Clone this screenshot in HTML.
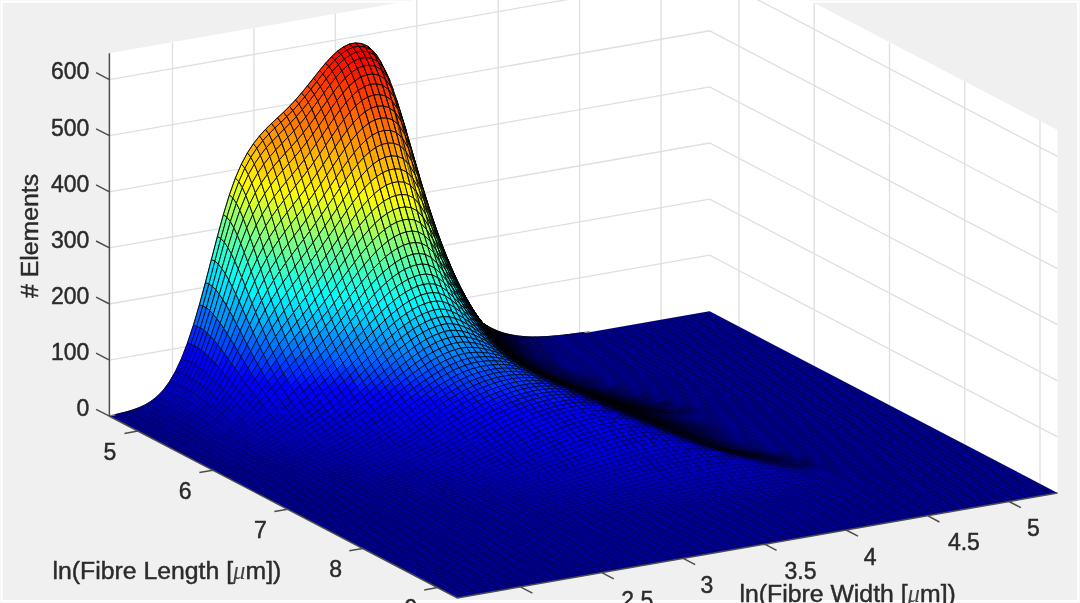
<!DOCTYPE html>
<html><head><meta charset="utf-8"><title>Fibre distribution</title>
<style>html,body{margin:0;padding:0;background:#f0f0f0}svg{display:block}</style></head>
<body>
<svg width="1080" height="603" viewBox="0 0 1080 603">
<rect width="1080" height="603" fill="#f6f6f6"/>
<rect x="0.8" y="0.8" width="1078.4" height="601.4" fill="#fff"/>
<rect x="2.7" y="2.7" width="1074.2" height="597.4" fill="#f0f0f0"/>
<polygon points="109.4,416.2 709.6,311.3 1057.5,493.0 1057.5,130.0 709.6,-51.7 109.4,53.2" fill="#fff"/>
<polygon points="109.4,416.2 709.6,311.3 1057.5,493.0 457.3,597.9" fill="#fff"/>
<path d="M109.4 360.1 L709.6 255.2 L1057.5 436.9 M109.4 304.0 L709.6 199.1 L1057.5 380.8 M109.4 247.9 L709.6 143.0 L1057.5 324.7 M109.4 191.8 L709.6 86.9 L1057.5 268.6 M109.4 135.7 L709.6 30.8 L1057.5 212.5 M109.4 79.6 L709.6 -25.3 L1057.5 156.4 M172.5 405.2 L172.5 42.2 M253.9 390.9 L253.9 28.0 M335.3 376.7 L335.3 13.7 M416.8 362.5 L416.8 -0.5 M498.2 348.3 L498.2 -14.7 M579.6 334.0 L579.6 -28.9 M661.0 319.8 L661.0 -43.2 M739.0 326.7 L739.0 -36.3 M814.2 366.0 L814.2 3.0 M889.5 405.3 L889.5 42.3 M964.8 444.6 L964.8 81.6 M1040.0 483.9 L1040.0 120.9" fill="none" stroke="#dfdfdf" stroke-width="1.3"/>
<defs><pattern id="fl" patternUnits="userSpaceOnUse" width="1" height="1" patternTransform="matrix(6.0020 -1.0490 3.4790 1.8170 109.40 416.20)"><rect width="1" height="1" fill="#000099"/><g fill="#000" fill-opacity="0.31"><rect x="0" y="0" width="1" height="0.1884"/><rect x="0" y="0.8116" width="1" height="0.1884"/><rect x="0" y="0" width="0.1213" height="1"/><rect x="0.8787" y="0" width="0.1213" height="1"/></g></pattern></defs>
<polygon points="109.4,416.2 709.6,311.3 1057.5,493.0 457.3,597.9" fill="url(#fl)" stroke="#000" stroke-opacity="0.17" stroke-width="0.5"/>
<g transform="scale(0.1)" stroke="#000" stroke-width="9" stroke-linejoin="round">
<path fill="#009" stroke="#00006b" d="M1154 4145l60-14 35 18-60 13zm60-14l60-15 35 17-60 16zm60-15l60-19 35 17-60 19zm60-19l60-22 35 16-60 23zm4262-742l60-7 34 19-60 7zm60-7l60-7 34 19-60 7zm60-7l60-8 34 19-60 8zm60-8l60-8 34 18-60 9z"/>
<path fill="#00009e" stroke="#00006e" d="M1394 4075l60-28 35 15-60 29zm4141-715l61-5 34 19-60 5z"/>
<path fill="#0000a3" stroke="#000072" d="M1454 4047l60-37 35 15-60 37z"/>
<path fill="#0000a8" stroke="#000076" d="M1514 4010l60-48 35 14-60 49z"/>
<path fill="#0000ae" stroke="#000079" d="M1574 3962l60-62 35 13-60 63z"/>
<path fill="#0000b8" stroke="#000081" d="M1634 3900l60-82 35 13-60 82z"/>
<path fill="#0000c8" stroke="#000071" d="M1694 3818l60-103 35 12-60 104z"/>
<path fill="#00d" stroke="#000062" d="M1754 3715l60-128 35 11-60 129z"/>
<path fill="#0000f7" stroke="#00006d" d="M1814 3587l60-155 35 11-60 155z"/>
<path fill="#0028ff" stroke="#00093b" d="M1874 3432l60-181 35 11-60 181z"/>
<path fill="#0068ff" stroke="#000f25" d="M1934 3251l60-204 35 12-60 203z"/>
<path fill="#00a7ff" stroke="#000406" d="M1994 3047l60-222 35 15-60 219z"/>
<path fill="#00e7ff" stroke="#000606" d="M2054 2825l60-231 35 18-60 228z"/>
<path fill="#28ffd7" stroke="#010605" d="M2114 2594l60-230 35 21-60 227z"/>
<path fill="#68ff97" stroke="#030604" d="M2174 2364l60-219 35 26-60 214z"/>
<path fill="#a7ff58" stroke="#040602" d="M2234 2145l60-197 35 32-60 191z"/>
<path fill="#e7ff18" stroke="#060601" d="M2294 1948l60-168 35 36-60 164z"/>
<path fill="#fff700" stroke="#060600" d="M2354 1780l60-139 35 41-60 134z"/>
<path fill="#ffd700" stroke="#060500" d="M2414 1641l60-112 35 44-60 109z"/>
<path fill="#ffb700" stroke="#060500" d="M2474 1529l60-92 35 45-60 91z"/>
<path fill="#ffa700" stroke="#060400" d="M2534 1437l61-78 34 47-60 76z"/>
<path fill="#ff9700" stroke="#060400" d="M2595 1359l60-66 34 47-60 66z"/>
<path fill="#ff8700" stroke="#060300" d="M2655 1293l60-59 34 46-60 60z"/>
<path fill="#ff7800" stroke="#060300" d="M2715 1234l60-56 34 45-60 57zm60-56l60-56 34 44-60 57z"/>
<path fill="#ff6800" stroke="#060300" d="M2835 1122l60-59 34 42-60 61zm60-59l60-64 34 40-60 66z"/>
<path fill="#ff5800" stroke="#060200" d="M2955 999l60-69 34 38-60 71z"/>
<path fill="#ff4800" stroke="#060200" d="M3015 930l60-73 34 36-60 75z"/>
<path fill="#ff3800" stroke="#060100" d="M3075 857l60-76 34 35-60 77z"/>
<path fill="#ff2800" stroke="#060100" d="M3135 781l60-76 34 34-60 77zm60-76l60-73 35 33-61 74z"/>
<path fill="#ff1800" stroke="#060100" d="M3255 632l60-65 35 32-60 66z"/>
<path fill="#ff0800" stroke="#060000" d="M3315 567l60-56 35 32-60 56z"/>
<path fill="#f70000" stroke="#060000" d="M3375 511l60-43 35 33-60 42zm60-43l60-28 35 33-60 28zm60-28l60-11 35 34-60 10zm60-11l60 6 35 35-60-7z"/>
<path fill="#e90000" stroke="#060000" d="M3615 435l60 25 35 36-60-26z"/>
<path fill="#5a0000" stroke="#000" d="M3675 460l60 53 35 40-60-57z"/>
<path fill="#00002f" stroke="#000" d="M4815 3222l60 39 35 23-60-38z"/>
<path fill="#00003f" stroke="#000005" d="M4875 3261l60 31 35 23-60-31z"/>
<path fill="#000051" stroke="#00000c" d="M4935 3292l60 25 35 21-60-23z"/>
<path fill="#00005f" stroke="#000016" d="M4995 3317l60 19 35 21-60-19z"/>
<path fill="#00006c" stroke="#000019" d="M5055 3336l60 13 35 21-60-13z"/>
<path fill="#007" stroke="#000027" d="M5115 3349l60 10 35 20-60-9z"/>
<path fill="#00007f" stroke="#000038" d="M5175 3359l60 6 35 20-60-6z"/>
<path fill="#000085" stroke="#00003b" d="M5235 3365l60 4 35 19-60-3z"/>
<path fill="#00008e" stroke="#000050" d="M5295 3369l60 0 35 20-60-1z"/>
<path fill="#000090" stroke="#000065" d="M5355 3369l60-1 35 19-60 2z"/>
<path fill="#000096" stroke="#000069" d="M5415 3368l60-3 35 19-60 3z"/>
<path fill="#00009b" stroke="#00006c" d="M5475 3365l60-5 35 19-60 5z"/>
<path fill="#009" stroke="#00006b" d="M1189 4162l60-13 35 17-60 14zm60-13l60-16 35 17-60 16zm60-16l60-19 35 17-60 19zm60-19l60-23 35 16-60 24zm4081-727l60-3 35 19-60 3zm180-13l60-7 35 19-60 6zm60-7l60-7 35 18-60 8zm60-7l60-8 35 18-60 8zm60-8l60-9 35 19-60 8z"/>
<path fill="#00009e" stroke="#00006e" d="M1429 4091l60-29 35 16-60 29zm4081-707l60-5 35 19-60 5zm60-5l60-5 35 18-60 6z"/>
<path fill="#0000a3" stroke="#000072" d="M1489 4062l60-37 35 15-60 38z"/>
<path fill="#0000a8" stroke="#000076" d="M1549 4025l60-49 35 14-60 50z"/>
<path fill="#0000ae" stroke="#000079" d="M1609 3976l60-63 35 13-60 64z"/>
<path fill="#0000bd" stroke="#000085" d="M1669 3913l60-82 35 12-60 83z"/>
<path fill="#0000c8" stroke="#000071" d="M1729 3831l60-104 35 12-60 104z"/>
<path fill="#00d" stroke="#000062" d="M1789 3727l60-129 35 12-60 129z"/>
<path fill="#0000f7" stroke="#00006d" d="M1849 3598l60-155 35 13-60 154z"/>
<path fill="#0028ff" stroke="#00093b" d="M1909 3443l60-181 35 16-60 178z"/>
<path fill="#0068ff" stroke="#000f25" d="M1969 3262l60-203 35 19-60 200z"/>
<path fill="#00a7ff" stroke="#000406" d="M2029 3059l60-219 35 23-60 215z"/>
<path fill="#00e7ff" stroke="#000606" d="M2089 2840l60-228 35 29-60 222z"/>
<path fill="#28ffd7" stroke="#010605" d="M2149 2612l60-227 35 37-60 219z"/>
<path fill="#68ff97" stroke="#030604" d="M2209 2385l60-214 35 45-60 206z"/>
<path fill="#a7ff58" stroke="#040602" d="M2269 2171l60-191 35 52-60 184z"/>
<path fill="#d7ff28" stroke="#050601" d="M2329 1980l60-164 35 60-60 156z"/>
<path fill="#fff700" stroke="#060600" d="M2389 1816l60-134 35 65-60 129z"/>
<path fill="#ffd700" stroke="#060500" d="M2449 1682l60-109 35 68-60 106z"/>
<path fill="#ffc700" stroke="#060500" d="M2509 1573l60-91 35 71-60 88z"/>
<path fill="#ffa700" stroke="#060400" d="M2569 1482l60-76 35 71-60 76z"/>
<path fill="#ff9700" stroke="#060400" d="M2629 1406l60-66 35 71-60 66zm60-66l60-60 35 70-60 61z"/>
<path fill="#ff8700" stroke="#060300" d="M2749 1280l60-57 35 67-60 60z"/>
<path fill="#ff7800" stroke="#060300" d="M2809 1223l60-57 35 64-60 60zm60-57l60-61 35 61-60 64z"/>
<path fill="#ff6800" stroke="#060300" d="M2929 1105l60-66 35 58-60 69z"/>
<path fill="#ff5800" stroke="#060200" d="M2989 1039l60-71 35 55-60 74z"/>
<path fill="#ff4800" stroke="#060200" d="M3049 968l60-75 35 53-60 77zm60-75l60-77 35 50-60 80z"/>
<path fill="#ff3800" stroke="#060100" d="M3169 816l60-77 35 49-60 78z"/>
<path fill="#ff2800" stroke="#060100" d="M3229 739l61-74 34 48-60 75z"/>
<path fill="#ff1800" stroke="#060100" d="M3290 665l60-66 34 48-60 66z"/>
<path fill="#ff0800" stroke="#060000" d="M3350 599l60-56 34 48-60 56zm60-56l60-42 34 48-60 42z"/>
<path fill="#f70000" stroke="#060000" d="M3470 501l60-28 34 49-60 27zm60-28l60-10 34 49-60 10zm60-10l60 7 34 50-60-8zm60 7l60 26 34 53-60-29z"/>
<path fill="#f80800" stroke="#060000" d="M3710 496l60 57 34 58-60-62z"/>
<path fill="#00002e" stroke="#000" d="M4790 3200l60 46 35 27-60-45z"/>
<path fill="#00003e" stroke="#000002" d="M4850 3246l60 38 35 25-60-36z"/>
<path fill="#00004f" stroke="#000006" d="M4910 3284l60 31 35 24-60-30z"/>
<path fill="#00005d" stroke="#00000e" d="M4970 3315l60 23 35 24-60-23z"/>
<path fill="#00006b" stroke="#000019" d="M5030 3338l60 19 35 22-60-17z"/>
<path fill="#007" stroke="#000027" d="M5090 3357l60 13 35 22-60-13z"/>
<path fill="#000080" stroke="#000038" d="M5150 3370l60 9 35 21-60-8z"/>
<path fill="#000087" stroke="#00003b" d="M5210 3379l60 6 35 21-60-6z"/>
<path fill="#00008b" stroke="#00004f" d="M5270 3385l60 3 35 20-60-2z"/>
<path fill="#000093" stroke="#000053" d="M5330 3388l60 1 35 19-60 0z"/>
<path fill="#000094" stroke="#000068" d="M5390 3389l60-2 35 19-60 2z"/>
<path fill="#009" stroke="#00006b" d="M1224 4180l60-14 34 17-60 14zm60-14l60-16 34 17-60 16zm60-16l60-19 34 16-60 20zm4261-752l60-6 35 19-60 6zm60-6l60-6 35 18-60 7zm60-6l60-8 35 19-60 7zm60-8l60-8 35 19-60 8zm60-8l60-8 35 18-60 9z"/>
<path fill="#00009e" stroke="#00006e" d="M1404 4131l60-24 34 16-60 24zm60-24l60-29 34 16-60 29zm4081-704l60-5 35 19-60 5z"/>
<path fill="#0000a3" stroke="#000072" d="M1524 4078l60-38 35 15-61 39z"/>
<path fill="#0000a8" stroke="#000076" d="M1584 4040l60-50 35 15-60 50z"/>
<path fill="#0000b3" stroke="#00007d" d="M1644 3990l60-64 35 15-60 64z"/>
<path fill="#0000bd" stroke="#000085" d="M1704 3926l60-83 35 15-60 83z"/>
<path fill="#0000cd" stroke="#000074" d="M1764 3843l60-104 35 15-60 104z"/>
<path fill="#00d" stroke="#000062" d="M1824 3739l60-129 35 17-60 127z"/>
<path fill="#0000f7" stroke="#00006d" d="M1884 3610l60-154 35 19-60 152z"/>
<path fill="#0028ff" stroke="#00093b" d="M1944 3456l60-178 35 23-60 174z"/>
<path fill="#0068ff" stroke="#000f25" d="M2004 3278l60-200 35 28-60 195z"/>
<path fill="#00a7ff" stroke="#000406" d="M2064 3078l60-215 35 35-60 208z"/>
<path fill="#00e7ff" stroke="#000606" d="M2124 2863l60-222 35 44-60 213z"/>
<path fill="#28ffd7" stroke="#010605" d="M2184 2641l60-219 35 53-60 210z"/>
<path fill="#68ff97" stroke="#030604" d="M2244 2422l60-206 35 62-60 197z"/>
<path fill="#97ff68" stroke="#040603" d="M2304 2216l60-184 35 71-60 175z"/>
<path fill="#d7ff28" stroke="#050601" d="M2364 2032l60-156 35 79-60 148z"/>
<path fill="#fff700" stroke="#060600" d="M2424 1876l60-129 35 84-60 124z"/>
<path fill="#ffe700" stroke="#060600" d="M2484 1747l60-106 35 88-60 102z"/>
<path fill="#ffc700" stroke="#060500" d="M2544 1641l60-88 35 89-60 87z"/>
<path fill="#ffb700" stroke="#060500" d="M2604 1553l60-76 35 89-60 76z"/>
<path fill="#ffa700" stroke="#060400" d="M2664 1477l60-66 35 87-60 68z"/>
<path fill="#ff9700" stroke="#060400" d="M2724 1411l60-61 35 85-60 63zm60-61l60-60 35 83-60 62z"/>
<path fill="#ff8700" stroke="#060300" d="M2844 1290l60-60 35 79-60 64z"/>
<path fill="#ff7800" stroke="#060300" d="M2904 1230l60-64 35 75-60 68zm60-64l60-69 35 72-60 72z"/>
<path fill="#ff6800" stroke="#060300" d="M3024 1097l60-74 35 69-60 77z"/>
<path fill="#ff5800" stroke="#060200" d="M3084 1023l60-77 35 66-60 80z"/>
<path fill="#ff4800" stroke="#060200" d="M3144 946l60-80 35 64-60 82z"/>
<path fill="#ff3800" stroke="#060100" d="M3204 866l60-78 35 62-60 80z"/>
<path fill="#ff2800" stroke="#060100" d="M3264 788l60-75 35 62-60 75z"/>
<path fill="#ff1800" stroke="#060100" d="M3324 713l60-66 35 61-60 67zm60-66l60-56 35 61-60 56z"/>
<path fill="#ff0800" stroke="#060000" d="M3444 591l60-42 35 62-60 41zm60-42l60-27 35 63-60 26zm180-29l60 29 35 68-60-31zm60 29l60 62 35 73-60-67z"/>
<path fill="#f70000" stroke="#060000" d="M3564 522l60-10 35 64-60 9zm60-10l60 8 35 66-60-10z"/>
<path fill="#680a00" stroke="#000" d="M3804 611l60 115 35 81-60-123z"/>
<path fill="#000038" stroke="#000001" d="M4825 3228l60 45 35 27-60-43z"/>
<path fill="#000049" stroke="#000006" d="M4885 3273l60 36 35 26-60-35z"/>
<path fill="#000058" stroke="#00000d" d="M4945 3309l60 30 35 24-60-28z"/>
<path fill="#000065" stroke="#000017" d="M5005 3339l60 23 35 23-60-22z"/>
<path fill="#000072" stroke="#000026" d="M5065 3362l60 17 35 23-60-17z"/>
<path fill="#00007d" stroke="#000029" d="M5125 3379l60 13 35 21-60-11z"/>
<path fill="#000085" stroke="#00003b" d="M5185 3392l60 8 35 22-60-9z"/>
<path fill="#00008b" stroke="#00004e" d="M5245 3400l60 6 35 20-60-4z"/>
<path fill="#00008f" stroke="#000051" d="M5305 3406l60 2 35 20-60-2z"/>
<path fill="#000096" stroke="#000069" d="M5365 3408l60 0 35 20-60 0z"/>
<path fill="#000097" stroke="#000069" d="M5425 3408l60-2 35 20-60 2z"/>
<path fill="#00009b" stroke="#00006d" d="M5485 3406l60-3 35 19-60 4z"/>
<path fill="#009" stroke="#00006b" d="M1198 4210l60-13 35 18-60 12zm60-13l60-14 35 17-60 15zm60-14l60-16 35 17-60 16zm60-16l60-20 35 17-60 20zm4262-750l60-6 35 19-60 6zm60-6l60-7 35 19-60 7zm60-7l60-7 35 18-60 8zm60-7l60-8 35 18-60 8zm60-8l60-9 35 18-60 9z"/>
<path fill="#00009e" stroke="#00006e" d="M1438 4147l60-24 35 17-60 24zm60-24l60-29 35 16-60 30zm4082-701l60-5 35 19-60 6z"/>
<path fill="#0000a3" stroke="#000072" d="M1558 4094l61-39 34 16-60 39z"/>
<path fill="#0000a8" stroke="#000076" d="M1619 4055l60-50 34 16-60 50z"/>
<path fill="#0000b3" stroke="#00007d" d="M1679 4005l60-64 34 16-60 64z"/>
<path fill="#0000bd" stroke="#000085" d="M1739 3941l60-83 34 17-60 82z"/>
<path fill="#0000cd" stroke="#000074" d="M1799 3858l60-104 34 18-60 103z"/>
<path fill="#0000e2" stroke="#000064" d="M1859 3754l60-127 34 21-60 124z"/>
<path fill="#0000f7" stroke="#00006d" d="M1919 3627l60-152 34 25-60 148z"/>
<path fill="#0028ff" stroke="#00093b" d="M1979 3475l60-174 34 29-60 170z"/>
<path fill="#0068ff" stroke="#000f25" d="M2039 3301l60-195 34 37-60 187z"/>
<path fill="#00a7ff" stroke="#000406" d="M2099 3106l60-208 34 45-60 200z"/>
<path fill="#00e7ff" stroke="#000606" d="M2159 2898l60-213 35 53-61 205z"/>
<path fill="#28ffd7" stroke="#010605" d="M2219 2685l60-210 35 64-60 199z"/>
<path fill="#58ffa7" stroke="#020604" d="M2279 2475l60-197 35 74-60 187z"/>
<path fill="#87ff78" stroke="#030603" d="M2339 2278l60-175 35 84-60 165z"/>
<path fill="#c7ff38" stroke="#050601" d="M2399 2103l60-148 35 91-60 141z"/>
<path fill="#e7ff18" stroke="#060601" d="M2459 1955l60-124 35 97-60 118z"/>
<path fill="#fff700" stroke="#060600" d="M2519 1831l60-102 35 100-60 99z"/>
<path fill="#ffd700" stroke="#060500" d="M2579 1729l60-87 35 101-60 86z"/>
<path fill="#ffc700" stroke="#060500" d="M2639 1642l60-76 35 101-60 76z"/>
<path fill="#ffb700" stroke="#060500" d="M2699 1566l60-68 35 100-60 69z"/>
<path fill="#ffa700" stroke="#060400" d="M2759 1498l60-63 35 97-60 66zm60-63l60-62 35 93-60 66z"/>
<path fill="#ff9700" stroke="#060400" d="M2879 1373l60-64 35 90-60 67z"/>
<path fill="#ff8700" stroke="#060300" d="M2939 1309l60-68 35 86-60 72z"/>
<path fill="#ff7800" stroke="#060300" d="M2999 1241l60-72 35 82-60 76z"/>
<path fill="#ff6800" stroke="#060300" d="M3059 1169l60-77 35 79-60 80zm60-77l60-80 35 76-60 83z"/>
<path fill="#ff5800" stroke="#060200" d="M3179 1012l60-82 35 75-60 83z"/>
<path fill="#ff4800" stroke="#060200" d="M3239 930l60-80 35 73-60 82z"/>
<path fill="#ff3800" stroke="#060100" d="M3299 850l60-75 35 73-60 75z"/>
<path fill="#ff2800" stroke="#060100" d="M3359 775l60-67 35 73-60 67z"/>
<path fill="#ff1800" stroke="#060100" d="M3419 708l60-56 35 74-60 55zm60-56l60-41 35 74-60 41zm300-35l60 67 35 86-60-73z"/>
<path fill="#ff0800" stroke="#060000" d="M3539 611l60-26 35 75-60 25zm60-26l60-9 35 77-60 7zm60-9l60 10 35 78-60-11zm60 10l60 31 35 80-60-33z"/>
<path fill="#be1e00" stroke="#050100" d="M3839 684l60 123 35 94-60-131z"/>
<path fill="#000032" stroke="#000" d="M4800 3204l60 53 34 30-60-51z"/>
<path fill="#000040" stroke="#000002" d="M4860 3257l60 43 34 28-60-41z"/>
<path fill="#000050" stroke="#000006" d="M4920 3300l60 35 34 27-60-34z"/>
<path fill="#00005e" stroke="#00000e" d="M4980 3335l60 28 34 25-60-26z"/>
<path fill="#00006c" stroke="#000019" d="M5040 3363l60 22 34 24-60-21z"/>
<path fill="#000078" stroke="#000028" d="M5100 3385l60 17 34 22-60-15z"/>
<path fill="#00007e" stroke="#000038" d="M5160 3402l60 11 34 23-60-12z"/>
<path fill="#000089" stroke="#00003c" d="M5220 3413l60 9 35 21-61-7z"/>
<path fill="#00008e" stroke="#000050" d="M5280 3422l60 4 35 21-60-4z"/>
<path fill="#000091" stroke="#000052" d="M5340 3426l60 2 35 21-60-2z"/>
<path fill="#000098" stroke="#00006a" d="M5400 3428l60 0 35 20-60 1z"/>
<path fill="#000098" stroke="#00006b" d="M5460 3428l60-2 35 20-60 2z"/>
<path fill="#00009d" stroke="#00006e" d="M5520 3426l60-4 35 20-60 4z"/>
<path fill="#009" stroke="#00006b" d="M1233 4227l60-12 35 17-60 13zm60-12l60-15 35 17-60 15zm60-15l60-16 35 17-60 16zm60-16l60-20 35 17-60 20zm4262-748l60-6 34 19-60 7zm60-6l60-7 34 19-60 7zm60-7l60-8 34 19-60 8zm60-8l60-8 35 19-61 8zm60-8l60-9 35 19-60 9z"/>
<path fill="#00009e" stroke="#00006e" d="M1473 4164l60-24 35 16-60 25zm60-24l60-30 35 16-60 30zm4022-694l60-4 34 19-60 4zm60-4l60-6 34 20-60 5z"/>
<path fill="#0000a3" stroke="#000072" d="M1593 4110l60-39 35 16-60 39z"/>
<path fill="#0000a8" stroke="#000076" d="M1653 4071l60-50 35 17-60 49z"/>
<path fill="#0000b3" stroke="#00007d" d="M1713 4021l60-64 35 17-60 64z"/>
<path fill="#0000bd" stroke="#000085" d="M1773 3957l60-82 35 18-60 81z"/>
<path fill="#0000cd" stroke="#000074" d="M1833 3875l60-103 35 21-60 100z"/>
<path fill="#0000e2" stroke="#000064" d="M1893 3772l60-124 35 24-60 121z"/>
<path fill="#0000f7" stroke="#00006d" d="M1953 3648l60-148 35 28-60 144z"/>
<path fill="#0028ff" stroke="#00093b" d="M2013 3500l60-170 35 35-60 163z"/>
<path fill="#0068ff" stroke="#000f25" d="M2073 3330l60-187 35 42-60 180z"/>
<path fill="#00a7ff" stroke="#000406" d="M2133 3143l60-200 35 51-60 191z"/>
<path fill="#00e7ff" stroke="#000606" d="M2193 2943l61-205 34 62-60 194z"/>
<path fill="#18ffe7" stroke="#010606" d="M2254 2738l60-199 34 72-60 189z"/>
<path fill="#48ffb7" stroke="#020605" d="M2314 2539l60-187 34 83-60 176z"/>
<path fill="#78ff87" stroke="#030603" d="M2374 2352l60-165 34 92-60 156z"/>
<path fill="#a7ff58" stroke="#040602" d="M2434 2187l60-141 34 100-60 133z"/>
<path fill="#d7ff28" stroke="#050601" d="M2494 2046l60-118 34 105-60 113z"/>
<path fill="#f7ff08" stroke="#060600" d="M2554 1928l60-99 34 108-60 96z"/>
<path fill="#fff700" stroke="#060600" d="M2614 1829l60-86 34 109-60 85z"/>
<path fill="#ffd700" stroke="#060500" d="M2674 1743l60-76 34 108-60 77z"/>
<path fill="#ffc700" stroke="#060500" d="M2734 1667l60-69 34 106-60 71zm60-69l60-66 34 104-60 68z"/>
<path fill="#ffb700" stroke="#060500" d="M2854 1532l60-66 35 101-61 69z"/>
<path fill="#ffa700" stroke="#060400" d="M2914 1466l60-67 35 97-60 71z"/>
<path fill="#ff9700" stroke="#060400" d="M2974 1399l60-72 35 93-60 76z"/>
<path fill="#ff8700" stroke="#060300" d="M3034 1327l60-76 35 90-60 79z"/>
<path fill="#ff7800" stroke="#060300" d="M3094 1251l60-80 35 87-60 83z"/>
<path fill="#ff6800" stroke="#060300" d="M3154 1171l60-83 35 85-60 85z"/>
<path fill="#ff5800" stroke="#060200" d="M3214 1088l60-83 35 83-60 85z"/>
<path fill="#ff4800" stroke="#060200" d="M3274 1005l60-82 35 83-60 82zm60-82l60-75 35 83-60 75z"/>
<path fill="#ff3800" stroke="#060100" d="M3394 848l60-67 35 83-60 67zm480-78l60 131 35 105-60-138z"/>
<path fill="#ff2800" stroke="#060100" d="M3454 781l60-55 35 84-60 54zm360-84l60 73 35 98-60-78z"/>
<path fill="#ff1800" stroke="#060100" d="M3514 726l60-41 35 86-60 39zm60-41l60-25 35 87-60 24zm60-25l60-7 35 88-60 6zm60-7l60 11 35 89-60-12zm60 11l60 33 35 93-60-37z"/>
<path fill="#00003a" stroke="#000001" d="M4834 3236l60 51 35 30-60-48z"/>
<path fill="#00004a" stroke="#000006" d="M4894 3287l60 41 35 28-60-39z"/>
<path fill="#000059" stroke="#00000d" d="M4954 3328l60 34 35 26-60-32z"/>
<path fill="#006" stroke="#000017" d="M5014 3362l60 26 35 25-60-25z"/>
<path fill="#000073" stroke="#00001b" d="M5074 3388l60 21 35 24-60-20z"/>
<path fill="#00007a" stroke="#000028" d="M5134 3409l60 15 35 23-60-14z"/>
<path fill="#000082" stroke="#00003a" d="M5194 3424l60 12 35 22-60-11z"/>
<path fill="#000089" stroke="#00003c" d="M5254 3436l61 7 34 21-60-6z"/>
<path fill="#000091" stroke="#000052" d="M5315 3443l60 4 34 21-60-4z"/>
<path fill="#000094" stroke="#000054" d="M5375 3447l60 2 34 20-60-1z"/>
<path fill="#00009a" stroke="#00006c" d="M5435 3449l60-1 34 20-60 1zm60-1l60-2 34 19-60 3z"/>
<path fill="#009" stroke="#00006b" d="M1268 4245l60-13 35 17-60 13zm60-13l60-15 35 18-60 14zm60-15l60-16 35 17-60 17zm60-16l60-20 35 17-60 20zm4261-745l60-7 35 19-60 7zm60-7l60-7 35 19-60 7zm60-7l60-8 35 19-60 8zm60-8l61-8 34 18-60 9z"/>
<path fill="#00009e" stroke="#00006e" d="M1508 4181l60-25 35 17-60 25zm60-25l60-30 35 17-60 30zm4021-691l60-4 35 19-60 5zm60-4l60-5 35 19-60 5z"/>
<path fill="#0000a3" stroke="#000072" d="M1628 4126l60-39 35 17-60 39z"/>
<path fill="#0000a8" stroke="#000076" d="M1688 4087l60-49 35 17-60 49z"/>
<path fill="#0000b3" stroke="#00007d" d="M1748 4038l60-64 35 18-60 63z"/>
<path fill="#0000bd" stroke="#000085" d="M1808 3974l60-81 35 20-60 79z"/>
<path fill="#0000cd" stroke="#000074" d="M1868 3893l60-100 35 23-60 97z"/>
<path fill="#00d" stroke="#000062" d="M1928 3793l60-121 35 26-60 118z"/>
<path fill="#0000f7" stroke="#00006d" d="M1988 3672l60-144 35 32-60 138z"/>
<path fill="#0028ff" stroke="#00093b" d="M2048 3528l60-163 35 39-60 156z"/>
<path fill="#0058ff" stroke="#000d25" d="M2108 3365l60-180 35 47-60 172z"/>
<path fill="#0097ff" stroke="#000c13" d="M2168 3185l60-191 35 57-60 181z"/>
<path fill="#00d7ff" stroke="#000506" d="M2228 2994l60-194 35 68-60 183z"/>
<path fill="#08fff7" stroke="#000606" d="M2288 2800l60-189 35 79-60 178z"/>
<path fill="#38ffc7" stroke="#010605" d="M2348 2611l60-176 35 90-60 165z"/>
<path fill="#68ff97" stroke="#030604" d="M2408 2435l60-156 35 99-60 147z"/>
<path fill="#97ff68" stroke="#040603" d="M2468 2279l60-133 35 106-60 126z"/>
<path fill="#b7ff48" stroke="#050602" d="M2528 2146l60-113 35 111-60 108z"/>
<path fill="#d7ff28" stroke="#050601" d="M2588 2033l60-96 35 113-60 94z"/>
<path fill="#f7ff08" stroke="#060600" d="M2648 1937l60-85 35 114-60 84z"/>
<path fill="#fff700" stroke="#060600" d="M2708 1852l60-77 35 114-60 77z"/>
<path fill="#ffe700" stroke="#060600" d="M2768 1775l60-71 35 112-60 73z"/>
<path fill="#ffd700" stroke="#060500" d="M2828 1704l60-68 35 109-60 71z"/>
<path fill="#ffc700" stroke="#060500" d="M2888 1636l61-69 34 106-60 72z"/>
<path fill="#ffb700" stroke="#060500" d="M2949 1567l60-71 34 102-60 75z"/>
<path fill="#ffa700" stroke="#060400" d="M3009 1496l60-76 34 100-60 78z"/>
<path fill="#ff9700" stroke="#060400" d="M3069 1420l60-79 34 97-60 82z"/>
<path fill="#ff8700" stroke="#060300" d="M3129 1341l60-83 34 94-60 86z"/>
<path fill="#ff7800" stroke="#060300" d="M3189 1258l60-85 34 93-60 86z"/>
<path fill="#ff6800" stroke="#060300" d="M3249 1173l60-85 34 92-60 86z"/>
<path fill="#ff5800" stroke="#060200" d="M3309 1088l60-82 34 92-60 82z"/>
<path fill="#ff4800" stroke="#060200" d="M3369 1006l60-75 34 92-60 75zm60-75l60-67 34 93-60 66zm480-63l60 138 35 114-60-143z"/>
<path fill="#ff3800" stroke="#060100" d="M3489 864l60-54 35 94-61 53zm360-74l60 78 35 109-60-84z"/>
<path fill="#ff2800" stroke="#060100" d="M3549 810l60-39 35 95-60 38zm60-39l60-24 35 97-60 22zm60-24l60-6 35 98-60 5zm60-6l60 12 35 100-60-14zm60 12l60 37 35 103-60-40z"/>
<path fill="#401a00" stroke="#000" d="M3969 1006l60 192 35 114-60-192z"/>
<path fill="#000035" stroke="#000" d="M4809 3211l60 58 35 33-60-56z"/>
<path fill="#000043" stroke="#000002" d="M4869 3269l60 48 35 30-60-45z"/>
<path fill="#000051" stroke="#000006" d="M4929 3317l60 39 35 29-60-38z"/>
<path fill="#00005f" stroke="#00000e" d="M4989 3356l60 32 35 27-60-30z"/>
<path fill="#00006d" stroke="#000019" d="M5049 3388l60 25 35 26-60-24z"/>
<path fill="#000075" stroke="#000027" d="M5109 3413l60 20 35 24-60-18z"/>
<path fill="#00007f" stroke="#00002a" d="M5169 3433l60 14 35 23-60-13z"/>
<path fill="#000086" stroke="#00003b" d="M5229 3447l60 11 35 22-60-10z"/>
<path fill="#00008c" stroke="#00004f" d="M5289 3458l60 6 35 22-60-6z"/>
<path fill="#000094" stroke="#000054" d="M5349 3464l60 4 35 21-60-3z"/>
<path fill="#000096" stroke="#000069" d="M5409 3468l60 1 35 20-60 0z"/>
<path fill="#00009c" stroke="#00006d" d="M5469 3469l60-1 35 20-60 1zm60-1l60-3 35 20-60 3z"/>
<path fill="#009" stroke="#00006b" d="M1303 4262l60-13 35 18-60 13zm60-13l60-14 35 17-60 15zm60-14l60-17 35 17-60 17zm60-17l60-20 35 17-60 20zm4021-729l60-1 35 20-60 2zm240-14l60-7 35 19-60 7zm60-7l60-7 35 19-60 7zm60-7l60-8 35 18-60 9zm60-8l60-9 35 19-60 8z"/>
<path fill="#00009e" stroke="#00006e" d="M1543 4198l60-25 35 17-60 25zm60-25l60-30 35 17-60 30zm4021-688l60-5 35 20-60 4zm60-5l60-5 35 19-60 6z"/>
<path fill="#0000a3" stroke="#000072" d="M1663 4143l60-39 35 18-60 38z"/>
<path fill="#0000a8" stroke="#000076" d="M1723 4104l60-49 35 18-60 49z"/>
<path fill="#0000b3" stroke="#00007d" d="M1783 4055l60-63 35 20-60 61z"/>
<path fill="#0000bd" stroke="#000085" d="M1843 3992l60-79 35 22-60 77z"/>
<path fill="#0000cd" stroke="#000074" d="M1903 3913l60-97 35 25-60 94z"/>
<path fill="#00d" stroke="#000062" d="M1963 3816l60-118 35 29-60 114z"/>
<path fill="#0000f7" stroke="#00006d" d="M2023 3698l60-138 35 35-60 132z"/>
<path fill="#0018ff" stroke="#000854" d="M2083 3560l60-156 35 42-60 149z"/>
<path fill="#0058ff" stroke="#000d25" d="M2143 3404l60-172 35 52-60 162z"/>
<path fill="#0097ff" stroke="#000c13" d="M2203 3232l60-181 35 62-60 171z"/>
<path fill="#00c7ff" stroke="#000506" d="M2263 3051l60-183 35 72-60 173z"/>
<path fill="#08fff7" stroke="#000606" d="M2323 2868l60-178 35 83-60 167z"/>
<path fill="#28ffd7" stroke="#010605" d="M2383 2690l60-165 35 93-60 155z"/>
<path fill="#58ffa7" stroke="#020604" d="M2443 2525l60-147 35 103-60 137z"/>
<path fill="#78ff87" stroke="#030603" d="M2503 2378l60-126 35 110-60 119z"/>
<path fill="#97ff68" stroke="#040603" d="M2563 2252l60-108 35 114-60 104z"/>
<path fill="#b7ff48" stroke="#050602" d="M2623 2144l60-94 35 116-60 92z"/>
<path fill="#d7ff28" stroke="#050601" d="M2683 2050l60-84 35 117-60 83z"/>
<path fill="#f7ff08" stroke="#060600" d="M2743 1966l60-77 35 116-60 78z"/>
<path fill="#fff700" stroke="#060600" d="M2803 1889l60-73 35 115-60 74z"/>
<path fill="#ffe700" stroke="#060600" d="M2863 1816l60-71 35 112-60 74z"/>
<path fill="#ffd700" stroke="#060500" d="M2923 1745l60-72 35 109-60 75z"/>
<path fill="#ffc700" stroke="#060500" d="M2983 1673l60-75 35 107-60 77zm60-75l60-78 35 103-60 82z"/>
<path fill="#ffb700" stroke="#060500" d="M3103 1520l60-82 35 101-60 84z"/>
<path fill="#ff9700" stroke="#060400" d="M3163 1438l60-86 35 100-60 87z"/>
<path fill="#ff8700" stroke="#060300" d="M3223 1352l60-86 35 98-60 88z"/>
<path fill="#ff7800" stroke="#060300" d="M3283 1266l60-86 35 98-60 86z"/>
<path fill="#ff6800" stroke="#060300" d="M3343 1180l60-82 35 99-60 81z"/>
<path fill="#ff5800" stroke="#060200" d="M3403 1098l60-75 35 100-60 74zm541-121l60 143 34 121-60-147z"/>
<path fill="#ff4800" stroke="#060200" d="M3463 1023l60-66 35 101-60 65zm60-66l61-53 34 103-60 51zm361-64l60 84 34 117-60-89z"/>
<path fill="#ff3800" stroke="#060100" d="M3584 904l60-38 34 104-60 37zm60-38l60-22 34 106-60 20zm60-22l60-5 34 107-60 4zm60-5l60 14 34 109-60-16zm60 14l60 40 34 112-60-43z"/>
<path fill="#763700" stroke="#030100" d="M4004 1120l60 192 34 120-60-191z"/>
<path fill="#003" stroke="#000" d="M4784 3181l60 65 35 36-60-62z"/>
<path fill="#00003e" stroke="#000002" d="M4844 3246l60 56 35 32-60-52z"/>
<path fill="#00004b" stroke="#000006" d="M4904 3302l60 45 35 31-60-44z"/>
<path fill="#00005a" stroke="#00000d" d="M4964 3347l60 38 35 28-60-35z"/>
<path fill="#006" stroke="#00000f" d="M5024 3385l60 30 35 27-60-29z"/>
<path fill="#000070" stroke="#00001a" d="M5084 3415l60 24 35 25-60-22z"/>
<path fill="#00007b" stroke="#000028" d="M5144 3439l60 18 35 24-60-17z"/>
<path fill="#000083" stroke="#00003a" d="M5204 3457l60 13 35 23-60-12z"/>
<path fill="#00008a" stroke="#00003d" d="M5264 3470l60 10 35 22-60-9z"/>
<path fill="#00008f" stroke="#000051" d="M5324 3480l60 6 35 21-60-5z"/>
<path fill="#000092" stroke="#000052" d="M5384 3486l60 3 35 21-60-3z"/>
<path fill="#000098" stroke="#00006b" d="M5444 3489l60 0 35 21-60 0z"/>
<path fill="#00009d" stroke="#00006e" d="M5564 3488l60-3 35 19-60 4z"/>
<path fill="#009" stroke="#00006b" d="M1338 4280l60-13 34 17-60 14zm60-13l60-15 34 17-60 15zm60-15l60-17 34 17-60 17zm60-17l60-20 34 17-60 20zm4201-735l60-6 35 19-60 6zm60-6l60-7 35 19-60 7zm60-7l60-7 35 18-60 8zm60-7l60-9 35 19-60 8zm60-9l60-8 35 18-60 9z"/>
<path fill="#00009e" stroke="#00006e" d="M1578 4215l60-25 34 18-60 24zm60-25l60-30 34 18-60 30zm3961-682l60-4 35 20-60 4zm60-4l60-4 35 19-60 5z"/>
<path fill="#0000a3" stroke="#000072" d="M1698 4160l60-38 34 18-60 38z"/>
<path fill="#0000a8" stroke="#000076" d="M1758 4122l60-49 34 19-60 48z"/>
<path fill="#0000b3" stroke="#00007d" d="M1818 4073l60-61 34 20-60 60z"/>
<path fill="#0000bd" stroke="#000085" d="M1878 4012l60-77 35 23-61 74z"/>
<path fill="#0000cd" stroke="#000074" d="M1938 3935l60-94 35 26-60 91z"/>
<path fill="#00d" stroke="#000062" d="M1998 3841l60-114 35 31-60 109z"/>
<path fill="#0000f2" stroke="#00006b" d="M2058 3727l60-132 35 38-60 125z"/>
<path fill="#0018ff" stroke="#000854" d="M2118 3595l60-149 35 45-60 142z"/>
<path fill="#0048ff" stroke="#00113b" d="M2178 3446l60-162 35 54-60 153z"/>
<path fill="#0087ff" stroke="#000a13" d="M2238 3284l60-171 35 64-60 161z"/>
<path fill="#00b7ff" stroke="#000506" d="M2298 3113l60-173 35 75-60 162z"/>
<path fill="#00e7ff" stroke="#000606" d="M2358 2940l60-167 35 86-60 156z"/>
<path fill="#18ffe7" stroke="#010606" d="M2418 2773l60-155 35 97-60 144z"/>
<path fill="#48ffb7" stroke="#020605" d="M2478 2618l60-137 35 105-60 129z"/>
<path fill="#68ff97" stroke="#030604" d="M2538 2481l60-119 35 111-60 113z"/>
<path fill="#87ff78" stroke="#030603" d="M2598 2362l60-104 35 116-60 99z"/>
<path fill="#a7ff58" stroke="#040602" d="M2658 2258l60-92 35 118-60 90z"/>
<path fill="#b7ff48" stroke="#050602" d="M2718 2166l60-83 35 118-60 83z"/>
<path fill="#d7ff28" stroke="#050601" d="M2778 2083l60-78 35 118-60 78z"/>
<path fill="#e7ff18" stroke="#060601" d="M2838 2005l60-74 35 116-60 76z"/>
<path fill="#f7ff08" stroke="#060600" d="M2898 1931l60-74 35 114-60 76z"/>
<path fill="#fff700" stroke="#060600" d="M2958 1857l60-75 35 112-60 77z"/>
<path fill="#ffe700" stroke="#060600" d="M3018 1782l60-77 35 109-60 80z"/>
<path fill="#ffd700" stroke="#060500" d="M3078 1705l60-82 35 107-60 84z"/>
<path fill="#ffc700" stroke="#060500" d="M3138 1623l60-84 35 105-60 86z"/>
<path fill="#ffb700" stroke="#060500" d="M3198 1539l60-87 35 104-60 88z"/>
<path fill="#ffa700" stroke="#060400" d="M3258 1452l60-88 35 104-60 88z"/>
<path fill="#ff8700" stroke="#060300" d="M3318 1364l60-86 35 104-60 86z"/>
<path fill="#ff7800" stroke="#060300" d="M3378 1278l60-81 35 105-60 80z"/>
<path fill="#ff6800" stroke="#060300" d="M3438 1197l60-74 35 106-60 73zm60-74l60-65 35 108-60 63zm480-29l60 147 35 127-60-149z"/>
<path fill="#ff5800" stroke="#060200" d="M3558 1058l60-51 35 110-60 49zm360-53l60 89 35 125-60-95z"/>
<path fill="#ff4800" stroke="#060200" d="M3618 1007l60-37 35 112-60 35zm60-37l60-20 35 113-60 19zm60-20l60-4 35 115-60 2zm60-4l60 16 35 116-60-17zm60 16l60 43 35 119-60-46z"/>
<path fill="#b35f00" stroke="#050200" d="M4038 1241l60 191 35 124-60-188z"/>
<path fill="#332500" stroke="#000" d="M4098 1432l60 210 35 116-60-202z"/>
<path fill="#000039" stroke="#000" d="M4819 3220l60 62 35 35-61-59z"/>
<path fill="#000046" stroke="#000002" d="M4879 3282l60 52 35 33-60-50z"/>
<path fill="#000054" stroke="#000006" d="M4939 3334l60 44 35 30-60-41z"/>
<path fill="#000062" stroke="#00000e" d="M4999 3378l60 35 35 28-60-33z"/>
<path fill="#00006d" stroke="#000019" d="M5059 3413l60 29 35 26-60-27z"/>
<path fill="#000076" stroke="#00001b" d="M5119 3442l60 22 35 25-60-21z"/>
<path fill="#00007f" stroke="#00002a" d="M5179 3464l60 17 35 24-60-16z"/>
<path fill="#000087" stroke="#00003c" d="M5239 3481l60 12 35 23-60-11z"/>
<path fill="#00008d" stroke="#00003e" d="M5299 3493l60 9 35 22-60-8z"/>
<path fill="#000091" stroke="#000052" d="M5359 3502l60 5 35 22-60-5z"/>
<path fill="#000094" stroke="#000054" d="M5419 3507l60 3 35 21-60-2z"/>
<path fill="#00009a" stroke="#00006c" d="M5479 3510l60 0 35 20-60 1zm60 0l60-2 35 20-60 2z"/>
<path fill="#009" stroke="#00006b" d="M1372 4298l60-14 35 18-60 13zm60-14l60-15 35 18-60 15zm60-15l60-17 35 18-60 17zm60-17l60-20 35 17-60 21zm4202-733l60-6 35 19-60 6zm60-6l60-7 35 19-60 7zm60-7l60-8 35 19-60 8zm60-8l60-8 35 19-60 8zm60-8l60-9 35 19-60 9z"/>
<path fill="#00009e" stroke="#00006e" d="M1612 4232l60-24 35 17-60 24zm60-24l60-30 35 17-60 30zm3962-680l60-4 35 20-60 4zm60-4l60-5 35 19-60 6z"/>
<path fill="#0000a3" stroke="#000072" d="M1732 4178l60-38 35 18-60 37z"/>
<path fill="#0000a8" stroke="#000076" d="M1792 4140l60-48 35 20-60 46z"/>
<path fill="#0000b3" stroke="#00007d" d="M1852 4092l60-60 35 22-60 58z"/>
<path fill="#0000bd" stroke="#000085" d="M1912 4032l61-74 34 24-60 72z"/>
<path fill="#0000c8" stroke="#000071" d="M1973 3958l60-91 34 27-60 88z"/>
<path fill="#00d" stroke="#000062" d="M2033 3867l60-109 34 33-60 103z"/>
<path fill="#0000f2" stroke="#00006b" d="M2093 3758l60-125 34 38-60 120z"/>
<path fill="#0018ff" stroke="#000854" d="M2153 3633l60-142 34 47-60 133z"/>
<path fill="#0048ff" stroke="#00113b" d="M2213 3491l60-153 34 56-60 144z"/>
<path fill="#0078ff" stroke="#001125" d="M2273 3338l60-161 34 66-60 151z"/>
<path fill="#00a7ff" stroke="#000406" d="M2333 3177l60-162 34 77-60 151z"/>
<path fill="#00d7ff" stroke="#000506" d="M2393 3015l60-156 34 88-60 145z"/>
<path fill="#08fff7" stroke="#000606" d="M2453 2859l60-144 34 97-60 135z"/>
<path fill="#28ffd7" stroke="#010605" d="M2513 2715l60-129 35 105-61 121z"/>
<path fill="#48ffb7" stroke="#020605" d="M2573 2586l60-113 35 111-60 107z"/>
<path fill="#68ff97" stroke="#030604" d="M2633 2473l60-99 35 115-60 95z"/>
<path fill="#87ff78" stroke="#030603" d="M2693 2374l60-90 35 117-60 88z"/>
<path fill="#97ff68" stroke="#040603" d="M2753 2284l60-83 35 118-60 82z"/>
<path fill="#b7ff48" stroke="#050602" d="M2813 2201l60-78 35 118-60 78z"/>
<path fill="#c7ff38" stroke="#050601" d="M2873 2123l60-76 35 117-60 77z"/>
<path fill="#d7ff28" stroke="#050601" d="M2933 2047l60-76 35 115-60 78z"/>
<path fill="#f7ff08" stroke="#060600" d="M2993 1971l60-77 35 113-60 79z"/>
<path fill="#fff700" stroke="#060600" d="M3053 1894l60-80 35 110-60 83z"/>
<path fill="#ffe700" stroke="#060600" d="M3113 1814l60-84 35 109-60 85z"/>
<path fill="#ffd700" stroke="#060500" d="M3173 1730l60-86 35 108-60 87z"/>
<path fill="#ffc700" stroke="#060500" d="M3233 1644l60-88 35 108-60 88z"/>
<path fill="#ffb700" stroke="#060500" d="M3293 1556l60-88 35 108-60 88z"/>
<path fill="#ffa700" stroke="#060400" d="M3353 1468l60-86 35 109-60 85z"/>
<path fill="#ff9700" stroke="#060400" d="M3413 1382l60-80 35 110-60 79z"/>
<path fill="#ff8700" stroke="#060300" d="M3473 1302l60-73 35 111-60 72zm540-83l60 149 35 130-60-150z"/>
<path fill="#ff7800" stroke="#060300" d="M3533 1229l60-63 35 114-60 60z"/>
<path fill="#ff6800" stroke="#060300" d="M3593 1166l60-49 35 115-60 48zm60-49l60-35 35 117-60 33zm240-39l60 46 35 126-60-50zm60 46l60 95 35 129-60-98z"/>
<path fill="#ff5800" stroke="#060200" d="M3713 1082l60-19 35 119-60 17zm60-19l60-2 35 120-60 1zm60-2l60 17 35 122-60-19z"/>
<path fill="#ef9d00" stroke="#060400" d="M4073 1368l60 188 35 125-60-183z"/>
<path fill="#5c4e00" stroke="#000" d="M4133 1556l60 202 35 117-60-194z"/>
<path fill="#000236" stroke="#000" d="M4793 3188l60 70 35 38-60-66z"/>
<path fill="#000041" stroke="#000002" d="M4853 3258l61 59 34 35-60-56z"/>
<path fill="#00004f" stroke="#000006" d="M4914 3317l60 50 34 32-60-47z"/>
<path fill="#00005a" stroke="#000007" d="M4974 3367l60 41 34 30-60-39z"/>
<path fill="#006" stroke="#00000f" d="M5034 3408l60 33 34 28-60-31z"/>
<path fill="#000070" stroke="#00001a" d="M5094 3441l60 27 34 27-60-26z"/>
<path fill="#00007a" stroke="#000028" d="M5154 3468l60 21 34 25-60-19z"/>
<path fill="#000080" stroke="#00002a" d="M5214 3489l60 16 34 24-60-15z"/>
<path fill="#000086" stroke="#00003b" d="M5274 3505l60 11 34 23-60-10z"/>
<path fill="#00008c" stroke="#00004f" d="M5334 3516l60 8 34 22-60-7z"/>
<path fill="#000094" stroke="#000053" d="M5394 3524l60 5 34 21-60-4z"/>
<path fill="#000096" stroke="#005" d="M5454 3529l60 2 34 20-60-1z"/>
<path fill="#00009b" stroke="#00006d" d="M5514 3531l60-1 35 20-61 1zm60-1l60-2 35 20-60 2z"/>
<path fill="#009" stroke="#00006b" d="M1407 4315l60-13 35 18-60 13zm60-13l60-15 35 17-60 16zm60-15l60-17 35 17-60 17zm60-17l60-21 35 18-60 20zm4202-732l60-6 34 19-60 7zm60-6l60-7 34 19-60 7zm60-7l60-8 34 19-60 8zm60-8l60-8 34 18-60 9zm60-8l60-9 34 18-60 9z"/>
<path fill="#00009e" stroke="#00006e" d="M1647 4249l60-24 35 18-60 24zm60-24l60-30 35 19-60 29zm3962-677l60-4 34 19-60 5zm60-4l60-6 34 20-60 5z"/>
<path fill="#0000a3" stroke="#000072" d="M1767 4195l60-37 35 19-60 37z"/>
<path fill="#0000a8" stroke="#000076" d="M1827 4158l60-46 35 20-60 45z"/>
<path fill="#0000b3" stroke="#00007d" d="M1887 4112l60-58 35 22-60 56z"/>
<path fill="#0000bd" stroke="#000085" d="M1947 4054l60-72 35 24-60 70z"/>
<path fill="#0000c8" stroke="#000071" d="M2007 3982l60-88 35 29-60 83z"/>
<path fill="#0000d8" stroke="#00005f" d="M2067 3894l60-103 35 34-60 98z"/>
<path fill="#0000ed" stroke="#000068" d="M2127 3791l60-120 35 41-60 113z"/>
<path fill="#0008ff" stroke="#000354" d="M2187 3671l60-133 35 48-60 126z"/>
<path fill="#0038ff" stroke="#000d3b" d="M2247 3538l60-144 35 57-60 135z"/>
<path fill="#0068ff" stroke="#000f25" d="M2307 3394l60-151 35 67-60 141z"/>
<path fill="#0097ff" stroke="#000c13" d="M2367 3243l60-151 35 78-60 140z"/>
<path fill="#00c7ff" stroke="#000506" d="M2427 3092l60-145 35 87-60 136z"/>
<path fill="#00f7ff" stroke="#000606" d="M2487 2947l60-135 35 97-60 125z"/>
<path fill="#18ffe7" stroke="#010606" d="M2547 2812l61-121 34 105-60 113z"/>
<path fill="#38ffc7" stroke="#010605" d="M2608 2691l60-107 34 110-60 102z"/>
<path fill="#48ffb7" stroke="#020605" d="M2668 2584l60-95 34 114-60 91z"/>
<path fill="#68ff97" stroke="#030604" d="M2728 2489l60-88 34 116-60 86z"/>
<path fill="#78ff87" stroke="#030603" d="M2788 2401l60-82 34 117-60 81z"/>
<path fill="#97ff68" stroke="#040603" d="M2848 2319l60-78 34 116-60 79z"/>
<path fill="#a7ff58" stroke="#040602" d="M2908 2241l60-77 34 115-60 78z"/>
<path fill="#b7ff48" stroke="#050602" d="M2968 2164l60-78 34 114-60 79z"/>
<path fill="#d7ff28" stroke="#050601" d="M3028 2086l60-79 34 112-60 81z"/>
<path fill="#e7ff18" stroke="#060601" d="M3088 2007l60-83 34 112-60 83z"/>
<path fill="#f7ff08" stroke="#060600" d="M3148 1924l60-85 34 111-60 86z"/>
<path fill="#ffe700" stroke="#060600" d="M3208 1839l60-87 35 110-61 88z"/>
<path fill="#ffd700" stroke="#060500" d="M3268 1752l60-88 35 109-60 89z"/>
<path fill="#ffc700" stroke="#060500" d="M3328 1664l60-88 35 110-60 87zm780-166l60 183 35 126-60-176z"/>
<path fill="#ffb700" stroke="#060500" d="M3388 1576l60-85 35 112-60 83z"/>
<path fill="#ffa700" stroke="#060400" d="M3448 1491l60-79 35 113-60 78z"/>
<path fill="#ff9700" stroke="#060400" d="M3508 1412l60-72 35 116-60 69zm540-64l60 150 35 133-60-149z"/>
<path fill="#ff8700" stroke="#060300" d="M3568 1340l60-60 35 118-60 58zm420-90l60 98 35 134-60-102z"/>
<path fill="#ff7800" stroke="#060300" d="M3628 1280l60-48 35 120-60 46zm60-48l60-33 35 122-60 31zm60-33l60-17 35 123-60 16zm120-18l60 19 35 126-60-21zm60 19l60 50 35 130-60-54z"/>
<path fill="#ff6800" stroke="#060300" d="M3808 1182l60-1 35 124-60 0z"/>
<path fill="#8e8a00" stroke="#040300" d="M4168 1681l60 194 35 117-60-185z"/>
<path fill="#3c470b" stroke="#000" d="M4228 1875l60 191 35 107-60-181z"/>
<path fill="#000833" stroke="#000" d="M4768 3154l60 76 35 42-60-73z"/>
<path fill="#00023e" stroke="#000002" d="M4828 3230l60 66 35 38-60-62z"/>
<path fill="#00004a" stroke="#000002" d="M4888 3296l60 56 35 35-60-53z"/>
<path fill="#005" stroke="#000006" d="M4948 3352l60 47 35 32-60-44z"/>
<path fill="#000061" stroke="#00000e" d="M5008 3399l60 39 35 29-60-36z"/>
<path fill="#00006c" stroke="#000010" d="M5068 3438l60 31 35 28-60-30z"/>
<path fill="#000074" stroke="#00001b" d="M5128 3469l60 26 35 26-60-24z"/>
<path fill="#00007b" stroke="#000029" d="M5188 3495l60 19 35 25-60-18z"/>
<path fill="#000083" stroke="#00003a" d="M5248 3514l60 15 35 23-60-13z"/>
<path fill="#000089" stroke="#00003d" d="M5308 3529l60 10 35 23-60-10z"/>
<path fill="#00008e" stroke="#000050" d="M5368 3539l60 7 35 22-60-6z"/>
<path fill="#000095" stroke="#000054" d="M5428 3546l60 4 35 21-60-3z"/>
<path fill="#000097" stroke="#005" d="M5488 3550l60 1 35 21-60-1z"/>
<path fill="#00009d" stroke="#00006e" d="M5548 3551l61-1 34 21-60 1z"/>
<path fill="#00009c" stroke="#00006d" d="M5609 3550l60-2 34 20-60 3z"/>
<path fill="#009" stroke="#00006b" d="M1442 4333l60-13 35 17-60 13zm60-13l60-16 35 18-60 15zm60-16l60-17 35 18-60 17zm4261-746l60-7 35 19-60 7zm60-7l60-7 35 18-60 8zm60-7l60-8 35 18-60 8zm60-8l60-9 35 19-60 8z"/>
<path fill="#00009e" stroke="#00006e" d="M1622 4287l60-20 35 18-60 20zm60-20l60-24 35 18-60 24zm60-24l60-29 35 18-60 29zm3961-675l60-5 35 19-60 5zm60-5l60-5 35 19-60 5z"/>
<path fill="#0000a3" stroke="#000072" d="M1802 4214l60-37 35 19-60 36z"/>
<path fill="#0000a8" stroke="#000076" d="M1862 4177l60-45 35 20-60 44z"/>
<path fill="#0000b3" stroke="#00007d" d="M1922 4132l60-56 35 22-60 54z"/>
<path fill="#0000bd" stroke="#000085" d="M1982 4076l60-70 35 26-60 66z"/>
<path fill="#0000c8" stroke="#000071" d="M2042 4006l60-83 35 29-60 80z"/>
<path fill="#0000d8" stroke="#00007a" d="M2102 3923l60-98 35 34-60 93z"/>
<path fill="#0000e7" stroke="#006" d="M2162 3825l60-113 35 41-60 106z"/>
<path fill="#0008ff" stroke="#000354" d="M2222 3712l60-126 35 49-60 118z"/>
<path fill="#0028ff" stroke="#00093b" d="M2282 3586l60-135 35 58-60 126z"/>
<path fill="#0058ff" stroke="#000d25" d="M2342 3451l60-141 35 68-60 131z"/>
<path fill="#0087ff" stroke="#000a13" d="M2402 3310l60-140 35 77-60 131z"/>
<path fill="#00b7ff" stroke="#000506" d="M2462 3170l60-136 35 87-60 126z"/>
<path fill="#00d7ff" stroke="#000506" d="M2522 3034l60-125 35 96-60 116z"/>
<path fill="#08fff7" stroke="#000606" d="M2582 2909l60-113 35 103-60 106z"/>
<path fill="#18ffe7" stroke="#010606" d="M2642 2796l60-102 35 109-60 96z"/>
<path fill="#38ffc7" stroke="#010605" d="M2702 2694l60-91 35 111-60 89z"/>
<path fill="#48ffb7" stroke="#020605" d="M2762 2603l60-86 35 114-60 83z"/>
<path fill="#68ff97" stroke="#030604" d="M2822 2517l60-81 35 114-60 81z"/>
<path fill="#78ff87" stroke="#030603" d="M2882 2436l60-79 35 114-60 79z"/>
<path fill="#87ff78" stroke="#030603" d="M2942 2357l60-78 35 114-60 78z"/>
<path fill="#97ff68" stroke="#040603" d="M3002 2279l60-79 35 113-60 80z"/>
<path fill="#b7ff48" stroke="#050602" d="M3062 2200l60-81 35 112-60 82z"/>
<path fill="#c7ff38" stroke="#050601" d="M3122 2119l60-83 35 111-60 84z"/>
<path fill="#e7ff18" stroke="#060601" d="M3182 2036l60-86 35 110-60 87z"/>
<path fill="#f7ff08" stroke="#060600" d="M3242 1950l61-88 34 111-60 87z"/>
<path fill="#fff700" stroke="#060600" d="M3303 1862l60-89 34 112-60 88z"/>
<path fill="#ffd700" stroke="#060500" d="M3363 1773l60-87 34 113-60 86zm780-142l60 176 35 126-60-170z"/>
<path fill="#ffc700" stroke="#060500" d="M3423 1686l60-83 34 114-60 82z"/>
<path fill="#ffb700" stroke="#060500" d="M3483 1603l60-78 34 117-60 75zm600-121l60 149 35 132-60-146z"/>
<path fill="#ffa700" stroke="#060400" d="M3543 1525l60-69 34 119-60 67z"/>
<path fill="#ff9700" stroke="#060400" d="M3603 1456l60-58 34 121-60 56zm60-58l60-46 34 123-60 44zm360-18l60 102 35 135-60-104z"/>
<path fill="#ff8700" stroke="#060300" d="M3723 1352l60-31 34 125-60 29zm60-31l60-16 34 126-60 15zm60-16l60 0 35 128-61-2zm60 0l60 21 35 130-60-23zm60 21l60 54 35 133-60-57z"/>
<path fill="#b8be06" stroke="#050500" d="M4203 1807l60 185 35 115-60-174z"/>
<path fill="#4e6d1f" stroke="#000" d="M4263 1992l60 181 35 105-60-171z"/>
<path fill="#1f4223" stroke="#000" d="M4323 2173l60 172 35 95-60-162z"/>
<path fill="#00053a" stroke="#000" d="M4803 3199l60 73 35 40-60-68z"/>
<path fill="#000046" stroke="#000002" d="M4863 3272l60 62 35 37-60-59z"/>
<path fill="#000050" stroke="#000006" d="M4923 3334l60 53 35 34-60-50z"/>
<path fill="#000059" stroke="#000007" d="M4983 3387l60 44 35 31-60-41z"/>
<path fill="#000064" stroke="#00000f" d="M5043 3431l60 36 35 30-60-35z"/>
<path fill="#00006d" stroke="#000019" d="M5103 3467l60 30 35 27-60-27z"/>
<path fill="#000075" stroke="#00001b" d="M5163 3497l60 24 35 25-60-22z"/>
<path fill="#00007e" stroke="#00002a" d="M5223 3521l60 18 35 24-60-17z"/>
<path fill="#000085" stroke="#00003b" d="M5283 3539l60 13 35 23-60-12z"/>
<path fill="#00008b" stroke="#00003d" d="M5343 3552l60 10 35 22-60-9z"/>
<path fill="#00008f" stroke="#000051" d="M5403 3562l60 6 35 21-60-5z"/>
<path fill="#000092" stroke="#000052" d="M5463 3568l60 3 35 21-60-3z"/>
<path fill="#000098" stroke="#00006a" d="M5523 3571l60 1 35 20-60 0z"/>
<path fill="#000098" stroke="#00006b" d="M5583 3572l60-1 35 20-60 1z"/>
<path fill="#00009d" stroke="#00006e" d="M5643 3571l60-3 35 19-60 4z"/>
<path fill="#009" stroke="#00006b" d="M1477 4350l60-13 35 18-61 13zm60-13l60-15 35 18-60 15zm60-15l60-17 35 18-60 17zm3961-730l60 0 35 21-60 0zm60 0l60-1 35 19-60 3zm180-10l60-5 35 19-60 6zm60-5l60-7 35 19-60 7zm60-7l60-8 35 19-60 8zm60-8l60-8 35 19-60 8zm60-8l60-8 35 18-60 9z"/>
<path fill="#00009e" stroke="#00006e" d="M1657 4305l60-20 35 18-60 20zm60-20l60-24 35 18-60 24zm60-24l60-29 35 19-60 28zm3961-674l60-5 35 20-60 5z"/>
<path fill="#0000a3" stroke="#000072" d="M1837 4232l60-36 35 20-60 35z"/>
<path fill="#0000a8" stroke="#000076" d="M1897 4196l60-44 35 21-60 43z"/>
<path fill="#0000b3" stroke="#00007d" d="M1957 4152l60-54 35 23-60 52z"/>
<path fill="#0000b8" stroke="#000081" d="M2017 4098l60-66 35 26-60 63z"/>
<path fill="#0000c8" stroke="#000071" d="M2077 4032l60-80 35 31-60 75z"/>
<path fill="#0000d2" stroke="#007" d="M2137 3952l60-93 35 36-60 88z"/>
<path fill="#0000e7" stroke="#006" d="M2197 3859l60-106 35 42-60 100z"/>
<path fill="#0000fc" stroke="#00006f" d="M2257 3753l60-118 35 49-60 111z"/>
<path fill="#0028ff" stroke="#00093b" d="M2317 3635l60-126 35 58-60 117z"/>
<path fill="#0048ff" stroke="#00113b" d="M2377 3509l60-131 35 67-60 122z"/>
<path fill="#0078ff" stroke="#001125" d="M2437 3378l60-131 35 77-60 121z"/>
<path fill="#00a7ff" stroke="#000406" d="M2497 3247l60-126 35 86-60 117z"/>
<path fill="#00c7ff" stroke="#000506" d="M2557 3121l60-116 35 94-60 108z"/>
<path fill="#00e7ff" stroke="#000606" d="M2617 3005l60-106 35 100-60 100z"/>
<path fill="#08fff7" stroke="#000606" d="M2677 2899l60-96 35 105-60 91z"/>
<path fill="#18ffe7" stroke="#010606" d="M2737 2803l60-89 35 108-60 86z"/>
<path fill="#38ffc7" stroke="#010605" d="M2797 2714l60-83 35 110-60 81z"/>
<path fill="#48ffb7" stroke="#020605" d="M2857 2631l60-81 35 112-60 79z"/>
<path fill="#58ffa7" stroke="#020604" d="M2917 2550l60-79 35 112-60 79z"/>
<path fill="#68ff97" stroke="#030604" d="M2977 2471l60-78 35 111-60 79z"/>
<path fill="#78ff87" stroke="#030603" d="M3037 2393l60-80 35 111-60 80z"/>
<path fill="#97ff68" stroke="#040603" d="M3097 2313l60-82 35 111-60 82z"/>
<path fill="#a7ff58" stroke="#040602" d="M3157 2231l60-84 35 110-60 85z"/>
<path fill="#c7ff38" stroke="#050601" d="M3217 2147l60-87 35 111-60 86z"/>
<path fill="#d7ff28" stroke="#050601" d="M3277 2060l60-87 35 111-60 87z"/>
<path fill="#f7ff08" stroke="#060600" d="M3337 1973l60-88 35 112-60 87z"/>
<path fill="#fff700" stroke="#060600" d="M3397 1885l60-86 35 114-60 84zm781-122l60 170 34 123-60-161z"/>
<path fill="#ffe700" stroke="#060600" d="M3457 1799l60-82 35 116-60 80z"/>
<path fill="#ffd700" stroke="#060500" d="M3517 1717l60-75 35 118-60 73zm601-100l60 146 34 132-60-143z"/>
<path fill="#ffc700" stroke="#060500" d="M3577 1642l60-67 35 121-60 64z"/>
<path fill="#ffb700" stroke="#060500" d="M3637 1575l60-56 35 123-60 54zm421-62l60 104 34 135-60-105z"/>
<path fill="#ffa700" stroke="#060400" d="M3697 1519l60-44 35 125-60 42zm60-44l60-29 35 127-60 27zm181-42l60 23 34 132-60-25zm60 23l60 57 34 134-60-59z"/>
<path fill="#ff9700" stroke="#060400" d="M3817 1446l60-15 35 129-60 13zm60-15l61 2 34 130-60-3z"/>
<path fill="#b5e833" stroke="#050601" d="M4238 1933l60 174 34 113-60-164z"/>
<path fill="#56913b" stroke="#020401" d="M4298 2107l60 171 34 102-60-160z"/>
<path fill="#265d37" stroke="#000" d="M4358 2278l60 162 34 92-60-152z"/>
<path fill="#0e4032" stroke="#000" d="M4418 2440l60 151 34 83-60-142z"/>
<path fill="#023432" stroke="#000" d="M4478 2591l60 140 34 74-60-131z"/>
<path fill="#000c38" stroke="#000" d="M4778 3165l60 79 35 43-60-74z"/>
<path fill="#000241" stroke="#000002" d="M4838 3244l60 68 35 40-60-65z"/>
<path fill="#00004b" stroke="#000002" d="M4898 3312l60 59 35 36-60-55z"/>
<path fill="#000054" stroke="#000006" d="M4958 3371l60 50 35 33-60-47z"/>
<path fill="#00005f" stroke="#000007" d="M5018 3421l60 41 35 31-60-39z"/>
<path fill="#006" stroke="#00000f" d="M5078 3462l60 35 35 28-60-32z"/>
<path fill="#000071" stroke="#00001a" d="M5138 3497l60 27 35 27-60-26z"/>
<path fill="#000078" stroke="#00001c" d="M5198 3524l60 22 35 25-60-20z"/>
<path fill="#000080" stroke="#00002a" d="M5258 3546l60 17 35 24-60-16z"/>
<path fill="#000087" stroke="#00003c" d="M5318 3563l60 12 35 23-60-11z"/>
<path fill="#00008d" stroke="#00003e" d="M5378 3575l60 9 35 22-60-8z"/>
<path fill="#000090" stroke="#000052" d="M5438 3584l60 5 35 22-60-5z"/>
<path fill="#000093" stroke="#000053" d="M5498 3589l60 3 35 21-60-2z"/>
<path fill="#00009d" stroke="#00006e" d="M5678 3591l60-4 35 20-60 3z"/>
<path fill="#009" stroke="#00006b" d="M1511 4368l61-13 34 18-60 13zm61-13l60-15 34 18-60 15zm60-15l60-17 34 18-60 17zm3961-727l60 0 35 20-60 0zm60 0l60-3 35 20-60 3zm180-11l60-6 35 19-60 6zm60-6l60-7 35 19-60 7zm60-7l60-8 35 19-60 8zm60-8l60-8 35 19-60 8zm60-8l60-9 35 19-60 9z"/>
<path fill="#00009e" stroke="#00006e" d="M1692 4323l60-20 34 18-60 20zm60-20l60-24 34 19-60 23zm60-24l60-28 34 19-60 28zm3901-669l60-3 35 19-60 4zm60-3l60-5 35 19-60 5z"/>
<path fill="#0000a3" stroke="#000072" d="M1872 4251l60-35 34 20-60 34z"/>
<path fill="#0000a8" stroke="#000076" d="M1932 4216l60-43 34 22-60 41z"/>
<path fill="#0000ae" stroke="#000079" d="M1992 4173l60-52 34 24-60 50z"/>
<path fill="#0000b8" stroke="#000081" d="M2052 4121l60-63 34 26-60 61z"/>
<path fill="#0000c3" stroke="#00006e" d="M2112 4058l60-75 34 30-60 71z"/>
<path fill="#0000d2" stroke="#007" d="M2172 3983l60-88 35 35-61 83z"/>
<path fill="#0000e2" stroke="#000064" d="M2232 3895l60-100 35 42-60 93z"/>
<path fill="#0000f7" stroke="#00006d" d="M2292 3795l60-111 35 50-60 103z"/>
<path fill="#0018ff" stroke="#000854" d="M2352 3684l60-117 35 57-60 110z"/>
<path fill="#0038ff" stroke="#000d3b" d="M2412 3567l60-122 35 67-60 112z"/>
<path fill="#0068ff" stroke="#000f25" d="M2472 3445l60-121 35 75-60 113z"/>
<path fill="#0097ff" stroke="#000c13" d="M2532 3324l60-117 35 84-60 108z"/>
<path fill="#00b7ff" stroke="#000506" d="M2592 3207l60-108 35 91-60 101z"/>
<path fill="#00d7ff" stroke="#000506" d="M2652 3099l60-100 35 97-60 94z"/>
<path fill="#00e7ff" stroke="#000606" d="M2712 2999l60-91 35 102-60 86z"/>
<path fill="#08fff7" stroke="#000606" d="M2772 2908l60-86 35 105-60 83z"/>
<path fill="#18ffe7" stroke="#010606" d="M2832 2822l60-81 35 107-60 79z"/>
<path fill="#28ffd7" stroke="#010605" d="M2892 2741l60-79 35 108-60 78z"/>
<path fill="#48ffb7" stroke="#020605" d="M2952 2662l60-79 35 109-60 78z"/>
<path fill="#58ffa7" stroke="#020604" d="M3012 2583l60-79 35 109-60 79z"/>
<path fill="#68ff97" stroke="#030604" d="M3072 2504l60-80 35 109-60 80z"/>
<path fill="#78ff87" stroke="#030603" d="M3132 2424l60-82 35 108-60 83z"/>
<path fill="#87ff78" stroke="#030603" d="M3192 2342l60-85 35 109-60 84z"/>
<path fill="#a7ff58" stroke="#040602" d="M3252 2257l60-86 35 109-60 86zm1020-201l60 164 35 110-60-154z"/>
<path fill="#b7ff48" stroke="#050602" d="M3312 2171l60-87 35 110-60 86z"/>
<path fill="#d7ff28" stroke="#050601" d="M3372 2084l60-87 35 112-60 85z"/>
<path fill="#e7ff18" stroke="#060601" d="M3432 1997l60-84 35 114-60 82zm780-102l60 161 35 120-60-152z"/>
<path fill="#fff700" stroke="#060600" d="M3492 1913l60-80 35 117-60 77z"/>
<path fill="#ffe700" stroke="#060600" d="M3552 1833l60-73 35 119-60 71zm600-81l60 143 35 129-60-138z"/>
<path fill="#ffd700" stroke="#060500" d="M3612 1760l60-64 35 121-60 62zm480-113l60 105 35 134-60-104z"/>
<path fill="#ffc700" stroke="#060500" d="M3672 1696l60-54 35 124-60 51zm60-54l60-42 35 127-60 39zm300-54l60 59 35 135-60-62z"/>
<path fill="#ffb700" stroke="#060500" d="M3792 1600l60-27 35 128-60 26zm60-27l60-13 35 129-60 12zm60-13l60 3 35 130-60-4zm60 3l60 25 35 132-60-27z"/>
<path fill="#52b05d" stroke="#020402" d="M4332 2220l60 160 35 100-60-150z"/>
<path fill="#217655" stroke="#010302" d="M4392 2380l60 152 35 90-60-142z"/>
<path fill="#08534b" stroke="#000" d="M4452 2532l60 142 35 80-60-132z"/>
<path fill="#003e40" stroke="#000" d="M4512 2674l60 131 35 72-60-123z"/>
<path fill="#002b37" stroke="#000" d="M4572 2805l61 119 34 64-60-111z"/>
<path fill="#001f34" stroke="#000" d="M4633 2924l60 108 34 57-60-101z"/>
<path fill="#001934" stroke="#000" d="M4693 3032l60 96 34 51-60-90z"/>
<path fill="#001037" stroke="#000" d="M4753 3128l60 85 34 46-60-80z"/>
<path fill="#000a3e" stroke="#000" d="M4813 3213l60 74 34 42-60-70z"/>
<path fill="#000247" stroke="#000002" d="M4873 3287l60 65 34 38-60-61z"/>
<path fill="#00004f" stroke="#000002" d="M4933 3352l60 55 34 35-60-52z"/>
<path fill="#000057" stroke="#000007" d="M4993 3407l60 47 34 32-60-44z"/>
<path fill="#000060" stroke="#00000e" d="M5053 3454l60 39 34 29-60-36z"/>
<path fill="#000069" stroke="#00000f" d="M5113 3493l60 32 34 28-60-31z"/>
<path fill="#000071" stroke="#00001a" d="M5173 3525l60 26 35 26-61-24z"/>
<path fill="#00007a" stroke="#000028" d="M5233 3551l60 20 35 25-60-19z"/>
<path fill="#00007e" stroke="#00002a" d="M5293 3571l60 16 35 23-60-14z"/>
<path fill="#000084" stroke="#00003a" d="M5353 3587l60 11 35 23-60-11z"/>
<path fill="#00008e" stroke="#00003f" d="M5413 3598l60 8 35 22-60-7z"/>
<path fill="#000091" stroke="#000052" d="M5473 3606l60 5 35 21-60-4z"/>
<path fill="#000093" stroke="#000053" d="M5533 3611l60 2 35 20-60-1z"/>
<path fill="#009" stroke="#00006b" d="M1546 4386l60-13 35 18-60 13zm60-13l60-15 35 18-60 15zm60-15l60-17 35 18-60 17zm4022-725l60-3 34 20-60 2zm180-12l60-6 35 19-61 6zm60-6l60-7 35 18-60 8zm60-7l60-8 35 18-60 8zm60-8l60-8 35 18-60 8zm60-8l60-9 35 18-60 9z"/>
<path fill="#00009e" stroke="#00006e" d="M1726 4341l60-20 35 18-60 20zm60-20l60-23 35 18-60 23zm60-23l60-28 35 19-60 27zm3902-668l60-4 34 19-60 5zm60-4l60-5 34 19-60 5z"/>
<path fill="#0000a3" stroke="#000072" d="M1906 4270l60-34 35 20-60 33z"/>
<path fill="#0000a8" stroke="#000076" d="M1966 4236l60-41 35 22-60 39z"/>
<path fill="#0000ae" stroke="#000079" d="M2026 4195l60-50 35 24-60 48z"/>
<path fill="#0000b8" stroke="#000081" d="M2086 4145l60-61 35 27-60 58z"/>
<path fill="#0000c3" stroke="#00006e" d="M2146 4084l60-71 35 31-60 67z"/>
<path fill="#0000cd" stroke="#000074" d="M2206 4013l61-83 34 36-60 78z"/>
<path fill="#00d" stroke="#000062" d="M2267 3930l60-93 34 42-60 87z"/>
<path fill="#0000f2" stroke="#00006b" d="M2327 3837l60-103 34 49-60 96z"/>
<path fill="#0008ff" stroke="#000354" d="M2387 3734l60-110 34 57-60 102z"/>
<path fill="#0028ff" stroke="#00093b" d="M2447 3624l60-112 34 65-60 104z"/>
<path fill="#0058ff" stroke="#000d25" d="M2507 3512l60-113 34 74-60 104z"/>
<path fill="#0078ff" stroke="#001125" d="M2567 3399l60-108 34 82-60 100z"/>
<path fill="#0097ff" stroke="#000c13" d="M2627 3291l60-101 34 88-60 95z"/>
<path fill="#00b7ff" stroke="#000506" d="M2687 3190l60-94 34 94-60 88z"/>
<path fill="#00d7ff" stroke="#000506" d="M2747 3096l60-86 34 97-60 83z"/>
<path fill="#00e7ff" stroke="#000606" d="M2807 3010l60-83 35 101-61 79z"/>
<path fill="#08fff7" stroke="#000606" d="M2867 2927l60-79 35 103-60 77z"/>
<path fill="#18ffe7" stroke="#010606" d="M2927 2848l60-78 35 104-60 77z"/>
<path fill="#28ffd7" stroke="#010605" d="M2987 2770l60-78 35 104-60 78z"/>
<path fill="#38ffc7" stroke="#010605" d="M3047 2692l60-79 35 105-60 78z"/>
<path fill="#48ffb7" stroke="#020605" d="M3107 2613l60-80 35 105-60 80z"/>
<path fill="#68ff97" stroke="#030604" d="M3167 2533l60-83 35 107-60 81z"/>
<path fill="#78ff87" stroke="#030603" d="M3227 2450l60-84 35 107-60 84z"/>
<path fill="#87ff78" stroke="#030603" d="M3287 2366l60-86 35 109-60 84zm1020-190l60 154 35 106-60-144z"/>
<path fill="#a7ff58" stroke="#040602" d="M3347 2280l60-86 35 110-60 85z"/>
<path fill="#b7ff48" stroke="#050602" d="M3407 2194l60-85 35 112-60 83z"/>
<path fill="#d7ff28" stroke="#050601" d="M3467 2109l60-82 35 114-60 80z"/>
<path fill="#e7ff18" stroke="#060601" d="M3527 2027l60-77 35 116-60 75z"/>
<path fill="#f7ff08" stroke="#060600" d="M3587 1950l60-71 35 119-60 68zm600-64l60 138 35 126-60-132z"/>
<path fill="#fff700" stroke="#060600" d="M3647 1879l60-62 35 122-60 59zm480-97l60 104 35 132-60-103z"/>
<path fill="#ffe700" stroke="#060600" d="M3707 1817l60-51 35 124-60 49z"/>
<path fill="#ffd700" stroke="#060500" d="M3767 1766l60-39 35 126-60 37zm60-39l60-26 35 127-60 25zm60-26l60-12 35 129-60 10zm60-12l60 4 35 130-60-5zm60 4l60 27 35 131-60-28zm60 27l60 62 35 133-60-64z"/>
<path fill="#c7ff38" stroke="#050601" d="M4247 2024l60 152 35 116-60-142z"/>
<path fill="#45c883" stroke="#020503" d="M4367 2330l60 150 35 95-60-139z"/>
<path fill="#1e8b6c" stroke="#010303" d="M4427 2480l60 142 35 86-60-133z"/>
<path fill="#036460" stroke="#000" d="M4487 2622l60 132 35 77-60-123z"/>
<path fill="#00404c" stroke="#000" d="M4547 2754l60 123 35 68-60-114z"/>
<path fill="#002e40" stroke="#000" d="M4607 2877l60 111 35 62-60-105z"/>
<path fill="#001f3b" stroke="#000" d="M4667 2988l60 101 35 55-60-94z"/>
<path fill="#00183a" stroke="#000" d="M4727 3089l60 90 35 50-60-85z"/>
<path fill="#000d3d" stroke="#000" d="M4787 3179l60 80 35 44-60-74z"/>
<path fill="#000643" stroke="#000002" d="M4847 3259l60 70 35 40-60-66z"/>
<path fill="#00004b" stroke="#000002" d="M4907 3329l60 61 35 36-60-57z"/>
<path fill="#000051" stroke="#000006" d="M4967 3390l60 52 35 33-60-49z"/>
<path fill="#00005a" stroke="#000007" d="M5027 3442l60 44 35 31-60-42z"/>
<path fill="#000061" stroke="#00000e" d="M5087 3486l60 36 35 29-60-34z"/>
<path fill="#000068" stroke="#000018" d="M5147 3522l60 31 35 26-60-28z"/>
<path fill="#000072" stroke="#00001a" d="M5207 3553l61 24 34 25-60-23z"/>
<path fill="#000078" stroke="#000027" d="M5268 3577l60 19 34 24-60-18z"/>
<path fill="#00007f" stroke="#00002a" d="M5328 3596l60 14 34 23-60-13z"/>
<path fill="#000085" stroke="#00003b" d="M5388 3610l60 11 34 22-60-10z"/>
<path fill="#00008a" stroke="#00003d" d="M5448 3621l60 7 34 21-60-6z"/>
<path fill="#000092" stroke="#000052" d="M5508 3628l60 4 34 21-60-4z"/>
<path fill="#000094" stroke="#000053" d="M5568 3632l60 1 34 21-60-1z"/>
<path fill="#00009a" stroke="#00006b" d="M5628 3633l60 0 34 19-60 2z"/>
<path fill="#009" stroke="#00006b" d="M1581 4404l60-13 35 18-60 13zm60-13l60-15 35 18-60 15zm60-15l60-17 35 18-60 17zm3961-722l60-2 35 20-60 2zm60-2l60-2 35 19-60 3zm180-12l61-6 34 18-60 7zm61-6l60-8 34 19-60 7zm60-8l60-8 34 19-60 8zm60-8l60-8 34 19-60 8zm60-8l60-9 34 19-60 9z"/>
<path fill="#00009e" stroke="#00006e" d="M1761 4359l60-20 35 18-60 20zm60-20l60-23 35 19-60 22zm60-23l60-27 35 19-60 27zm3961-671l60-5 35 19-60 6z"/>
<path fill="#0000a3" stroke="#000072" d="M1941 4289l60-33 35 21-60 31z"/>
<path fill="#0000a8" stroke="#000076" d="M2001 4256l60-39 35 22-60 38z"/>
<path fill="#0000ae" stroke="#000079" d="M2061 4217l60-48 35 24-60 46z"/>
<path fill="#0000b8" stroke="#000081" d="M2121 4169l60-58 35 27-60 55z"/>
<path fill="#0000c3" stroke="#00006e" d="M2181 4111l60-67 35 31-60 63z"/>
<path fill="#0000cd" stroke="#000074" d="M2241 4044l60-78 35 36-60 73z"/>
<path fill="#00d" stroke="#000062" d="M2301 3966l60-87 35 41-60 82z"/>
<path fill="#0000ed" stroke="#000068" d="M2361 3879l60-96 35 48-60 89z"/>
<path fill="#0000fc" stroke="#00006f" d="M2421 3783l60-102 35 56-60 94z"/>
<path fill="#0028ff" stroke="#00093b" d="M2481 3681l60-104 35 63-60 97z"/>
<path fill="#0048ff" stroke="#00113b" d="M2541 3577l60-104 35 71-60 96z"/>
<path fill="#0068ff" stroke="#000f25" d="M2601 3473l60-100 35 78-60 93z"/>
<path fill="#0087ff" stroke="#000a13" d="M2661 3373l60-95 35 85-60 88z"/>
<path fill="#00a7ff" stroke="#000406" d="M2721 3278l60-88 35 90-60 83z"/>
<path fill="#00b7ff" stroke="#000506" d="M2781 3190l60-83 35 94-60 79z"/>
<path fill="#00d7ff" stroke="#000506" d="M2841 3107l61-79 34 97-60 76z"/>
<path fill="#00e7ff" stroke="#000606" d="M2902 3028l60-77 34 98-60 76z"/>
<path fill="#08fff7" stroke="#000606" d="M2962 2951l60-77 34 100-60 75z"/>
<path fill="#18ffe7" stroke="#010606" d="M3022 2874l60-78 34 102-60 76z"/>
<path fill="#28ffd7" stroke="#010605" d="M3082 2796l60-78 34 102-60 78z"/>
<path fill="#38ffc7" stroke="#010605" d="M3142 2718l60-80 34 103-60 79z"/>
<path fill="#48ffb7" stroke="#020605" d="M3202 2638l60-81 34 103-60 81z"/>
<path fill="#58ffa7" stroke="#020604" d="M3262 2557l60-84 34 105-60 82z"/>
<path fill="#68ff97" stroke="#030604" d="M3322 2473l60-84 34 106-60 83z"/>
<path fill="#87ff78" stroke="#030603" d="M3382 2389l60-85 34 108-60 83z"/>
<path fill="#97ff68" stroke="#040603" d="M3442 2304l60-83 34 110-60 81zm840-154l60 142 35 112-60-133z"/>
<path fill="#b7ff48" stroke="#050602" d="M3502 2221l60-80 35 113-61 77z"/>
<path fill="#c7ff38" stroke="#050601" d="M3562 2141l60-75 35 116-60 72zm660-123l60 132 35 121-60-125z"/>
<path fill="#d7ff28" stroke="#050601" d="M3622 2066l60-68 35 119-60 65z"/>
<path fill="#f7ff08" stroke="#060600" d="M3682 1998l60-59 35 121-60 57zm480-83l60 103 35 128-60-100z"/>
<path fill="#fff700" stroke="#060600" d="M3742 1939l60-49 35 123-60 47zm60-49l60-37 35 125-60 35zm60-37l60-25 35 127-60 23zm180-30l60 28 35 130-60-30zm60 28l60 64 35 131-60-65z"/>
<path fill="#ffe700" stroke="#060600" d="M3922 1828l60-10 35 127-60 10zm60-10l60 5 35 128-60-6z"/>
<path fill="#78ff87" stroke="#030603" d="M4342 2292l60 144 35 102-60-134z"/>
<path fill="#3dda9d" stroke="#020504" d="M4402 2436l60 139 35 92-60-129z"/>
<path fill="#0e9b8c" stroke="#000404" d="M4462 2575l60 133 35 82-60-123z"/>
<path fill="#006d71" stroke="#000" d="M4522 2708l60 123 35 74-60-115z"/>
<path fill="#004456" stroke="#000" d="M4582 2831l60 114 35 66-60-106z"/>
<path fill="#002f48" stroke="#000" d="M4642 2945l60 105 35 58-60-97z"/>
<path fill="#001e41" stroke="#000" d="M4702 3050l60 94 35 53-60-89z"/>
<path fill="#00163f" stroke="#000" d="M4762 3144l60 85 35 47-60-79z"/>
<path fill="#000e41" stroke="#000002" d="M4822 3229l60 74 35 43-60-70z"/>
<path fill="#000747" stroke="#000002" d="M4882 3303l60 66 35 39-60-62z"/>
<path fill="#00004d" stroke="#000002" d="M4942 3369l60 57 35 35-60-53z"/>
<path fill="#000052" stroke="#000006" d="M5002 3426l60 49 35 32-60-46z"/>
<path fill="#00005a" stroke="#000007" d="M5062 3475l60 42 35 29-60-39z"/>
<path fill="#000062" stroke="#00000e" d="M5122 3517l60 34 35 28-60-33z"/>
<path fill="#000069" stroke="#000018" d="M5182 3551l60 28 35 26-60-26z"/>
<path fill="#000070" stroke="#00001a" d="M5242 3579l60 23 35 25-60-22z"/>
<path fill="#000078" stroke="#000028" d="M5302 3602l60 18 35 23-60-16z"/>
<path fill="#00007f" stroke="#00002a" d="M5362 3620l60 13 35 23-60-13z"/>
<path fill="#000085" stroke="#00003b" d="M5422 3633l60 10 35 22-60-9z"/>
<path fill="#00008a" stroke="#00003d" d="M5482 3643l60 6 35 21-60-5z"/>
<path fill="#000091" stroke="#000052" d="M5542 3649l60 4 35 20-60-3z"/>
<path fill="#000094" stroke="#000067" d="M5602 3653l60 1 35 20-60-1z"/>
<path fill="#00009d" stroke="#00006e" d="M5782 3650l60-5 35 20-60 4z"/>
<path fill="#009" stroke="#00006b" d="M1616 4422l60-13 35 18-60 13zm60-13l60-15 35 18-60 15zm60-15l60-17 35 18-60 17zm4021-722l60-3 35 19-60 4zm180-13l60-7 35 19-60 7zm60-7l60-7 35 18-60 8zm60-7l60-8 35 18-60 8zm60-8l60-8 35 18-60 8z"/>
<path fill="#00009e" stroke="#00006e" d="M1796 4377l60-20 35 19-60 19zm60-20l60-22 35 19-60 22zm60-22l60-27 35 20-60 26zm3961-670l60-6 35 19-60 5z"/>
<path fill="#0000a3" stroke="#000072" d="M1976 4308l60-31 35 20-60 31z"/>
<path fill="#0000a8" stroke="#000076" d="M2036 4277l60-38 35 22-60 36z"/>
<path fill="#0000ae" stroke="#000079" d="M2096 4239l60-46 35 24-60 44z"/>
<path fill="#0000b3" stroke="#00007d" d="M2156 4193l60-55 35 28-60 51z"/>
<path fill="#0000bd" stroke="#00006b" d="M2216 4138l60-63 35 31-60 60z"/>
<path fill="#0000c8" stroke="#000071" d="M2276 4075l60-73 35 35-60 69z"/>
<path fill="#0000d8" stroke="#00007a" d="M2336 4002l60-82 35 41-60 76z"/>
<path fill="#0000e7" stroke="#006" d="M2396 3920l60-89 35 48-60 82z"/>
<path fill="#0000f7" stroke="#00006d" d="M2456 3831l60-94 35 55-60 87z"/>
<path fill="#0018ff" stroke="#000854" d="M2516 3737l60-97 35 62-60 90z"/>
<path fill="#0038ff" stroke="#000d3b" d="M2576 3640l60-96 35 69-60 89z"/>
<path fill="#0058ff" stroke="#000d25" d="M2636 3544l60-93 35 76-60 86z"/>
<path fill="#0078ff" stroke="#001125" d="M2696 3451l60-88 35 81-60 83z"/>
<path fill="#0087ff" stroke="#000a13" d="M2756 3363l60-83 35 86-60 78z"/>
<path fill="#00a7ff" stroke="#000406" d="M2816 3280l60-79 35 90-60 75z"/>
<path fill="#00b7ff" stroke="#000506" d="M2876 3201l60-76 35 92-60 74z"/>
<path fill="#00d7ff" stroke="#000506" d="M2936 3125l60-76 35 95-60 73z"/>
<path fill="#00e7ff" stroke="#000606" d="M2996 3049l60-75 35 96-60 74z"/>
<path fill="#00f7ff" stroke="#000606" d="M3056 2974l60-76 35 97-60 75z"/>
<path fill="#08fff7" stroke="#000606" d="M3116 2898l60-78 35 99-60 76z"/>
<path fill="#18ffe7" stroke="#010606" d="M3176 2820l60-79 35 100-60 78z"/>
<path fill="#38ffc7" stroke="#010605" d="M3236 2741l60-81 35 101-60 80z"/>
<path fill="#48ffb7" stroke="#020605" d="M3296 2660l60-82 35 102-60 81z"/>
<path fill="#58ffa7" stroke="#020604" d="M3356 2578l60-83 35 104-60 81zm1021-174l60 134 35 96-60-123z"/>
<path fill="#68ff97" stroke="#030604" d="M3416 2495l60-83 35 106-60 81z"/>
<path fill="#78ff87" stroke="#030603" d="M3476 2412l60-81 35 109-60 78zm841-141l60 133 35 107-60-124z"/>
<path fill="#97ff68" stroke="#040603" d="M3536 2331l61-77 34 111-60 75z"/>
<path fill="#a7ff58" stroke="#040602" d="M3597 2254l60-72 34 114-60 69zm660-108l60 125 35 116-60-117z"/>
<path fill="#b7ff48" stroke="#050602" d="M3657 2182l60-65 34 116-60 63z"/>
<path fill="#d7ff28" stroke="#050601" d="M3717 2117l60-57 34 119-60 54zm60-57l60-47 34 122-60 44z"/>
<path fill="#e7ff18" stroke="#060601" d="M3837 2013l60-35 34 123-60 34zm300-32l60 65 35 127-61-65z"/>
<path fill="#f7ff08" stroke="#060600" d="M3897 1978l60-23 34 124-60 22zm60-23l60-10 34 125-60 9zm60-10l60 6 34 126-60-7zm60 6l60 30 34 127-60-31z"/>
<path fill="#c7ff38" stroke="#050601" d="M4197 2046l60 100 35 124-60-97z"/>
<path fill="#32e6b4" stroke="#010605" d="M4437 2538l60 129 35 87-60-120z"/>
<path fill="#05a5a0" stroke="#000404" d="M4497 2667l60 123 35 78-60-114z"/>
<path fill="#006e7a" stroke="#000303" d="M4557 2790l60 115 35 69-60-106z"/>
<path fill="#00435e" stroke="#000" d="M4617 2905l60 106 35 62-60-99z"/>
<path fill="#002e4d" stroke="#000" d="M4677 3011l60 97 35 56-60-91z"/>
<path fill="#001c45" stroke="#000" d="M4737 3108l60 89 35 50-60-83z"/>
<path fill="#001343" stroke="#000002" d="M4797 3197l60 79 35 45-60-74z"/>
<path fill="#000b44" stroke="#000002" d="M4857 3276l60 70 35 41-60-66z"/>
<path fill="#000249" stroke="#000002" d="M4917 3346l60 62 35 37-60-58z"/>
<path fill="#00004d" stroke="#000002" d="M4977 3408l60 53 35 34-60-50z"/>
<path fill="#000053" stroke="#000006" d="M5037 3461l60 46 35 31-60-43z"/>
<path fill="#000059" stroke="#000007" d="M5097 3507l60 39 35 29-60-37z"/>
<path fill="#000060" stroke="#00000e" d="M5157 3546l60 33 35 27-60-31z"/>
<path fill="#000069" stroke="#000018" d="M5217 3579l60 26 35 26-60-25z"/>
<path fill="#000070" stroke="#00001a" d="M5277 3605l60 22 35 24-60-20z"/>
<path fill="#000078" stroke="#000027" d="M5337 3627l60 16 35 23-60-15z"/>
<path fill="#00007f" stroke="#00002a" d="M5397 3643l60 13 35 22-60-12z"/>
<path fill="#000085" stroke="#00003b" d="M5457 3656l60 9 35 21-60-8z"/>
<path fill="#000089" stroke="#00003d" d="M5517 3665l60 5 35 21-60-5z"/>
<path fill="#00008d" stroke="#00004f" d="M5577 3670l60 3 35 20-60-2z"/>
<path fill="#000093" stroke="#000067" d="M5637 3673l60 1 35 19-60 0z"/>
<path fill="#000094" stroke="#000068" d="M5697 3674l60-2 35 20-60 1z"/>
<path fill="#00009d" stroke="#00006e" d="M5817 3669l60-4 35 18-60 5z"/>
<path fill="#009" stroke="#00006b" d="M1651 4440l60-13 34 18-60 13zm60-13l60-15 34 18-60 15zm60-15l60-17 34 18-60 17zm4141-729l60-5 35 18-60 6zm60-5l60-7 35 18-60 7zm60-7l60-8 35 19-60 7zm60-8l60-8 35 19-60 8zm60-8l60-8 35 18-60 9z"/>
<path fill="#00009e" stroke="#00006e" d="M1831 4395l60-19 35 19-61 18zm60-19l60-22 35 19-60 22zm60-22l60-26 35 20-60 25z"/>
<path fill="#0000a3" stroke="#000072" d="M2011 4328l60-31 35 21-60 30z"/>
<path fill="#0000a8" stroke="#000076" d="M2071 4297l60-36 35 22-60 35z"/>
<path fill="#0000ae" stroke="#000079" d="M2131 4261l60-44 35 25-60 41z"/>
<path fill="#0000b3" stroke="#00007d" d="M2191 4217l60-51 35 27-60 49z"/>
<path fill="#0000bd" stroke="#000085" d="M2251 4166l60-60 35 31-60 56z"/>
<path fill="#0000c8" stroke="#000071" d="M2311 4106l60-69 35 36-60 64z"/>
<path fill="#0000d2" stroke="#007" d="M2371 4037l60-76 35 41-60 71z"/>
<path fill="#0000e2" stroke="#000064" d="M2431 3961l60-82 35 46-60 77z"/>
<path fill="#0000f2" stroke="#00006b" d="M2491 3879l60-87 35 52-60 81z"/>
<path fill="#0008ff" stroke="#000354" d="M2551 3792l60-90 35 60-60 82z"/>
<path fill="#0028ff" stroke="#00093b" d="M2611 3702l60-89 35 66-60 83z"/>
<path fill="#0048ff" stroke="#00113b" d="M2671 3613l60-86 35 72-60 80z"/>
<path fill="#0058ff" stroke="#000d25" d="M2731 3527l60-83 35 78-60 77z"/>
<path fill="#0078ff" stroke="#001125" d="M2791 3444l60-78 35 82-60 74z"/>
<path fill="#0097ff" stroke="#000c13" d="M2851 3366l60-75 35 85-60 72z"/>
<path fill="#00a7ff" stroke="#000406" d="M2911 3291l60-74 35 88-60 71z"/>
<path fill="#00b7ff" stroke="#000506" d="M2971 3217l60-73 35 90-60 71z"/>
<path fill="#00c7ff" stroke="#000506" d="M3031 3144l60-74 35 91-60 73z"/>
<path fill="#00e7ff" stroke="#000606" d="M3091 3070l60-75 35 93-60 73z"/>
<path fill="#00f7ff" stroke="#000606" d="M3151 2995l60-76 35 94-60 75z"/>
<path fill="#08fff7" stroke="#000606" d="M3211 2919l60-78 35 96-60 76z"/>
<path fill="#18ffe7" stroke="#010606" d="M3271 2841l60-80 35 98-60 78z"/>
<path fill="#28ffd7" stroke="#010605" d="M3331 2761l60-81 35 100-60 79z"/>
<path fill="#48ffb7" stroke="#020605" d="M3391 2680l60-81 35 101-60 80z"/>
<path fill="#58ffa7" stroke="#020604" d="M3451 2599l60-81 35 104-60 78z"/>
<path fill="#68ff97" stroke="#030604" d="M3511 2518l60-78 35 106-60 76zm841-131l60 124 34 101-60-114z"/>
<path fill="#78ff87" stroke="#030603" d="M3571 2440l60-75 35 109-60 72z"/>
<path fill="#87ff78" stroke="#030603" d="M3631 2365l60-69 35 112-60 66zm661-95l60 117 34 111-60-109z"/>
<path fill="#a7ff58" stroke="#040602" d="M3691 2296l60-63 35 115-60 60zm541-123l60 97 34 119-60-93z"/>
<path fill="#b7ff48" stroke="#050602" d="M3751 2233l60-54 35 117-60 52zm60-54l60-44 35 119-60 42z"/>
<path fill="#c7ff38" stroke="#050601" d="M3871 2135l60-34 35 121-60 32zm240-58l60 31 35 124-60-32zm60 31l61 65 34 123-60-64z"/>
<path fill="#d7ff28" stroke="#050601" d="M3931 2101l60-22 35 122-60 21zm60-22l60-9 35 122-60 9zm60-9l60 7 35 123-60-8z"/>
<path fill="#38ffc7" stroke="#010605" d="M4412 2511l60 123 34 92-60-114z"/>
<path fill="#16ecd6" stroke="#010605" d="M4472 2634l60 120 34 82-60-110z"/>
<path fill="#00a6ab" stroke="#000404" d="M4532 2754l60 114 34 73-60-105z"/>
<path fill="#00637f" stroke="#000203" d="M4592 2868l60 106 34 66-60-99z"/>
<path fill="#004062" stroke="#000" d="M4652 2974l60 99 34 59-60-92z"/>
<path fill="#002b51" stroke="#000102" d="M4712 3073l60 91 34 53-60-85z"/>
<path fill="#001d48" stroke="#000102" d="M4772 3164l60 83 34 47-60-77z"/>
<path fill="#000f44" stroke="#000002" d="M4832 3247l60 74 35 42-61-69z"/>
<path fill="#000746" stroke="#000002" d="M4892 3321l60 66 35 38-60-62z"/>
<path fill="#000049" stroke="#000002" d="M4952 3387l60 58 35 34-60-54z"/>
<path fill="#00004e" stroke="#000002" d="M5012 3445l60 50 35 32-60-48z"/>
<path fill="#000052" stroke="#000006" d="M5072 3495l60 43 35 30-60-41z"/>
<path fill="#000058" stroke="#000007" d="M5132 3538l60 37 35 27-60-34z"/>
<path fill="#00005f" stroke="#00000e" d="M5192 3575l60 31 35 25-60-29z"/>
<path fill="#006" stroke="#000018" d="M5252 3606l60 25 35 24-60-24z"/>
<path fill="#00006f" stroke="#00001a" d="M5312 3631l60 20 35 23-60-19z"/>
<path fill="#007" stroke="#000027" d="M5372 3651l60 15 35 22-60-14z"/>
<path fill="#00007e" stroke="#00002a" d="M5432 3666l60 12 35 21-60-11z"/>
<path fill="#000084" stroke="#00003a" d="M5492 3678l60 8 35 21-60-8z"/>
<path fill="#008" stroke="#00003c" d="M5552 3686l60 5 35 20-60-4z"/>
<path fill="#00008c" stroke="#00004f" d="M5612 3691l60 2 35 20-60-2z"/>
<path fill="#000092" stroke="#000053" d="M5672 3693l60 0 35 20-60 0z"/>
<path fill="#000093" stroke="#000067" d="M5732 3693l60-1 35 19-60 2z"/>
<path fill="#000098" stroke="#00006b" d="M5792 3692l60-4 35 19-60 4z"/>
<path fill="#00009d" stroke="#00006e" d="M5852 3688l60-5 35 19-60 5z"/>
<path fill="#009" stroke="#00006b" d="M1685 4458l60-13 35 18-60 13zm60-13l60-15 35 18-60 15zm60-15l60-17 35 19-60 16zm4142-728l60-6 35 19-60 6zm60-6l60-7 35 19-60 7zm60-7l60-7 35 18-60 8zm60-7l60-8 35 18-60 8zm60-8l60-9 35 18-60 9z"/>
<path fill="#00009e" stroke="#00006e" d="M1865 4413l61-18 34 18-60 19zm61-18l60-22 34 19-60 21zm60-22l60-25 34 20-60 24z"/>
<path fill="#0000a3" stroke="#000072" d="M2046 4348l60-30 34 21-60 29z"/>
<path fill="#0000a8" stroke="#000076" d="M2106 4318l60-35 34 23-60 33z"/>
<path fill="#0000ae" stroke="#000079" d="M2166 4283l60-41 34 24-60 40z"/>
<path fill="#0000b3" stroke="#00007d" d="M2226 4242l60-49 34 27-60 46z"/>
<path fill="#0000bd" stroke="#000085" d="M2286 4193l60-56 34 30-60 53z"/>
<path fill="#0000c3" stroke="#00006e" d="M2346 4137l60-64 34 35-60 59z"/>
<path fill="#0000d2" stroke="#007" d="M2406 4073l60-71 34 40-60 66z"/>
<path fill="#00d" stroke="#000062" d="M2466 4002l60-77 34 46-60 71z"/>
<path fill="#0000ed" stroke="#000068" d="M2526 3925l60-81 35 52-61 75z"/>
<path fill="#0000fc" stroke="#00006f" d="M2586 3844l60-82 35 57-60 77z"/>
<path fill="#0018ff" stroke="#000854" d="M2646 3762l60-83 35 64-60 76z"/>
<path fill="#0028ff" stroke="#00093b" d="M2706 3679l60-80 35 69-60 75z"/>
<path fill="#0048ff" stroke="#00113b" d="M2766 3599l60-77 35 74-60 72z"/>
<path fill="#0068ff" stroke="#000f25" d="M2826 3522l60-74 35 78-60 70z"/>
<path fill="#0078ff" stroke="#001125" d="M2886 3448l60-72 35 81-60 69z"/>
<path fill="#0087ff" stroke="#000a13" d="M2946 3376l60-71 35 84-60 68z"/>
<path fill="#00a7ff" stroke="#000406" d="M3006 3305l60-71 35 85-60 70z"/>
<path fill="#00b7ff" stroke="#000506" d="M3066 3234l60-73 35 88-60 70z"/>
<path fill="#00c7ff" stroke="#000506" d="M3126 3161l60-73 35 89-60 72z"/>
<path fill="#00d7ff" stroke="#000506" d="M3186 3088l60-75 35 91-60 73z"/>
<path fill="#00f7ff" stroke="#000606" d="M3246 3013l60-76 35 92-60 75z"/>
<path fill="#08fff7" stroke="#000606" d="M3306 2937l60-78 35 94-60 76z"/>
<path fill="#18ffe7" stroke="#010606" d="M3366 2859l60-79 35 96-60 77z"/>
<path fill="#28ffd7" stroke="#010605" d="M3426 2780l60-80 35 99-60 77zm1020-168l60 114 35 86-60-104z"/>
<path fill="#38ffc7" stroke="#010605" d="M3486 2700l60-78 35 101-60 76z"/>
<path fill="#58ffa7" stroke="#020604" d="M3546 2622l60-76 35 104-60 73z"/>
<path fill="#68ff97" stroke="#030604" d="M3606 2546l60-72 35 107-60 69zm720-157l60 109 35 104-60-101z"/>
<path fill="#78ff87" stroke="#030603" d="M3666 2474l60-66 35 109-60 64z"/>
<path fill="#87ff78" stroke="#030603" d="M3726 2408l60-60 35 111-60 58zm540-112l60 93 35 112-60-87z"/>
<path fill="#97ff68" stroke="#040603" d="M3786 2348l60-52 35 114-60 49zm60-52l60-42 35 116-60 40zm360-64l60 64 35 118-60-63z"/>
<path fill="#a7ff58" stroke="#040602" d="M3906 2254l60-32 35 117-60 31zm240-54l60 32 35 119-60-32z"/>
<path fill="#b7ff48" stroke="#050602" d="M3966 2222l60-21 35 118-60 20zm60-21l60-9 35 119-60 8zm60-9l60 8 35 119-60-8z"/>
<path fill="#48ffb7" stroke="#020605" d="M4386 2498l60 114 35 96-60-106z"/>
<path fill="#07eee6" stroke="#000606" d="M4506 2726l60 110 35 78-60-102z"/>
<path fill="#009dae" stroke="#000404" d="M4566 2836l60 105 35 70-60-97z"/>
<path fill="#005d81" stroke="#000203" d="M4626 2941l60 99 35 62-60-91z"/>
<path fill="#003b64" stroke="#000103" d="M4686 3040l60 92 35 56-60-86z"/>
<path fill="#002652" stroke="#000102" d="M4746 3132l60 85 35 49-60-78z"/>
<path fill="#001949" stroke="#000102" d="M4806 3217l60 77 35 44-60-72z"/>
<path fill="#000f45" stroke="#000002" d="M4866 3294l61 69 34 40-60-65z"/>
<path fill="#000746" stroke="#000002" d="M4927 3363l60 62 34 36-60-58z"/>
<path fill="#000047" stroke="#000002" d="M4987 3425l60 54 34 34-60-52z"/>
<path fill="#00004b" stroke="#000002" d="M5047 3479l60 48 34 30-60-44z"/>
<path fill="#000051" stroke="#000006" d="M5107 3527l60 41 34 28-60-39z"/>
<path fill="#005" stroke="#000006" d="M5167 3568l60 34 34 27-60-33z"/>
<path fill="#00005e" stroke="#00000e" d="M5227 3602l60 29 34 25-60-27z"/>
<path fill="#000065" stroke="#000017" d="M5287 3631l60 24 34 23-60-22z"/>
<path fill="#00006d" stroke="#000019" d="M5347 3655l60 19 34 22-60-18z"/>
<path fill="#000072" stroke="#000026" d="M5407 3674l60 14 34 22-60-14z"/>
<path fill="#000079" stroke="#000028" d="M5467 3688l60 11 35 21-61-10z"/>
<path fill="#000083" stroke="#00003a" d="M5527 3699l60 8 35 20-60-7z"/>
<path fill="#000087" stroke="#00003c" d="M5587 3707l60 4 35 20-60-4z"/>
<path fill="#00008b" stroke="#00004e" d="M5647 3711l60 2 35 19-60-1z"/>
<path fill="#000092" stroke="#000052" d="M5707 3713l60 0 35 19-60 0z"/>
<path fill="#000093" stroke="#000067" d="M5767 3713l60-2 35 19-60 2z"/>
<path fill="#000098" stroke="#00006a" d="M5827 3711l60-4 35 19-60 4z"/>
<path fill="#00009c" stroke="#00006d" d="M5887 3707l60-5 35 19-60 5z"/>
<path fill="#009" stroke="#00006b" d="M1720 4476l60-13 35 18-60 13zm60-13l60-15 35 19-60 14zm60-15l60-16 35 18-60 17zm4142-727l60-6 34 18-60 6zm60-6l60-7 34 18-60 7zm60-7l60-8 34 19-60 7zm60-8l60-8 35 18-61 9zm60-8l60-9 35 19-60 8z"/>
<path fill="#00009e" stroke="#00006e" d="M1900 4432l60-19 35 19-60 18zm60-19l60-21 35 20-60 20zm60-21l60-24 35 20-60 24z"/>
<path fill="#0000a3" stroke="#000072" d="M2080 4368l60-29 35 21-60 28z"/>
<path fill="#0000a8" stroke="#000076" d="M2140 4339l60-33 35 22-60 32z"/>
<path fill="#0000ae" stroke="#000079" d="M2200 4306l60-40 35 25-60 37z"/>
<path fill="#0000b3" stroke="#00007d" d="M2260 4266l60-46 35 27-60 44z"/>
<path fill="#0000b8" stroke="#000081" d="M2320 4220l60-53 35 31-60 49z"/>
<path fill="#0000c3" stroke="#00006e" d="M2380 4167l60-59 35 34-60 56z"/>
<path fill="#0000cd" stroke="#000074" d="M2440 4108l60-66 35 39-60 61z"/>
<path fill="#0000d8" stroke="#00005f" d="M2500 4042l60-71 35 44-60 66z"/>
<path fill="#0000e7" stroke="#006" d="M2560 3971l61-75 34 49-60 70z"/>
<path fill="#0000f2" stroke="#00006b" d="M2621 3896l60-77 34 56-60 70z"/>
<path fill="#0008ff" stroke="#000354" d="M2681 3819l60-76 34 61-60 71z"/>
<path fill="#0018ff" stroke="#000854" d="M2741 3743l60-75 34 66-60 70z"/>
<path fill="#0038ff" stroke="#000d3b" d="M2801 3668l60-72 34 70-60 68z"/>
<path fill="#0048ff" stroke="#00113b" d="M2861 3596l60-70 34 74-60 66z"/>
<path fill="#0068ff" stroke="#000f25" d="M2921 3526l60-69 34 77-60 66z"/>
<path fill="#0078ff" stroke="#001125" d="M2981 3457l60-68 34 79-60 66z"/>
<path fill="#0087ff" stroke="#000a13" d="M3041 3389l60-70 34 82-60 67z"/>
<path fill="#00a7ff" stroke="#000406" d="M3101 3319l60-70 34 83-60 69z"/>
<path fill="#00b7ff" stroke="#000506" d="M3161 3249l60-72 35 85-61 70z"/>
<path fill="#00c7ff" stroke="#000506" d="M3221 3177l60-73 35 87-60 71z"/>
<path fill="#00d7ff" stroke="#000506" d="M3281 3104l60-75 35 89-60 73z"/>
<path fill="#00f7ff" stroke="#000606" d="M3341 3029l60-76 35 91-60 74z"/>
<path fill="#08fff7" stroke="#000606" d="M3401 2953l60-77 35 93-60 75z"/>
<path fill="#18ffe7" stroke="#010606" d="M3461 2876l60-77 35 95-60 75zm1020-168l60 104 35 81-60-96z"/>
<path fill="#28ffd7" stroke="#010605" d="M3521 2799l60-76 35 98-60 73z"/>
<path fill="#38ffc7" stroke="#010605" d="M3581 2723l60-73 35 101-60 70zm840-121l60 106 35 89-60-96z"/>
<path fill="#48ffb7" stroke="#020605" d="M3641 2650l60-69 35 103-60 67z"/>
<path fill="#58ffa7" stroke="#020604" d="M3701 2581l60-64 35 106-60 61zm660-80l60 101 35 99-60-93z"/>
<path fill="#68ff97" stroke="#030604" d="M3761 2517l60-58 35 109-60 55zm540-103l60 87 35 107-60-82z"/>
<path fill="#78ff87" stroke="#030603" d="M3821 2459l60-49 35 111-60 47zm420-108l60 63 35 112-60-60z"/>
<path fill="#87ff78" stroke="#030603" d="M3881 2410l60-40 35 112-60 39zm60-40l60-31 35 113-60 30zm240-51l60 32 35 115-60-32z"/>
<path fill="#97ff68" stroke="#040603" d="M4001 2339l60-20 35 114-60 19zm60-20l60-8 35 114-60 8zm60-8l60 8 35 115-60-9z"/>
<path fill="#00e4eb" stroke="#000606" d="M4541 2812l60 102 35 72-60-93z"/>
<path fill="#0087ad" stroke="#000304" d="M4601 2914l60 97 35 65-60-90z"/>
<path fill="#005481" stroke="#000203" d="M4661 3011l60 91 35 58-60-84z"/>
<path fill="#003563" stroke="#000102" d="M4721 3102l60 86 35 52-60-80z"/>
<path fill="#002152" stroke="#000102" d="M4781 3188l60 78 35 47-60-73z"/>
<path fill="#001448" stroke="#000102" d="M4841 3266l60 72 35 42-60-67z"/>
<path fill="#000b44" stroke="#000002" d="M4901 3338l60 65 35 38-60-61z"/>
<path fill="#000244" stroke="#000002" d="M4961 3403l60 58 35 34-60-54z"/>
<path fill="#000046" stroke="#000002" d="M5021 3461l60 52 35 31-60-49z"/>
<path fill="#000048" stroke="#000002" d="M5081 3513l60 44 35 29-60-42z"/>
<path fill="#00004d" stroke="#000006" d="M5141 3557l60 39 35 27-60-37z"/>
<path fill="#000053" stroke="#000006" d="M5201 3596l60 33 35 25-60-31z"/>
<path fill="#00005a" stroke="#00000d" d="M5261 3629l60 27 35 24-60-26z"/>
<path fill="#000063" stroke="#00000e" d="M5321 3656l60 22 35 23-60-21z"/>
<path fill="#000068" stroke="#000018" d="M5381 3678l60 18 35 22-60-17z"/>
<path fill="#000070" stroke="#000025" d="M5441 3696l60 14 35 21-60-13z"/>
<path fill="#007" stroke="#000027" d="M5501 3710l61 10 34 20-60-9z"/>
<path fill="#00007d" stroke="#000037" d="M5562 3720l60 7 34 20-60-7z"/>
<path fill="#000086" stroke="#00003b" d="M5622 3727l60 4 34 19-60-3z"/>
<path fill="#000089" stroke="#00004e" d="M5682 3731l60 1 34 20-60-2z"/>
<path fill="#000090" stroke="#000052" d="M5742 3732l60 0 34 19-60 1z"/>
<path fill="#000092" stroke="#006" d="M5802 3732l60-2 34 18-60 3z"/>
<path fill="#000097" stroke="#00006a" d="M5862 3730l60-4 34 18-60 4z"/>
<path fill="#00009b" stroke="#00006d" d="M5922 3726l60-5 34 18-60 5z"/>
<path fill="#009" stroke="#00006b" d="M1755 4494l60-13 35 19-60 13zm60-13l60-14 35 18-60 15zm60-14l60-17 35 19-60 16zm4141-728l60-6 35 18-60 7zm60-6l60-7 35 18-60 7zm60-7l60-7 35 18-60 7zm60-7l61-9 34 18-60 9zm61-9l60-8 34 18-60 8z"/>
<path fill="#00009e" stroke="#00006e" d="M1935 4450l60-18 35 19-60 18zm60-18l60-20 35 19-60 20zm60-20l60-24 35 20-60 23z"/>
<path fill="#0000a3" stroke="#000072" d="M2115 4388l60-28 35 22-60 26zm60-28l60-32 35 23-60 31z"/>
<path fill="#0000a8" stroke="#000076" d="M2235 4328l60-37 35 24-60 36z"/>
<path fill="#0000ae" stroke="#000079" d="M2295 4291l60-44 35 27-60 41z"/>
<path fill="#0000b8" stroke="#000081" d="M2355 4247l60-49 35 30-60 46z"/>
<path fill="#0000bd" stroke="#00006b" d="M2415 4198l60-56 35 34-60 52z"/>
<path fill="#0000c8" stroke="#000071" d="M2475 4142l60-61 35 38-60 57z"/>
<path fill="#0000d2" stroke="#007" d="M2535 4081l60-66 35 42-60 62z"/>
<path fill="#0000e2" stroke="#000064" d="M2595 4015l60-70 35 48-60 64z"/>
<path fill="#0000ed" stroke="#000068" d="M2655 3945l60-70 35 53-60 65z"/>
<path fill="#0000f7" stroke="#00006d" d="M2715 3875l60-71 35 58-60 66z"/>
<path fill="#0008ff" stroke="#000354" d="M2775 3804l60-70 35 63-60 65z"/>
<path fill="#0028ff" stroke="#00093b" d="M2835 3734l60-68 35 67-60 64z"/>
<path fill="#0038ff" stroke="#000d3b" d="M2895 3666l60-66 35 70-60 63z"/>
<path fill="#0048ff" stroke="#00113b" d="M2955 3600l60-66 35 73-60 63z"/>
<path fill="#0068ff" stroke="#000f25" d="M3015 3534l60-66 35 75-60 64z"/>
<path fill="#0078ff" stroke="#001125" d="M3075 3468l60-67 35 77-60 65z"/>
<path fill="#0087ff" stroke="#000a13" d="M3135 3401l60-69 35 80-60 66z"/>
<path fill="#0097ff" stroke="#000c13" d="M3195 3332l61-70 34 82-60 68z"/>
<path fill="#00b7ff" stroke="#000506" d="M3256 3262l60-71 34 83-60 70z"/>
<path fill="#00c7ff" stroke="#000506" d="M3316 3191l60-73 34 85-60 71z"/>
<path fill="#00d7ff" stroke="#000506" d="M3376 3118l60-74 34 87-60 72z"/>
<path fill="#00e7ff" stroke="#000606" d="M3436 3044l60-75 34 89-60 73z"/>
<path fill="#08fff7" stroke="#000606" d="M3496 2969l60-75 34 92-60 72zm1020-172l60 96 35 75-60-87z"/>
<path fill="#18ffe7" stroke="#010606" d="M3556 2894l60-73 34 95-60 70zm900-193l60 96 35 84-60-88z"/>
<path fill="#28ffd7" stroke="#010605" d="M3616 2821l60-70 34 97-60 68z"/>
<path fill="#38ffc7" stroke="#010605" d="M3676 2751l60-67 34 100-60 64zm720-143l60 93 35 92-60-84z"/>
<path fill="#48ffb7" stroke="#020605" d="M3736 2684l60-61 34 102-60 59z"/>
<path fill="#58ffa7" stroke="#020604" d="M3796 2623l60-55 35 105-61 52zm60-55l60-47 35 106-60 46zm480-42l60 82 35 101-60-76z"/>
<path fill="#68ff97" stroke="#030604" d="M3916 2521l60-39 35 108-60 37zm60-39l60-30 35 110-60 28zm300-16l60 60 35 107-60-57z"/>
<path fill="#78ff87" stroke="#030603" d="M4036 2452l60-19 35 110-60 19zm60-19l60-8 35 110-60 8zm60-8l60 9 35 110-60-9zm60 9l60 32 35 110-60-32z"/>
<path fill="#00c2e6" stroke="#000506" d="M4576 2893l60 93 35 68-60-86z"/>
<path fill="#007aa9" stroke="#000304" d="M4636 2986l60 90 35 60-60-82z"/>
<path fill="#004b7e" stroke="#000203" d="M4696 3076l60 84 35 54-60-78z"/>
<path fill="#002e61" stroke="#000102" d="M4756 3160l60 80 35 48-60-74z"/>
<path fill="#001b50" stroke="#000102" d="M4816 3240l60 73 35 43-60-68z"/>
<path fill="#000f46" stroke="#000002" d="M4876 3313l60 67 35 39-60-63z"/>
<path fill="#000642" stroke="#000002" d="M4936 3380l60 61 35 35-60-57z"/>
<path fill="#000242" stroke="#000002" d="M4996 3441l60 54 35 33-60-52z"/>
<path fill="#000042" stroke="#000002" d="M5056 3495l60 49 35 29-60-45z"/>
<path fill="#000046" stroke="#000002" d="M5116 3544l60 42 35 27-60-40z"/>
<path fill="#00004b" stroke="#000006" d="M5176 3586l60 37 35 25-60-35z"/>
<path fill="#000051" stroke="#000006" d="M5236 3623l60 31 35 24-60-30z"/>
<path fill="#000057" stroke="#00000d" d="M5296 3654l60 26 35 22-60-24z"/>
<path fill="#000060" stroke="#00000e" d="M5356 3680l60 21 35 21-60-20z"/>
<path fill="#006" stroke="#000018" d="M5416 3701l60 17 35 21-60-17z"/>
<path fill="#00006e" stroke="#000024" d="M5476 3718l60 13 35 20-60-12z"/>
<path fill="#000075" stroke="#000027" d="M5536 3731l60 9 35 20-60-9z"/>
<path fill="#00007b" stroke="#000036" d="M5596 3740l60 7 35 19-60-6z"/>
<path fill="#000084" stroke="#00003a" d="M5656 3747l60 3 35 19-60-3z"/>
<path fill="#008" stroke="#00004d" d="M5716 3750l60 2 35 18-60-1z"/>
<path fill="#00008f" stroke="#000051" d="M5776 3752l60-1 35 18-60 1z"/>
<path fill="#000090" stroke="#000065" d="M5836 3751l60-3 35 19-60 2z"/>
<path fill="#000096" stroke="#000069" d="M5896 3748l60-4 35 19-60 4z"/>
<path fill="#00009a" stroke="#00006c" d="M5956 3744l60-5 35 19-60 5z"/>
<path fill="#009" stroke="#00006b" d="M1790 4513l60-13 35 18-60 13zm60-13l60-15 35 19-60 14zm60-15l60-16 35 19-60 16zm4081-722l60-5 35 18-60 5zm120-12l60-7 35 19-60 7zm60-7l60-7 35 18-60 8zm60-7l60-9 35 19-60 8zm60-9l60-8 35 18-60 9z"/>
<path fill="#00009e" stroke="#00006e" d="M1970 4469l60-18 35 19-60 18zm60-18l60-20 35 20-60 19zm60-20l60-23 35 20-60 23z"/>
<path fill="#0000a3" stroke="#000072" d="M2150 4408l60-26 35 21-60 25zm60-26l60-31 35 22-60 30z"/>
<path fill="#0000a8" stroke="#000076" d="M2270 4351l60-36 35 25-60 33z"/>
<path fill="#0000ae" stroke="#000079" d="M2330 4315l60-41 35 27-60 39z"/>
<path fill="#0000b3" stroke="#00007d" d="M2390 4274l60-46 35 29-60 44z"/>
<path fill="#0000bd" stroke="#000085" d="M2450 4228l60-52 35 33-60 48z"/>
<path fill="#0000c8" stroke="#000071" d="M2510 4176l60-57 35 36-60 54z"/>
<path fill="#0000cd" stroke="#000074" d="M2570 4119l60-62 35 42-60 56z"/>
<path fill="#00d" stroke="#000062" d="M2630 4057l60-64 35 46-60 60z"/>
<path fill="#0000e7" stroke="#006" d="M2690 3993l60-65 35 50-60 61z"/>
<path fill="#0000f2" stroke="#00006b" d="M2750 3928l60-66 35 55-60 61z"/>
<path fill="#0000fc" stroke="#00006f" d="M2810 3862l60-65 35 59-60 61z"/>
<path fill="#0018ff" stroke="#000854" d="M2870 3797l60-64 35 63-60 60z"/>
<path fill="#0028ff" stroke="#00093b" d="M2930 3733l60-63 35 66-60 60z"/>
<path fill="#0038ff" stroke="#000d3b" d="M2990 3670l60-63 35 69-60 60z"/>
<path fill="#0048ff" stroke="#00113b" d="M3050 3607l60-64 35 71-60 62z"/>
<path fill="#0068ff" stroke="#000f25" d="M3110 3543l60-65 35 74-60 62z"/>
<path fill="#0078ff" stroke="#001125" d="M3170 3478l60-66 35 75-60 65z"/>
<path fill="#0087ff" stroke="#000a13" d="M3230 3412l60-68 35 77-60 66z"/>
<path fill="#0097ff" stroke="#000c13" d="M3290 3344l60-70 35 79-60 68z"/>
<path fill="#00b7ff" stroke="#000506" d="M3350 3274l60-71 35 81-60 69z"/>
<path fill="#00c7ff" stroke="#000506" d="M3410 3203l60-72 35 83-60 70z"/>
<path fill="#00d7ff" stroke="#000506" d="M3470 3131l60-73 35 86-60 70z"/>
<path fill="#00e7ff" stroke="#000606" d="M3530 3058l60-72 35 89-60 69zm1021-177l60 87 35 71-60-80z"/>
<path fill="#08fff7" stroke="#000606" d="M3590 2986l60-70 35 91-60 68zm901-193l60 88 35 78-61-80z"/>
<path fill="#18ffe7" stroke="#010606" d="M3650 2916l60-68 35 94-60 65zm60-68l60-64 35 96-60 62z"/>
<path fill="#28ffd7" stroke="#010605" d="M3770 2784l60-59 35 99-60 56zm661-75l60 84 34 86-60-76z"/>
<path fill="#38ffc7" stroke="#010605" d="M3830 2725l61-52 34 100-60 51zm541-92l60 76 34 94-60-70z"/>
<path fill="#48ffb7" stroke="#020605" d="M3891 2673l60-46 34 103-60 43zm60-46l60-37 34 104-60 36zm360-51l60 57 34 100-60-53z"/>
<path fill="#58ffa7" stroke="#020604" d="M4011 2590l60-28 34 105-60 27zm60-28l60-19 34 105-60 19zm60-19l60-8 34 105-60 8zm60-8l60 9 34 105-60-9zm60 9l60 32 34 104-60-31z"/>
<path fill="#00aedf" stroke="#000406" d="M4611 2968l60 86 35 63-60-78z"/>
<path fill="#006ca4" stroke="#000304" d="M4671 3054l60 82 35 57-60-76z"/>
<path fill="#00487a" stroke="#000203" d="M4731 3136l60 78 35 51-60-72z"/>
<path fill="#002c5e" stroke="#000102" d="M4791 3214l60 74 35 45-60-68z"/>
<path fill="#001a4d" stroke="#000102" d="M4851 3288l60 68 35 41-60-64z"/>
<path fill="#000f44" stroke="#000002" d="M4911 3356l60 63 35 36-60-58z"/>
<path fill="#000640" stroke="#000002" d="M4971 3419l60 57 35 33-60-54z"/>
<path fill="#00003f" stroke="#000002" d="M5031 3476l60 52 35 30-60-49z"/>
<path fill="#000040" stroke="#000002" d="M5091 3528l60 45 35 28-60-43z"/>
<path fill="#000041" stroke="#000002" d="M5151 3573l60 40 35 26-60-38z"/>
<path fill="#000046" stroke="#000005" d="M5211 3613l60 35 35 24-60-33z"/>
<path fill="#00004c" stroke="#000006" d="M5271 3648l60 30 35 22-60-28z"/>
<path fill="#000054" stroke="#00000c" d="M5331 3678l60 24 35 22-60-24z"/>
<path fill="#00005b" stroke="#00000d" d="M5391 3702l60 20 35 21-60-19z"/>
<path fill="#000064" stroke="#000017" d="M5451 3722l60 17 35 20-60-16z"/>
<path fill="#00006c" stroke="#000019" d="M5511 3739l60 12 35 20-60-12z"/>
<path fill="#000073" stroke="#000026" d="M5571 3751l60 9 35 19-60-8z"/>
<path fill="#000079" stroke="#000035" d="M5631 3760l60 6 35 19-60-6z"/>
<path fill="#000082" stroke="#00003a" d="M5691 3766l60 3 35 19-60-3z"/>
<path fill="#000086" stroke="#00004c" d="M5751 3769l60 1 35 19-60-1z"/>
<path fill="#00008d" stroke="#000050" d="M5811 3770l60-1 35 19-60 1z"/>
<path fill="#00008f" stroke="#000064" d="M5871 3769l60-2 35 18-60 3z"/>
<path fill="#000095" stroke="#000068" d="M5931 3767l60-4 35 18-60 4z"/>
<path fill="#000098" stroke="#00006a" d="M6051 3758l60-7 35 19-60 6z"/>
<path fill="#009" stroke="#00006b" d="M1825 4531l60-13 34 18-60 13zm60-13l60-14 34 18-60 14zm60-14l60-16 34 19-60 15zm60-16l60-18 34 19-60 18zm4141-718l60-7 35 18-60 7zm60-7l60-8 35 18-60 8zm60-8l60-8 35 18-60 8zm60-8l60-9 35 18-60 9z"/>
<path fill="#00009e" stroke="#00006e" d="M2065 4470l60-19 34 19-60 19zm60-19l60-23 35 21-61 21z"/>
<path fill="#0000a3" stroke="#000072" d="M2185 4428l60-25 35 21-60 25zm60-25l60-30 35 23-60 28z"/>
<path fill="#0000a8" stroke="#000076" d="M2305 4373l60-33 35 24-60 32z"/>
<path fill="#0000ae" stroke="#000079" d="M2365 4340l60-39 35 26-60 37z"/>
<path fill="#0000b3" stroke="#00007d" d="M2425 4301l60-44 35 29-60 41z"/>
<path fill="#0000b8" stroke="#000081" d="M2485 4257l60-48 35 32-60 45z"/>
<path fill="#0000c3" stroke="#00006e" d="M2545 4209l60-54 35 36-60 50z"/>
<path fill="#0000cd" stroke="#000074" d="M2605 4155l60-56 35 40-60 52z"/>
<path fill="#0000d8" stroke="#00007a" d="M2665 4099l60-60 35 44-60 56z"/>
<path fill="#0000e2" stroke="#000064" d="M2725 4039l60-61 35 49-60 56z"/>
<path fill="#0000ed" stroke="#000068" d="M2785 3978l60-61 35 53-60 57z"/>
<path fill="#0000f7" stroke="#00006d" d="M2845 3917l60-61 35 57-60 57z"/>
<path fill="#0008ff" stroke="#000354" d="M2905 3856l60-60 35 60-60 57z"/>
<path fill="#0018ff" stroke="#000854" d="M2965 3796l60-60 35 63-60 57z"/>
<path fill="#0028ff" stroke="#00093b" d="M3025 3736l60-60 35 65-60 58z"/>
<path fill="#0038ff" stroke="#000d3b" d="M3085 3676l60-62 35 68-60 59z"/>
<path fill="#0048ff" stroke="#00113b" d="M3145 3614l60-62 35 69-60 61z"/>
<path fill="#0068ff" stroke="#000f25" d="M3205 3552l60-65 35 72-60 62z"/>
<path fill="#0078ff" stroke="#001125" d="M3265 3487l60-66 35 74-60 64z"/>
<path fill="#0087ff" stroke="#000a13" d="M3325 3421l60-68 35 76-60 66z"/>
<path fill="#0097ff" stroke="#000c13" d="M3385 3353l60-69 35 78-60 67z"/>
<path fill="#00b7ff" stroke="#000506" d="M3445 3284l60-70 35 81-60 67z"/>
<path fill="#00c7ff" stroke="#000506" d="M3505 3214l60-70 35 83-60 68z"/>
<path fill="#00d7ff" stroke="#000506" d="M3565 3144l60-69 35 85-60 67zm1021-185l60 80 34 65-60-73z"/>
<path fill="#00e7ff" stroke="#000606" d="M3625 3075l60-68 35 87-60 66z"/>
<path fill="#00f7ff" stroke="#000606" d="M3685 3007l60-65 35 90-60 62zm840-128l61 80 34 72-60-71z"/>
<path fill="#08fff7" stroke="#000606" d="M3745 2942l60-62 35 93-60 59zm720-139l60 76 35 81-60-70z"/>
<path fill="#18ffe7" stroke="#010606" d="M3805 2880l60-56 35 94-60 55z"/>
<path fill="#28ffd7" stroke="#010605" d="M3865 2824l60-51 35 97-60 48zm540-91l60 70 35 87-60-63z"/>
<path fill="#38ffc7" stroke="#010605" d="M3925 2773l60-43 35 98-60 42zm60-43l60-36 35 100-60 34zm60-36l60-27 35 100-60 27zm300-14l60 53 35 94-60-49z"/>
<path fill="#48ffb7" stroke="#020605" d="M4105 2667l60-19 35 100-60 19zm60-19l60-8 35 101-60 7zm60-8l60 9 35 100-60-8zm60 9l60 31 35 98-60-29z"/>
<path fill="#009ad7" stroke="#000405" d="M4646 3039l60 78 34 58-60-71z"/>
<path fill="#005e9e" stroke="#000204" d="M4706 3117l60 76 34 52-60-70z"/>
<path fill="#003e75" stroke="#000203" d="M4766 3193l60 72 34 46-60-66z"/>
<path fill="#00255a" stroke="#000102" d="M4826 3265l60 68 34 42-60-64z"/>
<path fill="#00154a" stroke="#000102" d="M4886 3333l60 64 34 37-60-59z"/>
<path fill="#000a41" stroke="#000002" d="M4946 3397l60 58 34 34-60-55z"/>
<path fill="#00023d" stroke="#000002" d="M5006 3455l60 54 34 31-60-51z"/>
<path fill="#00003b" stroke="#000001" d="M5066 3509l60 49 34 28-60-46z"/>
<path fill="#00003c" stroke="#000001" d="M5126 3558l60 43 35 26-61-41z"/>
<path fill="#00003e" stroke="#000002" d="M5186 3601l60 38 35 24-60-36z"/>
<path fill="#000043" stroke="#000002" d="M5246 3639l60 33 35 23-60-32z"/>
<path fill="#000049" stroke="#000006" d="M5306 3672l60 28 35 22-60-27z"/>
<path fill="#000051" stroke="#00000c" d="M5366 3700l60 24 35 21-60-23z"/>
<path fill="#000058" stroke="#00000d" d="M5426 3724l60 19 35 20-60-18z"/>
<path fill="#000061" stroke="#000016" d="M5486 3743l60 16 35 19-60-15z"/>
<path fill="#000069" stroke="#000018" d="M5546 3759l60 12 35 19-60-12z"/>
<path fill="#000070" stroke="#000025" d="M5606 3771l60 8 35 19-60-8z"/>
<path fill="#007" stroke="#000034" d="M5666 3779l60 6 35 18-60-5z"/>
<path fill="#000080" stroke="#000039" d="M5726 3785l60 3 35 18-60-3z"/>
<path fill="#000084" stroke="#00003a" d="M5786 3788l60 1 35 18-60-1z"/>
<path fill="#00008c" stroke="#00004f" d="M5846 3789l60-1 35 18-60 1z"/>
<path fill="#00008e" stroke="#000050" d="M5906 3788l60-3 35 18-60 3z"/>
<path fill="#000093" stroke="#000067" d="M5966 3785l60-4 35 18-60 4z"/>
<path fill="#000098" stroke="#00006a" d="M6026 3781l60-5 35 18-60 5z"/>
<path fill="#000097" stroke="#00006a" d="M6086 3776l60-6 35 18-60 6z"/>
<path fill="#009" stroke="#00006b" d="M1859 4549l60-13 35 19-60 13zm60-13l60-14 35 19-60 14zm60-14l60-15 35 18-60 16zm60-15l60-18 35 20-60 16zm4142-719l60-7 35 17-60 7zm60-7l60-8 35 18-60 7zm60-8l60-8 35 17-60 9zm60-8l60-9 35 18-60 8z"/>
<path fill="#00009e" stroke="#00006e" d="M2099 4489l60-19 35 20-60 19zm60-19l61-21 34 20-60 21z"/>
<path fill="#0000a3" stroke="#000072" d="M2220 4449l60-25 34 21-60 24zm60-25l60-28 34 22-60 27z"/>
<path fill="#0000a8" stroke="#000076" d="M2340 4396l60-32 34 24-60 30z"/>
<path fill="#0000ae" stroke="#000079" d="M2400 4364l60-37 34 26-60 35z"/>
<path fill="#0000b3" stroke="#00007d" d="M2460 4327l60-41 34 29-60 38z"/>
<path fill="#0000b8" stroke="#000081" d="M2520 4286l60-45 34 31-60 43z"/>
<path fill="#0000bd" stroke="#00006b" d="M2580 4241l60-50 34 35-60 46z"/>
<path fill="#0000c8" stroke="#000071" d="M2640 4191l60-52 34 38-60 49z"/>
<path fill="#0000d2" stroke="#007" d="M2700 4139l60-56 34 43-60 51z"/>
<path fill="#0000d8" stroke="#00005f" d="M2760 4083l60-56 34 46-60 53z"/>
<path fill="#0000e2" stroke="#000064" d="M2820 4027l60-57 35 50-61 53z"/>
<path fill="#0000ed" stroke="#000068" d="M2880 3970l60-57 35 53-60 54z"/>
<path fill="#0000f7" stroke="#00006d" d="M2940 3913l60-57 35 57-60 53z"/>
<path fill="#0008ff" stroke="#000354" d="M3000 3856l60-57 35 59-60 55z"/>
<path fill="#0018ff" stroke="#000854" d="M3060 3799l60-58 35 62-60 55z"/>
<path fill="#0028ff" stroke="#00093b" d="M3120 3741l60-59 35 64-60 57z"/>
<path fill="#0038ff" stroke="#000d3b" d="M3180 3682l60-61 35 66-60 59z"/>
<path fill="#0048ff" stroke="#00113b" d="M3240 3621l60-62 35 68-60 60z"/>
<path fill="#0068ff" stroke="#000f25" d="M3300 3559l60-64 35 70-60 62z"/>
<path fill="#0078ff" stroke="#001125" d="M3360 3495l60-66 35 72-60 64z"/>
<path fill="#0087ff" stroke="#000a13" d="M3420 3429l60-67 35 75-60 64z"/>
<path fill="#0097ff" stroke="#000c13" d="M3480 3362l60-67 35 76-60 66z"/>
<path fill="#00a7ff" stroke="#000406" d="M3540 3295l60-68 35 79-60 65z"/>
<path fill="#00c7ff" stroke="#000506" d="M3600 3227l60-67 35 81-60 65zm1020-196l60 73 35 60-60-65z"/>
<path fill="#00d7ff" stroke="#000506" d="M3660 3160l60-66 35 84-60 63z"/>
<path fill="#00e7ff" stroke="#000606" d="M3720 3094l60-62 35 86-60 60zm840-134l60 71 35 68-60-65z"/>
<path fill="#00f7ff" stroke="#000606" d="M3780 3032l60-59 35 88-60 57zm720-142l60 70 35 74-60-62z"/>
<path fill="#08fff7" stroke="#000606" d="M3840 2973l60-55 35 91-60 52z"/>
<path fill="#18ffe7" stroke="#010606" d="M3900 2918l60-48 35 92-60 47zm60-48l60-42 35 94-60 40zm480-43l60 63 35 82-60-57z"/>
<path fill="#28ffd7" stroke="#010605" d="M4020 2828l60-34 35 94-60 34zm60-34l60-27 35 95-60 26zm60-27l60-19 35 96-60 18zm120-26l60 8 35 94-60-7zm60 8l60 29 35 92-60-27zm60 29l60 49 35 88-60-45z"/>
<path fill="#38ffc7" stroke="#010605" d="M4200 2748l60-7 35 95-60 8z"/>
<path fill="#0087ce" stroke="#000305" d="M4680 3104l60 71 35 54-60-65z"/>
<path fill="#005a97" stroke="#000204" d="M4740 3175l60 70 35 48-60-64z"/>
<path fill="#003570" stroke="#000103" d="M4800 3245l60 66 35 44-60-62z"/>
<path fill="#001e56" stroke="#000102" d="M4860 3311l60 64 35 39-60-59z"/>
<path fill="#000f46" stroke="#000002" d="M4920 3375l60 59 35 35-60-55z"/>
<path fill="#000a3d" stroke="#000" d="M4980 3434l60 55 35 32-60-52z"/>
<path fill="#00023a" stroke="#000" d="M5040 3489l60 51 35 29-60-48z"/>
<path fill="#000038" stroke="#000" d="M5100 3540l60 46 35 26-60-43z"/>
<path fill="#000039" stroke="#000001" d="M5160 3586l61 41 34 24-60-39z"/>
<path fill="#00003b" stroke="#000001" d="M5221 3627l60 36 34 23-60-35z"/>
<path fill="#000040" stroke="#000002" d="M5281 3663l60 32 34 21-60-30z"/>
<path fill="#000046" stroke="#000005" d="M5341 3695l60 27 34 20-60-26z"/>
<path fill="#00004c" stroke="#000006" d="M5401 3722l60 23 34 19-60-22z"/>
<path fill="#005" stroke="#00000c" d="M5461 3745l60 18 34 19-60-18z"/>
<path fill="#00005e" stroke="#000016" d="M5521 3763l60 15 34 19-60-15z"/>
<path fill="#006" stroke="#000018" d="M5581 3778l60 12 34 18-60-11z"/>
<path fill="#00006e" stroke="#000024" d="M5641 3790l60 8 34 18-60-8z"/>
<path fill="#000074" stroke="#000026" d="M5701 3798l60 5 34 18-60-5z"/>
<path fill="#00007e" stroke="#000038" d="M5761 3803l60 3 34 18-60-3z"/>
<path fill="#000082" stroke="#00003a" d="M5821 3806l60 1 35 18-61-1z"/>
<path fill="#00008a" stroke="#00004e" d="M5881 3807l60-1 35 18-60 1z"/>
<path fill="#00008c" stroke="#00004f" d="M5941 3806l60-3 35 18-60 3z"/>
<path fill="#000092" stroke="#006" d="M6001 3803l60-4 35 18-60 4z"/>
<path fill="#000097" stroke="#00006a" d="M6061 3799l60-5 35 18-60 5z"/>
<path fill="#000096" stroke="#000069" d="M6121 3794l60-6 35 17-60 7z"/>
<path fill="#009" stroke="#00006b" d="M1894 4568l60-13 35 18-60 13zm60-13l60-14 35 18-60 14zm60-14l60-16 35 19-60 15zm60-16l60-16 35 19-60 16zm4142-720l60-7 34 18-60 7zm60-7l60-7 34 18-60 7zm60-7l60-9 34 18-60 9zm60-9l60-8 34 18-60 8zm60-8l60-9 35 18-61 9z"/>
<path fill="#00009e" stroke="#00006e" d="M2134 4509l60-19 35 19-60 19zm60-19l60-21 35 20-60 20zm60-21l60-24 35 21-60 23z"/>
<path fill="#0000a3" stroke="#000072" d="M2314 4445l60-27 35 23-60 25z"/>
<path fill="#0000a8" stroke="#000076" d="M2374 4418l60-30 35 24-60 29zm60-30l60-35 35 26-60 33z"/>
<path fill="#0000ae" stroke="#000079" d="M2494 4353l60-38 35 28-60 36z"/>
<path fill="#0000b8" stroke="#000081" d="M2554 4315l60-43 35 31-60 40z"/>
<path fill="#0000bd" stroke="#000085" d="M2614 4272l60-46 35 34-60 43z"/>
<path fill="#0000c3" stroke="#00006e" d="M2674 4226l60-49 35 38-60 45z"/>
<path fill="#0000cd" stroke="#000074" d="M2734 4177l60-51 35 41-60 48z"/>
<path fill="#0000d8" stroke="#00007a" d="M2794 4126l60-53 35 45-60 49z"/>
<path fill="#00d" stroke="#000062" d="M2854 4073l61-53 34 48-60 50z"/>
<path fill="#0000e7" stroke="#006" d="M2915 4020l60-54 34 51-60 51z"/>
<path fill="#0000f2" stroke="#00006b" d="M2975 3966l60-53 34 53-60 51z"/>
<path fill="#0000f7" stroke="#00006d" d="M3035 3913l60-55 34 56-60 52z"/>
<path fill="#0008ff" stroke="#000354" d="M3095 3858l60-55 34 58-60 53z"/>
<path fill="#0018ff" stroke="#000854" d="M3155 3803l60-57 34 60-60 55z"/>
<path fill="#0028ff" stroke="#00093b" d="M3215 3746l60-59 34 63-60 56z"/>
<path fill="#0038ff" stroke="#000d3b" d="M3275 3687l60-60 34 65-60 58z"/>
<path fill="#0058ff" stroke="#000d25" d="M3335 3627l60-62 34 67-60 60z"/>
<path fill="#0068ff" stroke="#000f25" d="M3395 3565l60-64 34 69-60 62z"/>
<path fill="#0078ff" stroke="#001125" d="M3455 3501l60-64 35 71-61 62z"/>
<path fill="#0087ff" stroke="#000a13" d="M3515 3437l60-66 35 74-60 63z"/>
<path fill="#0097ff" stroke="#000c13" d="M3575 3371l60-65 35 76-60 63z"/>
<path fill="#00a7ff" stroke="#000406" d="M3635 3306l60-65 35 78-60 63z"/>
<path fill="#00c7ff" stroke="#000506" d="M3695 3241l60-63 35 81-60 60z"/>
<path fill="#00d7ff" stroke="#000506" d="M3755 3178l60-60 35 82-60 59zm840-144l60 65 35 62-60-58z"/>
<path fill="#00e7ff" stroke="#000606" d="M3815 3118l60-57 35 85-60 54zm60-57l60-52 35 87-60 50zm660-89l60 62 35 69-60-55z"/>
<path fill="#00f7ff" stroke="#000606" d="M3935 3009l60-47 35 89-60 45zm540-94l60 57 35 76-60-51z"/>
<path fill="#08fff7" stroke="#000606" d="M3995 2962l60-40 35 89-60 40zm60-40l60-34 35 90-60 33zm360-52l60 45 35 82-60-40z"/>
<path fill="#18ffe7" stroke="#010606" d="M4115 2888l60-26 35 90-60 26zm60-26l60-18 35 90-60 18zm60-18l60-8 35 90-60 8zm60-8l60 7 35 89-60-6zm60 7l60 27 35 87-60-25z"/>
<path fill="#00b7ff" stroke="#000506" d="M4655 3099l60 65 35 56-60-59z"/>
<path fill="#0075c5" stroke="#000305" d="M4715 3164l60 65 35 50-60-59z"/>
<path fill="#004d90" stroke="#000204" d="M4775 3229l60 64 35 45-60-59z"/>
<path fill="#002b6b" stroke="#000103" d="M4835 3293l60 62 35 40-60-57z"/>
<path fill="#001c52" stroke="#000102" d="M4895 3355l60 59 35 35-60-54z"/>
<path fill="#000f43" stroke="#000002" d="M4955 3414l60 55 35 32-60-52z"/>
<path fill="#00053a" stroke="#000" d="M5015 3469l60 52 35 29-60-49z"/>
<path fill="#000237" stroke="#000" d="M5075 3521l60 48 35 26-60-45z"/>
<path fill="#000036" stroke="#000" d="M5135 3569l60 43 35 25-60-42z"/>
<path fill="#000035" stroke="#000" d="M5195 3612l60 39 35 23-60-37z"/>
<path fill="#000037" stroke="#000001" d="M5255 3651l60 35 35 22-60-34z"/>
<path fill="#00003b" stroke="#000001" d="M5315 3686l60 30 35 21-60-29z"/>
<path fill="#000042" stroke="#000005" d="M5375 3716l60 26 35 20-60-25z"/>
<path fill="#000049" stroke="#000006" d="M5435 3742l60 22 35 19-60-21z"/>
<path fill="#000051" stroke="#00000c" d="M5495 3764l60 18 35 19-60-18z"/>
<path fill="#00005a" stroke="#00000d" d="M5555 3782l60 15 35 18-60-14z"/>
<path fill="#000063" stroke="#000017" d="M5615 3797l60 11 35 18-60-11z"/>
<path fill="#00006b" stroke="#000023" d="M5675 3808l60 8 35 18-60-8z"/>
<path fill="#000072" stroke="#000025" d="M5735 3816l60 5 35 18-60-5z"/>
<path fill="#00007b" stroke="#000036" d="M5795 3821l60 3 35 18-60-3z"/>
<path fill="#000080" stroke="#000039" d="M5855 3824l61 1 34 17-60 0z"/>
<path fill="#008" stroke="#00004d" d="M5916 3825l60-1 34 17-60 1z"/>
<path fill="#00008a" stroke="#00004e" d="M5976 3824l60-3 34 18-60 2z"/>
<path fill="#000090" stroke="#000065" d="M6036 3821l60-4 34 18-60 4z"/>
<path fill="#000096" stroke="#000069" d="M6096 3817l60-5 34 17-60 6z"/>
<path fill="#000095" stroke="#000068" d="M6156 3812l60-7 34 18-60 6z"/>
<path fill="#009" stroke="#00006b" d="M1929 4586l60-13 35 19-60 12zm60-13l60-14 35 19-60 14zm60-14l60-15 35 19-60 15zm60-15l60-16 35 19-60 16zm4201-728l60-7 35 17-60 8zm60-7l60-9 35 18-60 8zm60-9l60-8 35 17-60 9zm60-8l61-9 34 18-60 8z"/>
<path fill="#00009e" stroke="#00006e" d="M2169 4528l60-19 35 20-60 18zm60-19l60-20 35 20-60 20zm60-20l60-23 35 22-60 21z"/>
<path fill="#0000a3" stroke="#000072" d="M2349 4466l60-25 35 22-60 25zm60-25l60-29 35 23-60 28z"/>
<path fill="#0000a8" stroke="#000076" d="M2469 4412l60-33 35 26-60 30z"/>
<path fill="#0000ae" stroke="#000079" d="M2529 4379l60-36 35 28-60 34z"/>
<path fill="#0000b3" stroke="#00007d" d="M2589 4343l60-40 35 30-60 38z"/>
<path fill="#0000b8" stroke="#000081" d="M2649 4303l60-43 35 33-60 40z"/>
<path fill="#0000c3" stroke="#00006e" d="M2709 4260l60-45 35 35-60 43z"/>
<path fill="#0000c8" stroke="#000071" d="M2769 4215l60-48 35 39-60 44z"/>
<path fill="#0000d2" stroke="#007" d="M2829 4167l60-49 35 42-60 46z"/>
<path fill="#0000d8" stroke="#00005f" d="M2889 4118l60-50 35 45-60 47z"/>
<path fill="#0000e2" stroke="#000064" d="M2949 4068l60-51 35 48-60 48z"/>
<path fill="#0000e7" stroke="#006" d="M3009 4017l60-51 35 51-60 48z"/>
<path fill="#0000f2" stroke="#00006b" d="M3069 3966l60-52 35 53-60 50z"/>
<path fill="#0000fc" stroke="#00006f" d="M3129 3914l60-53 35 55-60 51z"/>
<path fill="#0008ff" stroke="#000354" d="M3189 3861l60-55 35 58-60 52z"/>
<path fill="#0018ff" stroke="#000854" d="M3249 3806l60-56 35 59-60 55z"/>
<path fill="#0028ff" stroke="#00093b" d="M3309 3750l60-58 35 61-60 56z"/>
<path fill="#0038ff" stroke="#000d3b" d="M3369 3692l60-60 35 63-60 58z"/>
<path fill="#0058ff" stroke="#000d25" d="M3429 3632l60-62 35 66-60 59z"/>
<path fill="#0068ff" stroke="#000f25" d="M3489 3570l61-62 34 67-60 61z"/>
<path fill="#0078ff" stroke="#001125" d="M3550 3508l60-63 34 70-60 60z"/>
<path fill="#0087ff" stroke="#000a13" d="M3610 3445l60-63 34 72-60 61z"/>
<path fill="#0097ff" stroke="#000c13" d="M3670 3382l60-63 34 75-60 60z"/>
<path fill="#00a7ff" stroke="#000406" d="M3730 3319l60-60 34 76-60 59zm960-158l60 59 35 52-60-54z"/>
<path fill="#00b7ff" stroke="#000506" d="M3790 3259l60-59 34 79-60 56zm840-156l60 58 35 57-60-51z"/>
<path fill="#00c7ff" stroke="#000506" d="M3850 3200l60-54 34 81-60 52z"/>
<path fill="#00d7ff" stroke="#000506" d="M3910 3146l60-50 34 82-60 49zm660-98l60 55 35 64-60-49z"/>
<path fill="#00e7ff" stroke="#000606" d="M3970 3096l60-45 34 83-60 44zm540-99l60 51 35 70-60-44z"/>
<path fill="#00f7ff" stroke="#000606" d="M4030 3051l60-40 34 85-60 38zm60-40l60-33 34 86-60 32zm360-54l60 40 35 77-60-36z"/>
<path fill="#08fff7" stroke="#000606" d="M4150 2978l60-26 35 86-61 26zm60-26l60-18 35 85-60 19zm60-18l60-8 35 85-60 8zm60-8l60 6 35 84-60-5zm60 6l60 25 35 81-60-22z"/>
<path fill="#0070bd" stroke="#000305" d="M4750 3220l60 59 35 47-60-54z"/>
<path fill="#00418a" stroke="#000203" d="M4810 3279l60 59 35 41-60-53z"/>
<path fill="#002966" stroke="#000103" d="M4870 3338l60 57 35 37-60-53z"/>
<path fill="#00164e" stroke="#000102" d="M4930 3395l60 54 35 34-60-51z"/>
<path fill="#000a3f" stroke="#000002" d="M4990 3449l60 52 35 31-60-49z"/>
<path fill="#000538" stroke="#000" d="M5050 3501l60 49 35 28-60-46z"/>
<path fill="#000034" stroke="#000" d="M5110 3550l60 45 35 25-60-42z"/>
<path fill="#000032" stroke="#000" d="M5170 3595l60 42 35 23-60-40zm60 42l60 37 35 22-60-36z"/>
<path fill="#000034" stroke="#000001" d="M5290 3674l60 34 35 20-60-32z"/>
<path fill="#000038" stroke="#000001" d="M5350 3708l60 29 35 19-60-28z"/>
<path fill="#00003f" stroke="#000002" d="M5410 3737l60 25 35 19-60-25z"/>
<path fill="#000045" stroke="#000005" d="M5470 3762l60 21 35 18-60-20z"/>
<path fill="#00004e" stroke="#00000b" d="M5530 3783l60 18 35 18-60-18z"/>
<path fill="#000057" stroke="#00000d" d="M5590 3801l60 14 35 17-60-13z"/>
<path fill="#000060" stroke="#000016" d="M5650 3815l60 11 35 17-60-11z"/>
<path fill="#000068" stroke="#002" d="M5710 3826l60 8 35 17-60-8z"/>
<path fill="#00006f" stroke="#000025" d="M5770 3834l60 5 35 17-60-5z"/>
<path fill="#000079" stroke="#000035" d="M5830 3839l60 3 35 17-60-3z"/>
<path fill="#00007e" stroke="#000038" d="M5890 3842l60 0 35 18-60-1z"/>
<path fill="#000086" stroke="#00004c" d="M5950 3842l60-1 35 18-60 1z"/>
<path fill="#000089" stroke="#00004d" d="M6010 3841l60-2 35 17-60 3z"/>
<path fill="#00008f" stroke="#000064" d="M6070 3839l60-4 35 17-60 4z"/>
<path fill="#000094" stroke="#000068" d="M6130 3835l60-6 35 18-60 5z"/>
<path fill="#000094" stroke="#000067" d="M6190 3829l60-6 35 18-60 6z"/>
<path fill="#000098" stroke="#00006a" d="M6250 3823l60-7 35 18-60 7z"/>
<path fill="#009" stroke="#00006b" d="M1964 4604l60-12 35 18-60 13zm60-12l60-14 35 19-60 13zm60-14l60-15 35 19-60 15zm60-15l60-16 35 19-60 16zm4201-729l60-8 35 18-60 7zm60-8l60-8 35 18-60 8zm60-8l60-9 35 18-60 9zm60-9l60-8 35 17-60 9z"/>
<path fill="#00009e" stroke="#00006e" d="M2204 4547l60-18 35 20-60 17zm60-18l60-20 35 21-60 19zm60-20l60-21 35 21-60 21z"/>
<path fill="#0000a3" stroke="#000072" d="M2384 4488l60-25 35 22-60 24zm60-25l60-28 35 24-60 26z"/>
<path fill="#0000a8" stroke="#000076" d="M2504 4435l60-30 35 25-60 29z"/>
<path fill="#0000ae" stroke="#000079" d="M2564 4405l60-34 35 27-60 32z"/>
<path fill="#0000b3" stroke="#00007d" d="M2624 4371l60-38 35 30-60 35z"/>
<path fill="#0000b8" stroke="#000081" d="M2684 4333l60-40 35 32-60 38z"/>
<path fill="#0000bd" stroke="#00006b" d="M2744 4293l60-43 35 35-60 40z"/>
<path fill="#0000c3" stroke="#00006e" d="M2804 4250l60-44 35 37-60 42z"/>
<path fill="#0000cd" stroke="#000074" d="M2864 4206l60-46 35 40-60 43z"/>
<path fill="#0000d2" stroke="#007" d="M2924 4160l60-47 35 43-60 44z"/>
<path fill="#00d" stroke="#000062" d="M2984 4113l60-48 35 46-60 45z"/>
<path fill="#0000e2" stroke="#000064" d="M3044 4065l60-48 35 48-60 46z"/>
<path fill="#0000ed" stroke="#000068" d="M3104 4017l60-50 35 51-60 47z"/>
<path fill="#0000f2" stroke="#00006b" d="M3164 3967l60-51 35 53-60 49z"/>
<path fill="#0000fc" stroke="#00006f" d="M3224 3916l60-52 35 54-60 51z"/>
<path fill="#0008ff" stroke="#000354" d="M3284 3864l60-55 35 57-60 52z"/>
<path fill="#0018ff" stroke="#000854" d="M3344 3809l60-56 35 58-60 55z"/>
<path fill="#0028ff" stroke="#00093b" d="M3404 3753l60-58 35 60-60 56z"/>
<path fill="#0038ff" stroke="#000d3b" d="M3464 3695l60-59 35 62-60 57z"/>
<path fill="#0058ff" stroke="#000d25" d="M3524 3636l60-61 35 65-60 58z"/>
<path fill="#0068ff" stroke="#000f25" d="M3584 3575l60-60 35 66-60 59z"/>
<path fill="#0078ff" stroke="#001125" d="M3644 3515l60-61 35 69-60 58z"/>
<path fill="#0087ff" stroke="#000a13" d="M3704 3454l60-60 35 71-60 58z"/>
<path fill="#0097ff" stroke="#000c13" d="M3764 3394l60-59 35 73-60 57z"/>
<path fill="#00a7ff" stroke="#000406" d="M3824 3335l60-56 35 75-60 54z"/>
<path fill="#00b7ff" stroke="#000506" d="M3884 3279l60-52 35 76-60 51zm781-112l60 51 34 54-60-46z"/>
<path fill="#00c7ff" stroke="#000506" d="M3944 3227l60-49 35 78-60 47zm661-109l60 49 34 59-60-43z"/>
<path fill="#00d7ff" stroke="#000506" d="M4004 3178l60-44 35 80-60 42zm60-44l60-38 35 80-60 38zm481-60l60 44 34 65-60-38z"/>
<path fill="#00e7ff" stroke="#000606" d="M4124 3096l60-32 35 81-60 31zm60-32l61-26 34 81-60 26zm241-48l60 22 34 76-60-19zm60 22l60 36 34 71-60-31z"/>
<path fill="#00f7ff" stroke="#000606" d="M4245 3038l60-19 34 81-60 19zm60-19l60-8 34 80-60 9zm60-8l60 5 34 79-60-4z"/>
<path fill="#0093f8" stroke="#000b13" d="M4725 3218l60 54 34 48-60-48z"/>
<path fill="#0061b6" stroke="#00070e" d="M4785 3272l60 54 35 42-61-48z"/>
<path fill="#003e85" stroke="#000203" d="M4845 3326l60 53 35 39-60-50z"/>
<path fill="#002262" stroke="#000102" d="M4905 3379l60 53 35 34-60-48z"/>
<path fill="#00154b" stroke="#000102" d="M4965 3432l60 51 35 31-60-48z"/>
<path fill="#00093d" stroke="#000" d="M5025 3483l60 49 35 28-60-46z"/>
<path fill="#000536" stroke="#000" d="M5085 3532l60 46 35 25-60-43z"/>
<path fill="#003" stroke="#000" d="M5145 3578l60 42 35 24-60-41z"/>
<path fill="#000031" stroke="#000" d="M5205 3620l60 40 35 22-60-38zm120 76l60 32 35 19-60-31z"/>
<path fill="#000030" stroke="#000" d="M5265 3660l60 36 35 20-60-34z"/>
<path fill="#000035" stroke="#000001" d="M5385 3728l60 28 35 19-60-28z"/>
<path fill="#00003b" stroke="#000001" d="M5445 3756l60 25 35 17-60-23z"/>
<path fill="#000042" stroke="#000005" d="M5505 3781l60 20 35 18-60-21z"/>
<path fill="#00004a" stroke="#000006" d="M5565 3801l60 18 35 17-60-17z"/>
<path fill="#000053" stroke="#00000c" d="M5625 3819l60 13 35 17-60-13z"/>
<path fill="#00005c" stroke="#000015" d="M5685 3832l60 11 35 17-60-11z"/>
<path fill="#000065" stroke="#000017" d="M5745 3843l60 8 35 17-60-8z"/>
<path fill="#00006c" stroke="#000024" d="M5805 3851l60 5 35 17-60-5z"/>
<path fill="#000076" stroke="#000034" d="M5865 3856l60 3 35 17-60-3z"/>
<path fill="#00007b" stroke="#000036" d="M5925 3859l60 1 35 17-60-1z"/>
<path fill="#000084" stroke="#00004a" d="M5985 3860l60-1 35 17-60 1z"/>
<path fill="#000087" stroke="#00004c" d="M6045 3859l60-3 35 17-60 3z"/>
<path fill="#00008d" stroke="#000050" d="M6105 3856l60-4 35 17-60 4z"/>
<path fill="#000093" stroke="#000067" d="M6165 3852l60-5 35 17-60 5z"/>
<path fill="#000092" stroke="#006" d="M6225 3847l60-6 35 17-60 6z"/>
<path fill="#000096" stroke="#000069" d="M6285 3841l60-7 35 17-60 7z"/>
<path fill="#009" stroke="#00006b" d="M1999 4623l60-13 34 19-60 12zm60-13l60-13 34 18-60 14zm60-13l60-15 34 19-60 14zm60-15l60-16 34 19-60 16zm4201-731l60-7 35 17-60 8zm60-7l60-8 35 17-60 8zm60-8l60-9 35 18-60 8zm60-9l60-9 35 18-60 9z"/>
<path fill="#00009e" stroke="#00006e" d="M2239 4566l60-17 34 19-60 17zm60-17l60-19 34 20-60 18zm60-19l60-21 34 21-60 20z"/>
<path fill="#0000a3" stroke="#000072" d="M2419 4509l60-24 34 22-60 23zm60-24l60-26 35 23-61 25z"/>
<path fill="#0000a8" stroke="#000076" d="M2539 4459l60-29 35 24-60 28z"/>
<path fill="#0000ae" stroke="#000079" d="M2599 4430l60-32 35 26-60 30zm60-32l60-35 35 28-60 33z"/>
<path fill="#0000b3" stroke="#00007d" d="M2719 4363l60-38 35 31-60 35z"/>
<path fill="#0000bd" stroke="#000085" d="M2779 4325l60-40 35 34-60 37z"/>
<path fill="#0000c3" stroke="#00006e" d="M2839 4285l60-42 35 36-60 40z"/>
<path fill="#0000c8" stroke="#000071" d="M2899 4243l60-43 35 39-60 40z"/>
<path fill="#0000cd" stroke="#000074" d="M2959 4200l60-44 35 41-60 42z"/>
<path fill="#0000d8" stroke="#00007a" d="M3019 4156l60-45 35 44-60 42z"/>
<path fill="#00d" stroke="#000062" d="M3079 4111l60-46 35 46-60 44z"/>
<path fill="#0000e2" stroke="#000064" d="M3139 4065l60-47 35 48-60 45z"/>
<path fill="#0000ed" stroke="#000068" d="M3199 4018l60-49 35 50-60 47z"/>
<path fill="#0000f7" stroke="#00006d" d="M3259 3969l60-51 35 52-60 49z"/>
<path fill="#0000fc" stroke="#00006f" d="M3319 3918l60-52 35 53-60 51z"/>
<path fill="#0008ff" stroke="#000354" d="M3379 3866l60-55 35 56-60 52z"/>
<path fill="#0018ff" stroke="#000854" d="M3439 3811l60-56 35 58-60 54z"/>
<path fill="#0028ff" stroke="#00093b" d="M3499 3755l60-57 35 60-60 55z"/>
<path fill="#0048ff" stroke="#00113b" d="M3559 3698l60-58 35 62-60 56z"/>
<path fill="#0058ff" stroke="#000d25" d="M3619 3640l60-59 35 64-60 57z"/>
<path fill="#0068ff" stroke="#000f25" d="M3679 3581l60-58 35 65-60 57z"/>
<path fill="#0078ff" stroke="#001125" d="M3739 3523l60-58 35 67-60 56z"/>
<path fill="#0087ff" stroke="#000a13" d="M3799 3465l60-57 35 70-60 54z"/>
<path fill="#0097ff" stroke="#000c13" d="M3859 3408l60-54 35 72-60 52z"/>
<path fill="#00a7ff" stroke="#000406" d="M3919 3354l60-51 35 73-60 50zm780-128l60 46 35 49-60-41z"/>
<path fill="#00b7ff" stroke="#000506" d="M3979 3303l60-47 35 75-60 45zm60-47l60-42 35 75-60 42zm600-73l60 43 35 54-60-37z"/>
<path fill="#00c7ff" stroke="#000506" d="M4099 3214l60-38 35 77-60 36zm480-69l60 38 35 60-60-33z"/>
<path fill="#00d7ff" stroke="#000506" d="M4159 3176l60-31 35 76-60 32zm60-31l60-26 35 76-60 26zm60-26l60-19 35 76-60 19zm180-24l60 19 35 70-60-15zm60 19l60 31 35 65-60-26z"/>
<path fill="#00e7ff" stroke="#000606" d="M4339 3100l60-9 35 75-60 10zm60-9l60 4 35 74-60-3z"/>
<path fill="#008ef0" stroke="#000b12" d="M4759 3272l60 48 35 44-60-43z"/>
<path fill="#0053b1" stroke="#00060d" d="M4819 3320l61 48 34 40-60-44z"/>
<path fill="#003481" stroke="#000103" d="M4880 3368l60 50 34 35-60-45z"/>
<path fill="#00215f" stroke="#000102" d="M4940 3418l60 48 34 32-60-45z"/>
<path fill="#001048" stroke="#000002" d="M5000 3466l60 48 34 29-60-45z"/>
<path fill="#00093a" stroke="#000" d="M5060 3514l60 46 34 26-60-43z"/>
<path fill="#000234" stroke="#000" d="M5120 3560l60 43 34 24-60-41z"/>
<path fill="#00002e" stroke="#000" d="M5300 3682l60 34 34 19-60-33z"/>
<path fill="#00002f" stroke="#000" d="M5360 3716l60 31 34 18-60-30z"/>
<path fill="#000032" stroke="#000001" d="M5420 3747l60 28 34 17-60-27z"/>
<path fill="#000038" stroke="#000001" d="M5480 3775l60 23 35 17-61-23z"/>
<path fill="#00003e" stroke="#000005" d="M5540 3798l60 21 35 16-60-20z"/>
<path fill="#000047" stroke="#000005" d="M5600 3819l60 17 35 16-60-17z"/>
<path fill="#000050" stroke="#00000c" d="M5660 3836l60 13 35 17-60-14z"/>
<path fill="#000059" stroke="#000015" d="M5720 3849l60 11 35 16-60-10z"/>
<path fill="#000061" stroke="#000016" d="M5780 3860l60 8 35 16-60-8z"/>
<path fill="#000069" stroke="#000023" d="M5840 3868l60 5 35 16-60-5z"/>
<path fill="#000073" stroke="#000026" d="M5900 3873l60 3 35 17-60-4z"/>
<path fill="#000079" stroke="#000035" d="M5960 3876l60 1 35 17-60-1z"/>
<path fill="#000081" stroke="#000049" d="M6020 3877l60-1 35 17-60 1z"/>
<path fill="#000085" stroke="#00004b" d="M6080 3876l60-3 35 17-60 3z"/>
<path fill="#00008b" stroke="#00004f" d="M6140 3873l60-4 35 18-60 3z"/>
<path fill="#000091" stroke="#006" d="M6200 3869l60-5 35 18-60 5z"/>
<path fill="#000096" stroke="#000069" d="M6260 3864l60-6 35 18-60 6z"/>
<path fill="#000095" stroke="#000068" d="M6320 3858l60-7 35 18-60 7z"/>
<path fill="#009" stroke="#00006b" d="M2033 4641l60-12 35 18-60 13zm60-12l60-14 35 19-60 13zm60-14l60-14 35 19-60 14zm60-14l60-16 35 20-60 15zm4262-740l60-8 35 18-60 8zm60-8l60-8 35 18-60 8zm60-8l60-9 35 18-60 9zm60-9l60-9 35 18-60 9z"/>
<path fill="#00009e" stroke="#00006e" d="M2273 4585l60-17 35 20-60 17zm60-17l60-18 35 20-60 18zm60-18l60-20 35 20-60 20z"/>
<path fill="#0000a3" stroke="#000072" d="M2453 4530l60-23 35 22-60 21zm60-23l61-25 34 23-60 24z"/>
<path fill="#0000a8" stroke="#000076" d="M2574 4482l60-28 34 25-60 26zm60-28l60-30 34 26-60 29z"/>
<path fill="#0000ae" stroke="#000079" d="M2694 4424l60-33 34 28-60 31z"/>
<path fill="#0000b3" stroke="#00007d" d="M2754 4391l60-35 34 30-60 33z"/>
<path fill="#0000b8" stroke="#000081" d="M2814 4356l60-37 34 32-60 35z"/>
<path fill="#0000bd" stroke="#00006b" d="M2874 4319l60-40 34 35-60 37z"/>
<path fill="#0000c3" stroke="#00006e" d="M2934 4279l60-40 34 37-60 38z"/>
<path fill="#0000c8" stroke="#000071" d="M2994 4239l60-42 34 40-60 39z"/>
<path fill="#0000d2" stroke="#007" d="M3054 4197l60-42 34 41-60 41z"/>
<path fill="#0000d8" stroke="#00005f" d="M3114 4155l60-44 34 43-60 42z"/>
<path fill="#00d" stroke="#000062" d="M3174 4111l60-45 35 45-61 43z"/>
<path fill="#0000e7" stroke="#006" d="M3234 4066l60-47 35 47-60 45z"/>
<path fill="#0000ed" stroke="#000068" d="M3294 4019l60-49 35 49-60 47z"/>
<path fill="#0000f7" stroke="#00006d" d="M3354 3970l60-51 35 51-60 49z"/>
<path fill="#0000fc" stroke="#00006f" d="M3414 3919l60-52 35 53-60 50z"/>
<path fill="#0008ff" stroke="#000354" d="M3474 3867l60-54 35 55-60 52z"/>
<path fill="#0028ff" stroke="#00093b" d="M3534 3813l60-55 35 57-60 53z"/>
<path fill="#0038ff" stroke="#000d3b" d="M3594 3758l60-56 35 58-60 55z"/>
<path fill="#0048ff" stroke="#00113b" d="M3654 3702l60-57 35 61-60 54z"/>
<path fill="#0058ff" stroke="#000d25" d="M3714 3645l60-57 35 63-60 55z"/>
<path fill="#0068ff" stroke="#000f25" d="M3774 3588l60-56 35 65-60 54z"/>
<path fill="#0078ff" stroke="#001125" d="M3834 3532l60-54 35 66-60 53z"/>
<path fill="#0087ff" stroke="#000a13" d="M3894 3478l60-52 35 68-60 50z"/>
<path fill="#0097ff" stroke="#000c13" d="M3954 3426l60-50 35 70-60 48zm780-146l60 41 35 46-60-36z"/>
<path fill="#00a7ff" stroke="#000406" d="M4014 3376l60-45 35 70-60 45zm60-45l60-42 35 72-60 40zm600-88l60 37 35 51-60-32z"/>
<path fill="#00b7ff" stroke="#000506" d="M4134 3289l60-36 35 72-60 36zm60-36l60-32 35 72-60 32zm420-43l60 33 35 56-60-27z"/>
<path fill="#00c7ff" stroke="#000506" d="M4254 3221l60-26 35 73-60 25zm60-26l60-19 35 72-60 20zm60-19l60-10 35 71-60 11zm60-10l60 3 35 69-60-1zm60 3l60 15 35 66-60-12zm60 15l60 26 35 62-60-22z"/>
<path fill="#007cea" stroke="#000912" d="M4794 3321l60 43 35 41-60-38z"/>
<path fill="#0051ad" stroke="#00060d" d="M4854 3364l60 44 35 37-60-40z"/>
<path fill="#002b7e" stroke="#00030a" d="M4914 3408l60 45 35 33-60-41z"/>
<path fill="#001a5c" stroke="#000102" d="M4974 3453l60 45 35 30-60-42z"/>
<path fill="#000f46" stroke="#000002" d="M5034 3498l60 45 35 26-60-41z"/>
<path fill="#000539" stroke="#000" d="M5094 3543l60 43 35 24-60-41z"/>
<path fill="#000233" stroke="#000" d="M5154 3586l60 41 35 22-60-39z"/>
<path fill="#00002d" stroke="#000" d="M5394 3735l60 30 35 17-60-29z"/>
<path fill="#000030" stroke="#000" d="M5454 3765l60 27 35 17-60-27z"/>
<path fill="#000035" stroke="#000001" d="M5514 3792l61 23 34 17-60-23z"/>
<path fill="#00003b" stroke="#000001" d="M5575 3815l60 20 34 16-60-19z"/>
<path fill="#004" stroke="#000005" d="M5635 3835l60 17 34 16-60-17z"/>
<path fill="#00004d" stroke="#00000b" d="M5695 3852l60 14 34 16-60-14z"/>
<path fill="#000056" stroke="#00000c" d="M5755 3866l60 10 34 16-60-10z"/>
<path fill="#00005e" stroke="#000016" d="M5815 3876l60 8 34 16-60-8z"/>
<path fill="#006" stroke="#002" d="M5875 3884l60 5 34 17-60-6z"/>
<path fill="#000070" stroke="#000025" d="M5935 3889l60 4 34 16-60-3z"/>
<path fill="#000076" stroke="#000034" d="M5995 3893l60 1 34 16-60-1z"/>
<path fill="#00007f" stroke="#000038" d="M6055 3894l60-1 34 16-60 1z"/>
<path fill="#000083" stroke="#00004a" d="M6115 3893l60-3 35 17-61 2z"/>
<path fill="#000089" stroke="#00004e" d="M6175 3890l60-3 35 16-60 4z"/>
<path fill="#00008f" stroke="#000064" d="M6235 3887l60-5 35 17-60 4z"/>
<path fill="#000095" stroke="#000068" d="M6295 3882l60-6 35 17-60 6z"/>
<path fill="#000094" stroke="#000068" d="M6355 3876l60-7 35 17-60 7z"/>
<path fill="#000098" stroke="#00006a" d="M6415 3869l60-8 35 18-60 7z"/>
<path fill="#009" stroke="#00006b" d="M2068 4660l60-13 35 19-60 12zm60-13l60-13 35 19-60 13zm60-13l60-14 35 19-60 14zm60-14l60-15 35 19-60 15zm60-15l60-17 35 20-60 16zm4202-726l60-8 34 18-60 7zm60-8l60-8 34 17-60 9zm60-8l60-9 34 17-60 9zm60-9l60-9 34 17-60 9z"/>
<path fill="#00009e" stroke="#00006e" d="M2368 4588l60-18 35 20-60 18zm60-18l60-20 35 21-60 19zm60-20l60-21 35 21-60 21z"/>
<path fill="#0000a3" stroke="#000072" d="M2548 4529l60-24 35 23-60 22zm60-24l60-26 35 24-60 25z"/>
<path fill="#0000a8" stroke="#000076" d="M2668 4479l60-29 35 26-60 27z"/>
<path fill="#0000ae" stroke="#000079" d="M2728 4450l60-31 35 27-60 30z"/>
<path fill="#0000b3" stroke="#00007d" d="M2788 4419l60-33 35 29-60 31z"/>
<path fill="#0000b8" stroke="#000081" d="M2848 4386l60-35 35 31-60 33z"/>
<path fill="#0000bd" stroke="#000085" d="M2908 4351l60-37 35 33-60 35z"/>
<path fill="#0000c3" stroke="#00006e" d="M2968 4314l60-38 35 35-60 36z"/>
<path fill="#0000c8" stroke="#000071" d="M3028 4276l60-39 35 37-60 37z"/>
<path fill="#0000cd" stroke="#000074" d="M3088 4237l60-41 35 40-60 38z"/>
<path fill="#0000d2" stroke="#007" d="M3148 4196l60-42 35 42-60 40z"/>
<path fill="#0000d8" stroke="#00005f" d="M3208 4154l61-43 34 43-60 42z"/>
<path fill="#0000e2" stroke="#000064" d="M3269 4111l60-45 34 45-60 43z"/>
<path fill="#0000e7" stroke="#006" d="M3329 4066l60-47 34 47-60 45z"/>
<path fill="#0000f2" stroke="#00006b" d="M3389 4019l60-49 34 49-60 47z"/>
<path fill="#0000f7" stroke="#00006d" d="M3449 3970l60-50 34 50-60 49z"/>
<path fill="#0008ff" stroke="#000354" d="M3509 3920l60-52 34 52-60 50z"/>
<path fill="#0018ff" stroke="#000854" d="M3569 3868l60-53 34 54-60 51z"/>
<path fill="#0028ff" stroke="#00093b" d="M3629 3815l60-55 34 56-60 53z"/>
<path fill="#0038ff" stroke="#000d3b" d="M3689 3760l60-54 34 57-60 53z"/>
<path fill="#0048ff" stroke="#00113b" d="M3749 3706l60-55 34 60-60 52z"/>
<path fill="#0058ff" stroke="#000d25" d="M3809 3651l60-54 35 61-61 53z"/>
<path fill="#0068ff" stroke="#000f25" d="M3869 3597l60-53 35 63-60 51z"/>
<path fill="#0078ff" stroke="#001125" d="M3929 3544l60-50 35 64-60 49z"/>
<path fill="#0087ff" stroke="#000a13" d="M3989 3494l60-48 35 66-60 46zm780-163l60 36 35 43-60-31z"/>
<path fill="#0097ff" stroke="#000c13" d="M4049 3446l60-45 35 67-60 44zm60-45l60-40 35 68-60 39zm600-102l60 32 35 48-60-28z"/>
<path fill="#00a7ff" stroke="#000406" d="M4169 3361l60-36 35 68-60 36zm60-36l60-32 35 69-60 31zm420-53l60 27 35 52-60-22z"/>
<path fill="#00b7ff" stroke="#000506" d="M4289 3293l60-25 35 68-60 26zm60-25l60-20 35 68-60 20zm60-20l60-11 35 67-60 12zm60-11l60 1 35 65-60 1zm60 1l60 12 35 62-60-9zm60 12l60 22 35 57-60-17z"/>
<path fill="#006ce6" stroke="#000812" d="M4829 3367l60 38 35 39-60-34z"/>
<path fill="#0045aa" stroke="#00050d" d="M4889 3405l60 40 35 35-60-36z"/>
<path fill="#002b7c" stroke="#000309" d="M4949 3445l60 41 35 31-60-37z"/>
<path fill="#001a5b" stroke="#000102" d="M5009 3486l60 42 35 28-60-39z"/>
<path fill="#000f45" stroke="#000002" d="M5069 3528l60 41 35 26-60-39z"/>
<path fill="#000538" stroke="#000" d="M5129 3569l60 41 35 23-60-38z"/>
<path fill="#00002d" stroke="#000" d="M5489 3782l60 27 35 15-60-25z"/>
<path fill="#003" stroke="#000001" d="M5549 3809l60 23 35 15-60-23z"/>
<path fill="#000038" stroke="#000001" d="M5609 3832l60 19 35 16-60-20z"/>
<path fill="#000040" stroke="#000005" d="M5669 3851l60 17 35 15-60-16z"/>
<path fill="#000049" stroke="#00000b" d="M5729 3868l60 14 35 15-60-14z"/>
<path fill="#000052" stroke="#00000c" d="M5789 3882l60 10 35 16-60-11z"/>
<path fill="#00005b" stroke="#000015" d="M5849 3892l60 8 35 16-60-8z"/>
<path fill="#006" stroke="#002" d="M5909 3900l60 6 35 15-60-5z"/>
<path fill="#00006d" stroke="#000024" d="M5969 3906l60 3 35 16-60-4z"/>
<path fill="#000074" stroke="#003" d="M6029 3909l60 1 35 16-60-1z"/>
<path fill="#00007c" stroke="#000037" d="M6089 3910l60-1 35 17-60 0z"/>
<path fill="#000080" stroke="#000049" d="M6149 3909l61-2 34 17-60 2z"/>
<path fill="#000087" stroke="#00004d" d="M6210 3907l60-4 34 17-60 4z"/>
<path fill="#00008e" stroke="#000050" d="M6270 3903l60-4 34 17-60 4z"/>
<path fill="#000093" stroke="#000067" d="M6330 3899l60-6 34 17-60 6zm60-6l60-7 34 18-60 6z"/>
<path fill="#000097" stroke="#000069" d="M6450 3886l60-7 34 17-60 8z"/>
<path fill="#009" stroke="#00006b" d="M2103 4678l60-12 35 18-60 13zm60-12l60-13 35 18-60 13zm60-13l60-14 35 19-60 13zm60-14l60-15 35 19-60 15zm60-15l60-16 35 19-60 16zm4201-728l60-7 35 17-60 8zm60-7l60-9 35 18-60 8zm60-9l60-9 35 18-60 9zm60-9l60-9 35 18-60 9z"/>
<path fill="#00009e" stroke="#00006e" d="M2403 4608l60-18 35 20-60 17zm60-18l60-19 35 21-60 18zm60-19l60-21 35 22-60 20z"/>
<path fill="#0000a3" stroke="#000072" d="M2583 4550l60-22 35 22-60 22zm60-22l60-25 35 23-60 24z"/>
<path fill="#0000a8" stroke="#000076" d="M2703 4503l60-27 35 24-60 26zm60-27l60-30 35 27-60 27z"/>
<path fill="#0000ae" stroke="#000079" d="M2823 4446l60-31 35 28-60 30z"/>
<path fill="#0000b3" stroke="#00007d" d="M2883 4415l60-33 35 30-60 31z"/>
<path fill="#0000b8" stroke="#000081" d="M2943 4382l60-35 35 32-60 33z"/>
<path fill="#0000bd" stroke="#000085" d="M3003 4347l60-36 35 34-60 34z"/>
<path fill="#0000c3" stroke="#00006e" d="M3063 4311l60-37 35 36-60 35z"/>
<path fill="#0000c8" stroke="#000071" d="M3123 4274l60-38 35 37-60 37z"/>
<path fill="#0000cd" stroke="#000074" d="M3183 4236l60-40 35 39-60 38z"/>
<path fill="#0000d2" stroke="#007" d="M3243 4196l60-42 35 41-60 40z"/>
<path fill="#00d" stroke="#000062" d="M3303 4154l60-43 35 43-60 41z"/>
<path fill="#0000e2" stroke="#000064" d="M3363 4111l60-45 35 44-60 44z"/>
<path fill="#0000e7" stroke="#006" d="M3423 4066l60-47 35 46-60 45z"/>
<path fill="#0000f2" stroke="#00006b" d="M3483 4019l60-49 35 48-60 47z"/>
<path fill="#0000f7" stroke="#00006d" d="M3543 3970l60-50 35 50-60 48z"/>
<path fill="#0008ff" stroke="#000354" d="M3603 3920l60-51 35 51-60 50z"/>
<path fill="#0018ff" stroke="#000854" d="M3663 3869l60-53 35 54-60 50z"/>
<path fill="#0028ff" stroke="#00093b" d="M3723 3816l60-53 35 56-60 51z"/>
<path fill="#0038ff" stroke="#000d3b" d="M3783 3763l60-52 35 57-60 51z"/>
<path fill="#0048ff" stroke="#00113b" d="M3843 3711l61-53 34 59-60 51z"/>
<path fill="#0058ff" stroke="#000d25" d="M3904 3658l60-51 34 61-60 49z"/>
<path fill="#0068ff" stroke="#000f25" d="M3964 3607l60-49 34 62-60 48z"/>
<path fill="#0078ff" stroke="#001125" d="M4024 3558l60-46 34 63-60 45z"/>
<path fill="#0087ff" stroke="#000a13" d="M4084 3512l60-44 34 64-60 43zm60-44l60-39 34 64-60 39zm660-89l60 31 35 40-60-27z"/>
<path fill="#0097ff" stroke="#000c13" d="M4204 3429l60-36 34 65-60 35zm60-36l60-31 34 64-60 32zm420-64l60 22 35 49-60-18zm60 22l60 28 35 44-60-23z"/>
<path fill="#00a7ff" stroke="#000406" d="M4324 3362l60-26 34 64-60 26zm60-26l60-20 34 64-60 20zm60-20l60-12 34 63-60 13zm60-12l60-1 35 61-61 3zm60-1l60 9 35 57-60-5zm60 9l60 17 35 53-60-13z"/>
<path fill="#006be4" stroke="#000811" d="M4864 3410l60 34 35 36-60-30z"/>
<path fill="#0045aa" stroke="#00050d" d="M4924 3444l60 36 35 32-60-32z"/>
<path fill="#002b7c" stroke="#000309" d="M4984 3480l60 37 35 30-60-35z"/>
<path fill="#00145b" stroke="#000102" d="M5044 3517l60 39 35 26-60-35z"/>
<path fill="#000b45" stroke="#000002" d="M5104 3556l60 39 35 23-60-36z"/>
<path fill="#000537" stroke="#000" d="M5164 3595l60 38 35 21-60-36z"/>
<path fill="#00002c" stroke="#000" d="M5524 3799l60 25 35 16-60-26z"/>
<path fill="#000030" stroke="#000001" d="M5584 3824l60 23 35 15-60-22z"/>
<path fill="#000037" stroke="#000001" d="M5644 3847l60 20 35 14-60-19z"/>
<path fill="#00003d" stroke="#000005" d="M5704 3867l60 16 35 15-60-17z"/>
<path fill="#000046" stroke="#000005" d="M5764 3883l60 14 35 15-60-14z"/>
<path fill="#00004f" stroke="#00000c" d="M5824 3897l60 11 35 15-60-11z"/>
<path fill="#000058" stroke="#000014" d="M5884 3908l60 8 35 15-60-8z"/>
<path fill="#000063" stroke="#000017" d="M5944 3916l60 5 35 16-60-6z"/>
<path fill="#00006a" stroke="#000023" d="M6004 3921l60 4 35 16-60-4z"/>
<path fill="#000071" stroke="#000025" d="M6064 3925l60 1 35 16-60-1z"/>
<path fill="#00007a" stroke="#000036" d="M6124 3926l60 0 35 16-60 0z"/>
<path fill="#000082" stroke="#00004a" d="M6184 3926l60-2 35 16-60 2z"/>
<path fill="#000085" stroke="#00004b" d="M6244 3924l60-4 35 17-60 3z"/>
<path fill="#00008c" stroke="#00004f" d="M6304 3920l60-4 35 17-60 4z"/>
<path fill="#000092" stroke="#006" d="M6364 3916l60-6 35 17-60 6z"/>
<path fill="#000091" stroke="#006" d="M6424 3910l60-6 35 17-60 6z"/>
<path fill="#000096" stroke="#000069" d="M6484 3904l60-8 35 18-60 7z"/>
<path fill="#009" stroke="#00006b" d="M2138 4697l60-13 35 19-61 12zm60-13l60-13 35 19-60 13zm60-13l60-13 35 18-60 14zm60-13l60-15 35 19-60 14zm60-15l60-16 35 20-60 15zm4261-737l60-8 35 17-60 8zm60-8l60-9 35 18-60 8zm60-9l60-9 35 18-60 9zm60-9l60-9 35 18-60 9z"/>
<path fill="#00009e" stroke="#00006e" d="M2438 4627l60-17 35 20-60 17zm60-17l60-18 35 20-60 18zm60-18l60-20 35 21-60 19z"/>
<path fill="#0000a3" stroke="#000072" d="M2618 4572l60-22 35 22-60 21zm60-22l60-24 35 23-60 23z"/>
<path fill="#0000a8" stroke="#000076" d="M2738 4526l60-26 35 25-60 24zm60-26l60-27 35 26-60 26z"/>
<path fill="#0000ae" stroke="#000079" d="M2858 4473l60-30 35 28-60 28z"/>
<path fill="#0000b3" stroke="#00007d" d="M2918 4443l60-31 35 29-60 30zm60-31l60-33 35 31-60 31z"/>
<path fill="#0000b8" stroke="#000081" d="M3038 4379l60-34 35 33-60 32z"/>
<path fill="#0000bd" stroke="#00006b" d="M3098 4345l60-35 35 35-60 33z"/>
<path fill="#0000c3" stroke="#00006e" d="M3158 4310l60-37 35 37-60 35z"/>
<path fill="#0000c8" stroke="#000071" d="M3218 4273l60-38 35 38-60 37z"/>
<path fill="#0000d2" stroke="#007" d="M3278 4235l60-40 35 40-60 38z"/>
<path fill="#0000d8" stroke="#00007a" d="M3338 4195l60-41 35 41-60 40z"/>
<path fill="#00d" stroke="#000062" d="M3398 4154l60-44 35 43-60 42z"/>
<path fill="#0000e2" stroke="#000064" d="M3458 4110l60-45 35 44-60 44z"/>
<path fill="#0000ed" stroke="#000068" d="M3518 4065l60-47 35 46-60 45z"/>
<path fill="#0000f2" stroke="#00006b" d="M3578 4018l60-48 35 48-60 46z"/>
<path fill="#0000fc" stroke="#00006f" d="M3638 3970l60-50 35 50-60 48z"/>
<path fill="#0008ff" stroke="#000354" d="M3698 3920l60-50 35 51-60 49z"/>
<path fill="#0018ff" stroke="#000854" d="M3758 3870l60-51 35 53-60 49z"/>
<path fill="#0028ff" stroke="#00093b" d="M3818 3819l60-51 35 54-60 50z"/>
<path fill="#0038ff" stroke="#000d3b" d="M3878 3768l60-51 35 56-60 49z"/>
<path fill="#0048ff" stroke="#00113b" d="M3938 3717l60-49 35 57-60 48z"/>
<path fill="#0058ff" stroke="#000d25" d="M3998 3668l60-48 35 59-60 46z"/>
<path fill="#0068ff" stroke="#000f25" d="M4058 3620l60-45 35 59-60 45z"/>
<path fill="#0078ff" stroke="#001125" d="M4118 3575l60-43 35 61-60 41zm60-43l60-39 35 61-60 39zm661-109l60 27 34 38-60-23z"/>
<path fill="#0087ff" stroke="#000a13" d="M4238 3493l60-35 35 61-60 35zm60-35l60-32 35 62-60 31zm421-76l60 18 34 46-60-14zm60 18l60 23 34 42-60-19z"/>
<path fill="#0097ff" stroke="#000c13" d="M4358 3426l60-26 35 61-60 27zm60-26l60-20 35 60-60 21zm60-20l60-13 35 59-60 14zm60-13l61-3 34 57-60 5zm61-3l60 5 34 54-60-2zm60 5l60 13 34 50-60-9z"/>
<path fill="#005de5" stroke="#000e21" d="M4899 3450l60 30 34 34-60-26z"/>
<path fill="#003bab" stroke="#00040d" d="M4959 3480l60 32 34 31-60-29z"/>
<path fill="#00237e" stroke="#00030a" d="M5019 3512l60 35 34 27-60-31z"/>
<path fill="#00145c" stroke="#000102" d="M5079 3547l60 35 34 25-60-33z"/>
<path fill="#000b45" stroke="#000002" d="M5139 3582l60 36 35 23-61-34z"/>
<path fill="#000537" stroke="#000" d="M5199 3618l60 36 35 21-60-34z"/>
<path fill="#00002b" stroke="#000" d="M5559 3814l60 26 35 14-60-25z"/>
<path fill="#00002e" stroke="#000" d="M5619 3840l60 22 35 14-60-22z"/>
<path fill="#000034" stroke="#000001" d="M5679 3862l60 19 35 15-60-20z"/>
<path fill="#00003a" stroke="#000004" d="M5739 3881l60 17 35 14-60-16z"/>
<path fill="#000043" stroke="#000005" d="M5799 3898l60 14 35 14-60-14z"/>
<path fill="#00004c" stroke="#00000b" d="M5859 3912l60 11 35 14-60-11z"/>
<path fill="#000057" stroke="#00000d" d="M5919 3923l60 8 35 15-60-9z"/>
<path fill="#000060" stroke="#000016" d="M5979 3931l60 6 35 15-60-6z"/>
<path fill="#000067" stroke="#002" d="M6039 3937l60 4 35 15-60-4z"/>
<path fill="#000072" stroke="#000025" d="M6099 3941l60 1 35 16-60-2z"/>
<path fill="#007" stroke="#000035" d="M6159 3942l60 0 35 16-60 0z"/>
<path fill="#000080" stroke="#000048" d="M6219 3942l60-2 35 16-60 2z"/>
<path fill="#000083" stroke="#00004a" d="M6279 3940l60-3 35 17-60 2z"/>
<path fill="#00008a" stroke="#00004e" d="M6339 3937l60-4 35 16-60 5z"/>
<path fill="#000090" stroke="#000065" d="M6399 3933l60-6 35 17-60 5z"/>
<path fill="#000095" stroke="#000068" d="M6459 3927l60-6 35 17-60 6z"/>
<path fill="#000094" stroke="#000068" d="M6519 3921l60-7 35 17-60 7z"/>
<path fill="#000098" stroke="#00006a" d="M6579 3914l60-8 35 17-60 8z"/>
<path fill="#009" stroke="#00006b" d="M2172 4715l61-12 34 19-60 11zm61-12l60-13 34 19-60 13zm60-13l60-14 34 19-60 14zm60-14l60-14 34 19-60 14zm60-14l60-15 34 19-60 15zm4261-739l60-8 35 18-60 8zm60-8l60-8 35 17-60 9zm60-8l60-9 35 17-60 9zm60-9l60-9 35 17-60 9z"/>
<path fill="#00009e" stroke="#00006e" d="M2473 4647l60-17 34 20-60 16zm60-17l60-18 34 21-60 17zm60-18l60-19 34 21-60 19zm60-19l60-21 34 22-60 20z"/>
<path fill="#0000a3" stroke="#000072" d="M2713 4572l60-23 34 23-60 22zm60-23l60-24 35 24-61 23z"/>
<path fill="#0000a8" stroke="#000076" d="M2833 4525l60-26 35 25-60 25z"/>
<path fill="#0000ae" stroke="#000079" d="M2893 4499l60-28 35 27-60 26zm60-28l60-30 35 29-60 28z"/>
<path fill="#0000b3" stroke="#00007d" d="M3013 4441l60-31 35 30-60 30z"/>
<path fill="#0000b8" stroke="#000081" d="M3073 4410l60-32 35 32-60 30z"/>
<path fill="#0000bd" stroke="#000085" d="M3133 4378l60-33 35 33-60 32z"/>
<path fill="#0000c3" stroke="#00006e" d="M3193 4345l60-35 35 34-60 34z"/>
<path fill="#0000c8" stroke="#000071" d="M3253 4310l60-37 35 36-60 35z"/>
<path fill="#0000cd" stroke="#000074" d="M3313 4273l60-38 35 37-60 37z"/>
<path fill="#0000d2" stroke="#007" d="M3373 4235l60-40 35 39-60 38z"/>
<path fill="#0000d8" stroke="#00005f" d="M3433 4195l60-42 35 41-60 40z"/>
<path fill="#00d" stroke="#000062" d="M3493 4153l60-44 35 43-60 42z"/>
<path fill="#0000e7" stroke="#006" d="M3553 4109l60-45 35 44-60 44z"/>
<path fill="#0000ed" stroke="#000068" d="M3613 4064l60-46 35 45-60 45z"/>
<path fill="#0000f7" stroke="#00006d" d="M3673 4018l60-48 35 47-60 46z"/>
<path fill="#0000fc" stroke="#00006f" d="M3733 3970l60-49 35 49-60 47z"/>
<path fill="#0008ff" stroke="#000354" d="M3793 3921l60-49 35 50-60 48z"/>
<path fill="#0018ff" stroke="#000854" d="M3853 3872l60-50 35 52-60 48z"/>
<path fill="#0028ff" stroke="#00093b" d="M3913 3822l60-49 35 54-60 47z"/>
<path fill="#0038ff" stroke="#000d3b" d="M3973 3773l60-48 35 55-60 47z"/>
<path fill="#0048ff" stroke="#00113b" d="M4033 3725l60-46 35 56-60 45z"/>
<path fill="#0058ff" stroke="#000d25" d="M4093 3679l60-45 35 57-60 44z"/>
<path fill="#0068ff" stroke="#000f25" d="M4153 3634l60-41 35 57-60 41zm60-41l60-39 35 58-60 38z"/>
<path fill="#0078ff" stroke="#001125" d="M4273 3554l60-35 35 58-60 35zm540-108l60 19 35 39-60-14zm60 19l60 23 35 35-60-19z"/>
<path fill="#0087ff" stroke="#000a13" d="M4333 3519l60-31 35 58-60 31zm60-31l60-27 35 58-60 27zm60-27l60-21 35 57-60 22zm180-40l60 2 35 51-60 1zm60 2l60 9 35 48-60-6zm60 9l60 14 35 44-60-10z"/>
<path fill="#0097ff" stroke="#000c13" d="M4513 3440l60-14 35 56-60 15zm60-14l60-5 35 54-60 7z"/>
<path fill="#005ee8" stroke="#000e22" d="M4933 3488l60 26 35 32-60-23z"/>
<path fill="#003caf" stroke="#00050d" d="M4993 3514l60 29 35 29-60-26z"/>
<path fill="#002481" stroke="#00030a" d="M5053 3543l60 31 35 26-60-28z"/>
<path fill="#00155f" stroke="#000102" d="M5113 3574l60 33 35 24-60-31z"/>
<path fill="#000b47" stroke="#000002" d="M5173 3607l61 34 34 21-60-31z"/>
<path fill="#000538" stroke="#000" d="M5234 3641l60 34 34 19-60-32z"/>
<path fill="#00002c" stroke="#000" d="M5654 3854l60 22 34 14-60-22z"/>
<path fill="#000032" stroke="#000001" d="M5714 3876l60 20 34 14-60-20z"/>
<path fill="#000039" stroke="#000001" d="M5774 3896l60 16 34 14-60-16z"/>
<path fill="#000042" stroke="#000005" d="M5834 3912l60 14 35 14-61-14z"/>
<path fill="#00004b" stroke="#00000b" d="M5894 3926l60 11 35 15-60-12z"/>
<path fill="#000054" stroke="#00000c" d="M5954 3937l60 9 35 15-60-9z"/>
<path fill="#00005c" stroke="#000015" d="M6014 3946l60 6 35 15-60-6z"/>
<path fill="#000064" stroke="#000021" d="M6074 3952l60 4 35 15-60-4z"/>
<path fill="#00006f" stroke="#000025" d="M6134 3956l60 2 35 16-60-3z"/>
<path fill="#000075" stroke="#000034" d="M6194 3958l60 0 35 16-60 0z"/>
<path fill="#00007d" stroke="#000037" d="M6254 3958l60-2 35 17-60 1z"/>
<path fill="#000081" stroke="#000049" d="M6314 3956l60-2 35 16-60 3z"/>
<path fill="#008" stroke="#00004d" d="M6374 3954l60-5 35 17-60 4z"/>
<path fill="#00008e" stroke="#000050" d="M6434 3949l60-5 35 17-60 5z"/>
<path fill="#000094" stroke="#000067" d="M6494 3944l60-6 35 17-60 6z"/>
<path fill="#000093" stroke="#000067" d="M6554 3938l60-7 35 17-60 7z"/>
<path fill="#000097" stroke="#00006a" d="M6614 3931l60-8 35 18-60 7z"/>
<path fill="#009" stroke="#00006b" d="M2207 4733l60-11 35 18-60 12zm60-11l60-13 35 18-60 13zm60-13l60-14 35 19-60 13zm60-14l60-14 35 19-60 14zm60-14l60-15 35 19-60 15zm4262-740l60-8 35 17-60 8zm60-8l60-9 35 18-60 8zm60-9l60-9 35 18-60 9zm60-9l60-9 35 18-60 9z"/>
<path fill="#00009e" stroke="#00006e" d="M2507 4666l60-16 35 20-60 15zm60-16l60-17 35 20-60 17zm60-17l60-19 35 21-60 18zm60-19l60-20 35 22-60 19z"/>
<path fill="#0000a3" stroke="#000072" d="M2747 4594l60-22 35 23-60 21zm60-22l61-23 34 24-60 22z"/>
<path fill="#0000a8" stroke="#000076" d="M2868 4549l60-25 34 25-60 24zm60-25l60-26 34 26-60 25z"/>
<path fill="#0000ae" stroke="#000079" d="M2988 4498l60-28 34 27-60 27z"/>
<path fill="#0000b3" stroke="#00007d" d="M3048 4470l60-30 34 29-60 28zm60-30l60-30 34 30-60 29z"/>
<path fill="#0000b8" stroke="#000081" d="M3168 4410l60-32 34 31-60 31z"/>
<path fill="#0000bd" stroke="#00006b" d="M3228 4378l60-34 34 33-60 32z"/>
<path fill="#0000c3" stroke="#00006e" d="M3288 4344l60-35 34 35-60 33z"/>
<path fill="#0000c8" stroke="#000071" d="M3348 4309l60-37 34 37-60 35z"/>
<path fill="#0000cd" stroke="#000074" d="M3408 4272l60-38 34 38-60 37z"/>
<path fill="#0000d2" stroke="#007" d="M3468 4234l60-40 35 39-61 39z"/>
<path fill="#0000d8" stroke="#00005f" d="M3528 4194l60-42 35 41-60 40z"/>
<path fill="#0000e2" stroke="#000064" d="M3588 4152l60-44 35 42-60 43z"/>
<path fill="#0000e7" stroke="#006" d="M3648 4108l60-45 35 44-60 43z"/>
<path fill="#0000ed" stroke="#000068" d="M3708 4063l60-46 35 45-60 45z"/>
<path fill="#0000f7" stroke="#00006d" d="M3768 4017l60-47 35 47-60 45z"/>
<path fill="#0000fc" stroke="#00006f" d="M3828 3970l60-48 35 49-60 46z"/>
<path fill="#0008ff" stroke="#000354" d="M3888 3922l60-48 35 50-60 47z"/>
<path fill="#0018ff" stroke="#000854" d="M3948 3874l60-47 35 51-60 46z"/>
<path fill="#0028ff" stroke="#00093b" d="M4008 3827l60-47 35 52-60 46z"/>
<path fill="#0038ff" stroke="#000d3b" d="M4068 3780l60-45 35 53-60 44z"/>
<path fill="#0048ff" stroke="#00113b" d="M4128 3735l60-44 35 55-60 42z"/>
<path fill="#0058ff" stroke="#000d25" d="M4188 3691l60-41 35 55-60 41zm60-41l60-38 35 55-60 38z"/>
<path fill="#0068ff" stroke="#000f25" d="M4308 3612l60-35 35 55-60 35zm600-108l60 19 35 35-60-16z"/>
<path fill="#0078ff" stroke="#001125" d="M4368 3577l60-31 35 55-60 31zm60-31l60-27 35 55-60 27zm360-66l60 10 35 41-60-7zm60 10l60 14 35 38-60-11z"/>
<path fill="#0087ff" stroke="#000a13" d="M4488 3519l60-22 35 54-60 23zm60-22l60-15 35 53-60 16zm60-15l60-7 35 51-60 9zm60-7l60-1 35 49-60 3zm60-1l60 6 35 44-60-1z"/>
<path fill="#0052ed" stroke="#000c23" d="M4968 3523l60 23 35 31-60-19z"/>
<path fill="#003eb4" stroke="#00050e" d="M5028 3546l60 26 35 28-60-23z"/>
<path fill="#002686" stroke="#00030a" d="M5088 3572l60 28 35 26-60-26z"/>
<path fill="#001663" stroke="#000102" d="M5148 3600l60 31 35 22-60-27z"/>
<path fill="#000c4a" stroke="#000002" d="M5208 3631l60 31 35 21-60-30z"/>
<path fill="#00053a" stroke="#000" d="M5268 3662l60 32 35 19-60-30z"/>
<path fill="#00002b" stroke="#000" d="M5688 3868l60 22 35 14-60-22z"/>
<path fill="#000030" stroke="#000001" d="M5748 3890l60 20 35 13-60-19z"/>
<path fill="#000037" stroke="#000001" d="M5808 3910l60 16 35 14-60-17z"/>
<path fill="#00003f" stroke="#000005" d="M5868 3926l61 14 34 14-60-14z"/>
<path fill="#000048" stroke="#000005" d="M5929 3940l60 12 34 14-60-12z"/>
<path fill="#000051" stroke="#00000c" d="M5989 3952l60 9 34 14-60-9z"/>
<path fill="#000059" stroke="#000015" d="M6049 3961l60 6 34 15-60-7z"/>
<path fill="#000061" stroke="#000016" d="M6109 3967l60 4 34 15-60-4z"/>
<path fill="#00006c" stroke="#000024" d="M6169 3971l60 3 34 15-60-3z"/>
<path fill="#000072" stroke="#000032" d="M6229 3974l60 0 34 16-60-1z"/>
<path fill="#00007b" stroke="#000036" d="M6289 3974l60-1 34 16-60 1z"/>
<path fill="#00007f" stroke="#000048" d="M6349 3973l60-3 34 16-60 3z"/>
<path fill="#000086" stroke="#00004c" d="M6409 3970l60-4 34 16-60 4z"/>
<path fill="#00008c" stroke="#00004f" d="M6469 3966l60-5 35 17-61 4z"/>
<path fill="#000092" stroke="#006" d="M6529 3961l60-6 35 17-60 6zm60-6l60-7 35 17-60 7z"/>
<path fill="#000096" stroke="#000069" d="M6649 3948l60-7 35 17-60 7z"/>
<path fill="#009" stroke="#00006b" d="M2242 4752l60-12 35 18-60 12zm60-12l60-13 35 19-60 12zm60-13l60-13 35 19-60 13zm60-13l60-14 35 19-60 14zm60-14l60-15 35 20-60 14zm60-15l60-15 35 19-60 16zm4262-735l60-8 34 17-60 8zm60-8l60-9 34 18-60 8zm60-9l60-9 34 18-60 9zm60-9l60-9 34 17-60 10z"/>
<path fill="#00009e" stroke="#00006e" d="M2602 4670l60-17 35 20-60 16zm60-17l60-18 35 21-60 17zm60-18l60-19 35 21-60 19z"/>
<path fill="#0000a3" stroke="#000072" d="M2782 4616l60-21 35 22-60 20zm60-21l60-22 35 23-60 21zm60-22l60-24 35 24-60 23z"/>
<path fill="#0000a8" stroke="#000076" d="M2962 4549l60-25 35 25-60 24z"/>
<path fill="#0000ae" stroke="#000079" d="M3022 4524l60-27 35 27-60 25zm60-27l60-28 35 28-60 27z"/>
<path fill="#0000b3" stroke="#00007d" d="M3142 4469l60-29 35 29-60 28z"/>
<path fill="#0000b8" stroke="#000081" d="M3202 4440l60-31 35 31-60 29z"/>
<path fill="#0000bd" stroke="#000085" d="M3262 4409l60-32 35 32-60 31z"/>
<path fill="#0000bd" stroke="#00006b" d="M3322 4377l60-33 35 33-60 32z"/>
<path fill="#0000c3" stroke="#00006e" d="M3382 4344l60-35 35 34-60 34z"/>
<path fill="#0000c8" stroke="#000071" d="M3442 4309l60-37 35 36-60 35z"/>
<path fill="#0000cd" stroke="#000074" d="M3502 4272l61-39 34 37-60 38z"/>
<path fill="#0000d8" stroke="#00007a" d="M3563 4233l60-40 34 39-60 38z"/>
<path fill="#00d" stroke="#000062" d="M3623 4193l60-43 34 41-60 41z"/>
<path fill="#0000e2" stroke="#000064" d="M3683 4150l60-43 34 42-60 42z"/>
<path fill="#0000e7" stroke="#006" d="M3743 4107l60-45 34 44-60 43z"/>
<path fill="#0000f2" stroke="#00006b" d="M3803 4062l60-45 34 45-60 44z"/>
<path fill="#0000f7" stroke="#00006d" d="M3863 4017l60-46 34 46-60 45z"/>
<path fill="#0008ff" stroke="#000354" d="M3923 3971l60-47 34 48-60 45zm60-47l60-46 34 49-60 45z"/>
<path fill="#0018ff" stroke="#000854" d="M4043 3878l60-46 34 51-60 44z"/>
<path fill="#0028ff" stroke="#00093b" d="M4103 3832l60-44 35 51-61 44z"/>
<path fill="#0038ff" stroke="#000d3b" d="M4163 3788l60-42 35 52-60 41z"/>
<path fill="#0048ff" stroke="#00113b" d="M4223 3746l60-41 35 53-60 40zm60-41l60-38 35 53-60 38z"/>
<path fill="#0058ff" stroke="#000d25" d="M4343 3667l60-35 35 53-60 35z"/>
<path fill="#0068ff" stroke="#000f25" d="M4403 3632l60-31 35 53-60 31zm60-31l60-27 35 52-60 28zm420-70l60 11 35 36-60-8zm60 11l60 16 35 33-60-13z"/>
<path fill="#0078ff" stroke="#001125" d="M4523 3574l60-23 35 52-60 23zm60-23l60-16 35 51-60 17zm60-16l60-9 35 49-60 11zm60-9l60-3 35 46-60 6zm60-3l60 1 35 43-60 2zm60 1l60 7 35 39-60-3z"/>
<path fill="#0054f5" stroke="#000c24" d="M5003 3558l60 19 35 30-60-16z"/>
<path fill="#0035bb" stroke="#00081b" d="M5063 3577l60 23 35 27-60-20z"/>
<path fill="#001f8c" stroke="#00020b" d="M5123 3600l60 26 35 24-60-23z"/>
<path fill="#001768" stroke="#000103" d="M5183 3626l60 27 35 22-60-25z"/>
<path fill="#000c4e" stroke="#000002" d="M5243 3653l60 30 35 20-60-28z"/>
<path fill="#00063c" stroke="#000" d="M5303 3683l60 30 35 18-60-28z"/>
<path fill="#000233" stroke="#000" d="M5363 3713l60 31 35 16-60-29z"/>
<path fill="#00002a" stroke="#000" d="M5723 3882l60 22 35 13-60-22z"/>
<path fill="#00002e" stroke="#000001" d="M5783 3904l60 19 35 13-60-19z"/>
<path fill="#000034" stroke="#000001" d="M5843 3923l60 17 35 13-60-17z"/>
<path fill="#00003c" stroke="#000005" d="M5903 3940l60 14 35 14-60-15z"/>
<path fill="#000045" stroke="#000005" d="M5963 3954l60 12 35 13-60-11z"/>
<path fill="#00004d" stroke="#00000b" d="M6023 3966l60 9 35 14-60-10z"/>
<path fill="#000056" stroke="#000014" d="M6083 3975l60 7 35 14-60-7z"/>
<path fill="#00005e" stroke="#000016" d="M6143 3982l60 4 35 15-60-5z"/>
<path fill="#000069" stroke="#000023" d="M6203 3986l60 3 35 15-60-3z"/>
<path fill="#00006f" stroke="#000025" d="M6263 3989l60 1 35 15-60-1z"/>
<path fill="#000078" stroke="#000035" d="M6323 3990l60-1 35 15-60 1z"/>
<path fill="#00007d" stroke="#000046" d="M6383 3989l60-3 35 16-60 2z"/>
<path fill="#000084" stroke="#00004b" d="M6443 3986l60-4 35 17-60 3z"/>
<path fill="#00008b" stroke="#00004e" d="M6503 3982l61-4 34 16-60 5z"/>
<path fill="#000090" stroke="#000065" d="M6564 3978l60-6 34 17-60 5zm60-6l60-7 34 17-60 7z"/>
<path fill="#000095" stroke="#000068" d="M6684 3965l60-7 34 17-60 7z"/>
<path fill="#000098" stroke="#00006a" d="M6744 3958l60-8 34 17-60 8z"/>
<path fill="#009" stroke="#00006b" d="M2277 4770l60-12 35 19-60 12zm60-12l60-12 35 19-60 12zm60-12l60-13 35 19-60 13zm60-13l60-14 35 19-60 14zm60-14l60-14 35 19-60 14zm60-14l60-16 35 20-60 15zm4261-738l60-8 35 18-60 8zm60-8l60-8 35 17-60 9zm60-8l60-9 35 17-60 9zm60-9l60-10 35 18-60 9z"/>
<path fill="#00009e" stroke="#00006e" d="M2637 4689l60-16 35 20-60 16zm60-16l60-17 35 20-60 17zm60-17l60-19 35 21-60 18zm60-19l60-20 35 22-60 19z"/>
<path fill="#0000a3" stroke="#000072" d="M2877 4617l60-21 35 23-60 20zm60-21l60-23 35 24-60 22z"/>
<path fill="#0000a8" stroke="#000076" d="M2997 4573l60-24 35 25-60 23zm60-24l60-25 35 26-60 24z"/>
<path fill="#0000ae" stroke="#000079" d="M3117 4524l60-27 35 27-60 26z"/>
<path fill="#0000b3" stroke="#00007d" d="M3177 4497l60-28 35 29-60 26zm60-28l60-29 35 30-60 28z"/>
<path fill="#0000b8" stroke="#000081" d="M3297 4440l60-31 35 31-60 30z"/>
<path fill="#0000bd" stroke="#000085" d="M3357 4409l60-32 35 32-60 31z"/>
<path fill="#0000c3" stroke="#00006e" d="M3417 4377l60-34 35 34-60 32z"/>
<path fill="#0000c8" stroke="#000071" d="M3477 4343l60-35 35 35-60 34z"/>
<path fill="#0000cd" stroke="#000074" d="M3537 4308l60-38 35 37-60 36z"/>
<path fill="#0000d2" stroke="#007" d="M3597 4270l60-38 35 37-60 38z"/>
<path fill="#0000d8" stroke="#00007a" d="M3657 4232l60-41 35 39-60 39z"/>
<path fill="#00d" stroke="#000062" d="M3717 4191l60-42 35 40-60 41z"/>
<path fill="#0000e2" stroke="#000064" d="M3777 4149l60-43 35 42-60 41z"/>
<path fill="#0000ed" stroke="#000068" d="M3837 4106l60-44 35 43-60 43z"/>
<path fill="#0000f2" stroke="#00006b" d="M3897 4062l60-45 35 45-60 43z"/>
<path fill="#0000fc" stroke="#00006f" d="M3957 4017l60-45 35 46-60 44z"/>
<path fill="#0008ff" stroke="#000354" d="M4017 3972l60-45 35 47-60 44z"/>
<path fill="#0018ff" stroke="#000854" d="M4077 3927l60-44 35 48-60 43zm60-44l61-44 34 50-60 42z"/>
<path fill="#0028ff" stroke="#00093b" d="M4198 3839l60-41 34 49-60 42z"/>
<path fill="#0038ff" stroke="#000d3b" d="M4258 3798l60-40 34 50-60 39z"/>
<path fill="#0048ff" stroke="#00113b" d="M4318 3758l60-38 34 51-60 37zm60-38l60-35 34 51-60 35z"/>
<path fill="#0058ff" stroke="#000d25" d="M4438 3685l60-31 34 50-60 32zm60-31l60-28 34 50-60 28zm480-76l60 13 35 32-60-10zm60 13l60 16 35 29-60-13z"/>
<path fill="#0068ff" stroke="#000f25" d="M4558 3626l60-23 34 50-60 23zm60-23l60-17 34 48-60 19zm60-17l60-11 34 46-60 13zm60-11l60-6 34 44-60 8zm60-6l60-2 35 41-61 5zm60-2l60 3 35 39-60-1zm60 3l60 8 35 35-60-4z"/>
<path fill="#0037c5" stroke="#00081d" d="M5098 3607l60 20 35 26-60-17z"/>
<path fill="#002195" stroke="#00020b" d="M5158 3627l60 23 35 24-60-21z"/>
<path fill="#00116f" stroke="#000108" d="M5218 3650l60 25 35 22-60-23z"/>
<path fill="#000d53" stroke="#000002" d="M5278 3675l60 28 35 19-60-25z"/>
<path fill="#000640" stroke="#000002" d="M5338 3703l60 28 35 18-60-27z"/>
<path fill="#000235" stroke="#000" d="M5398 3731l60 29 35 17-60-28z"/>
<path fill="#00002a" stroke="#000" d="M5758 3895l60 22 35 12-60-21z"/>
<path fill="#00002d" stroke="#000" d="M5818 3917l60 19 35 13-60-20z"/>
<path fill="#000032" stroke="#000001" d="M5878 3936l60 17 35 13-60-17z"/>
<path fill="#00003a" stroke="#000001" d="M5938 3953l60 15 35 13-60-15z"/>
<path fill="#000042" stroke="#000005" d="M5998 3968l60 11 35 14-60-12z"/>
<path fill="#00004a" stroke="#00000b" d="M6058 3979l60 10 35 14-60-10z"/>
<path fill="#000053" stroke="#000013" d="M6118 3989l60 7 35 14-60-7z"/>
<path fill="#00005e" stroke="#000016" d="M6178 3996l60 5 35 15-60-6z"/>
<path fill="#006" stroke="#002" d="M6238 4001l60 3 35 15-60-3z"/>
<path fill="#00006c" stroke="#000024" d="M6298 4004l60 1 35 15-60-1z"/>
<path fill="#000076" stroke="#000034" d="M6358 4005l60-1 35 16-60 0z"/>
<path fill="#00007e" stroke="#000038" d="M6418 4004l60-2 35 16-60 2z"/>
<path fill="#000082" stroke="#000049" d="M6478 4002l60-3 35 16-60 3z"/>
<path fill="#000089" stroke="#00004d" d="M6538 3999l60-5 35 17-60 4z"/>
<path fill="#00008f" stroke="#000064" d="M6598 3994l60-5 35 16-60 6z"/>
<path fill="#000094" stroke="#000067" d="M6658 3989l60-7 35 17-60 6z"/>
<path fill="#000093" stroke="#000067" d="M6718 3982l60-7 35 17-60 7z"/>
<path fill="#000097" stroke="#00006a" d="M6778 3975l60-8 35 18-60 7z"/>
<path fill="#009" stroke="#00006b" d="M2312 4789l60-12 34 18-60 12zm60-12l60-12 34 18-60 12zm60-12l60-13 34 18-60 13zm60-13l60-14 35 19-61 13zm60-14l60-14 35 19-60 14zm60-14l60-15 35 19-60 15zm4261-739l60-8 35 17-60 8zm60-8l60-9 35 18-60 8zm60-9l60-9 35 18-60 9zm60-9l60-9 35 18-60 9zm60-9l60-9 35 18-60 9z"/>
<path fill="#00009e" stroke="#00006e" d="M2672 4709l60-16 35 20-60 15zm60-16l60-17 35 20-60 17zm60-17l60-18 35 21-60 17zm60-18l60-19 35 21-60 19z"/>
<path fill="#0000a3" stroke="#000072" d="M2912 4639l60-20 35 22-60 19zm60-20l60-22 35 23-60 21z"/>
<path fill="#0000a8" stroke="#000076" d="M3032 4597l60-23 35 24-60 22zm60-23l60-24 35 25-60 23z"/>
<path fill="#0000ae" stroke="#000079" d="M3152 4550l60-26 35 27-60 24zm60-26l60-26 35 27-60 26z"/>
<path fill="#0000b3" stroke="#00007d" d="M3272 4498l60-28 35 28-60 27z"/>
<path fill="#0000b8" stroke="#000081" d="M3332 4470l60-30 35 30-60 28zm60-30l60-31 35 31-60 30z"/>
<path fill="#0000bd" stroke="#00006b" d="M3452 4409l60-32 35 32-60 31z"/>
<path fill="#0000c3" stroke="#00006e" d="M3512 4377l60-34 35 33-60 33z"/>
<path fill="#0000c8" stroke="#000071" d="M3572 4343l60-36 35 34-60 35z"/>
<path fill="#0000cd" stroke="#000074" d="M3632 4307l60-38 35 36-60 36z"/>
<path fill="#0000d2" stroke="#007" d="M3692 4269l60-39 35 38-60 37z"/>
<path fill="#0000d8" stroke="#00005f" d="M3752 4230l60-41 35 39-60 40z"/>
<path fill="#0000e2" stroke="#000064" d="M3812 4189l60-41 35 40-60 40z"/>
<path fill="#0000e7" stroke="#006" d="M3872 4148l60-43 35 42-60 41z"/>
<path fill="#0000ed" stroke="#000068" d="M3932 4105l60-43 35 43-60 42z"/>
<path fill="#0000f2" stroke="#00006b" d="M3992 4062l60-44 35 44-60 43z"/>
<path fill="#0000fc" stroke="#00006f" d="M4052 4018l60-44 35 46-60 42z"/>
<path fill="#0008ff" stroke="#000354" d="M4112 3974l60-43 35 46-60 43z"/>
<path fill="#0018ff" stroke="#000854" d="M4172 3931l60-42 35 47-60 41zm60-42l60-42 35 48-60 41z"/>
<path fill="#0028ff" stroke="#00093b" d="M4292 3847l60-39 35 48-60 39z"/>
<path fill="#0038ff" stroke="#000d3b" d="M4352 3808l60-37 35 49-60 36z"/>
<path fill="#0048ff" stroke="#00113b" d="M4412 3771l60-35 35 49-60 35zm60-35l60-32 35 49-60 32zm601-113l60 13 34 28-60-10z"/>
<path fill="#0058ff" stroke="#000d25" d="M4532 3704l60-28 35 48-60 29zm60-28l60-23 35 47-60 24zm60-23l60-19 35 46-60 20zm241-45l60 1 34 36-60 3zm60 1l60 4 34 34-60-2zm60 4l60 10 34 31-60-7z"/>
<path fill="#0068ff" stroke="#000f25" d="M4712 3634l60-13 35 45-60 14zm60-13l60-8 35 42-60 11zm60-8l61-5 34 40-60 7z"/>
<path fill="#003bd0" stroke="#00091e" d="M5133 3636l60 17 34 26-60-15z"/>
<path fill="#00239f" stroke="#000517" d="M5193 3653l60 21 34 23-60-18z"/>
<path fill="#001378" stroke="#000109" d="M5253 3674l60 23 34 21-60-21z"/>
<path fill="#000e5a" stroke="#000002" d="M5313 3697l60 25 34 19-60-23z"/>
<path fill="#000645" stroke="#000002" d="M5373 3722l60 27 34 18-60-26z"/>
<path fill="#000238" stroke="#000" d="M5433 3749l60 28 35 16-61-26z"/>
<path fill="#00002d" stroke="#000" d="M5853 3929l60 20 35 12-60-19z"/>
<path fill="#000030" stroke="#000001" d="M5913 3949l60 17 35 13-60-18z"/>
<path fill="#000037" stroke="#000001" d="M5973 3966l60 15 35 12-60-14z"/>
<path fill="#00003f" stroke="#000005" d="M6033 3981l60 12 35 13-60-13z"/>
<path fill="#000048" stroke="#00000a" d="M6093 3993l60 10 35 13-60-10z"/>
<path fill="#000053" stroke="#00000c" d="M6153 4003l60 7 35 14-60-8z"/>
<path fill="#00005b" stroke="#000015" d="M6213 4010l60 6 35 14-60-6z"/>
<path fill="#000063" stroke="#000021" d="M6273 4016l60 3 35 15-60-4z"/>
<path fill="#00006d" stroke="#000024" d="M6333 4019l60 1 35 15-60-1z"/>
<path fill="#000073" stroke="#003" d="M6393 4020l60 0 35 15-60 0z"/>
<path fill="#00007c" stroke="#000037" d="M6453 4020l60-2 35 16-60 1z"/>
<path fill="#000080" stroke="#000048" d="M6513 4018l60-3 35 16-60 3z"/>
<path fill="#000087" stroke="#00004c" d="M6573 4015l60-4 35 16-60 4z"/>
<path fill="#00008d" stroke="#000050" d="M6633 4011l60-6 35 17-60 5z"/>
<path fill="#000092" stroke="#006" d="M6693 4005l60-6 35 17-60 6zm60-6l60-7 35 17-60 7z"/>
<path fill="#000096" stroke="#000069" d="M6813 3992l60-7 35 17-60 7z"/>
<path fill="#009" stroke="#00006b" d="M2346 4807l60-12 35 19-60 11zm60-12l60-12 35 19-60 12zm60-12l60-13 35 19-60 13zm60-13l61-13 34 19-60 13zm61-13l60-14 34 19-60 14zm60-14l60-15 34 20-60 14zm4321-749l60-8 35 17-60 8zm60-8l60-9 35 17-60 9zm60-9l60-9 35 17-60 9zm60-9l60-9 35 17-60 9z"/>
<path fill="#00009e" stroke="#00006e" d="M2707 4728l60-15 34 19-60 16zm60-15l60-17 34 20-60 16zm60-17l60-17 34 21-60 16zm60-17l60-19 34 22-60 18z"/>
<path fill="#0000a3" stroke="#000072" d="M2947 4660l60-19 34 22-60 19zm60-19l60-21 34 23-60 20zm60-21l60-22 34 24-60 21z"/>
<path fill="#0000a8" stroke="#000076" d="M3127 4598l60-23 35 25-61 22zm60-23l60-24 35 25-60 24z"/>
<path fill="#0000ae" stroke="#000079" d="M3247 4551l60-26 35 27-60 24zm60-26l60-27 35 28-60 26z"/>
<path fill="#0000b3" stroke="#00007d" d="M3367 4498l60-28 35 29-60 27z"/>
<path fill="#0000b8" stroke="#000081" d="M3427 4470l60-30 35 30-60 29z"/>
<path fill="#0000bd" stroke="#000085" d="M3487 4440l60-31 35 31-60 30z"/>
<path fill="#0000bd" stroke="#00006b" d="M3547 4409l60-33 35 32-60 32z"/>
<path fill="#0000c3" stroke="#00006e" d="M3607 4376l60-35 35 34-60 33z"/>
<path fill="#0000c8" stroke="#000071" d="M3667 4341l60-36 35 35-60 35z"/>
<path fill="#0000cd" stroke="#000074" d="M3727 4305l60-37 35 36-60 36z"/>
<path fill="#0000d8" stroke="#00007a" d="M3787 4268l60-40 35 38-60 38z"/>
<path fill="#00d" stroke="#000062" d="M3847 4228l60-40 35 39-60 39z"/>
<path fill="#0000e2" stroke="#000064" d="M3907 4188l60-41 35 40-60 40z"/>
<path fill="#0000e7" stroke="#006" d="M3967 4147l60-42 35 41-60 41z"/>
<path fill="#0000ed" stroke="#000068" d="M4027 4105l60-43 35 43-60 41z"/>
<path fill="#0000f7" stroke="#00006d" d="M4087 4062l60-42 35 43-60 42z"/>
<path fill="#0000fc" stroke="#00006f" d="M4147 4020l60-43 35 45-60 41z"/>
<path fill="#0008ff" stroke="#000354" d="M4207 3977l60-41 35 45-60 41z"/>
<path fill="#0018ff" stroke="#000854" d="M4267 3936l60-41 35 47-60 39zm60-41l60-39 35 47-60 39z"/>
<path fill="#0028ff" stroke="#00093b" d="M4387 3856l60-36 35 46-60 37z"/>
<path fill="#0038ff" stroke="#000d3b" d="M4447 3820l60-35 35 47-60 34zm60-35l60-32 35 47-60 32z"/>
<path fill="#0048ff" stroke="#00113b" d="M4567 3753l60-29 35 47-60 29zm60-29l60-24 35 46-60 25zm420-77l60 7 35 30-60-3zm60 7l60 10 35 28-60-8z"/>
<path fill="#0058ff" stroke="#000d25" d="M4687 3700l60-20 35 45-60 21zm60-20l60-14 35 42-60 17zm60-14l60-11 35 41-60 12zm60-11l60-7 35 39-60 9zm60-7l60-3 35 37-60 5zm60-3l60 2 35 34-60 1z"/>
<path fill="#0030dd" stroke="#000b33" d="M5167 3664l60 15 35 25-60-12z"/>
<path fill="#0025ab" stroke="#000519" d="M5227 3679l60 18 35 23-60-16z"/>
<path fill="#001482" stroke="#00020a" d="M5287 3697l60 21 35 21-60-19z"/>
<path fill="#000962" stroke="#000107" d="M5347 3718l60 23 35 20-60-22z"/>
<path fill="#00074b" stroke="#000002" d="M5407 3741l60 26 35 17-60-23z"/>
<path fill="#00023c" stroke="#000" d="M5467 3767l61 26 34 16-60-25z"/>
<path fill="#000032" stroke="#000" d="M5528 3793l60 26 34 15-60-25z"/>
<path fill="#00002c" stroke="#000" d="M5888 3942l60 19 34 12-60-19z"/>
<path fill="#000030" stroke="#000001" d="M5948 3961l60 18 34 12-60-18z"/>
<path fill="#000037" stroke="#000001" d="M6008 3979l60 14 34 13-60-15z"/>
<path fill="#00003d" stroke="#000005" d="M6068 3993l60 13 34 13-60-13z"/>
<path fill="#000047" stroke="#000005" d="M6128 4006l60 10 35 14-61-11z"/>
<path fill="#000050" stroke="#00000c" d="M6188 4016l60 8 35 14-60-8z"/>
<path fill="#000058" stroke="#000014" d="M6248 4024l60 6 35 14-60-6z"/>
<path fill="#000060" stroke="#000016" d="M6308 4030l60 4 35 14-60-4z"/>
<path fill="#00006a" stroke="#000023" d="M6368 4034l60 1 35 15-60-2z"/>
<path fill="#000070" stroke="#000025" d="M6428 4035l60 0 35 16-60-1z"/>
<path fill="#000079" stroke="#000036" d="M6488 4035l60-1 35 16-60 1z"/>
<path fill="#00007d" stroke="#000047" d="M6548 4034l60-3 35 16-60 3z"/>
<path fill="#000085" stroke="#00004b" d="M6608 4031l60-4 35 16-60 4z"/>
<path fill="#00008b" stroke="#00004f" d="M6668 4027l60-5 35 16-60 5z"/>
<path fill="#000091" stroke="#000065" d="M6728 4022l60-6 35 17-60 5zm60-6l60-7 35 17-60 7z"/>
<path fill="#000095" stroke="#000068" d="M6848 4009l60-7 35 17-60 7z"/>
<path fill="#000098" stroke="#00006a" d="M6908 4002l60-8 35 17-60 8z"/>
<path fill="#009" stroke="#00006b" d="M2381 4825l60-11 35 18-60 12zm60-11l60-12 35 18-60 12zm60-12l60-13 35 18-60 13zm60-13l60-13 35 18-60 13zm60-13l60-14 35 19-60 13zm60-14l60-14 35 19-60 14zm60-14l60-16 35 20-60 15zm4262-737l60-8 35 17-60 8zm60-8l60-9 35 18-60 8zm60-9l60-9 35 18-60 9zm60-9l60-9 35 18-60 9z"/>
<path fill="#00009e" stroke="#00006e" d="M2801 4732l60-16 35 20-60 16zm60-16l60-16 35 20-60 16zm60-16l60-18 35 21-60 17zm60-18l60-19 35 22-60 18z"/>
<path fill="#0000a3" stroke="#000072" d="M3041 4663l60-20 35 22-60 20zm60-20l60-21 35 23-60 20z"/>
<path fill="#0000a8" stroke="#000076" d="M3161 4622l61-22 34 24-60 21zm61-22l60-24 34 25-60 23z"/>
<path fill="#0000ae" stroke="#000079" d="M3282 4576l60-24 34 26-60 23zm60-24l60-26 34 27-60 25z"/>
<path fill="#0000b3" stroke="#00007d" d="M3402 4526l60-27 34 28-60 26zm60-27l60-29 34 29-60 28z"/>
<path fill="#0000b8" stroke="#000081" d="M3522 4470l60-30 34 30-60 29z"/>
<path fill="#0000bd" stroke="#000085" d="M3582 4440l60-32 34 32-60 30z"/>
<path fill="#0000c3" stroke="#00006e" d="M3642 4408l60-33 34 33-60 32z"/>
<path fill="#0000c8" stroke="#000071" d="M3702 4375l60-35 34 34-60 34z"/>
<path fill="#0000cd" stroke="#000074" d="M3762 4340l60-36 34 35-60 35z"/>
<path fill="#0000d2" stroke="#007" d="M3822 4304l60-38 35 36-61 37z"/>
<path fill="#0000d8" stroke="#00007a" d="M3882 4266l60-39 35 38-60 37z"/>
<path fill="#00d" stroke="#000062" d="M3942 4227l60-40 35 39-60 39z"/>
<path fill="#0000e2" stroke="#000064" d="M4002 4187l60-41 35 40-60 40z"/>
<path fill="#0000e7" stroke="#006" d="M4062 4146l60-41 35 41-60 40z"/>
<path fill="#0000f2" stroke="#00006b" d="M4122 4105l60-42 35 43-60 40z"/>
<path fill="#0000f7" stroke="#00006d" d="M4182 4063l60-41 35 43-60 41z"/>
<path fill="#0000fc" stroke="#00006f" d="M4242 4022l60-41 35 44-60 40z"/>
<path fill="#0008ff" stroke="#000354" d="M4302 3981l60-39 35 44-60 39z"/>
<path fill="#0018ff" stroke="#000854" d="M4362 3942l60-39 35 45-60 38zm60-39l60-37 35 46-60 36z"/>
<path fill="#0028ff" stroke="#00093b" d="M4482 3866l60-34 35 45-60 35z"/>
<path fill="#0038ff" stroke="#000d3b" d="M4542 3832l60-32 35 45-60 32zm60-32l60-29 35 44-60 30z"/>
<path fill="#0048ff" stroke="#00113b" d="M4662 3771l60-25 35 44-60 25zm60-25l60-21 35 43-60 22zm60-21l60-17 35 42-60 18zm60-17l60-12 35 39-60 15zm60-12l60-9 35 37-60 11zm60-9l60-5 35 35-60 7zm60-5l60-1 35 33-60 3zm60-1l60 3 35 31-60-1zm60 3l60 8 35 28-60-5z"/>
<path fill="#0034ed" stroke="#000c37" d="M5202 3692l60 12 35 26-60-10z"/>
<path fill="#0028b9" stroke="#00061b" d="M5262 3704l60 16 35 23-60-13z"/>
<path fill="#00168e" stroke="#00020b" d="M5322 3720l60 19 35 21-60-17z"/>
<path fill="#000a6c" stroke="#000108" d="M5382 3739l60 22 35 19-60-20z"/>
<path fill="#000852" stroke="#000002" d="M5442 3761l60 23 35 17-60-21z"/>
<path fill="#000241" stroke="#000002" d="M5502 3784l60 25 35 16-60-24z"/>
<path fill="#000036" stroke="#000" d="M5562 3809l60 25 35 15-60-24z"/>
<path fill="#00002b" stroke="#000" d="M5922 3954l60 19 35 12-60-19z"/>
<path fill="#00002f" stroke="#000001" d="M5982 3973l60 18 35 12-60-18z"/>
<path fill="#000035" stroke="#000001" d="M6042 3991l60 15 35 12-60-15z"/>
<path fill="#00003c" stroke="#000005" d="M6102 4006l60 13 35 13-60-14z"/>
<path fill="#004" stroke="#000005" d="M6162 4019l61 11 34 13-60-11z"/>
<path fill="#00004d" stroke="#00000b" d="M6223 4030l60 8 34 13-60-8z"/>
<path fill="#005" stroke="#000014" d="M6283 4038l60 6 34 14-60-7z"/>
<path fill="#00005d" stroke="#000015" d="M6343 4044l60 4 34 14-60-4z"/>
<path fill="#000067" stroke="#002" d="M6403 4048l60 2 34 15-60-3z"/>
<path fill="#00006e" stroke="#000024" d="M6463 4050l60 1 34 15-60-1z"/>
<path fill="#007" stroke="#000034" d="M6523 4051l60-1 34 15-60 1z"/>
<path fill="#00007f" stroke="#000038" d="M6583 4050l60-3 34 16-60 2z"/>
<path fill="#000082" stroke="#00004a" d="M6643 4047l60-4 34 16-60 4z"/>
<path fill="#000089" stroke="#00004d" d="M6703 4043l60-5 34 17-60 4z"/>
<path fill="#00008f" stroke="#000064" d="M6763 4038l60-5 35 16-61 6z"/>
<path fill="#000094" stroke="#000068" d="M6823 4033l60-7 35 17-60 6z"/>
<path fill="#000093" stroke="#000067" d="M6883 4026l60-7 35 17-60 7z"/>
<path fill="#000097" stroke="#00006a" d="M6943 4019l60-8 35 17-60 8z"/>
<path fill="#009" stroke="#00006b" d="M2416 4844l60-12 35 18-60 12zm60-12l60-12 35 18-60 12zm60-12l60-13 35 19-60 12zm60-13l60-13 35 19-60 13zm60-13l60-13 35 19-60 13zm60-13l60-14 35 19-60 14zm60-14l60-15 35 19-60 15zm4262-739l60-8 34 18-60 8zm60-8l60-8 34 17-60 9zm60-8l60-9 34 18-60 8zm60-9l60-9 34 18-60 9zm60-9l60-9 34 17-60 10z"/>
<path fill="#00009e" stroke="#00006e" d="M2836 4752l60-16 35 20-60 15zm60-16l60-16 35 20-60 16zm60-16l60-17 35 21-60 16zm60-17l60-18 35 21-60 18z"/>
<path fill="#0000a3" stroke="#000072" d="M3076 4685l60-20 35 22-60 19zm60-20l60-20 35 23-60 19zm60-20l60-21 35 23-60 21z"/>
<path fill="#0000a8" stroke="#000076" d="M3256 4624l60-23 35 25-60 21zm60-23l60-23 35 25-60 23z"/>
<path fill="#0000ae" stroke="#000079" d="M3376 4578l60-25 35 26-60 24zm60-25l60-26 35 27-60 25z"/>
<path fill="#0000b3" stroke="#00007d" d="M3496 4527l60-28 35 29-60 26z"/>
<path fill="#0000b8" stroke="#000081" d="M3556 4499l60-29 35 30-60 28zm60-29l60-30 35 30-60 30z"/>
<path fill="#0000bd" stroke="#00006b" d="M3676 4440l60-32 35 31-60 31z"/>
<path fill="#0000c3" stroke="#00006e" d="M3736 4408l60-34 35 33-60 32z"/>
<path fill="#0000c8" stroke="#000071" d="M3796 4374l60-35 35 34-60 34z"/>
<path fill="#0000cd" stroke="#000074" d="M3856 4339l61-37 34 35-60 36z"/>
<path fill="#0000d2" stroke="#007" d="M3917 4302l60-37 34 36-60 36z"/>
<path fill="#0000d8" stroke="#00005f" d="M3977 4265l60-39 34 37-60 38z"/>
<path fill="#00d" stroke="#000062" d="M4037 4226l60-40 34 39-60 38z"/>
<path fill="#0000e7" stroke="#006" d="M4097 4186l60-40 34 40-60 39z"/>
<path fill="#0000ed" stroke="#000068" d="M4157 4146l60-40 34 40-60 40z"/>
<path fill="#0000f2" stroke="#00006b" d="M4217 4106l60-41 34 42-60 39z"/>
<path fill="#0000f7" stroke="#00006d" d="M4277 4065l60-40 34 43-60 39z"/>
<path fill="#0000fc" stroke="#00006f" d="M4337 4025l60-39 34 43-60 39z"/>
<path fill="#0008ff" stroke="#000354" d="M4397 3986l60-38 34 44-60 37z"/>
<path fill="#0018ff" stroke="#000854" d="M4457 3948l60-36 35 44-61 36zm60-36l60-35 35 44-60 35z"/>
<path fill="#0028ff" stroke="#00093b" d="M4577 3877l60-32 35 44-60 32z"/>
<path fill="#0038ff" stroke="#000d3b" d="M4637 3845l60-30 35 44-60 30zm60-30l60-25 35 43-60 26zm60-25l60-22 35 42-60 23zm420-75l60 5 35 28-60-3z"/>
<path fill="#0048ff" stroke="#00113b" d="M4817 3768l60-18 35 40-60 20zm60-18l60-15 35 39-60 16zm60-15l60-11 35 37-60 13zm60-11l60-7 35 35-60 9zm60-7l60-3 35 32-60 6zm60-3l60 1 35 30-60 1z"/>
<path fill="#0037fe" stroke="#000d3b" d="M5237 3720l60 10 35 25-60-7z"/>
<path fill="#002cc8" stroke="#00061d" d="M5297 3730l60 13 35 24-60-12z"/>
<path fill="#00189c" stroke="#000417" d="M5357 3743l60 17 35 21-60-14z"/>
<path fill="#000b77" stroke="#000109" d="M5417 3760l60 20 35 19-60-18z"/>
<path fill="#00095b" stroke="#000002" d="M5477 3780l60 21 35 18-60-20z"/>
<path fill="#000247" stroke="#000002" d="M5537 3801l60 24 35 16-60-22z"/>
<path fill="#00003a" stroke="#000" d="M5597 3825l60 24 35 15-60-23z"/>
<path fill="#000031" stroke="#000" d="M5657 3849l60 25 35 13-60-23z"/>
<path fill="#00002a" stroke="#000" d="M5957 3966l60 19 35 12-60-19z"/>
<path fill="#00002e" stroke="#000001" d="M6017 3985l60 18 35 12-60-18z"/>
<path fill="#003" stroke="#000001" d="M6077 4003l60 15 35 13-60-16z"/>
<path fill="#00003a" stroke="#000004" d="M6137 4018l60 14 35 12-60-13z"/>
<path fill="#000042" stroke="#000005" d="M6197 4032l60 11 35 12-60-11z"/>
<path fill="#00004a" stroke="#00000b" d="M6257 4043l60 8 35 14-60-10z"/>
<path fill="#000052" stroke="#00000c" d="M6317 4051l60 7 35 13-60-6z"/>
<path fill="#00005d" stroke="#000015" d="M6377 4058l60 4 35 14-60-5z"/>
<path fill="#000064" stroke="#000021" d="M6437 4062l60 3 35 14-60-3z"/>
<path fill="#00006e" stroke="#000024" d="M6497 4065l60 1 35 15-60-2z"/>
<path fill="#000074" stroke="#003" d="M6557 4066l60-1 35 15-60 1z"/>
<path fill="#00007d" stroke="#000037" d="M6617 4065l60-2 35 16-60 1z"/>
<path fill="#000080" stroke="#000048" d="M6677 4063l60-4 35 16-60 4z"/>
<path fill="#000087" stroke="#00004c" d="M6737 4059l60-4 35 16-60 4z"/>
<path fill="#00008d" stroke="#000050" d="M6797 4055l61-6 34 17-60 5z"/>
<path fill="#000092" stroke="#000067" d="M6858 4049l60-6 34 17-60 6z"/>
<path fill="#000092" stroke="#006" d="M6918 4043l60-7 34 17-60 7z"/>
<path fill="#000096" stroke="#000069" d="M6978 4036l60-8 34 18-60 7z"/>
<path fill="#009" stroke="#00006b" d="M2451 4862l60-12 35 19-60 11zm60-12l60-12 35 19-60 12zm60-12l60-12 35 18-60 13zm60-12l60-13 35 19-60 12zm60-13l60-13 35 18-60 14zm60-13l60-14 35 19-60 13zm60-14l60-15 35 20-60 14zm4321-748l60-9 35 18-60 8zm60-9l60-8 35 17-60 9zm60-8l60-9 35 17-60 9zm60-9l60-10 35 18-60 9z"/>
<path fill="#00009e" stroke="#00006e" d="M2871 4771l60-15 35 20-60 15zm60-15l60-16 35 20-60 16zm60-16l60-16 35 20-60 16zm60-16l60-18 35 21-60 17zm60-18l60-19 35 22-60 18z"/>
<path fill="#0000a3" stroke="#000072" d="M3171 4687l60-19 35 22-60 19zm60-19l60-21 35 23-60 20z"/>
<path fill="#0000a8" stroke="#000076" d="M3291 4647l60-21 35 24-60 20zm60-21l60-23 35 25-60 22z"/>
<path fill="#0000ae" stroke="#000079" d="M3411 4603l60-24 35 26-60 23zm60-24l60-25 35 27-60 24z"/>
<path fill="#0000b3" stroke="#00007d" d="M3531 4554l60-26 35 27-60 26zm60-26l60-28 35 28-60 27z"/>
<path fill="#0000b8" stroke="#000081" d="M3651 4500l60-30 35 30-60 28z"/>
<path fill="#0000bd" stroke="#000085" d="M3711 4470l60-31 35 31-60 30z"/>
<path fill="#0000c3" stroke="#00006e" d="M3771 4439l60-32 35 31-60 32z"/>
<path fill="#0000c8" stroke="#000071" d="M3831 4407l60-34 35 33-60 32zm60-34l60-36 35 35-60 34z"/>
<path fill="#0000cd" stroke="#000074" d="M3951 4337l60-36 35 35-60 36z"/>
<path fill="#0000d8" stroke="#00007a" d="M4011 4301l60-38 35 37-60 36z"/>
<path fill="#00d" stroke="#000062" d="M4071 4263l60-38 35 38-60 37z"/>
<path fill="#0000e2" stroke="#000064" d="M4131 4225l60-39 35 39-60 38z"/>
<path fill="#0000e7" stroke="#006" d="M4191 4186l60-40 35 40-60 39z"/>
<path fill="#0000ed" stroke="#000068" d="M4251 4146l60-39 35 41-60 38z"/>
<path fill="#0000f2" stroke="#00006b" d="M4311 4107l60-39 35 41-60 39z"/>
<path fill="#0000f7" stroke="#00006d" d="M4371 4068l60-39 35 42-60 38z"/>
<path fill="#0008ff" stroke="#000354" d="M4431 4029l60-37 35 42-60 37zm60-37l61-36 34 42-60 36z"/>
<path fill="#0018ff" stroke="#000854" d="M4552 3956l60-35 34 43-60 34zm60-35l60-32 34 42-60 33z"/>
<path fill="#0028ff" stroke="#00093b" d="M4672 3889l60-30 34 42-60 30zm60-30l60-26 34 41-60 27z"/>
<path fill="#0038ff" stroke="#000d3b" d="M4792 3833l60-23 34 41-60 23zm60-23l60-20 34 40-60 21zm60-20l60-16 34 38-60 18zm60-16l60-13 34 37-60 14zm60-13l60-9 34 34-60 12zm60-9l60-6 35 33-61 7zm60-6l60-1 35 30-60 4zm60-1l60 3 35 28-60-1zm60 3l60 7 35 26-60-5z"/>
<path fill="#0022da" stroke="#000832" d="M5332 3755l60 12 35 23-60-9z"/>
<path fill="#001bab" stroke="#000419" d="M5392 3767l60 14 35 22-60-13z"/>
<path fill="#000c84" stroke="#00010a" d="M5452 3781l60 18 35 19-60-15z"/>
<path fill="#000a66" stroke="#000108" d="M5512 3799l60 20 35 18-60-19z"/>
<path fill="#00024f" stroke="#000002" d="M5572 3819l60 22 35 16-60-20z"/>
<path fill="#00003f" stroke="#000002" d="M5632 3841l60 23 35 15-60-22z"/>
<path fill="#000034" stroke="#000" d="M5692 3864l60 23 35 14-60-22z"/>
<path fill="#00002b" stroke="#000" d="M5992 3978l60 19 35 12-60-19z"/>
<path fill="#00002d" stroke="#000001" d="M6052 3997l60 18 35 12-60-18z"/>
<path fill="#000032" stroke="#000001" d="M6112 4015l60 16 35 12-60-16z"/>
<path fill="#000038" stroke="#000001" d="M6172 4031l60 13 35 12-60-13z"/>
<path fill="#00003f" stroke="#000005" d="M6232 4044l60 11 35 13-60-12z"/>
<path fill="#000047" stroke="#00000a" d="M6292 4055l60 10 35 13-60-10z"/>
<path fill="#000052" stroke="#00000c" d="M6352 4065l60 6 35 14-60-7z"/>
<path fill="#00005a" stroke="#000015" d="M6412 4071l60 5 35 14-60-5z"/>
<path fill="#000061" stroke="#000016" d="M6472 4076l60 3 35 15-60-4z"/>
<path fill="#00006b" stroke="#000023" d="M6532 4079l60 2 35 15-60-2z"/>
<path fill="#000071" stroke="#000025" d="M6592 4081l60-1 35 16-60 0z"/>
<path fill="#00007a" stroke="#000036" d="M6652 4080l60-1 35 15-60 2z"/>
<path fill="#00007e" stroke="#000047" d="M6712 4079l60-4 35 16-60 3z"/>
<path fill="#000085" stroke="#00004b" d="M6772 4075l60-4 35 16-60 4z"/>
<path fill="#00008b" stroke="#00004f" d="M6832 4071l60-5 35 16-60 5z"/>
<path fill="#000091" stroke="#000065" d="M6892 4066l60-6 35 17-60 5zm60-6l60-7 35 17-60 7z"/>
<path fill="#000095" stroke="#000068" d="M7012 4053l60-7 35 17-60 7z"/>
<path fill="#000098" stroke="#00006a" d="M7072 4046l60-8 35 17-60 8z"/>
<path fill="#009" stroke="#00006b" d="M2486 4880l60-11 34 18-60 11zm60-11l60-12 34 18-60 12zm60-12l60-13 34 19-60 12zm60-13l60-12 34 18-60 13zm60-12l60-14 34 19-60 13zm60-14l60-13 35 19-61 13zm60-13l60-14 35 19-60 14zm4321-750l60-8 35 17-60 8zm60-8l60-9 35 18-60 8zm60-9l60-9 35 18-60 9zm60-9l60-9 35 18-60 9zm60-9l60-9 35 17-60 10z"/>
<path fill="#00009e" stroke="#00006e" d="M2906 4791l60-15 35 19-60 15zm60-15l60-16 35 20-60 15zm60-16l60-16 35 20-60 16zm60-16l60-17 35 21-60 16zm60-17l60-18 35 21-60 18z"/>
<path fill="#0000a3" stroke="#000072" d="M3206 4709l60-19 35 22-60 18zm60-19l60-20 35 23-60 19zm60-20l60-20 35 23-60 20z"/>
<path fill="#0000a8" stroke="#000076" d="M3386 4650l60-22 35 24-60 21zm60-22l60-23 35 25-60 22z"/>
<path fill="#0000ae" stroke="#000079" d="M3506 4605l60-24 35 25-60 24zm60-24l60-26 35 27-60 24z"/>
<path fill="#0000b3" stroke="#00007d" d="M3626 4555l60-27 35 28-60 26z"/>
<path fill="#0000b8" stroke="#000081" d="M3686 4528l60-28 35 28-60 28zm60-28l60-30 35 29-60 29z"/>
<path fill="#0000bd" stroke="#00006b" d="M3806 4470l60-32 35 31-60 30z"/>
<path fill="#0000c3" stroke="#00006e" d="M3866 4438l60-32 35 32-60 31z"/>
<path fill="#0000c8" stroke="#000071" d="M3926 4406l60-34 35 33-60 33z"/>
<path fill="#0000cd" stroke="#000074" d="M3986 4372l60-36 35 34-60 35z"/>
<path fill="#0000d2" stroke="#007" d="M4046 4336l60-36 35 35-60 35z"/>
<path fill="#0000d8" stroke="#00007a" d="M4106 4300l60-37 35 36-60 36z"/>
<path fill="#00d" stroke="#000062" d="M4166 4263l60-38 35 37-60 37z"/>
<path fill="#0000e2" stroke="#000064" d="M4226 4225l60-39 35 39-60 37z"/>
<path fill="#0000e7" stroke="#006" d="M4286 4186l60-38 35 39-60 38z"/>
<path fill="#0000ed" stroke="#000068" d="M4346 4148l60-39 35 40-60 38z"/>
<path fill="#0000f2" stroke="#00006b" d="M4406 4109l60-38 35 41-60 37z"/>
<path fill="#0000fc" stroke="#00006f" d="M4466 4071l60-37 35 42-60 36z"/>
<path fill="#0008ff" stroke="#000354" d="M4526 4034l60-36 35 42-60 36zm60-36l60-34 35 42-60 34z"/>
<path fill="#0018ff" stroke="#000854" d="M4646 3964l60-33 35 42-60 33zm60-33l60-30 35 42-60 30z"/>
<path fill="#0028ff" stroke="#00093b" d="M4766 3901l60-27 35 41-60 28zm60-27l60-23 35 40-60 24z"/>
<path fill="#0038ff" stroke="#000d3b" d="M4886 3851l60-21 35 39-60 22zm60-21l60-18 35 38-60 19zm60-18l60-14 35 36-60 16zm60-14l60-12 35 35-60 13zm60-12l61-7 34 32-60 10zm61-7l60-4 34 31-60 5zm60-4l60 1 34 28-60 2zm60 1l60 5 34 26-60-3z"/>
<path fill="#0025ed" stroke="#000937" d="M5367 3781l60 9 34 24-60-7z"/>
<path fill="#001dbc" stroke="#00041b" d="M5427 3790l60 13 34 21-60-10z"/>
<path fill="#000e93" stroke="#000215" d="M5487 3803l60 15 34 20-60-14z"/>
<path fill="#000b72" stroke="#000109" d="M5547 3818l60 19 34 18-60-17z"/>
<path fill="#000359" stroke="#000002" d="M5607 3837l60 20 34 16-60-18z"/>
<path fill="#000046" stroke="#000002" d="M5667 3857l60 22 34 15-60-21z"/>
<path fill="#000038" stroke="#000" d="M5727 3879l60 22 34 14-60-21z"/>
<path fill="#000031" stroke="#000" d="M5787 3901l60 23 35 13-61-22z"/>
<path fill="#00002b" stroke="#000" d="M6027 3990l60 19 35 12-60-19z"/>
<path fill="#00002e" stroke="#000" d="M6087 4009l60 18 35 12-60-18z"/>
<path fill="#000031" stroke="#000001" d="M6147 4027l60 16 35 12-60-16z"/>
<path fill="#000037" stroke="#000001" d="M6207 4043l60 13 35 13-60-14z"/>
<path fill="#00003d" stroke="#000005" d="M6267 4056l60 12 35 13-60-12z"/>
<path fill="#000047" stroke="#000005" d="M6327 4068l60 10 35 12-60-9z"/>
<path fill="#00004f" stroke="#00000c" d="M6387 4078l60 7 35 13-60-8z"/>
<path fill="#000057" stroke="#000014" d="M6447 4085l60 5 35 14-60-6z"/>
<path fill="#00005f" stroke="#000016" d="M6507 4090l60 4 35 14-60-4z"/>
<path fill="#000069" stroke="#000023" d="M6567 4094l60 2 35 14-60-2z"/>
<path fill="#00006f" stroke="#000025" d="M6627 4096l60 0 35 15-60-1z"/>
<path fill="#000078" stroke="#000035" d="M6687 4096l60-2 35 16-60 1z"/>
<path fill="#000080" stroke="#000048" d="M6747 4094l60-3 35 16-60 3z"/>
<path fill="#000083" stroke="#00004a" d="M6807 4091l60-4 35 16-60 4z"/>
<path fill="#000089" stroke="#00004e" d="M6867 4087l60-5 35 17-60 4z"/>
<path fill="#00008f" stroke="#000064" d="M6927 4082l60-5 35 16-60 6z"/>
<path fill="#000094" stroke="#000068" d="M6987 4077l60-7 35 17-60 6z"/>
<path fill="#000094" stroke="#000067" d="M7047 4070l60-7 35 17-60 7z"/>
<path fill="#000097" stroke="#00006a" d="M7107 4063l60-8 35 17-60 8z"/>
<path fill="#009" stroke="#00006b" d="M2520 4898l60-11 35 18-60 12zm60-11l60-12 35 18-60 12zm60-12l60-12 35 18-60 12zm60-12l60-13 35 19-60 12zm60-13l60-13 35 19-60 13zm60-13l61-13 34 19-60 13zm61-13l60-14 34 19-60 14zm60-14l60-15 34 20-60 14zm4261-738l60-8 35 17-60 8zm60-8l60-8 35 17-60 8zm60-8l60-9 35 17-60 9zm60-9l60-9 35 17-60 9zm60-9l60-10 35 18-60 9z"/>
<path fill="#00009e" stroke="#00006e" d="M3001 4795l60-15 34 20-60 15zm60-15l60-16 34 20-60 16zm60-16l60-16 34 20-60 16zm60-16l60-18 34 21-60 17z"/>
<path fill="#0000a3" stroke="#000072" d="M3241 4730l60-18 34 22-60 17zm60-18l60-19 34 22-60 19zm60-19l60-20 34 23-60 19z"/>
<path fill="#0000a8" stroke="#000076" d="M3421 4673l60-21 35 24-61 20zm60-21l60-22 35 24-60 22z"/>
<path fill="#0000ae" stroke="#000079" d="M3541 4630l60-24 35 26-60 22zm60-24l60-24 35 26-60 24z"/>
<path fill="#0000b3" stroke="#00007d" d="M3661 4582l60-26 35 27-60 25zm60-26l60-28 35 28-60 27z"/>
<path fill="#0000b8" stroke="#000081" d="M3781 4528l60-29 35 29-60 28z"/>
<path fill="#0000bd" stroke="#000085" d="M3841 4499l60-30 35 30-60 29z"/>
<path fill="#0000bd" stroke="#00006b" d="M3901 4469l60-31 35 31-60 30z"/>
<path fill="#0000c3" stroke="#00006e" d="M3961 4438l60-33 35 32-60 32z"/>
<path fill="#0000c8" stroke="#000071" d="M4021 4405l60-35 35 34-60 33z"/>
<path fill="#0000cd" stroke="#000074" d="M4081 4370l60-35 35 35-60 34z"/>
<path fill="#0000d2" stroke="#007" d="M4141 4335l60-36 35 36-60 35z"/>
<path fill="#0000d8" stroke="#00005f" d="M4201 4299l60-37 35 37-60 36z"/>
<path fill="#00d" stroke="#000062" d="M4261 4262l60-37 35 37-60 37z"/>
<path fill="#0000e2" stroke="#000064" d="M4321 4225l60-38 35 38-60 37z"/>
<path fill="#0000e7" stroke="#006" d="M4381 4187l60-38 35 40-60 36z"/>
<path fill="#0000f2" stroke="#00006b" d="M4441 4149l60-37 35 40-60 37z"/>
<path fill="#0000f7" stroke="#00006d" d="M4501 4112l60-36 35 40-60 36z"/>
<path fill="#0000fc" stroke="#00006f" d="M4561 4076l60-36 35 41-60 35z"/>
<path fill="#0008ff" stroke="#000354" d="M4621 4040l60-34 35 41-60 34zm60-34l60-33 35 41-60 33z"/>
<path fill="#0018ff" stroke="#000854" d="M4741 3973l60-30 35 40-60 31zm60-30l60-28 35 40-60 28z"/>
<path fill="#0028ff" stroke="#00093b" d="M4861 3915l60-24 35 39-60 25zm60-24l60-22 35 38-60 23zm60-22l60-19 35 37-60 20zm60-19l60-16 35 36-60 17zm300-46l60 3 35 26-60 0zm60 3l60 7 35 24-60-5z"/>
<path fill="#0038ff" stroke="#000d3b" d="M5101 3834l60-13 35 34-60 15zm60-13l60-10 35 33-60 11zm60-10l60-5 35 30-60 8zm60-5l60-2 35 29-60 3z"/>
<path fill="#0020cf" stroke="#000730" d="M5461 3814l60 10 35 23-60-9z"/>
<path fill="#000fa4" stroke="#000218" d="M5521 3824l60 14 35 20-60-11z"/>
<path fill="#000481" stroke="#000113" d="M5581 3838l60 17 35 18-60-15z"/>
<path fill="#000365" stroke="#000008" d="M5641 3855l60 18 35 17-60-17z"/>
<path fill="#000050" stroke="#000002" d="M5701 3873l60 21 35 16-60-20z"/>
<path fill="#000040" stroke="#000002" d="M5761 3894l60 21 35 15-60-20z"/>
<path fill="#000036" stroke="#000" d="M5821 3915l61 22 34 14-60-21z"/>
<path fill="#000030" stroke="#000" d="M5882 3937l60 22 34 13-60-21z"/>
<path fill="#00002e" stroke="#000" d="M5942 3959l60 22 34 12-60-21zm180 62l60 18 34 12-60-18z"/>
<path fill="#00002c" stroke="#000" d="M6002 3981l60 21 34 12-60-21zm60 21l60 19 34 12-60-19z"/>
<path fill="#000032" stroke="#000001" d="M6182 4039l60 16 34 12-60-16z"/>
<path fill="#000038" stroke="#000001" d="M6242 4055l60 14 34 12-60-14z"/>
<path fill="#00003e" stroke="#000005" d="M6302 4069l60 12 34 12-60-12z"/>
<path fill="#000046" stroke="#000005" d="M6362 4081l60 9 34 13-60-10z"/>
<path fill="#00004d" stroke="#00000b" d="M6422 4090l60 8 35 14-61-9z"/>
<path fill="#005" stroke="#000014" d="M6482 4098l60 6 35 14-60-6z"/>
<path fill="#000060" stroke="#000016" d="M6542 4104l60 4 35 14-60-4z"/>
<path fill="#000067" stroke="#002" d="M6602 4108l60 2 35 15-60-3z"/>
<path fill="#00006d" stroke="#000024" d="M6662 4110l60 1 35 15-60-1z"/>
<path fill="#000076" stroke="#000034" d="M6722 4111l60-1 35 15-60 1z"/>
<path fill="#00007e" stroke="#000038" d="M6782 4110l60-3 35 16-60 2z"/>
<path fill="#000081" stroke="#000049" d="M6842 4107l60-4 35 17-60 3z"/>
<path fill="#008" stroke="#00004d" d="M6902 4103l60-4 35 16-60 5z"/>
<path fill="#00008e" stroke="#000050" d="M6962 4099l60-6 35 17-60 5z"/>
<path fill="#000093" stroke="#000067" d="M7022 4093l60-6 35 17-60 6z"/>
<path fill="#000092" stroke="#000067" d="M7082 4087l60-7 35 17-60 7z"/>
<path fill="#000096" stroke="#000069" d="M7142 4080l60-8 35 17-60 8z"/>
<path fill="#009" stroke="#00006b" d="M2555 4917l60-12 35 18-60 12zm60-12l60-12 35 19-60 11zm60-12l60-12 35 19-60 12zm60-12l60-12 35 18-60 13zm60-12l60-13 35 18-60 13zm60-13l60-13 35 18-60 13zm60-13l60-14 35 19-60 13zm60-14l60-14 35 19-60 14zm4262-740l60-8 35 18-60 8zm60-8l60-8 35 18-60 8zm60-8l60-9 35 18-60 9zm60-9l60-9 35 18-60 9zm60-9l60-9 35 18-60 9z"/>
<path fill="#00009e" stroke="#00006e" d="M3035 4815l60-15 35 19-60 15zm60-15l60-16 35 20-60 15zm60-16l60-16 35 21-60 15zm60-16l60-17 35 21-60 17zm60-17l60-17 35 21-60 17z"/>
<path fill="#0000a3" stroke="#000072" d="M3335 4734l60-19 35 22-60 18zm60-19l60-19 35 22-60 19zm60-19l61-20 34 23-60 19z"/>
<path fill="#0000a8" stroke="#000076" d="M3516 4676l60-22 34 24-60 21zm60-22l60-22 34 24-60 22z"/>
<path fill="#0000ae" stroke="#000079" d="M3636 4632l60-24 34 25-60 23zm60-24l60-25 34 26-60 24z"/>
<path fill="#0000b3" stroke="#00007d" d="M3756 4583l60-27 34 27-60 26z"/>
<path fill="#0000b8" stroke="#000081" d="M3816 4556l60-28 34 29-60 26zm60-28l60-29 34 29-60 29z"/>
<path fill="#0000bd" stroke="#000085" d="M3936 4499l60-30 34 30-60 29z"/>
<path fill="#0000c3" stroke="#00006e" d="M3996 4469l60-32 34 31-60 31z"/>
<path fill="#0000c8" stroke="#000071" d="M4056 4437l60-33 34 32-60 32z"/>
<path fill="#0000cd" stroke="#000074" d="M4116 4404l60-34 35 33-61 33z"/>
<path fill="#0000d2" stroke="#007" d="M4176 4370l60-35 35 34-60 34z"/>
<path fill="#0000d8" stroke="#00007a" d="M4236 4335l60-36 35 35-60 35z"/>
<path fill="#00d" stroke="#000062" d="M4296 4299l60-37 35 37-60 35z"/>
<path fill="#0000e2" stroke="#000064" d="M4356 4262l60-37 35 38-60 36z"/>
<path fill="#0000e7" stroke="#006" d="M4416 4225l60-36 35 38-60 36z"/>
<path fill="#0000ed" stroke="#000068" d="M4476 4189l60-37 35 39-60 36z"/>
<path fill="#0000f2" stroke="#00006b" d="M4536 4152l60-36 35 39-60 36z"/>
<path fill="#0000f7" stroke="#00006d" d="M4596 4116l60-35 35 39-60 35z"/>
<path fill="#0000fc" stroke="#00006f" d="M4656 4081l60-34 35 40-60 33z"/>
<path fill="#0008ff" stroke="#000354" d="M4716 4047l60-33 35 40-60 33zm60-33l60-31 35 40-60 31z"/>
<path fill="#0018ff" stroke="#000854" d="M4836 3983l60-28 35 40-60 28zm60-28l60-25 35 39-60 26zm60-25l60-23 35 38-60 24z"/>
<path fill="#0028ff" stroke="#00093b" d="M5016 3907l60-20 35 37-60 21zm60-20l60-17 35 35-60 19zm60-17l60-15 35 34-60 16zm60-15l60-11 35 33-60 12zm60-11l60-8 35 31-60 10zm60-8l60-3 35 29-60 5zm60-3l60 0 35 27-60 2zm60 0l60 5 35 25-60-3z"/>
<path fill="#0016e6" stroke="#000535" d="M5496 3838l60 9 35 23-60-7z"/>
<path fill="#0011b9" stroke="#00042b" d="M5556 3847l60 11 35 22-60-10z"/>
<path fill="#000594" stroke="#000116" d="M5616 3858l60 15 35 20-60-13z"/>
<path fill="#000477" stroke="#000009" d="M5676 3873l60 17 35 19-60-16z"/>
<path fill="#00005f" stroke="#000007" d="M5736 3890l60 20 35 16-60-17z"/>
<path fill="#00004d" stroke="#000002" d="M5796 3910l60 20 35 16-60-20z"/>
<path fill="#000040" stroke="#000002" d="M5856 3930l60 21 35 15-60-20z"/>
<path fill="#000039" stroke="#000001" d="M5916 3951l60 21 35 14-60-20zm300 100l60 16 35 13-60-16z"/>
<path fill="#000035" stroke="#000001" d="M5976 3972l60 21 35 14-60-21zm180 61l60 18 35 13-60-18z"/>
<path fill="#000034" stroke="#000001" d="M6036 3993l60 21 35 13-60-20z"/>
<path fill="#003" stroke="#000001" d="M6096 4014l60 19 35 13-60-19z"/>
<path fill="#00003e" stroke="#000005" d="M6276 4067l60 14 35 13-60-14z"/>
<path fill="#000045" stroke="#000005" d="M6336 4081l60 12 35 14-60-13z"/>
<path fill="#00004c" stroke="#00000b" d="M6396 4093l60 10 35 14-60-10z"/>
<path fill="#000053" stroke="#00000c" d="M6456 4103l61 9 34 14-60-9z"/>
<path fill="#00005a" stroke="#000015" d="M6517 4112l60 6 34 15-60-7z"/>
<path fill="#000064" stroke="#000017" d="M6577 4118l60 4 34 15-60-4z"/>
<path fill="#00006b" stroke="#000023" d="M6637 4122l60 3 34 15-60-3z"/>
<path fill="#000074" stroke="#000026" d="M6697 4125l60 1 34 15-60-1z"/>
<path fill="#000079" stroke="#000035" d="M6757 4126l60-1 34 16-60 0z"/>
<path fill="#000081" stroke="#000049" d="M6817 4125l60-2 34 16-60 2z"/>
<path fill="#000083" stroke="#00004a" d="M6877 4123l60-3 34 16-60 3z"/>
<path fill="#00008a" stroke="#00004e" d="M6937 4120l60-5 34 17-60 4z"/>
<path fill="#00008f" stroke="#000064" d="M6997 4115l60-5 34 17-60 5z"/>
<path fill="#000094" stroke="#000068" d="M7057 4110l60-6 34 17-60 6z"/>
<path fill="#000093" stroke="#000067" d="M7117 4104l60-7 35 17-61 7z"/>
<path fill="#000097" stroke="#00006a" d="M7177 4097l60-8 35 18-60 7z"/>
<path fill="#009" stroke="#00006b" d="M2590 4935l60-12 35 19-60 11zm60-12l60-11 35 18-60 12zm60-11l60-12 35 18-60 12zm60-12l60-13 35 19-60 12zm60-13l60-13 35 19-60 13zm60-13l60-13 35 19-60 13zm60-13l60-13 35 19-60 13zm60-13l60-14 35 19-60 14zm4081-721l60-6 35 18-60 5zm121-13l60-7 34 18-60 7zm60-7l60-8 34 18-60 8zm60-8l60-8 34 18-60 8zm60-8l60-9 34 18-60 9zm60-9l60-9 34 18-60 9zm60-9l60-9 34 18-60 9z"/>
<path fill="#00009e" stroke="#00006e" d="M3070 4834l60-15 35 20-60 14zm60-15l60-15 35 20-60 15zm60-15l60-15 35 20-60 15zm60-15l60-17 35 21-60 16zm60-17l60-17 35 21-60 17z"/>
<path fill="#0000a3" stroke="#000072" d="M3370 4755l60-18 35 22-60 17zm60-18l60-19 35 22-60 19zm60-19l60-19 35 22-60 19z"/>
<path fill="#0000a8" stroke="#000076" d="M3550 4699l60-21 35 23-60 20zm60-21l60-22 35 24-60 21zm60-22l60-23 35 25-60 22z"/>
<path fill="#0000ae" stroke="#000079" d="M3730 4633l60-24 35 25-60 24z"/>
<path fill="#0000b3" stroke="#00007d" d="M3790 4609l60-26 35 27-60 24zm60-26l60-26 35 27-60 26z"/>
<path fill="#0000b8" stroke="#000081" d="M3910 4557l60-29 35 29-60 27z"/>
<path fill="#0000bd" stroke="#000085" d="M3970 4528l60-29 35 29-60 29z"/>
<path fill="#0000bd" stroke="#00006b" d="M4030 4499l60-31 35 31-60 29z"/>
<path fill="#0000c3" stroke="#00006e" d="M4090 4468l60-32 35 32-60 31z"/>
<path fill="#0000c8" stroke="#000071" d="M4150 4436l61-33 34 33-60 32z"/>
<path fill="#0000cd" stroke="#000074" d="M4211 4403l60-34 34 34-60 33z"/>
<path fill="#0000d2" stroke="#007" d="M4271 4369l60-35 34 35-60 34z"/>
<path fill="#0000d8" stroke="#00007a" d="M4331 4334l60-35 34 35-60 35z"/>
<path fill="#00d" stroke="#000062" d="M4391 4299l60-36 34 36-60 35z"/>
<path fill="#0000e2" stroke="#000064" d="M4451 4263l60-36 34 37-60 35z"/>
<path fill="#0000e7" stroke="#006" d="M4511 4227l60-36 34 38-60 35z"/>
<path fill="#0000ed" stroke="#000068" d="M4571 4191l60-36 34 39-60 35z"/>
<path fill="#0000f2" stroke="#00006b" d="M4631 4155l60-35 34 39-60 35z"/>
<path fill="#0000f7" stroke="#00006d" d="M4691 4120l60-33 34 39-60 33z"/>
<path fill="#0000fc" stroke="#00006f" d="M4751 4087l60-33 35 39-61 33z"/>
<path fill="#0008ff" stroke="#000354" d="M4811 4054l60-31 35 40-60 30zm60-31l60-28 35 39-60 29z"/>
<path fill="#0018ff" stroke="#000854" d="M4931 3995l60-26 35 38-60 27zm60-26l60-24 35 38-60 24zm60-24l60-21 35 36-60 23z"/>
<path fill="#0028ff" stroke="#00093b" d="M5111 3924l60-19 35 36-60 19zm60-19l60-16 35 35-60 17zm60-16l60-12 35 33-60 14zm60-12l60-10 35 32-60 11zm60-10l60-5 35 30-60 7zm60-5l60-2 35 28-60 4zm60-2l60 3 35 26-60-1z"/>
<path fill="#0018fe" stroke="#000854" d="M5531 3863l60 7 35 24-60-5z"/>
<path fill="#0014d2" stroke="#000530" d="M5591 3870l60 10 35 22-60-8z"/>
<path fill="#0005ac" stroke="#000128" d="M5651 3880l60 13 35 21-60-12z"/>
<path fill="#00048e" stroke="#000115" d="M5711 3893l60 16 35 19-60-14z"/>
<path fill="#000076" stroke="#000009" d="M5771 3909l60 17 35 19-60-17z"/>
<path fill="#000063" stroke="#000008" d="M5831 3926l60 20 35 18-60-19z"/>
<path fill="#005" stroke="#000007" d="M5891 3946l60 20 35 17-60-19z"/>
<path fill="#00004b" stroke="#000002" d="M5951 3966l60 20 35 17-60-20z"/>
<path fill="#000047" stroke="#000002" d="M6011 3986l60 21 35 16-60-20z"/>
<path fill="#000045" stroke="#000002" d="M6071 4007l60 20 35 16-60-20z"/>
<path fill="#000046" stroke="#000005" d="M6131 4027l60 19 35 16-60-19zm60 19l60 18 35 16-60-18z"/>
<path fill="#00004a" stroke="#000006" d="M6251 4064l60 16 35 16-60-16z"/>
<path fill="#000050" stroke="#00000c" d="M6311 4080l60 14 35 17-60-15z"/>
<path fill="#000056" stroke="#00000c" d="M6371 4094l60 13 35 16-60-12z"/>
<path fill="#00005c" stroke="#000015" d="M6431 4107l60 10 35 17-60-11z"/>
<path fill="#000063" stroke="#000017" d="M6491 4117l60 9 35 17-60-9z"/>
<path fill="#00006c" stroke="#000019" d="M6551 4126l60 7 35 16-60-6z"/>
<path fill="#000072" stroke="#000026" d="M6611 4133l60 4 35 17-60-5z"/>
<path fill="#007" stroke="#000035" d="M6671 4137l60 3 35 17-60-3z"/>
<path fill="#00007f" stroke="#000038" d="M6731 4140l60 1 35 18-60-2z"/>
<path fill="#000083" stroke="#00003a" d="M6791 4141l60 0 35 17-60 1z"/>
<path fill="#00008a" stroke="#00004e" d="M6851 4141l60-2 35 18-60 1z"/>
<path fill="#00008b" stroke="#00004f" d="M6911 4139l60-3 35 18-60 3z"/>
<path fill="#000090" stroke="#000065" d="M6971 4136l60-4 35 18-60 4z"/>
<path fill="#000095" stroke="#000068" d="M7031 4132l60-5 35 17-60 6z"/>
<path fill="#00009d" stroke="#00006e" d="M7151 4121l61-7 34 18-60 7z"/>
<path fill="#009" stroke="#00006b" d="M2625 4953l60-11 35 18-60 11zm60-11l60-12 35 18-60 12zm60-12l60-12 35 18-60 12zm60-12l60-12 35 18-60 12zm60-12l60-13 35 18-60 13zm60-13l60-13 35 19-60 12zm60-13l60-13 35 18-60 14zm60-13l60-14 35 19-60 13zm60-14l60-14 35 19-60 14zm3961-703l60-6 35 19-60 5zm180-18l60-7 35 18-60 7zm60-7l60-8 35 18-60 8zm60-8l60-8 35 18-60 8zm60-8l60-9 35 18-60 9zm60-9l60-9 35 18-60 9zm60-9l60-9 35 18-60 9zm60-9l60-9 35 18-60 9z"/>
<path fill="#00009e" stroke="#00006e" d="M3165 4839l60-15 35 19-60 15zm60-15l60-15 35 19-60 15zm60-15l60-16 35 20-60 15zm60-16l60-17 35 21-60 16zm60-17l60-17 35 21-60 17zm3781-637l60-7 35 18-60 7z"/>
<path fill="#0000a3" stroke="#000072" d="M3465 4759l60-19 35 22-60 18zm60-19l60-19 35 22-60 19zm60-19l60-20 35 23-60 19z"/>
<path fill="#0000a8" stroke="#000076" d="M3645 4701l60-21 35 24-60 20zm60-21l60-22 35 24-60 22z"/>
<path fill="#0000ae" stroke="#000079" d="M3765 4658l60-24 35 26-60 22zm60-24l60-24 35 26-60 24z"/>
<path fill="#0000b3" stroke="#00007d" d="M3885 4610l60-26 35 27-60 25zm60-26l60-27 35 28-60 26z"/>
<path fill="#0000b8" stroke="#000081" d="M4005 4557l60-29 35 29-60 28z"/>
<path fill="#0000bd" stroke="#000085" d="M4065 4528l60-29 35 29-60 29z"/>
<path fill="#0000c3" stroke="#00006e" d="M4125 4499l60-31 35 31-60 29zm60-31l60-32 35 32-60 31z"/>
<path fill="#0000c8" stroke="#000071" d="M4245 4436l60-33 35 33-60 32z"/>
<path fill="#0000cd" stroke="#000074" d="M4305 4403l60-34 35 34-60 33z"/>
<path fill="#0000d2" stroke="#007" d="M4365 4369l60-35 35 35-60 34z"/>
<path fill="#0000d8" stroke="#00005f" d="M4425 4334l60-35 35 36-60 34z"/>
<path fill="#00d" stroke="#000062" d="M4485 4299l60-35 35 37-60 34z"/>
<path fill="#0000e2" stroke="#000064" d="M4545 4264l60-35 35 37-60 35z"/>
<path fill="#0000e7" stroke="#006" d="M4605 4229l60-35 35 38-60 34z"/>
<path fill="#0000ed" stroke="#000068" d="M4665 4194l60-35 35 39-60 34z"/>
<path fill="#0000f2" stroke="#00006b" d="M4725 4159l60-33 35 38-60 34z"/>
<path fill="#0000f7" stroke="#00006d" d="M4785 4126l61-33 34 39-60 32z"/>
<path fill="#0000fc" stroke="#00006f" d="M4846 4093l60-30 34 38-60 31z"/>
<path fill="#0008ff" stroke="#000354" d="M4906 4063l60-29 34 38-60 29zm60-29l60-27 34 38-60 27zm60-27l60-24 34 37-60 25z"/>
<path fill="#0018ff" stroke="#000854" d="M5086 3983l60-23 34 37-60 23zm60-23l60-19 34 35-60 21zm60-19l60-17 34 34-60 18zm60-17l60-14 34 33-60 15zm240-36l60 1 35 27-60 1zm60 1l60 5 35 25-60-3z"/>
<path fill="#0028ff" stroke="#00093b" d="M5326 3910l60-11 34 32-60 12zm60-11l60-7 34 30-60 9zm60-7l60-4 35 29-61 5z"/>
<path fill="#0015e5" stroke="#000535" d="M5626 3894l60 8 35 24-60-7z"/>
<path fill="#0006bf" stroke="#00012c" d="M5686 3902l60 12 35 22-60-10z"/>
<path fill="#00059f" stroke="#000117" d="M5746 3914l60 14 35 21-60-13z"/>
<path fill="#000085" stroke="#000013" d="M5806 3928l60 17 35 20-60-16z"/>
<path fill="#000071" stroke="#000009" d="M5866 3945l60 19 35 19-60-18z"/>
<path fill="#000062" stroke="#000007" d="M5926 3964l60 19 35 19-60-19z"/>
<path fill="#000057" stroke="#000007" d="M5986 3983l60 20 35 18-60-19z"/>
<path fill="#000052" stroke="#000006" d="M6046 4003l60 20 35 18-60-20z"/>
<path fill="#000050" stroke="#000006" d="M6106 4023l60 20 35 18-60-20z"/>
<path fill="#000051" stroke="#000006" d="M6166 4043l60 19 35 18-60-19zm60 19l60 18 35 17-60-17z"/>
<path fill="#005" stroke="#00000c" d="M6286 4080l60 16 35 18-60-17z"/>
<path fill="#00005a" stroke="#00000d" d="M6346 4096l60 15 35 17-60-14z"/>
<path fill="#000060" stroke="#00000e" d="M6406 4111l60 12 35 18-60-13z"/>
<path fill="#006" stroke="#000018" d="M6466 4123l60 11 35 18-60-11z"/>
<path fill="#00006c" stroke="#000019" d="M6526 4134l60 9 35 18-60-9z"/>
<path fill="#000075" stroke="#000027" d="M6586 4143l60 6 35 18-60-6z"/>
<path fill="#00007a" stroke="#000036" d="M6646 4149l60 5 35 18-60-5z"/>
<path fill="#00007f" stroke="#000038" d="M6706 4154l60 3 35 18-60-3z"/>
<path fill="#000086" stroke="#00003b" d="M6766 4157l60 2 35 18-60-2z"/>
<path fill="#000089" stroke="#00004d" d="M6826 4159l60-1 35 19-60 0z"/>
<path fill="#00008f" stroke="#000051" d="M6886 4158l60-1 35 18-60 2z"/>
<path fill="#000095" stroke="#000068" d="M6946 4157l60-3 35 18-60 3zm60-3l60-4 35 18-60 4z"/>
<path fill="#00009c" stroke="#00006d" d="M7126 4144l60-5 35 18-60 6z"/>
<path fill="#009" stroke="#00006b" d="M2660 4971l60-11 34 18-60 11zm60-11l60-12 34 18-60 12zm60-12l60-12 34 18-60 12zm60-12l60-12 34 18-60 12zm60-12l60-13 34 19-60 12zm60-13l60-12 34 18-60 13zm60-12l60-14 34 19-60 13zm60-14l60-13 34 19-60 13zm60-13l60-14 35 19-61 14zm3961-704l60-5 35 18-60 5zm180-18l60-7 35 18-60 7zm60-7l60-8 35 18-60 8zm60-8l60-8 35 18-60 8zm60-8l60-9 35 18-60 9zm60-9l60-9 35 18-60 9zm60-9l60-9 35 18-60 9zm60-9l60-9 35 18-60 9z"/>
<path fill="#00009e" stroke="#00006e" d="M3200 4858l60-15 35 20-60 14zm60-15l60-15 35 20-60 15zm60-15l60-15 35 20-60 15zm60-15l60-16 35 20-60 16zm60-16l60-17 35 21-60 16zm3781-640l60-7 35 18-60 7z"/>
<path fill="#0000a3" stroke="#000072" d="M3500 4780l60-18 35 21-60 18zm60-18l60-19 35 22-60 18zm60-19l60-19 35 22-60 19z"/>
<path fill="#0000a8" stroke="#000076" d="M3680 4724l60-20 35 23-60 19zm60-20l60-22 35 24-60 21zm60-22l60-22 35 24-60 22z"/>
<path fill="#0000ae" stroke="#000079" d="M3860 4660l60-24 35 25-60 23z"/>
<path fill="#0000b3" stroke="#00007d" d="M3920 4636l60-25 35 26-60 24zm60-25l60-26 35 27-60 25z"/>
<path fill="#0000b8" stroke="#000081" d="M4040 4585l60-28 35 28-60 27zm60-28l60-29 35 29-60 28z"/>
<path fill="#0000bd" stroke="#00006b" d="M4160 4528l60-29 35 30-60 28z"/>
<path fill="#0000c3" stroke="#00006e" d="M4220 4499l60-31 35 31-60 30z"/>
<path fill="#0000c8" stroke="#000071" d="M4280 4468l60-32 35 32-60 31z"/>
<path fill="#0000cd" stroke="#000074" d="M4340 4436l60-33 35 33-60 32z"/>
<path fill="#0000d2" stroke="#007" d="M4400 4403l60-34 35 34-60 33zm60-34l60-34 35 35-60 33z"/>
<path fill="#0000d8" stroke="#00005f" d="M4520 4335l60-34 35 36-60 33z"/>
<path fill="#00d" stroke="#000062" d="M4580 4301l60-35 35 37-60 34z"/>
<path fill="#0000e2" stroke="#000064" d="M4640 4266l60-34 35 37-60 34z"/>
<path fill="#0000e7" stroke="#006" d="M4700 4232l60-34 35 37-60 34z"/>
<path fill="#0000ed" stroke="#000068" d="M4760 4198l60-34 35 39-60 32z"/>
<path fill="#0000f2" stroke="#00006b" d="M4820 4164l60-32 35 38-60 33z"/>
<path fill="#0000f7" stroke="#00006d" d="M4880 4132l60-31 35 39-60 30z"/>
<path fill="#0000fc" stroke="#00006f" d="M4940 4101l60-29 35 38-60 30z"/>
<path fill="#0008ff" stroke="#000354" d="M5000 4072l60-27 35 38-60 27zm60-27l60-25 35 37-60 26zm60-25l60-23 35 36-60 24z"/>
<path fill="#0018ff" stroke="#000854" d="M5180 3997l60-21 35 36-60 21zm60-21l60-18 35 35-60 19zm60-18l60-15 35 34-60 16zm60-15l60-12 35 32-60 14zm60-12l60-9 35 31-60 10zm60-9l61-5 34 29-60 7zm61-5l60-1 34 27-60 3zm60-1l60 3 34 25-60-1z"/>
<path fill="#0017f6" stroke="#000851" d="M5661 3919l60 7 34 24-60-6z"/>
<path fill="#0006cc" stroke="#00012f" d="M5721 3926l60 10 34 22-60-8z"/>
<path fill="#0005aa" stroke="#000119" d="M5781 3936l60 13 34 22-60-13z"/>
<path fill="#00008e" stroke="#000015" d="M5841 3949l60 16 34 20-60-14z"/>
<path fill="#007" stroke="#001" d="M5901 3965l60 18 34 19-60-17z"/>
<path fill="#000067" stroke="#000008" d="M5961 3983l60 19 34 18-60-18z"/>
<path fill="#00005b" stroke="#000007" d="M6021 4002l60 19 34 19-60-20z"/>
<path fill="#000054" stroke="#000006" d="M6081 4021l60 20 35 18-61-19z"/>
<path fill="#000052" stroke="#000006" d="M6141 4041l60 20 35 18-60-20zm60 20l60 19 35 17-60-18zm60 19l60 17 35 18-60-18z"/>
<path fill="#000056" stroke="#00000c" d="M6321 4097l60 17 35 17-60-16z"/>
<path fill="#00005b" stroke="#00000d" d="M6381 4114l60 14 35 18-60-15z"/>
<path fill="#000060" stroke="#00000e" d="M6441 4128l60 13 35 18-60-13z"/>
<path fill="#000067" stroke="#000018" d="M6501 4141l60 11 35 18-60-11z"/>
<path fill="#00006d" stroke="#000019" d="M6561 4152l60 9 35 18-60-9z"/>
<path fill="#000076" stroke="#000027" d="M6621 4161l60 6 35 19-60-7z"/>
<path fill="#00007b" stroke="#000036" d="M6681 4167l60 5 35 19-60-5z"/>
<path fill="#00007f" stroke="#000038" d="M6741 4172l60 3 35 19-60-3z"/>
<path fill="#000087" stroke="#00003c" d="M6801 4175l60 2 35 18-60-1z"/>
<path fill="#00008a" stroke="#00004e" d="M6861 4177l60 0 35 18-60 0z"/>
<path fill="#000090" stroke="#000051" d="M6921 4177l60-2 35 18-60 2z"/>
<path fill="#000095" stroke="#000069" d="M6981 4175l60-3 35 18-60 3z"/>
<path fill="#000095" stroke="#000068" d="M7041 4172l60-4 35 18-60 4z"/>
<path fill="#00009d" stroke="#00006e" d="M7161 4163l60-6 35 18-60 6z"/>
<path fill="#009" stroke="#00006b" d="M2694 4989l60-11 35 18-60 11zm60-11l60-12 35 18-60 12zm60-12l60-12 35 19-60 11zm60-12l60-12 35 19-60 12zm60-12l60-12 35 18-60 13zm60-12l60-13 35 19-60 12zm60-13l60-13 35 19-60 13zm60-13l60-13 35 19-60 13zm60-13l61-14 34 19-60 14zm3962-705l60-5 35 18-60 5zm180-18l60-7 35 18-60 7zm60-7l60-8 35 18-60 8zm60-8l60-8 35 18-60 8zm60-8l60-9 35 18-60 9zm60-9l60-9 35 18-60 9zm60-9l60-9 35 18-60 9zm60-9l60-9 35 18-60 9z"/>
<path fill="#00009e" stroke="#00006e" d="M3235 4877l60-14 34 19-60 14zm60-14l60-15 34 20-60 14zm60-15l60-15 34 20-60 15zm60-15l60-16 34 20-60 16zm60-16l60-16 34 20-60 16zm3781-642l60-7 35 18-60 7z"/>
<path fill="#0000a3" stroke="#000072" d="M3535 4801l60-18 34 21-60 17zm60-18l60-18 34 22-60 17zm60-18l60-19 34 22-60 19zm60-19l60-19 34 22-60 19z"/>
<path fill="#0000a8" stroke="#000076" d="M3775 4727l60-21 35 23-61 20zm60-21l60-22 35 24-60 21z"/>
<path fill="#0000ae" stroke="#000079" d="M3895 4684l60-23 35 25-60 22zm60-23l60-24 35 26-60 23z"/>
<path fill="#0000b3" stroke="#00007d" d="M4015 4637l60-25 35 26-60 25zm60-25l60-27 35 28-60 25z"/>
<path fill="#0000b8" stroke="#000081" d="M4135 4585l60-28 35 29-60 27z"/>
<path fill="#0000bd" stroke="#000085" d="M4195 4557l60-28 35 29-60 28z"/>
<path fill="#0000bd" stroke="#00006b" d="M4255 4529l60-30 35 30-60 29z"/>
<path fill="#0000c3" stroke="#00006e" d="M4315 4499l60-31 35 31-60 30z"/>
<path fill="#0000c8" stroke="#000071" d="M4375 4468l60-32 35 32-60 31z"/>
<path fill="#0000cd" stroke="#000074" d="M4435 4436l60-33 35 34-60 31z"/>
<path fill="#0000d2" stroke="#007" d="M4495 4403l60-33 35 34-60 33z"/>
<path fill="#0000d8" stroke="#00007a" d="M4555 4370l60-33 35 35-60 32z"/>
<path fill="#00d" stroke="#000062" d="M4615 4337l60-34 35 36-60 33z"/>
<path fill="#0000e2" stroke="#000064" d="M4675 4303l60-34 35 36-60 34z"/>
<path fill="#0000e7" stroke="#006" d="M4735 4269l60-34 35 38-60 32z"/>
<path fill="#0000ed" stroke="#000068" d="M4795 4235l60-32 35 37-60 33zm60-32l60-33 35 38-60 32z"/>
<path fill="#0000f2" stroke="#00006b" d="M4915 4170l60-30 35 38-60 30z"/>
<path fill="#0000f7" stroke="#00006d" d="M4975 4140l60-30 35 38-60 30z"/>
<path fill="#0000fc" stroke="#00006f" d="M5035 4110l60-27 35 37-60 28z"/>
<path fill="#0008ff" stroke="#000354" d="M5095 4083l60-26 35 37-60 26zm60-26l60-24 35 37-60 24zm60-24l60-21 35 36-60 22zm60-21l60-19 35 35-60 20zm420-68l60 6 35 24-60-4z"/>
<path fill="#0018ff" stroke="#000854" d="M5335 3993l60-16 35 33-60 18zm60-16l60-14 35 33-60 14zm60-14l60-10 35 31-60 12zm60-10l60-7 35 29-60 9zm60-7l60-3 35 28-60 4zm60-3l60 1 35 26-60 1z"/>
<path fill="#0007db" stroke="#000248" d="M5755 3950l60 8 35 23-60-7z"/>
<path fill="#0006b6" stroke="#00012a" d="M5815 3958l60 13 35 21-60-11z"/>
<path fill="#000096" stroke="#000016" d="M5875 3971l60 14 35 21-60-14z"/>
<path fill="#00007d" stroke="#000012" d="M5935 3985l60 17 35 20-60-16z"/>
<path fill="#000069" stroke="#000008" d="M5995 4002l60 18 35 19-60-17z"/>
<path fill="#00005d" stroke="#000007" d="M6055 4020l60 20 35 18-60-19z"/>
<path fill="#000056" stroke="#000007" d="M6115 4040l61 19 34 18-60-19z"/>
<path fill="#000052" stroke="#000006" d="M6176 4059l60 20 34 17-60-19zm60 20l60 18 34 18-60-19z"/>
<path fill="#000051" stroke="#000006" d="M6296 4097l60 18 34 18-60-18z"/>
<path fill="#005" stroke="#00000c" d="M6356 4115l60 16 34 18-60-16z"/>
<path fill="#00005a" stroke="#00000d" d="M6416 4131l60 15 34 18-60-15z"/>
<path fill="#000060" stroke="#00000e" d="M6476 4146l60 13 34 18-60-13z"/>
<path fill="#006" stroke="#000017" d="M6536 4159l60 11 34 18-60-11z"/>
<path fill="#00006c" stroke="#000019" d="M6596 4170l60 9 34 18-60-9z"/>
<path fill="#000075" stroke="#000027" d="M6656 4179l60 7 34 18-60-7z"/>
<path fill="#00007a" stroke="#000036" d="M6716 4186l60 5 34 18-60-5z"/>
<path fill="#00007f" stroke="#000038" d="M6776 4191l60 3 35 18-61-3z"/>
<path fill="#000087" stroke="#00003c" d="M6836 4194l60 1 35 18-60-1z"/>
<path fill="#00008a" stroke="#00004e" d="M6896 4195l60 0 35 18-60 0z"/>
<path fill="#000090" stroke="#000051" d="M6956 4195l60-2 35 18-60 2z"/>
<path fill="#000095" stroke="#000069" d="M7016 4193l60-3 35 18-60 3z"/>
<path fill="#000095" stroke="#000068" d="M7076 4190l60-4 35 18-60 4z"/>
<path fill="#00009d" stroke="#00006e" d="M7196 4181l60-6 35 18-60 6z"/>
<path fill="#009" stroke="#00006b" d="M2729 5007l60-11 35 18-60 11zm60-11l60-12 35 19-60 11zm60-12l60-11 35 18-60 12zm60-11l60-12 35 18-60 12zm60-12l60-13 35 19-60 12zm60-13l60-12 35 18-60 13zm60-12l60-13 35 18-60 13zm60-13l60-13 35 18-60 13zm60-13l60-14 35 19-60 13zm3962-706l60-5 34 18-60 6zm180-18l60-7 34 18-60 8zm60-7l60-8 35 18-61 8zm60-8l60-8 35 18-60 8zm60-8l60-9 35 18-60 9zm60-9l60-9 35 18-60 9zm60-9l60-9 35 18-60 9zm60-9l60-9 35 18-60 9z"/>
<path fill="#00009e" stroke="#00006e" d="M3269 4896l60-14 35 19-60 14zm60-14l60-14 35 19-60 14zm60-14l60-15 35 19-60 15zm60-15l60-16 35 20-60 15zm60-16l60-16 35 20-60 16zm60-16l60-17 35 21-60 16zm3722-628l60-7 34 19-60 6z"/>
<path fill="#0000a3" stroke="#000072" d="M3629 4804l60-17 35 21-60 17zm60-17l60-19 35 22-60 18zm60-19l60-19 35 23-60 18z"/>
<path fill="#0000a8" stroke="#000076" d="M3809 4749l61-20 34 23-60 20zm61-20l60-21 34 24-60 20zm60-21l60-22 34 24-60 22z"/>
<path fill="#0000ae" stroke="#000079" d="M3990 4686l60-23 34 25-60 22zm60-23l60-25 34 26-60 24z"/>
<path fill="#0000b3" stroke="#00007d" d="M4110 4638l60-25 34 26-60 25z"/>
<path fill="#0000b8" stroke="#000081" d="M4170 4613l60-27 34 28-60 25zm60-27l60-28 34 29-60 27z"/>
<path fill="#0000bd" stroke="#00006b" d="M4290 4558l60-29 34 30-60 28z"/>
<path fill="#0000c3" stroke="#00006e" d="M4350 4529l60-30 34 31-60 29z"/>
<path fill="#0000c8" stroke="#000071" d="M4410 4499l60-31 34 32-60 30zm60-31l60-31 35 32-61 31z"/>
<path fill="#0000cd" stroke="#000074" d="M4530 4437l60-33 35 34-60 31z"/>
<path fill="#0000d2" stroke="#007" d="M4590 4404l60-32 35 34-60 32z"/>
<path fill="#0000d8" stroke="#00005f" d="M4650 4372l60-33 35 35-60 32z"/>
<path fill="#00d" stroke="#000062" d="M4710 4339l60-34 35 36-60 33z"/>
<path fill="#0000e2" stroke="#000064" d="M4770 4305l60-32 35 36-60 32z"/>
<path fill="#0000e7" stroke="#006" d="M4830 4273l60-33 35 37-60 32z"/>
<path fill="#0000ed" stroke="#000068" d="M4890 4240l60-32 35 38-60 31zm60-32l60-30 35 37-60 31z"/>
<path fill="#0000f2" stroke="#00006b" d="M5010 4178l60-30 35 38-60 29z"/>
<path fill="#0000f7" stroke="#00006d" d="M5070 4148l60-28 35 38-60 28z"/>
<path fill="#0000fc" stroke="#00006f" d="M5130 4120l60-26 35 37-60 27zm60-26l60-24 35 36-60 25z"/>
<path fill="#0008ff" stroke="#000354" d="M5250 4070l60-22 35 35-60 23zm60-22l60-20 35 35-60 20zm60-20l60-18 35 35-60 18zm60-18l60-14 35 33-60 16zm240-39l60-1 35 27-60 2zm60-1l60 4 35 25-60-2z"/>
<path fill="#0018ff" stroke="#000854" d="M5490 3996l60-12 35 32-60 13zm60-12l60-9 35 31-60 10zm60-9l60-4 35 28-60 7z"/>
<path fill="#0007ec" stroke="#00024e" d="M5790 3974l60 7 35 24-60-6z"/>
<path fill="#0000c1" stroke="#00002d" d="M5850 3981l60 11 35 22-60-9z"/>
<path fill="#00009d" stroke="#000024" d="M5910 3992l60 14 35 20-60-12z"/>
<path fill="#000082" stroke="#000013" d="M5970 4006l60 16 35 19-60-15z"/>
<path fill="#00006e" stroke="#000010" d="M6030 4022l60 17 35 19-60-17z"/>
<path fill="#000060" stroke="#000007" d="M6090 4039l60 19 35 18-60-18z"/>
<path fill="#000057" stroke="#000007" d="M6150 4058l60 19 35 18-60-19z"/>
<path fill="#000053" stroke="#000006" d="M6210 4077l60 19 35 18-60-19z"/>
<path fill="#000052" stroke="#000006" d="M6270 4096l60 19 35 18-60-19z"/>
<path fill="#000051" stroke="#000006" d="M6330 4115l60 18 35 17-60-17z"/>
<path fill="#000054" stroke="#00000c" d="M6390 4133l60 16 35 18-60-17z"/>
<path fill="#000059" stroke="#00000d" d="M6450 4149l60 15 35 18-60-15z"/>
<path fill="#00005f" stroke="#00000e" d="M6510 4164l60 13 35 18-60-13z"/>
<path fill="#000065" stroke="#000017" d="M6570 4177l60 11 35 18-60-11z"/>
<path fill="#00006b" stroke="#000019" d="M6630 4188l60 9 35 18-60-9z"/>
<path fill="#000074" stroke="#000026" d="M6690 4197l60 7 35 18-60-7z"/>
<path fill="#00007a" stroke="#000036" d="M6750 4204l60 5 35 18-60-5z"/>
<path fill="#00007f" stroke="#000038" d="M6810 4209l61 3 34 18-60-3z"/>
<path fill="#000086" stroke="#00003b" d="M6871 4212l60 1 34 19-60-2z"/>
<path fill="#000089" stroke="#00004e" d="M6931 4213l60 0 34 18-60 1z"/>
<path fill="#000090" stroke="#000051" d="M6991 4213l60-2 34 19-60 1z"/>
<path fill="#000091" stroke="#000065" d="M7051 4211l60-3 34 19-60 3z"/>
<path fill="#000095" stroke="#000068" d="M7111 4208l60-4 34 19-60 4z"/>
<path fill="#00009d" stroke="#00006e" d="M7231 4199l60-6 34 18-60 6z"/>
<path fill="#009" stroke="#00006b" d="M2764 5025l60-11 35 18-60 12zm60-11l60-11 35 18-60 11zm60-11l60-12 35 18-60 12zm60-12l60-12 35 18-60 12zm60-12l60-12 35 18-60 12zm60-12l60-13 35 18-60 13zm60-13l60-13 35 19-60 12zm60-13l60-13 35 19-60 13zm60-13l60-13 35 19-60 13zm4141-723l60-8 35 18-60 8zm60-8l61-8 34 18-60 8zm61-8l60-8 34 18-60 8zm60-8l60-9 34 18-60 9zm60-9l60-9 34 18-60 9zm60-9l60-9 34 18-60 9zm60-9l60-9 34 18-60 9z"/>
<path fill="#00009e" stroke="#00006e" d="M3304 4915l60-14 35 19-60 14zm60-14l60-14 35 19-60 14zm60-14l60-15 35 20-60 14zm60-15l60-15 35 20-60 15zm60-15l60-16 35 20-60 16zm60-16l60-16 35 20-60 16zm3721-630l60-6 35 18-60 6z"/>
<path fill="#0000a3" stroke="#000072" d="M3664 4825l60-17 35 21-60 16zm60-17l60-18 35 21-60 18zm60-18l60-18 35 21-60 18zm60-18l60-20 35 22-60 19z"/>
<path fill="#0000a8" stroke="#000076" d="M3904 4752l60-20 35 23-60 19zm60-20l60-22 35 24-60 21z"/>
<path fill="#0000ae" stroke="#000079" d="M4024 4710l60-22 35 24-60 22zm60-22l60-24 35 25-60 23z"/>
<path fill="#0000b3" stroke="#00007d" d="M4144 4664l60-25 35 27-60 23zm60-25l60-25 35 27-60 25z"/>
<path fill="#0000b8" stroke="#000081" d="M4264 4614l60-27 35 28-60 26z"/>
<path fill="#0000bd" stroke="#000085" d="M4324 4587l60-28 35 29-60 27z"/>
<path fill="#0000bd" stroke="#00006b" d="M4384 4559l60-29 35 30-60 28z"/>
<path fill="#0000c3" stroke="#00006e" d="M4444 4530l60-30 35 31-60 29z"/>
<path fill="#0000c8" stroke="#000071" d="M4504 4500l61-31 34 32-60 30z"/>
<path fill="#0000cd" stroke="#000074" d="M4565 4469l60-31 34 33-60 30zm60-31l60-32 34 34-60 31z"/>
<path fill="#0000d2" stroke="#007" d="M4685 4406l60-32 34 34-60 32z"/>
<path fill="#0000d8" stroke="#00005f" d="M4745 4374l60-33 34 36-60 31z"/>
<path fill="#00d" stroke="#000062" d="M4805 4341l60-32 34 36-60 32z"/>
<path fill="#0000e2" stroke="#000064" d="M4865 4309l60-32 34 36-60 32z"/>
<path fill="#0000e7" stroke="#006" d="M4925 4277l60-31 34 36-60 31z"/>
<path fill="#0000ed" stroke="#000068" d="M4985 4246l60-31 34 37-60 30z"/>
<path fill="#0000f2" stroke="#00006b" d="M5045 4215l60-29 34 37-60 29zm60-29l60-28 35 37-61 28z"/>
<path fill="#0000f7" stroke="#00006d" d="M5165 4158l60-27 35 37-60 27z"/>
<path fill="#0000fc" stroke="#00006f" d="M5225 4131l60-25 35 37-60 25zm60-25l60-23 35 36-60 24z"/>
<path fill="#0008ff" stroke="#000354" d="M5345 4083l60-20 35 35-60 21zm60-20l60-18 35 34-60 19zm60-18l60-16 35 33-60 17zm60-16l60-13 35 32-60 14zm60-13l60-10 35 31-60 11zm60-10l60-7 35 29-60 9zm60-7l60-2 35 27-60 4zm60-2l60 2 35 25-60 0zm60 2l60 6 35 23-60-4z"/>
<path fill="#0000d0" stroke="#000045" d="M5885 4005l60 9 35 22-60-8z"/>
<path fill="#0000a9" stroke="#000027" d="M5945 4014l60 12 35 21-60-11z"/>
<path fill="#00008a" stroke="#000014" d="M6005 4026l60 15 35 20-60-14z"/>
<path fill="#000074" stroke="#001" d="M6065 4041l60 17 35 19-60-16z"/>
<path fill="#000064" stroke="#000008" d="M6125 4058l60 18 35 19-60-18z"/>
<path fill="#00005a" stroke="#000007" d="M6185 4076l60 19 35 18-60-18z"/>
<path fill="#000054" stroke="#000006" d="M6245 4095l60 19 35 18-60-19z"/>
<path fill="#000052" stroke="#000006" d="M6305 4114l60 19 35 17-60-18z"/>
<path fill="#000053" stroke="#000006" d="M6365 4133l60 17 35 18-60-18z"/>
<path fill="#000054" stroke="#00000c" d="M6425 4150l60 17 35 17-60-16z"/>
<path fill="#000058" stroke="#00000d" d="M6485 4167l60 15 35 17-60-15z"/>
<path fill="#00005e" stroke="#00000e" d="M6545 4182l60 13 35 18-60-14z"/>
<path fill="#000064" stroke="#000017" d="M6605 4195l60 11 35 18-60-11z"/>
<path fill="#00006a" stroke="#000018" d="M6665 4206l60 9 35 18-60-9z"/>
<path fill="#000074" stroke="#000026" d="M6725 4215l60 7 35 18-60-7z"/>
<path fill="#000079" stroke="#000036" d="M6785 4222l60 5 35 18-60-5z"/>
<path fill="#00007e" stroke="#000038" d="M6845 4227l60 3 35 19-60-4z"/>
<path fill="#000086" stroke="#00003b" d="M6905 4230l60 2 35 18-60-1z"/>
<path fill="#000089" stroke="#00004e" d="M6965 4232l60-1 35 19-60 0z"/>
<path fill="#000090" stroke="#000051" d="M7025 4231l60-1 35 18-60 2z"/>
<path fill="#000091" stroke="#000065" d="M7085 4230l60-3 35 18-60 3z"/>
<path fill="#000095" stroke="#000069" d="M7145 4227l60-4 35 18-60 4z"/>
<path fill="#00009a" stroke="#00006b" d="M7205 4223l60-6 35 19-60 5z"/>
<path fill="#00009d" stroke="#00006e" d="M7265 4217l60-6 35 18-60 7z"/>
<path fill="#009" stroke="#00006b" d="M2799 5044l60-12 35 18-60 12zm60-12l60-11 35 18-60 11zm60-11l60-12 35 18-60 12zm60-12l60-12 35 18-60 12zm60-12l60-12 35 18-60 12zm60-12l60-13 35 19-60 12zm60-13l60-12 35 18-60 13zm60-12l60-13 35 18-60 13zm60-13l60-13 35 18-60 13zm60-13l60-14 35 19-60 13zm4081-711l60-8 35 18-60 8zm60-8l60-8 35 18-60 8zm60-8l60-8 35 18-60 8zm60-8l60-9 35 18-60 9zm60-9l60-9 35 18-60 9zm60-9l60-9 35 18-60 9zm60-9l60-9 35 18-60 9z"/>
<path fill="#00009e" stroke="#00006e" d="M3399 4920l60-14 35 19-60 14zm60-14l60-14 35 19-60 14zm60-14l60-15 35 19-60 15zm60-15l60-16 35 20-60 15zm60-16l60-16 35 21-60 15zm3721-632l60-6 35 18-60 7z"/>
<path fill="#0000a3" stroke="#000072" d="M3699 4845l60-16 35 20-60 17zm60-16l60-18 35 22-60 16zm60-18l60-18 35 22-60 18zm60-18l60-19 35 23-60 18z"/>
<path fill="#0000a8" stroke="#000076" d="M3939 4774l60-19 35 22-60 20zm60-19l60-21 35 23-60 20zm60-21l60-22 35 24-60 21z"/>
<path fill="#0000ae" stroke="#000079" d="M4119 4712l60-23 35 25-60 22zm60-23l60-23 35 25-60 23z"/>
<path fill="#0000b3" stroke="#00007d" d="M4239 4666l60-25 35 26-60 24z"/>
<path fill="#0000b8" stroke="#000081" d="M4299 4641l60-26 35 27-60 25zm60-26l60-27 35 28-60 26z"/>
<path fill="#0000bd" stroke="#000085" d="M4419 4588l60-28 35 29-60 27z"/>
<path fill="#0000c3" stroke="#00006e" d="M4479 4560l60-29 35 30-60 28zm60-29l60-30 35 32-60 28z"/>
<path fill="#0000c8" stroke="#000071" d="M4599 4501l60-30 35 32-60 30z"/>
<path fill="#0000cd" stroke="#000074" d="M4659 4471l60-31 35 33-60 30z"/>
<path fill="#0000d2" stroke="#007" d="M4719 4440l60-32 35 34-60 31z"/>
<path fill="#0000d8" stroke="#00007a" d="M4779 4408l60-31 35 34-60 31z"/>
<path fill="#0000d8" stroke="#00005f" d="M4839 4377l60-32 35 35-60 31z"/>
<path fill="#00d" stroke="#000062" d="M4899 4345l60-32 35 36-60 31z"/>
<path fill="#0000e2" stroke="#000064" d="M4959 4313l60-31 35 37-60 30z"/>
<path fill="#0000e7" stroke="#006" d="M5019 4282l60-30 35 37-60 30z"/>
<path fill="#0000ed" stroke="#000068" d="M5079 4252l60-29 35 37-60 29z"/>
<path fill="#0000f2" stroke="#00006b" d="M5139 4223l61-28 34 37-60 28zm61-28l60-27 34 37-60 27z"/>
<path fill="#0000f7" stroke="#00006d" d="M5260 4168l60-25 34 36-60 26z"/>
<path fill="#0000fc" stroke="#00006f" d="M5320 4143l60-24 34 36-60 24zm60-24l60-21 34 35-60 22zm60-21l60-19 34 35-60 19zm420-74l60 4 35 25-60-2z"/>
<path fill="#0008ff" stroke="#000354" d="M5500 4079l60-17 34 34-60 18zm60-17l60-14 34 33-60 15zm60-14l60-11 34 31-60 13zm60-11l60-9 34 31-60 9zm60-9l60-4 34 28-60 7zm60-4l60 0 35 27-61 1z"/>
<path fill="#0000e2" stroke="#00004b" d="M5920 4028l60 8 35 23-60-6z"/>
<path fill="#0000b6" stroke="#00002a" d="M5980 4036l60 11 35 22-60-10z"/>
<path fill="#000094" stroke="#000016" d="M6040 4047l60 14 35 21-60-13z"/>
<path fill="#00007b" stroke="#000012" d="M6100 4061l60 16 35 20-60-15z"/>
<path fill="#000069" stroke="#000008" d="M6160 4077l60 18 35 18-60-16z"/>
<path fill="#00005d" stroke="#000007" d="M6220 4095l60 18 35 18-60-18z"/>
<path fill="#000056" stroke="#000007" d="M6280 4113l60 19 35 18-60-19z"/>
<path fill="#000053" stroke="#000006" d="M6340 4132l60 18 35 18-60-18zm60 18l60 18 35 17-60-17z"/>
<path fill="#000053" stroke="#00000c" d="M6460 4168l60 16 35 18-60-17z"/>
<path fill="#000057" stroke="#00000d" d="M6520 4184l60 15 35 18-60-15z"/>
<path fill="#00005d" stroke="#00000e" d="M6580 4199l60 14 35 17-60-13z"/>
<path fill="#000063" stroke="#000017" d="M6640 4213l60 11 35 18-60-12z"/>
<path fill="#000069" stroke="#000018" d="M6700 4224l60 9 35 18-60-9z"/>
<path fill="#000073" stroke="#000026" d="M6760 4233l60 7 35 18-60-7z"/>
<path fill="#000079" stroke="#000028" d="M6820 4240l60 5 35 18-60-5z"/>
<path fill="#00007e" stroke="#000038" d="M6880 4245l60 4 35 18-60-4z"/>
<path fill="#000086" stroke="#00003b" d="M6940 4249l60 1 35 18-60-1z"/>
<path fill="#000089" stroke="#00004d" d="M7000 4250l60 0 35 18-60 0z"/>
<path fill="#000090" stroke="#000051" d="M7060 4250l60-2 35 18-60 2z"/>
<path fill="#000091" stroke="#000065" d="M7120 4248l60-3 35 18-60 3z"/>
<path fill="#000096" stroke="#000069" d="M7180 4245l60-4 35 18-60 4z"/>
<path fill="#00009a" stroke="#00006c" d="M7240 4241l60-5 35 18-60 5z"/>
<path fill="#00009d" stroke="#00006e" d="M7300 4236l60-7 35 19-60 6z"/>
<path fill="#009" stroke="#00006b" d="M2834 5062l60-12 34 19-60 11zm60-12l60-11 34 18-60 12zm60-11l60-12 34 18-60 12zm60-12l60-12 34 18-60 12zm60-12l60-12 34 18-60 12zm60-12l60-12 34 18-60 12zm60-12l60-13 34 19-60 12zm60-13l60-13 34 19-60 13zm60-13l60-13 34 19-60 13zm60-13l60-13 34 19-60 13zm4081-711l60-8 35 18-60 8zm60-8l60-8 35 19-60 7zm60-8l60-8 35 18-60 9zm60-8l60-9 35 18-60 9zm60-9l60-9 35 18-60 9zm60-9l60-9 35 18-60 9zm60-9l60-9 35 18-60 9z"/>
<path fill="#00009e" stroke="#00006e" d="M3434 4939l60-14 35 19-61 14zm60-14l60-14 35 19-60 14zm60-14l60-15 35 20-60 14zm60-15l60-15 35 20-60 15zm60-15l60-15 35 20-60 15zm60-15l60-17 35 21-60 16zm3661-618l60-7 35 18-60 7z"/>
<path fill="#0000a3" stroke="#000072" d="M3794 4849l60-16 35 20-60 17zm60-16l60-18 35 21-60 17zm60-18l60-18 35 21-60 18z"/>
<path fill="#0000a8" stroke="#000076" d="M3974 4797l60-20 35 23-60 18zm60-20l60-20 35 23-60 20zm60-20l60-21 35 24-60 20z"/>
<path fill="#0000ae" stroke="#000079" d="M4154 4736l60-22 35 25-60 21zm60-22l60-23 35 25-60 23z"/>
<path fill="#0000b3" stroke="#00007d" d="M4274 4691l60-24 35 26-60 23zm60-24l60-25 35 27-60 24z"/>
<path fill="#0000b8" stroke="#000081" d="M4394 4642l60-26 35 28-60 25zm60-26l60-27 35 29-60 26z"/>
<path fill="#0000bd" stroke="#00006b" d="M4514 4589l60-28 35 30-60 27z"/>
<path fill="#0000c3" stroke="#00006e" d="M4574 4561l60-28 35 30-60 28z"/>
<path fill="#0000c8" stroke="#000071" d="M4634 4533l60-30 35 32-60 28zm60-30l60-30 35 32-60 30z"/>
<path fill="#0000cd" stroke="#000074" d="M4754 4473l60-31 35 34-60 29z"/>
<path fill="#0000d2" stroke="#007" d="M4814 4442l60-31 35 35-60 30z"/>
<path fill="#0000d8" stroke="#00007a" d="M4874 4411l60-31 35 35-60 31z"/>
<path fill="#00d" stroke="#000062" d="M4934 4380l60-31 35 36-60 30zm60-31l60-30 35 36-60 30z"/>
<path fill="#0000e2" stroke="#000064" d="M5054 4319l60-30 35 36-60 30z"/>
<path fill="#0000e7" stroke="#006" d="M5114 4289l60-29 35 36-60 29z"/>
<path fill="#0000ed" stroke="#000068" d="M5174 4260l60-28 35 36-60 28zm60-28l60-27 35 36-60 27z"/>
<path fill="#0000f2" stroke="#00006b" d="M5294 4205l60-26 35 37-60 25z"/>
<path fill="#0000f7" stroke="#00006d" d="M5354 4179l60-24 35 37-60 24zm60-24l60-22 35 36-60 23z"/>
<path fill="#0000fc" stroke="#00006f" d="M5474 4133l60-19 35 35-60 20zm60-19l60-18 35 34-60 19zm60-18l60-15 35 33-60 16zm240-44l61-1 34 27-60 4zm61-1l60 2 34 25-60 0z"/>
<path fill="#0008ff" stroke="#000354" d="M5654 4081l60-13 35 32-60 14zm60-13l60-9 35 30-60 11zm60-9l60-7 35 30-60 7z"/>
<path fill="#0000f6" stroke="#00006d" d="M5955 4053l60 6 34 24-60-5z"/>
<path fill="#0000c6" stroke="#000041" d="M6015 4059l60 10 34 22-60-8z"/>
<path fill="#0000a0" stroke="#000025" d="M6075 4069l60 13 34 20-60-11z"/>
<path fill="#000083" stroke="#000013" d="M6135 4082l60 15 34 19-60-14z"/>
<path fill="#00006e" stroke="#000010" d="M6195 4097l60 16 34 19-60-16z"/>
<path fill="#000060" stroke="#000007" d="M6255 4113l60 18 34 19-60-18z"/>
<path fill="#000058" stroke="#000007" d="M6315 4131l60 19 34 17-60-17z"/>
<path fill="#000054" stroke="#000006" d="M6375 4150l60 18 34 17-60-18z"/>
<path fill="#000053" stroke="#000006" d="M6435 4168l60 17 35 18-61-18z"/>
<path fill="#000053" stroke="#00000c" d="M6495 4185l60 17 35 17-60-16z"/>
<path fill="#000057" stroke="#00000d" d="M6555 4202l60 15 35 17-60-15z"/>
<path fill="#00005c" stroke="#00000d" d="M6615 4217l60 13 35 18-60-14z"/>
<path fill="#000062" stroke="#000017" d="M6675 4230l60 12 35 17-60-11z"/>
<path fill="#000068" stroke="#000018" d="M6735 4242l60 9 35 18-60-10z"/>
<path fill="#000072" stroke="#000026" d="M6795 4251l60 7 35 18-60-7z"/>
<path fill="#000078" stroke="#000028" d="M6855 4258l60 5 35 19-60-6z"/>
<path fill="#00007d" stroke="#000037" d="M6915 4263l60 4 35 18-60-3z"/>
<path fill="#000086" stroke="#00003b" d="M6975 4267l60 1 35 18-60-1z"/>
<path fill="#000089" stroke="#00004d" d="M7035 4268l60 0 35 18-60 0z"/>
<path fill="#000090" stroke="#000051" d="M7095 4268l60-2 35 19-60 1z"/>
<path fill="#000091" stroke="#000065" d="M7155 4266l60-3 35 19-60 3z"/>
<path fill="#000096" stroke="#000069" d="M7215 4263l60-4 35 18-60 5z"/>
<path fill="#00009a" stroke="#00006c" d="M7275 4259l60-5 35 18-60 5z"/>
<path fill="#00009d" stroke="#00006e" d="M7335 4254l60-6 35 18-60 6z"/>
<path fill="#009" stroke="#00006b" d="M2868 5080l60-11 35 18-60 11zm60-11l60-12 35 18-60 12zm60-12l60-12 35 18-60 12zm60-12l60-12 35 18-60 12zm60-12l60-12 35 18-60 12zm60-12l60-12 35 18-60 12zm60-12l60-12 35 18-60 12zm60-12l60-13 35 18-60 13zm60-13l60-13 35 18-60 13zm60-13l60-13 35 18-60 13zm4082-712l60-8 35 19-60 7zm60-8l60-7 35 18-60 8zm60-7l60-9 35 18-60 9zm60-9l60-9 35 18-60 9zm60-9l60-9 35 19-60 8zm60-9l60-9 35 18-60 10zm60-9l60-9 35 18-60 9z"/>
<path fill="#00009e" stroke="#00006e" d="M3468 4958l61-14 34 19-60 13zm61-14l60-14 34 19-60 14zm60-14l60-14 34 19-60 14zm60-14l60-15 34 19-60 15zm60-15l60-15 34 19-60 15zm60-15l60-16 34 20-60 15zm3601-614l60-6 35 18-60 6zm60-6l60-7 35 18-60 7z"/>
<path fill="#0000a3" stroke="#000072" d="M3829 4870l60-17 34 21-60 16zm60-17l60-17 34 21-60 17zm60-17l60-18 34 22-60 17zm60-18l60-18 34 22-60 18z"/>
<path fill="#0000a8" stroke="#000076" d="M4069 4800l60-20 35 23-61 19zm60-20l60-20 35 23-60 20zm60-20l60-21 35 24-60 20z"/>
<path fill="#0000ae" stroke="#000079" d="M4249 4739l60-23 35 25-60 22zm60-23l60-23 35 26-60 22z"/>
<path fill="#0000b3" stroke="#00007d" d="M4369 4693l60-24 35 26-60 24zm60-24l60-25 35 27-60 24z"/>
<path fill="#0000b8" stroke="#000081" d="M4489 4644l60-26 35 28-60 25z"/>
<path fill="#0000bd" stroke="#000085" d="M4549 4618l60-27 35 29-60 26z"/>
<path fill="#0000bd" stroke="#00006b" d="M4609 4591l60-28 35 30-60 27z"/>
<path fill="#0000c3" stroke="#00006e" d="M4669 4563l60-28 35 31-60 27z"/>
<path fill="#0000c8" stroke="#000071" d="M4729 4535l60-30 35 32-60 29z"/>
<path fill="#0000cd" stroke="#000074" d="M4789 4505l60-29 35 32-60 29zm60-29l60-30 35 33-60 29z"/>
<path fill="#0000d2" stroke="#007" d="M4909 4446l60-31 35 35-60 29z"/>
<path fill="#0000d8" stroke="#00007a" d="M4969 4415l60-30 35 35-60 30z"/>
<path fill="#00d" stroke="#000062" d="M5029 4385l60-30 35 35-60 30z"/>
<path fill="#0000e2" stroke="#000064" d="M5089 4355l60-30 35 36-60 29zm60-30l60-29 35 37-60 28z"/>
<path fill="#0000e7" stroke="#006" d="M5209 4296l60-28 35 37-60 28z"/>
<path fill="#0000ed" stroke="#000068" d="M5269 4268l60-27 35 37-60 27zm60-27l60-25 35 36-60 26z"/>
<path fill="#0000f2" stroke="#00006b" d="M5389 4216l60-24 35 36-60 24z"/>
<path fill="#0000f7" stroke="#00006d" d="M5449 4192l60-23 35 36-60 23zm60-23l60-20 35 35-60 21zm60-20l60-19 35 35-60 19zm420-71l60 5 35 24-60-3z"/>
<path fill="#0000fc" stroke="#00006f" d="M5629 4130l60-16 35 34-60 17zm60-16l60-14 35 33-60 15zm60-14l60-11 35 32-60 12zm60-11l60-7 35 30-60 9zm60-7l60-4 35 28-60 6zm60-4l60 0 35 26-60 2z"/>
<path fill="#0000d8" stroke="#000047" d="M6049 4083l60 8 35 22-60-6z"/>
<path fill="#0000ae" stroke="#000028" d="M6109 4091l60 11 35 21-60-10z"/>
<path fill="#00008d" stroke="#000021" d="M6169 4102l60 14 35 20-60-13z"/>
<path fill="#000076" stroke="#001" d="M6229 4116l60 16 35 19-60-15z"/>
<path fill="#000065" stroke="#00000f" d="M6289 4132l60 18 35 18-60-17z"/>
<path fill="#00005b" stroke="#000007" d="M6349 4150l60 17 35 18-60-17z"/>
<path fill="#005" stroke="#000006" d="M6409 4167l60 18 35 18-60-18z"/>
<path fill="#000054" stroke="#000006" d="M6469 4185l61 18 34 17-60-17z"/>
<path fill="#000053" stroke="#00000c" d="M6530 4203l60 16 34 18-60-17z"/>
<path fill="#000056" stroke="#00000d" d="M6590 4219l60 15 34 18-60-15z"/>
<path fill="#00005b" stroke="#00000d" d="M6650 4234l60 14 34 18-60-14z"/>
<path fill="#000061" stroke="#000016" d="M6710 4248l60 11 34 18-60-11z"/>
<path fill="#000068" stroke="#000018" d="M6770 4259l60 10 34 18-60-10z"/>
<path fill="#000071" stroke="#000025" d="M6830 4269l60 7 34 18-60-7z"/>
<path fill="#000078" stroke="#000027" d="M6890 4276l60 6 34 18-60-6z"/>
<path fill="#00007d" stroke="#000037" d="M6950 4282l60 3 34 18-60-3z"/>
<path fill="#000086" stroke="#00003b" d="M7010 4285l60 1 34 19-60-2z"/>
<path fill="#000089" stroke="#00004d" d="M7070 4286l60 0 34 19-60 0z"/>
<path fill="#000090" stroke="#000051" d="M7130 4286l60-1 35 18-61 2z"/>
<path fill="#000091" stroke="#000065" d="M7190 4285l60-3 35 18-60 3z"/>
<path fill="#000096" stroke="#000069" d="M7250 4282l60-5 35 19-60 4z"/>
<path fill="#00009a" stroke="#00006c" d="M7310 4277l60-5 35 18-60 6z"/>
<path fill="#009" stroke="#00006b" d="M2903 5098l60-11 35 18-60 11zm60-11l60-12 35 18-60 12zm60-12l60-12 35 18-60 12zm60-12l60-12 35 19-60 11zm60-12l60-12 35 19-60 12zm60-12l60-12 35 18-60 13zm60-12l60-12 35 18-60 12zm60-12l60-13 35 19-60 12zm60-13l60-13 35 19-60 13zm60-13l60-13 35 19-60 13zm4082-712l60-7 34 18-60 7zm60-7l60-8 34 18-60 8zm60-8l60-9 34 18-60 9zm60-9l60-9 34 19-60 8zm60-9l60-8 35 18-61 9zm60-8l60-10 35 18-60 10zm60-10l60-9 35 18-60 9z"/>
<path fill="#00009e" stroke="#00006e" d="M3503 4976l60-13 35 18-60 14zm60-13l60-14 35 19-60 13zm60-14l60-14 35 19-60 14zm60-14l60-15 35 20-60 14zm60-15l60-15 35 20-60 15zm60-15l60-15 35 20-60 15zm60-15l60-16 35 20-60 16zm3542-600l60-6 34 18-60 6zm60-6l60-7 34 18-60 7z"/>
<path fill="#0000a3" stroke="#000072" d="M3923 4874l60-17 35 21-60 16zm60-17l60-17 35 21-60 17zm60-17l60-18 35 21-60 18z"/>
<path fill="#0000a8" stroke="#000076" d="M4103 4822l61-19 34 22-60 18zm61-19l60-20 34 23-60 19zm60-20l60-20 34 23-60 20z"/>
<path fill="#0000ae" stroke="#000079" d="M4284 4763l60-22 34 24-60 21zm60-22l60-22 34 25-60 21z"/>
<path fill="#0000b3" stroke="#00007d" d="M4404 4719l60-24 34 26-60 23zm60-24l60-24 34 27-60 23z"/>
<path fill="#0000b8" stroke="#000081" d="M4524 4671l60-25 34 28-60 24zm60-25l60-26 34 29-60 25z"/>
<path fill="#0000bd" stroke="#000085" d="M4644 4620l60-27 34 30-60 26z"/>
<path fill="#0000c3" stroke="#00006e" d="M4704 4593l60-27 34 30-60 27zm60-27l60-29 35 32-61 27z"/>
<path fill="#0000c8" stroke="#000071" d="M4824 4537l60-29 35 33-60 28z"/>
<path fill="#0000cd" stroke="#000074" d="M4884 4508l60-29 35 33-60 29zm60-29l60-29 35 33-60 29z"/>
<path fill="#0000d2" stroke="#007" d="M5004 4450l60-30 35 34-60 29z"/>
<path fill="#0000d8" stroke="#00005f" d="M5064 4420l60-30 35 36-60 28z"/>
<path fill="#00d" stroke="#000062" d="M5124 4390l60-29 35 36-60 29z"/>
<path fill="#0000e2" stroke="#000064" d="M5184 4361l60-28 35 36-60 28zm60-28l60-28 35 36-60 28z"/>
<path fill="#0000e7" stroke="#006" d="M5304 4305l60-27 35 36-60 27z"/>
<path fill="#0000ed" stroke="#000068" d="M5364 4278l60-26 35 36-60 26zm60-26l60-24 35 36-60 24z"/>
<path fill="#0000f2" stroke="#00006b" d="M5484 4228l60-23 35 36-60 23zm60-23l60-21 35 35-60 22z"/>
<path fill="#0000f7" stroke="#00006d" d="M5604 4184l60-19 35 35-60 19zm60-19l60-17 35 34-60 18zm60-17l60-15 35 34-60 15zm240-42l60-2 35 27-60 4zm60-2l60 3 35 25-60-1z"/>
<path fill="#0000fc" stroke="#00006f" d="M5784 4133l60-12 35 32-60 14zm60-12l60-9 35 31-60 10zm60-9l60-6 35 29-60 8z"/>
<path fill="#0000e8" stroke="#00004c" d="M6084 4107l60 6 35 24-60-5z"/>
<path fill="#0000be" stroke="#00003f" d="M6144 4113l60 10 35 22-60-8z"/>
<path fill="#009" stroke="#000023" d="M6204 4123l60 13 35 21-60-12z"/>
<path fill="#00007e" stroke="#000012" d="M6264 4136l60 15 35 20-60-14z"/>
<path fill="#00006b" stroke="#000010" d="M6324 4151l60 17 35 18-60-15z"/>
<path fill="#00005e" stroke="#000007" d="M6384 4168l60 17 35 18-60-17z"/>
<path fill="#000057" stroke="#000007" d="M6444 4185l60 18 35 18-60-18z"/>
<path fill="#005" stroke="#000006" d="M6504 4203l60 17 35 18-60-17z"/>
<path fill="#000053" stroke="#00000c" d="M6564 4220l60 17 35 17-60-16z"/>
<path fill="#000056" stroke="#00000d" d="M6624 4237l60 15 35 18-60-16z"/>
<path fill="#00005b" stroke="#00000d" d="M6684 4252l60 14 35 17-60-13z"/>
<path fill="#000061" stroke="#000016" d="M6744 4266l60 11 35 18-60-12z"/>
<path fill="#000067" stroke="#000018" d="M6804 4277l60 10 35 18-60-10z"/>
<path fill="#000071" stroke="#000025" d="M6864 4287l60 7 35 18-60-7z"/>
<path fill="#007" stroke="#000027" d="M6924 4294l60 6 35 18-60-6z"/>
<path fill="#00007d" stroke="#000037" d="M6984 4300l60 3 35 18-60-3z"/>
<path fill="#000085" stroke="#00003b" d="M7044 4303l60 2 35 18-60-2z"/>
<path fill="#000089" stroke="#00004d" d="M7104 4305l60 0 35 18-60 0z"/>
<path fill="#000090" stroke="#000051" d="M7164 4305l61-2 34 18-60 2z"/>
<path fill="#000091" stroke="#000065" d="M7225 4303l60-3 34 18-60 3z"/>
<path fill="#000096" stroke="#000069" d="M7285 4300l60-4 34 18-60 4z"/>
<path fill="#00009a" stroke="#00006c" d="M7345 4296l60-6 34 18-60 6z"/>
<path fill="#009" stroke="#00006b" d="M2938 5116l60-11 35 18-60 11zm60-11l60-12 35 18-60 12zm60-12l60-12 35 19-60 11zm60-12l60-11 35 18-60 12zm60-11l60-12 35 18-60 12zm60-12l60-13 35 19-60 12zm60-13l60-12 35 18-60 13zm60-12l60-12 35 18-60 12zm60-12l60-13 35 18-60 13zm60-13l60-13 35 18-60 13zm4081-713l60-7 35 18-60 7zm60-7l60-8 35 18-60 8zm60-8l60-9 35 18-60 9zm60-9l60-8 35 18-60 8zm60-8l61-9 34 18-60 9zm61-9l60-10 34 18-60 10zm60-10l60-9 34 18-60 9z"/>
<path fill="#00009e" stroke="#00006e" d="M3538 4995l60-14 35 19-60 13zm60-14l60-13 35 19-60 13zm60-13l60-14 35 19-60 14zm60-14l60-14 35 19-60 14zm60-14l60-15 35 19-60 15zm60-15l60-15 35 19-60 15zm60-15l60-16 35 20-60 15zm3541-602l60-6 35 18-60 7zm60-6l60-7 35 18-60 7z"/>
<path fill="#0000a3" stroke="#000072" d="M3958 4894l60-16 35 20-60 16zm60-16l60-17 35 21-60 16zm60-17l60-18 35 21-60 18zm60-18l60-18 35 22-60 17z"/>
<path fill="#0000a8" stroke="#000076" d="M4198 4825l60-19 35 22-60 19zm60-19l60-20 35 23-60 19zm60-20l60-21 35 24-60 20z"/>
<path fill="#0000ae" stroke="#000079" d="M4378 4765l60-21 35 24-60 21zm60-21l60-23 35 26-60 21z"/>
<path fill="#0000b3" stroke="#00007d" d="M4498 4721l60-23 35 26-60 23zm60-23l60-24 35 27-60 23z"/>
<path fill="#0000b8" stroke="#000081" d="M4618 4674l60-25 35 27-60 25zm60-25l60-26 35 28-60 25z"/>
<path fill="#0000bd" stroke="#00006b" d="M4738 4623l60-27 35 30-60 25z"/>
<path fill="#0000c3" stroke="#00006e" d="M4798 4596l61-27 34 30-60 27zm61-27l60-28 34 31-60 27z"/>
<path fill="#0000c8" stroke="#000071" d="M4919 4541l60-29 34 33-60 27z"/>
<path fill="#0000cd" stroke="#000074" d="M4979 4512l60-29 34 34-60 28z"/>
<path fill="#0000d2" stroke="#007" d="M5039 4483l60-29 34 34-60 29zm60-29l60-28 34 34-60 28z"/>
<path fill="#0000d8" stroke="#00005f" d="M5159 4426l60-29 34 35-60 28z"/>
<path fill="#00d" stroke="#000062" d="M5219 4397l60-28 34 35-60 28z"/>
<path fill="#0000e2" stroke="#000064" d="M5279 4369l60-28 34 36-60 27zm60-28l60-27 34 36-60 27z"/>
<path fill="#0000e7" stroke="#006" d="M5399 4314l60-26 35 37-61 25z"/>
<path fill="#0000ed" stroke="#000068" d="M5459 4288l60-24 35 36-60 25zm60-24l60-23 35 36-60 23z"/>
<path fill="#0000f2" stroke="#00006b" d="M5579 4241l60-22 35 36-60 22zm60-22l60-19 35 35-60 20zm60-19l60-18 35 35-60 18zm420-68l60 5 35 24-60-3z"/>
<path fill="#0000f7" stroke="#00006d" d="M5759 4182l60-15 35 33-60 17zm60-15l60-14 35 33-60 14zm60-14l60-10 35 31-60 12zm60-10l60-8 35 30-60 9zm60-8l60-4 35 29-60 5zm60-4l60 1 35 26-60 2z"/>
<path fill="#0000d1" stroke="#000045" d="M6179 4137l60 8 35 22-60-6z"/>
<path fill="#0000a7" stroke="#000027" d="M6239 4145l60 12 35 20-60-10z"/>
<path fill="#008" stroke="#000014" d="M6299 4157l60 14 35 19-60-13z"/>
<path fill="#000072" stroke="#001" d="M6359 4171l60 15 35 19-60-15z"/>
<path fill="#000063" stroke="#00000e" d="M6419 4186l60 17 35 19-60-17z"/>
<path fill="#00005a" stroke="#000007" d="M6479 4203l60 18 35 18-60-17z"/>
<path fill="#000056" stroke="#000007" d="M6539 4221l60 17 35 17-60-16zm60 17l60 16 35 18-60-17z"/>
<path fill="#000056" stroke="#00000c" d="M6659 4254l60 16 35 17-60-15z"/>
<path fill="#00005a" stroke="#00000d" d="M6719 4270l60 13 35 18-60-14z"/>
<path fill="#000060" stroke="#000016" d="M6779 4283l60 12 35 18-60-12z"/>
<path fill="#000069" stroke="#000018" d="M6839 4295l60 10 35 17-60-9z"/>
<path fill="#000070" stroke="#000025" d="M6899 4305l60 7 35 18-60-8z"/>
<path fill="#007" stroke="#000027" d="M6959 4312l60 6 35 18-60-6z"/>
<path fill="#00007c" stroke="#000037" d="M7019 4318l60 3 35 19-60-4z"/>
<path fill="#000085" stroke="#00003b" d="M7079 4321l60 2 35 18-60-1z"/>
<path fill="#000089" stroke="#00004d" d="M7139 4323l60 0 35 18-60 0z"/>
<path fill="#000090" stroke="#000051" d="M7199 4323l60-2 35 19-60 1z"/>
<path fill="#000091" stroke="#006" d="M7259 4321l60-3 35 18-60 4z"/>
<path fill="#000096" stroke="#000069" d="M7319 4318l60-4 35 18-60 4z"/>
<path fill="#00009b" stroke="#00006c" d="M7379 4314l60-6 35 19-60 5z"/>
<path fill="#009" stroke="#00006b" d="M2973 5134l60-11 34 18-60 11zm60-11l60-12 34 18-60 12zm60-12l60-11 35 18-61 11zm60-11l60-12 35 18-60 12zm60-12l60-12 35 18-60 12zm60-12l60-12 35 18-60 12zm60-12l60-13 35 19-60 12zm60-13l60-12 35 18-60 13zm60-12l60-13 35 19-60 12zm60-13l60-13 35 19-60 13zm4081-713l60-7 35 18-60 8zm60-7l60-8 35 18-60 8zm60-8l60-9 35 19-60 8zm60-9l60-8 35 18-60 9zm60-8l60-9 35 18-60 9zm60-9l60-10 35 19-60 9zm60-10l60-9 35 18-60 10zm60-9l60-9 35 18-60 9z"/>
<path fill="#00009e" stroke="#00006e" d="M3573 5013l60-13 35 19-60 13zm60-13l60-13 35 18-60 14zm60-13l60-14 35 19-60 13zm60-14l60-14 35 19-60 14zm60-14l60-15 35 20-60 14zm60-15l60-15 35 20-60 15zm60-15l60-15 35 20-60 15zm3541-602l60-7 35 19-60 6zm60-7l60-7 35 19-60 7z"/>
<path fill="#0000a3" stroke="#000072" d="M3993 4914l60-16 35 20-60 16zm60-16l60-16 35 20-60 16zm60-16l60-18 35 21-60 17zm60-18l60-17 35 21-60 17z"/>
<path fill="#0000a8" stroke="#000076" d="M4233 4847l60-19 35 22-60 18zm60-19l60-19 35 23-60 18zm60-19l60-20 35 23-60 20z"/>
<path fill="#0000ae" stroke="#000079" d="M4413 4789l60-21 35 24-60 20zm60-21l60-21 35 24-60 21z"/>
<path fill="#0000b3" stroke="#00007d" d="M4533 4747l60-23 35 26-60 21zm60-23l60-23 35 26-60 23z"/>
<path fill="#0000b8" stroke="#000081" d="M4653 4701l60-25 35 28-60 23zm60-25l60-25 35 29-60 24z"/>
<path fill="#0000bd" stroke="#000085" d="M4773 4651l60-25 35 29-60 25z"/>
<path fill="#0000bd" stroke="#00006b" d="M4833 4626l60-27 35 30-60 26z"/>
<path fill="#0000c3" stroke="#00006e" d="M4893 4599l60-27 35 31-60 26z"/>
<path fill="#0000c8" stroke="#000071" d="M4953 4572l60-27 35 31-60 27zm60-27l60-28 35 32-60 27z"/>
<path fill="#0000cd" stroke="#000074" d="M5073 4517l60-29 35 34-60 27z"/>
<path fill="#0000d2" stroke="#007" d="M5133 4488l60-28 35 34-60 28zm60-28l60-28 35 35-60 27z"/>
<path fill="#0000d8" stroke="#00005f" d="M5253 4432l60-28 35 36-60 27z"/>
<path fill="#00d" stroke="#000062" d="M5313 4404l60-27 35 36-60 27z"/>
<path fill="#0000e2" stroke="#000064" d="M5373 4377l60-27 35 36-60 27zm60-27l61-25 34 36-60 25z"/>
<path fill="#0000e7" stroke="#006" d="M5494 4325l60-25 34 36-60 25zm60-25l60-23 34 36-60 23z"/>
<path fill="#0000ed" stroke="#000068" d="M5614 4277l60-22 34 36-60 22zm60-22l60-20 34 35-60 21z"/>
<path fill="#0000f2" stroke="#00006b" d="M5734 4235l60-18 34 35-60 18zm60-18l60-17 34 35-60 17zm60-17l60-14 34 34-60 15zm60-14l60-12 34 33-60 13zm120-21l60-5 34 29-60 7zm60-5l60-2 35 27-61 4zm60-2l60 3 35 25-60-1z"/>
<path fill="#0000f7" stroke="#00006d" d="M5974 4174l60-9 34 31-60 11z"/>
<path fill="#0000e1" stroke="#000063" d="M6214 4161l60 6 35 24-60-5z"/>
<path fill="#0000b8" stroke="#00003d" d="M6274 4167l60 10 35 22-60-8z"/>
<path fill="#000094" stroke="#002" d="M6334 4177l60 13 35 21-60-12z"/>
<path fill="#00007a" stroke="#000012" d="M6394 4190l60 15 35 19-60-13z"/>
<path fill="#000069" stroke="#00000f" d="M6454 4205l60 17 35 18-60-16z"/>
<path fill="#00005e" stroke="#00000e" d="M6514 4222l60 17 35 17-60-16z"/>
<path fill="#000058" stroke="#000007" d="M6574 4239l60 16 35 18-60-17z"/>
<path fill="#000057" stroke="#00000d" d="M6634 4255l60 17 35 17-60-16z"/>
<path fill="#000056" stroke="#00000d" d="M6694 4272l60 15 35 18-60-16z"/>
<path fill="#00005a" stroke="#00000d" d="M6754 4287l60 14 35 17-60-13z"/>
<path fill="#00005f" stroke="#000016" d="M6814 4301l60 12 35 17-60-12z"/>
<path fill="#000069" stroke="#000018" d="M6874 4313l60 9 35 18-60-10z"/>
<path fill="#000070" stroke="#000025" d="M6934 4322l60 8 35 18-60-8z"/>
<path fill="#000076" stroke="#000027" d="M6994 4330l60 6 35 18-60-6z"/>
<path fill="#00007c" stroke="#000037" d="M7054 4336l60 4 35 18-60-4z"/>
<path fill="#000085" stroke="#00003b" d="M7114 4340l60 1 35 19-60-2z"/>
<path fill="#000089" stroke="#00004d" d="M7174 4341l60 0 35 19-60 0z"/>
<path fill="#000090" stroke="#000051" d="M7234 4341l60-1 35 18-60 2z"/>
<path fill="#000091" stroke="#006" d="M7294 4340l60-4 35 19-60 3z"/>
<path fill="#000097" stroke="#000069" d="M7354 4336l60-4 35 18-60 5z"/>
<path fill="#00009b" stroke="#00006c" d="M7414 4332l60-5 35 18-60 5z"/>
<path fill="#009" stroke="#00006b" d="M3007 5152l60-11 35 18-60 11zm60-11l60-12 35 18-60 12zm60-12l61-11 34 18-60 11zm61-11l60-12 34 18-60 12zm60-12l60-12 34 18-60 12zm60-12l60-12 34 18-60 12zm60-12l60-12 34 18-60 12zm60-12l60-13 34 18-60 13zm60-13l60-12 34 18-60 12zm60-12l60-13 34 18-60 13zm4081-713l60-8 35 18-60 8zm60-8l60-8 35 18-60 8zm60-8l60-8 35 18-60 8zm60-8l60-9 35 18-60 9zm60-9l60-9 35 18-60 9zm60-9l60-9 35 18-60 9zm60-9l60-10 35 18-60 10zm60-10l60-9 35 18-60 9z"/>
<path fill="#00009e" stroke="#00006e" d="M3608 5032l60-13 34 18-60 13zm60-13l60-14 34 19-60 13zm60-14l60-13 35 18-61 14zm60-13l60-14 35 19-60 13zm60-14l60-14 35 19-60 14zm60-14l60-15 35 19-60 15zm60-15l60-15 35 19-60 15zm60-15l60-16 35 20-60 15zm3481-589l60-6 35 18-60 6zm60-6l60-7 35 18-60 7z"/>
<path fill="#0000a3" stroke="#000072" d="M4088 4918l60-16 35 20-60 16zm60-16l60-17 35 21-60 16zm60-17l60-17 35 21-60 17zm60-17l60-18 35 22-60 17z"/>
<path fill="#0000a8" stroke="#000076" d="M4328 4850l60-18 35 22-60 18zm60-18l60-20 35 23-60 19zm60-20l60-20 35 24-60 19z"/>
<path fill="#0000ae" stroke="#000079" d="M4508 4792l60-21 35 25-60 20zm60-21l60-21 35 25-60 21z"/>
<path fill="#0000b3" stroke="#00007d" d="M4628 4750l60-23 35 26-60 22zm60-23l60-23 35 27-60 22z"/>
<path fill="#0000b8" stroke="#000081" d="M4748 4704l60-24 35 27-60 24zm60-24l60-25 35 28-60 24z"/>
<path fill="#0000bd" stroke="#000085" d="M4868 4655l60-26 35 30-60 24z"/>
<path fill="#0000bd" stroke="#00006b" d="M4928 4629l60-26 35 30-60 26z"/>
<path fill="#0000c3" stroke="#00006e" d="M4988 4603l60-27 35 32-60 25z"/>
<path fill="#0000c8" stroke="#000071" d="M5048 4576l60-27 35 32-60 27zm60-27l60-27 35 33-60 26z"/>
<path fill="#0000cd" stroke="#000074" d="M5168 4522l60-28 35 34-60 27z"/>
<path fill="#0000d2" stroke="#007" d="M5228 4494l60-27 35 34-60 27zm60-27l60-27 35 35-60 26z"/>
<path fill="#0000d8" stroke="#00005f" d="M5348 4440l60-27 35 35-60 27z"/>
<path fill="#00d" stroke="#000062" d="M5408 4413l60-27 35 36-60 26zm60-27l60-25 35 36-60 25z"/>
<path fill="#0000e2" stroke="#000064" d="M5528 4361l60-25 35 36-60 25z"/>
<path fill="#0000e7" stroke="#006" d="M5588 4336l60-23 35 36-60 23zm60-23l60-22 35 36-60 22z"/>
<path fill="#0000ed" stroke="#000068" d="M5708 4291l60-21 35 36-60 21zm60-21l60-18 35 35-60 19zm60-18l60-17 35 34-60 18zm421-66l60 5 34 24-60-3z"/>
<path fill="#0000f2" stroke="#00006b" d="M5888 4235l60-15 35 33-60 16zm60-15l60-13 35 33-60 13zm60-13l60-11 35 32-60 12zm60-11l60-7 35 30-60 9zm60-7l61-4 34 28-60 6zm61-4l60 1 34 26-60 1z"/>
<path fill="#0000c7" stroke="#000042" d="M6309 4191l60 8 34 22-60-6z"/>
<path fill="#0000a3" stroke="#000026" d="M6369 4199l60 12 34 20-60-10z"/>
<path fill="#000085" stroke="#00001f" d="M6429 4211l60 13 34 20-60-13z"/>
<path fill="#000070" stroke="#000010" d="M6489 4224l60 16 34 19-60-15z"/>
<path fill="#000062" stroke="#00000e" d="M6549 4240l60 16 34 19-60-16z"/>
<path fill="#00005b" stroke="#00000d" d="M6609 4256l60 17 34 18-60-16z"/>
<path fill="#000058" stroke="#00000d" d="M6669 4273l60 16 34 18-60-16z"/>
<path fill="#000056" stroke="#00000d" d="M6729 4289l60 16 35 17-61-15z"/>
<path fill="#00005a" stroke="#00000d" d="M6789 4305l60 13 35 18-60-14z"/>
<path fill="#00005f" stroke="#000016" d="M6849 4318l60 12 35 18-60-12z"/>
<path fill="#000068" stroke="#000018" d="M6909 4330l60 10 35 18-60-10z"/>
<path fill="#00006f" stroke="#000025" d="M6969 4340l60 8 35 18-60-8z"/>
<path fill="#000076" stroke="#000027" d="M7029 4348l60 6 35 18-60-6z"/>
<path fill="#00007c" stroke="#000037" d="M7089 4354l60 4 35 18-60-4z"/>
<path fill="#000085" stroke="#00003b" d="M7149 4358l60 2 35 18-60-2z"/>
<path fill="#000089" stroke="#00004d" d="M7209 4360l60 0 35 18-60 0z"/>
<path fill="#000090" stroke="#000051" d="M7269 4360l60-2 35 18-60 2z"/>
<path fill="#000092" stroke="#006" d="M7329 4358l60-3 35 18-60 3z"/>
<path fill="#000097" stroke="#00006a" d="M7389 4355l60-5 35 19-60 4z"/>
<path fill="#00009b" stroke="#00006d" d="M7449 4350l60-5 35 18-60 6z"/>
<path fill="#009" stroke="#00006b" d="M3042 5170l60-11 35 18-60 11zm60-11l60-12 35 19-60 11zm60-12l60-11 35 18-60 12zm60-11l60-12 35 18-60 12zm60-12l60-12 35 18-60 12zm60-12l60-12 35 18-60 12zm60-12l60-12 35 18-60 12zm60-12l60-13 35 19-60 12zm60-13l60-12 35 18-60 13zm60-12l60-13 35 18-60 13zm60-13l60-13 35 19-60 12zm4022-700l60-8 35 18-60 8zm60-8l60-8 35 18-60 8zm60-8l60-8 35 18-60 8zm60-8l60-9 35 18-60 9zm60-9l60-9 35 18-60 9zm60-9l60-9 35 18-60 9zm60-9l60-10 35 18-60 10zm60-10l60-9 35 18-60 9z"/>
<path fill="#00009e" stroke="#00006e" d="M3702 5037l60-13 35 18-60 14zm60-13l61-14 34 19-60 13zm61-14l60-13 34 19-60 13zm60-13l60-14 34 19-60 14zm60-14l60-15 34 19-60 15zm60-15l60-15 34 20-60 14zm60-15l60-15 34 20-60 15zm3481-590l60-6 35 18-60 7zm60-6l60-7 35 18-60 7z"/>
<path fill="#0000a3" stroke="#000072" d="M4123 4938l60-16 34 21-60 15zm60-16l60-16 34 21-60 16zm60-16l60-17 34 21-60 17zm60-17l60-17 34 21-60 17z"/>
<path fill="#0000a8" stroke="#000076" d="M4363 4872l60-18 34 22-60 17zm60-18l60-19 35 23-61 18zm60-19l60-19 35 23-60 19z"/>
<path fill="#0000ae" stroke="#000079" d="M4543 4816l60-20 35 23-60 20zm60-20l60-21 35 24-60 20zm60-21l60-22 35 25-60 21z"/>
<path fill="#0000b3" stroke="#00007d" d="M4723 4753l60-22 35 26-60 21zm60-22l60-24 35 27-60 23z"/>
<path fill="#0000b8" stroke="#000081" d="M4843 4707l60-24 35 28-60 23zm60-24l60-24 35 29-60 23z"/>
<path fill="#0000bd" stroke="#00006b" d="M4963 4659l60-26 35 30-60 25z"/>
<path fill="#0000c3" stroke="#00006e" d="M5023 4633l60-25 35 30-60 25zm60-25l60-27 35 32-60 25z"/>
<path fill="#0000c8" stroke="#000071" d="M5143 4581l60-26 35 32-60 26z"/>
<path fill="#0000cd" stroke="#000074" d="M5203 4555l60-27 35 33-60 26zm60-27l60-27 35 34-60 26z"/>
<path fill="#0000d2" stroke="#007" d="M5323 4501l60-26 35 34-60 26zm60-26l60-27 35 35-60 26z"/>
<path fill="#0000d8" stroke="#00005f" d="M5443 4448l60-26 35 36-60 25z"/>
<path fill="#00d" stroke="#000062" d="M5503 4422l60-25 35 36-60 25zm60-25l60-25 35 36-60 25z"/>
<path fill="#0000e2" stroke="#000064" d="M5623 4372l60-23 35 36-60 23zm60-23l60-22 35 36-60 22z"/>
<path fill="#0000e7" stroke="#006" d="M5743 4327l60-21 35 36-60 21zm60-21l60-19 35 35-60 20z"/>
<path fill="#0000ed" stroke="#000068" d="M5863 4287l60-18 35 35-60 18zm60-18l60-16 35 35-60 16zm60-16l60-13 35 33-60 15zm60-13l60-12 35 33-60 12zm60-12l60-9 35 31-60 11zm60-9l60-6 35 30-60 7zm60-6l60-1 35 27-60 4zm60-1l60 3 35 25-60-1z"/>
<path fill="#00d" stroke="#000061" d="M6343 4215l60 6 35 23-60-4z"/>
<path fill="#0000b4" stroke="#00003b" d="M6403 4221l60 10 35 22-60-9z"/>
<path fill="#000091" stroke="#000021" d="M6463 4231l60 13 35 20-60-11z"/>
<path fill="#000078" stroke="#000012" d="M6523 4244l60 15 35 19-60-14z"/>
<path fill="#000068" stroke="#00000f" d="M6583 4259l60 16 35 18-60-15z"/>
<path fill="#00005e" stroke="#00000e" d="M6643 4275l60 16 35 18-60-16z"/>
<path fill="#00005a" stroke="#00000d" d="M6703 4291l60 16 35 18-60-16zm121 31l60 14 34 18-60-14z"/>
<path fill="#000059" stroke="#00000d" d="M6763 4307l61 15 34 18-60-15z"/>
<path fill="#00005f" stroke="#000016" d="M6884 4336l60 12 34 18-60-12z"/>
<path fill="#000068" stroke="#000018" d="M6944 4348l60 10 34 18-60-10z"/>
<path fill="#00006f" stroke="#000024" d="M7004 4358l60 8 34 18-60-8z"/>
<path fill="#000075" stroke="#000027" d="M7064 4366l60 6 34 18-60-6z"/>
<path fill="#00007c" stroke="#000037" d="M7124 4372l60 4 34 18-60-4z"/>
<path fill="#000085" stroke="#00003b" d="M7184 4376l60 2 34 18-60-2z"/>
<path fill="#000089" stroke="#00004d" d="M7244 4378l60 0 34 18-60 0z"/>
<path fill="#000090" stroke="#000052" d="M7304 4378l60-2 34 19-60 1z"/>
<path fill="#000092" stroke="#006" d="M7364 4376l60-3 34 19-60 3z"/>
<path fill="#000097" stroke="#00006a" d="M7424 4373l60-4 35 18-61 5z"/>
<path fill="#00009c" stroke="#00006d" d="M7484 4369l60-6 35 19-60 5z"/>
<path fill="#009" stroke="#00006b" d="M3077 5188l60-11 35 18-60 11zm60-11l60-11 35 18-60 11zm60-11l60-12 35 18-60 12zm60-12l60-12 35 18-60 12zm60-12l60-12 35 18-60 12zm60-12l60-12 35 18-60 12zm60-12l60-12 35 18-60 12zm60-12l60-12 35 18-60 12zm60-12l60-13 35 18-60 13zm60-13l60-13 35 19-60 12zm60-13l60-12 35 18-60 13zm4022-700l60-8 34 19-60 7zm60-8l60-8 34 19-60 8zm60-8l60-8 34 18-60 9zm60-8l60-9 34 18-60 9zm60-9l60-9 34 18-60 9zm60-9l60-9 34 18-60 9zm60-9l60-10 35 18-61 10zm60-10l60-9 35 18-60 9z"/>
<path fill="#00009e" stroke="#00006e" d="M3737 5056l60-14 35 19-60 13zm60-14l60-13 35 19-60 13zm60-13l60-13 35 18-60 14zm60-13l60-14 35 19-60 13zm60-14l60-15 35 20-60 14zm60-15l60-14 35 19-60 15zm60-14l60-15 35 20-60 14zm3482-591l60-7 34 19-60 6zm60-7l60-7 34 18-60 8z"/>
<path fill="#0000a3" stroke="#000072" d="M4157 4958l60-15 35 19-60 16zm60-15l60-16 35 20-60 15zm60-16l60-17 35 21-60 16zm60-17l60-17 35 22-60 16zm60-17l60-17 35 21-60 18z"/>
<path fill="#0000a8" stroke="#000076" d="M4457 4876l61-18 34 22-60 17zm61-18l60-19 34 23-60 18zm60-19l60-20 34 24-60 19z"/>
<path fill="#0000ae" stroke="#000079" d="M4638 4819l60-20 34 24-60 20zm60-20l60-21 34 25-60 20z"/>
<path fill="#0000b3" stroke="#00007d" d="M4758 4778l60-21 34 25-60 21zm60-21l60-23 34 27-60 21z"/>
<path fill="#0000b8" stroke="#000081" d="M4878 4734l60-23 34 28-60 22zm60-23l60-23 34 28-60 23z"/>
<path fill="#0000bd" stroke="#000085" d="M4998 4688l60-25 34 29-60 24z"/>
<path fill="#0000bd" stroke="#00006b" d="M5058 4663l60-25 34 30-60 24z"/>
<path fill="#0000c3" stroke="#00006e" d="M5118 4638l60-25 35 31-61 24zm60-25l60-26 35 32-60 25z"/>
<path fill="#0000c8" stroke="#000071" d="M5238 4587l60-26 35 33-60 25z"/>
<path fill="#0000cd" stroke="#000074" d="M5298 4561l60-26 35 33-60 26zm60-26l60-26 35 34-60 25z"/>
<path fill="#0000d2" stroke="#007" d="M5418 4509l60-26 35 35-60 25zm60-26l60-25 35 35-60 25z"/>
<path fill="#0000d8" stroke="#00005f" d="M5538 4458l60-25 35 35-60 25z"/>
<path fill="#00d" stroke="#000062" d="M5598 4433l60-25 35 36-60 24zm60-25l60-23 35 36-60 23z"/>
<path fill="#0000e2" stroke="#000064" d="M5718 4385l60-22 35 36-60 22zm60-22l60-21 35 36-60 21z"/>
<path fill="#0000e7" stroke="#006" d="M5838 4342l60-20 35 36-60 20zm60-20l60-18 35 35-60 19zm60-18l60-16 35 35-60 16zm360-65l60 1 35 26-60 2zm60 1l60 4 35 25-60-3z"/>
<path fill="#0000ed" stroke="#000068" d="M6018 4288l60-15 35 34-60 16zm60-15l60-12 35 33-60 13zm60-12l60-11 35 32-60 12zm60-11l60-7 35 30-60 9zm60-7l60-4 35 29-60 5z"/>
<path fill="#0000c3" stroke="#000056" d="M6438 4244l60 9 35 22-60-6z"/>
<path fill="#0000a0" stroke="#000035" d="M6498 4253l60 11 35 21-60-10z"/>
<path fill="#000083" stroke="#00001e" d="M6558 4264l60 14 35 19-60-12z"/>
<path fill="#00006f" stroke="#000010" d="M6618 4278l60 15 35 19-60-15z"/>
<path fill="#000062" stroke="#00000e" d="M6678 4293l60 16 35 18-60-15z"/>
<path fill="#00005c" stroke="#00000d" d="M6738 4309l60 16 35 17-60-15z"/>
<path fill="#00005b" stroke="#00000d" d="M6798 4325l60 15 35 17-60-15z"/>
<path fill="#00005a" stroke="#00000d" d="M6858 4340l60 14 35 17-60-14z"/>
<path fill="#00005e" stroke="#000016" d="M6918 4354l60 12 35 18-60-13z"/>
<path fill="#000067" stroke="#000018" d="M6978 4366l60 10 35 18-60-10z"/>
<path fill="#00006e" stroke="#000024" d="M7038 4376l60 8 35 18-60-8z"/>
<path fill="#000075" stroke="#000027" d="M7098 4384l60 6 35 19-60-7z"/>
<path fill="#00007b" stroke="#000036" d="M7158 4390l60 4 35 19-60-4z"/>
<path fill="#000085" stroke="#00003b" d="M7218 4394l60 2 35 19-60-2z"/>
<path fill="#000089" stroke="#00004e" d="M7278 4396l60 0 35 19-60 0z"/>
<path fill="#000091" stroke="#000052" d="M7338 4396l60-1 35 18-60 2z"/>
<path fill="#000092" stroke="#006" d="M7398 4395l60-3 35 18-60 3z"/>
<path fill="#000098" stroke="#00006a" d="M7458 4392l61-5 34 19-60 4z"/>
<path fill="#00009c" stroke="#00006d" d="M7519 4387l60-5 34 18-60 6z"/>
<path fill="#009" stroke="#00006b" d="M3112 5206l60-11 35 18-60 11zm60-11l60-11 35 18-60 11zm60-11l60-12 35 18-60 12zm60-12l60-12 35 18-60 12zm60-12l60-12 35 18-60 12zm60-12l60-12 35 18-60 12zm60-12l60-12 35 18-60 12zm60-12l60-12 35 18-60 12zm60-12l60-13 35 19-60 12zm60-13l60-12 35 18-60 13zm60-12l60-13 35 18-60 13zm4021-701l60-7 35 18-60 8zm60-7l60-8 35 18-60 8zm60-8l60-9 35 18-60 9zm60-9l60-9 35 18-60 9zm60-9l60-9 35 18-60 9zm60-9l60-9 35 18-60 9zm60-9l61-10 34 18-60 10zm61-10l60-9 34 18-60 9z"/>
<path fill="#00009e" stroke="#00006e" d="M3772 5074l60-13 35 18-60 13zm60-13l60-13 35 18-60 13zm60-13l60-14 35 19-60 13zm60-14l60-13 35 18-60 14zm60-13l60-14 35 19-60 13zm60-14l60-15 35 19-60 15zm60-15l60-14 35 19-60 14zm3481-592l60-6 35 18-60 6zm60-6l60-8 35 19-60 7z"/>
<path fill="#0000a3" stroke="#000072" d="M4192 4978l60-16 35 20-60 15zm60-16l60-15 35 20-60 15zm60-15l60-16 35 20-60 16zm60-16l60-16 35 20-60 16zm60-16l60-18 35 22-60 16z"/>
<path fill="#0000a8" stroke="#000076" d="M4492 4897l60-17 35 22-60 17zm60-17l60-18 35 22-60 18zm60-18l60-19 35 23-60 18z"/>
<path fill="#0000ae" stroke="#000079" d="M4672 4843l60-20 35 24-60 19zm60-20l60-20 35 25-60 19zm60-20l60-21 35 26-60 20z"/>
<path fill="#0000b3" stroke="#00007d" d="M4852 4782l60-21 35 26-60 21zm60-21l60-22 35 26-60 22z"/>
<path fill="#0000b8" stroke="#000081" d="M4972 4739l60-23 35 27-60 22zm60-23l60-24 35 29-60 22z"/>
<path fill="#0000bd" stroke="#000085" d="M5092 4692l60-24 35 30-60 23z"/>
<path fill="#0000bd" stroke="#00006b" d="M5152 4668l61-24 34 30-60 24z"/>
<path fill="#0000c3" stroke="#00006e" d="M5213 4644l60-25 34 31-60 24zm60-25l60-25 34 32-60 24z"/>
<path fill="#0000c8" stroke="#000071" d="M5333 4594l60-26 34 33-60 25z"/>
<path fill="#0000cd" stroke="#000074" d="M5393 4568l60-25 34 34-60 24zm60-25l60-25 34 34-60 25z"/>
<path fill="#0000d2" stroke="#007" d="M5513 4518l60-25 34 35-60 24zm60-25l60-25 34 35-60 25z"/>
<path fill="#0000d8" stroke="#00007a" d="M5633 4468l60-24 34 36-60 23z"/>
<path fill="#0000d8" stroke="#00005f" d="M5693 4444l60-23 34 36-60 23z"/>
<path fill="#00d" stroke="#000062" d="M5753 4421l60-22 35 36-61 22zm60-22l60-21 35 36-60 21z"/>
<path fill="#0000e2" stroke="#000064" d="M5873 4378l60-20 35 36-60 20zm60-20l60-19 35 36-60 19z"/>
<path fill="#0000e7" stroke="#006" d="M5993 4339l60-16 35 35-60 17zm60-16l60-16 35 35-60 16zm60-16l60-13 35 34-60 14zm60-13l60-12 35 33-60 13zm60-12l60-9 35 32-60 10zm60-9l60-5 35 29-60 8zm60-5l60-2 35 28-60 3zm60-2l60 3 35 25-60 0z"/>
<path fill="#0000da" stroke="#000060" d="M6473 4269l60 6 35 23-60-4z"/>
<path fill="#0000ad" stroke="#000039" d="M6533 4275l60 10 35 21-60-8z"/>
<path fill="#00008f" stroke="#000021" d="M6593 4285l60 12 35 20-60-11z"/>
<path fill="#007" stroke="#00001c" d="M6653 4297l60 15 35 19-60-14z"/>
<path fill="#000068" stroke="#00000f" d="M6713 4312l60 15 35 18-60-14z"/>
<path fill="#00005f" stroke="#00000e" d="M6773 4327l60 15 35 18-60-15z"/>
<path fill="#00005c" stroke="#00000d" d="M6833 4342l60 15 35 18-60-15z"/>
<path fill="#00005d" stroke="#00000e" d="M6893 4357l60 14 35 18-60-14z"/>
<path fill="#000061" stroke="#000016" d="M6953 4371l60 13 35 17-60-12z"/>
<path fill="#000067" stroke="#000018" d="M7013 4384l60 10 35 18-60-11z"/>
<path fill="#00006e" stroke="#000024" d="M7073 4394l60 8 35 19-60-9z"/>
<path fill="#000075" stroke="#000027" d="M7133 4402l60 7 35 18-60-6z"/>
<path fill="#00007b" stroke="#000036" d="M7193 4409l60 4 35 18-60-4z"/>
<path fill="#000085" stroke="#00003b" d="M7253 4413l60 2 35 18-60-2z"/>
<path fill="#000089" stroke="#00004e" d="M7313 4415l60 0 35 18-60 0z"/>
<path fill="#000091" stroke="#000052" d="M7373 4415l60-2 35 19-60 1z"/>
<path fill="#000093" stroke="#000067" d="M7433 4413l60-3 35 18-60 4z"/>
<path fill="#000098" stroke="#00006a" d="M7493 4410l60-4 35 18-60 4z"/>
<path fill="#00009c" stroke="#00006d" d="M7553 4406l60-6 35 18-60 6z"/>
<path fill="#009" stroke="#00006b" d="M3147 5224l60-11 34 18-60 11zm60-11l60-11 34 18-60 11zm60-11l60-12 34 18-60 12zm60-12l60-12 34 18-60 12zm60-12l60-12 35 19-61 11zm60-12l60-12 35 19-60 12zm60-12l60-12 35 18-60 13zm60-12l60-12 35 18-60 12zm60-12l60-12 35 18-60 12zm60-12l60-13 35 18-60 13zm60-13l60-13 35 19-60 12zm3781-677l60-4 35 18-60 5zm240-23l60-8 35 18-60 8zm60-8l60-8 35 18-60 8zm60-8l60-9 35 18-60 9zm60-9l60-9 35 18-60 9zm60-9l60-9 35 18-60 9zm60-9l60-9 35 18-60 9zm60-9l60-10 35 19-60 9zm60-10l60-9 35 18-60 10z"/>
<path fill="#00009e" stroke="#00006e" d="M3807 5092l60-13 35 19-60 13zm60-13l60-13 35 19-60 13zm60-13l60-13 35 19-60 13zm60-13l60-14 35 19-60 14zm60-14l60-13 35 19-60 13zm60-13l60-15 35 20-60 14zm60-15l60-14 35 19-60 15zm60-14l60-15 35 20-60 14zm3421-579l60-6 35 18-60 7zm60-6l60-7 35 18-60 7z"/>
<path fill="#0000a3" stroke="#000072" d="M4287 4982l60-15 35 20-60 15zm60-15l60-16 35 21-60 15zm60-16l60-16 35 21-60 16zm60-16l60-16 35 21-60 16zm60-16l60-17 35 21-60 17z"/>
<path fill="#0000a8" stroke="#000076" d="M4587 4902l60-18 35 22-60 17zm60-18l60-18 35 23-60 17zm60-18l60-19 35 23-60 19z"/>
<path fill="#0000ae" stroke="#000079" d="M4767 4847l60-19 35 24-60 18zm60-19l60-20 35 24-60 20zm60-20l60-21 35 25-60 20z"/>
<path fill="#0000b3" stroke="#00007d" d="M4947 4787l60-22 35 27-60 20zm60-22l60-22 35 28-60 21z"/>
<path fill="#0000b8" stroke="#000081" d="M5067 4743l60-22 35 28-60 22zm60-22l60-23 35 29-60 22z"/>
<path fill="#0000bd" stroke="#000085" d="M5187 4698l60-24 35 30-60 23z"/>
<path fill="#0000bd" stroke="#00006b" d="M5247 4674l60-24 35 31-60 23z"/>
<path fill="#0000c3" stroke="#00006e" d="M5307 4650l60-24 35 31-60 24zm60-24l60-25 35 32-60 24z"/>
<path fill="#0000c8" stroke="#000071" d="M5427 4601l60-24 35 33-60 23z"/>
<path fill="#0000cd" stroke="#000074" d="M5487 4577l60-25 35 34-60 24zm60-25l60-24 35 34-60 24z"/>
<path fill="#0000d2" stroke="#007" d="M5607 4528l60-25 35 35-60 24zm60-25l60-23 35 35-60 23z"/>
<path fill="#0000d8" stroke="#00007a" d="M5727 4480l60-23 35 35-60 23z"/>
<path fill="#0000d8" stroke="#00005f" d="M5787 4457l61-22 34 35-60 22z"/>
<path fill="#00d" stroke="#000062" d="M5848 4435l60-21 34 35-60 21zm60-21l60-20 34 35-60 20z"/>
<path fill="#0000e2" stroke="#000064" d="M5968 4394l60-19 34 35-60 19zm60-19l60-17 34 35-60 17zm60-17l60-16 34 35-60 16zm60-16l60-14 34 34-60 15zm240-45l60-3 34 28-60 6zm60-3l60 0 35 26-61 2zm60 0l60 4 35 25-60-3z"/>
<path fill="#0000e7" stroke="#006" d="M6208 4328l60-13 34 34-60 13zm60-13l60-10 34 32-60 12zm60-10l60-8 34 31-60 9z"/>
<path fill="#0000c2" stroke="#000056" d="M6568 4298l60 8 35 23-60-6z"/>
<path fill="#00009b" stroke="#003" d="M6628 4306l60 11 35 21-60-9z"/>
<path fill="#000082" stroke="#00001e" d="M6688 4317l60 14 35 19-60-12z"/>
<path fill="#00006f" stroke="#000010" d="M6748 4331l60 14 35 19-60-14z"/>
<path fill="#000064" stroke="#00000f" d="M6808 4345l60 15 35 19-60-15z"/>
<path fill="#00005f" stroke="#00000e" d="M6868 4360l60 15 35 18-60-14z"/>
<path fill="#00005e" stroke="#00000e" d="M6928 4375l60 14 35 18-60-14z"/>
<path fill="#000062" stroke="#000017" d="M6988 4389l60 12 35 18-60-12z"/>
<path fill="#000067" stroke="#000018" d="M7048 4401l60 11 35 18-60-11z"/>
<path fill="#00006e" stroke="#000024" d="M7108 4412l60 9 35 18-60-9z"/>
<path fill="#000075" stroke="#000026" d="M7168 4421l60 6 35 18-60-6z"/>
<path fill="#00007b" stroke="#000036" d="M7228 4427l60 4 35 19-60-5z"/>
<path fill="#000085" stroke="#00003b" d="M7288 4431l60 2 35 19-60-2z"/>
<path fill="#00008a" stroke="#00004e" d="M7348 4433l60 0 35 19-60 0z"/>
<path fill="#000091" stroke="#000052" d="M7408 4433l60-1 35 18-60 2z"/>
<path fill="#000093" stroke="#000067" d="M7468 4432l60-4 35 19-60 3z"/>
<path fill="#00009d" stroke="#00006e" d="M7588 4424l60-6 35 19-60 5z"/>
<path fill="#009" stroke="#00006b" d="M3181 5242l60-11 35 18-60 12zm60-11l60-11 35 18-60 11zm60-11l60-12 35 18-60 12zm60-12l60-12 35 19-60 11zm60-12l61-11 34 18-60 12zm61-11l60-12 34 18-60 12zm60-12l60-13 34 19-60 12zm60-13l60-12 34 18-60 13zm60-12l60-12 34 18-60 12zm60-12l60-13 34 19-60 12zm60-13l60-12 34 18-60 13zm3781-676l60-5 35 19-60 5zm180-17l60-7 35 18-60 8zm60-7l60-8 35 18-60 8zm60-8l60-8 35 18-60 8zm60-8l60-9 35 19-60 8zm60-9l60-9 35 19-60 9zm60-9l60-9 35 18-60 10zm60-9l60-9 35 18-60 9zm60-9l60-9 35 18-60 9zm60-9l60-10 35 18-60 10z"/>
<path fill="#00009e" stroke="#00006e" d="M3842 5111l60-13 34 18-60 13zm60-13l60-13 34 18-60 13zm60-13l60-13 34 18-60 13zm60-13l60-14 34 19-60 13zm60-14l60-13 35 18-61 14zm60-13l60-14 35 19-60 13zm60-14l60-15 35 20-60 14zm60-15l60-14 35 19-60 15zm3361-574l60-5 35 18-60 6zm60-5l60-7 35 19-60 6z"/>
<path fill="#0000a3" stroke="#000072" d="M4322 5002l60-15 35 20-60 14zm60-15l60-15 35 20-60 15zm60-15l60-16 35 20-60 16zm60-16l60-16 35 21-60 15zm60-16l60-17 35 21-60 17z"/>
<path fill="#0000a8" stroke="#000076" d="M4622 4923l60-17 35 22-60 16zm60-17l60-17 35 22-60 17zm60-17l60-19 35 23-60 18zm60-19l60-18 35 23-60 18z"/>
<path fill="#0000ae" stroke="#000079" d="M4862 4852l60-20 35 24-60 19zm60-20l60-20 35 25-60 19z"/>
<path fill="#0000b3" stroke="#00007d" d="M4982 4812l60-20 35 25-60 20zm60-20l60-21 35 26-60 20zm60-21l60-22 35 27-60 21z"/>
<path fill="#0000b8" stroke="#000081" d="M5162 4749l60-22 35 28-60 21zm60-22l60-23 35 29-60 22z"/>
<path fill="#0000bd" stroke="#000085" d="M5282 4704l60-23 35 30-60 22z"/>
<path fill="#0000bd" stroke="#00006b" d="M5342 4681l60-24 35 31-60 23z"/>
<path fill="#0000c3" stroke="#00006e" d="M5402 4657l60-24 35 32-60 23zm60-24l60-23 35 32-60 23z"/>
<path fill="#0000c8" stroke="#000071" d="M5522 4610l60-24 35 33-60 23z"/>
<path fill="#0000cd" stroke="#000074" d="M5582 4586l60-24 35 34-60 23zm60-24l60-24 35 35-60 23z"/>
<path fill="#0000d2" stroke="#007" d="M5702 4538l60-23 35 35-60 23zm60-23l60-23 35 36-60 22z"/>
<path fill="#0000d8" stroke="#00007a" d="M5822 4492l60-22 35 36-60 22z"/>
<path fill="#0000d8" stroke="#00005f" d="M5882 4470l60-21 35 36-60 21zm60-21l60-20 35 36-60 20z"/>
<path fill="#00d" stroke="#000062" d="M6002 4429l60-19 35 36-60 19zm60-19l60-17 35 35-60 18zm60-17l60-16 35 35-60 16zm421-73l60 3 34 25-60 0z"/>
<path fill="#0000e2" stroke="#000064" d="M6182 4377l60-15 35 34-60 16zm60-15l60-13 35 34-60 13zm60-13l60-12 35 34-60 12zm60-12l60-9 35 32-60 11zm60-9l60-6 35 31-60 7zm60-6l61-2 34 28-60 5z"/>
<path fill="#0000da" stroke="#000060" d="M6603 4323l60 6 34 23-60-4z"/>
<path fill="#0000ac" stroke="#000039" d="M6663 4329l60 9 34 22-60-8z"/>
<path fill="#00008b" stroke="#000020" d="M6723 4338l60 12 34 20-60-10z"/>
<path fill="#007" stroke="#00001c" d="M6783 4350l60 14 34 19-60-13z"/>
<path fill="#000069" stroke="#00000f" d="M6843 4364l60 15 34 18-60-14z"/>
<path fill="#000062" stroke="#00000e" d="M6903 4379l60 14 34 18-60-14z"/>
<path fill="#000060" stroke="#00000e" d="M6963 4393l60 14 34 18-60-14z"/>
<path fill="#000062" stroke="#000017" d="M7023 4407l60 12 34 18-60-12z"/>
<path fill="#000067" stroke="#000018" d="M7083 4419l60 11 35 18-61-11z"/>
<path fill="#00006d" stroke="#000024" d="M7143 4430l60 9 35 18-60-9z"/>
<path fill="#000074" stroke="#000026" d="M7203 4439l60 6 35 19-60-7z"/>
<path fill="#00007b" stroke="#000036" d="M7263 4445l60 5 35 18-60-4z"/>
<path fill="#000085" stroke="#00003b" d="M7323 4450l60 2 35 18-60-2z"/>
<path fill="#00008a" stroke="#00004e" d="M7383 4452l60 0 35 18-60 0z"/>
<path fill="#000092" stroke="#000052" d="M7443 4452l60-2 35 19-60 1z"/>
<path fill="#000094" stroke="#000067" d="M7503 4450l60-3 35 19-60 3z"/>
<path fill="#009" stroke="#00006b" d="M3216 5261l60-12 35 19-60 11zm60-12l60-11 35 18-60 12zm60-11l60-12 35 18-60 12zm60-12l60-11 35 18-60 11zm60-11l60-12 35 18-60 12zm60-12l60-12 35 18-60 12zm60-12l60-12 35 18-60 12zm60-12l60-13 35 19-60 12zm60-13l60-12 35 18-60 13zm60-12l60-12 35 18-60 12zm60-12l60-13 35 18-60 13zm3962-693l60-8 35 19-61 7zm60-8l60-8 35 19-60 8zm60-8l60-8 35 18-60 9zm60-8l60-8 35 18-60 8zm60-8l60-9 35 18-60 9zm60-9l60-10 35 19-60 9zm60-10l60-9 35 18-60 10zm60-9l60-9 35 18-60 9zm60-9l60-10 35 18-60 10z"/>
<path fill="#00009e" stroke="#00006e" d="M3876 5129l60-13 35 19-60 12zm60-13l60-13 35 19-60 13zm60-13l60-13 35 19-60 13zm60-13l60-13 35 19-60 13zm60-13l61-14 34 19-60 14zm61-14l60-13 34 19-60 13zm60-13l60-14 34 19-60 14zm60-14l60-15 34 20-60 14zm3361-575l60-6 34 19-60 6zm60-6l60-6 34 18-60 7z"/>
<path fill="#0000a3" stroke="#000072" d="M4357 5021l60-14 34 19-60 15zm60-14l60-15 34 19-60 15zm60-15l60-16 34 20-60 15zm60-16l60-15 34 20-60 15zm60-15l60-17 34 21-60 16z"/>
<path fill="#0000a8" stroke="#000076" d="M4657 4944l60-16 34 21-60 16zm60-16l60-17 35 22-61 16zm60-17l60-18 35 23-60 17zm60-18l60-18 35 23-60 18z"/>
<path fill="#0000ae" stroke="#000079" d="M4897 4875l60-19 35 24-60 18zm60-19l60-19 35 25-60 18zm60-19l60-20 35 26-60 19z"/>
<path fill="#0000b3" stroke="#00007d" d="M5077 4817l60-20 35 26-60 20zm60-20l60-21 35 27-60 20zm60-21l60-21 35 27-60 21z"/>
<path fill="#0000b8" stroke="#000081" d="M5257 4755l60-22 35 28-60 21zm60-22l60-22 35 29-60 21z"/>
<path fill="#0000bd" stroke="#000085" d="M5377 4711l60-23 35 30-60 22z"/>
<path fill="#0000bd" stroke="#00006b" d="M5437 4688l60-23 35 31-60 22z"/>
<path fill="#0000c3" stroke="#00006e" d="M5497 4665l60-23 35 32-60 22zm60-23l60-23 35 32-60 23z"/>
<path fill="#0000c8" stroke="#000071" d="M5617 4619l60-23 35 33-60 22zm60-23l60-23 35 34-60 22z"/>
<path fill="#0000cd" stroke="#000074" d="M5737 4573l60-23 35 34-60 23zm60-23l60-22 35 35-60 21z"/>
<path fill="#0000d2" stroke="#007" d="M5857 4528l60-22 35 35-60 22zm60-22l60-21 35 36-60 20z"/>
<path fill="#0000d8" stroke="#00007a" d="M5977 4485l60-20 35 36-60 20z"/>
<path fill="#0000d8" stroke="#00005f" d="M6037 4465l60-19 35 36-60 19zm60-19l60-18 35 36-60 18z"/>
<path fill="#00d" stroke="#000062" d="M6157 4428l60-16 35 35-60 17zm60-16l60-16 35 35-60 16zm60-16l60-13 35 34-60 14zm60-13l60-12 35 33-60 13zm60-12l60-11 35 33-60 11zm60-11l60-7 35 31-60 9zm60-7l60-5 35 30-60 6zm60-5l60 0 35 27-60 3zm60 0l60 4 35 25-60-2z"/>
<path fill="#0000c2" stroke="#000056" d="M6697 4352l60 8 35 22-60-5z"/>
<path fill="#00009a" stroke="#003" d="M6757 4360l60 10 35 21-60-9z"/>
<path fill="#00007f" stroke="#00001d" d="M6817 4370l60 13 35 20-60-12z"/>
<path fill="#000070" stroke="#00001a" d="M6877 4383l60 14 35 19-60-13z"/>
<path fill="#006" stroke="#00000f" d="M6937 4397l60 14 35 19-60-14z"/>
<path fill="#000062" stroke="#00000e" d="M6997 4411l60 14 35 18-60-13z"/>
<path fill="#000063" stroke="#000017" d="M7057 4425l60 12 35 18-60-12z"/>
<path fill="#000067" stroke="#000018" d="M7117 4437l61 11 34 18-60-11z"/>
<path fill="#00006d" stroke="#000024" d="M7178 4448l60 9 34 18-60-9z"/>
<path fill="#000074" stroke="#000026" d="M7238 4457l60 7 34 18-60-7z"/>
<path fill="#00007b" stroke="#000036" d="M7298 4464l60 4 34 19-60-5z"/>
<path fill="#000085" stroke="#00003b" d="M7358 4468l60 2 34 19-60-2z"/>
<path fill="#00008a" stroke="#00004e" d="M7418 4470l60 0 34 19-60 0z"/>
<path fill="#000092" stroke="#000053" d="M7478 4470l60-1 34 18-60 2z"/>
<path fill="#000094" stroke="#000068" d="M7538 4469l60-3 34 18-60 3z"/>
<path fill="#00009a" stroke="#00006b" d="M7598 4466l60-5 34 19-60 4z"/>
<path fill="#009" stroke="#00006b" d="M3251 5279l60-11 35 18-60 11zm60-11l60-12 35 18-60 12zm60-12l60-12 35 19-60 11zm60-12l60-11 35 18-60 12zm60-11l60-12 35 18-60 12zm60-12l60-12 35 18-60 12zm60-12l60-12 35 18-60 12zm60-12l60-12 35 18-60 12zm60-12l60-13 35 19-60 12zm60-13l60-12 35 18-60 13zm60-12l60-13 35 19-60 12zm3961-693l61-7 34 18-60 7zm61-7l60-8 34 18-60 8zm60-8l60-9 34 19-60 8zm60-9l60-8 34 18-60 9zm60-8l60-9 34 18-60 9zm60-9l60-9 34 18-60 9zm60-9l60-10 34 18-60 10zm60-10l60-9 34 18-60 9zm60-9l60-10 34 19-60 9z"/>
<path fill="#00009e" stroke="#00006e" d="M3911 5147l60-12 35 18-60 13zm60-12l60-13 35 18-60 13zm60-13l60-13 35 18-60 13zm60-13l60-13 35 18-60 13zm60-13l60-14 35 19-60 13zm60-14l60-13 35 18-60 14zm60-13l60-14 35 19-60 13zm60-14l60-14 35 19-60 14zm60-14l60-15 35 20-60 14zm3361-567l60-7 35 18-60 7z"/>
<path fill="#0000a3" stroke="#000072" d="M4451 5026l60-15 35 20-60 15zm60-15l60-15 35 20-60 15zm60-15l60-15 35 20-60 15zm60-15l60-16 35 21-60 15zm60-16l60-16 35 21-60 16z"/>
<path fill="#0000a8" stroke="#000076" d="M4751 4949l61-16 34 21-60 16zm61-16l60-17 34 22-60 16zm60-17l60-18 34 23-60 17zm60-18l60-18 34 23-60 18z"/>
<path fill="#0000ae" stroke="#000079" d="M4992 4880l60-18 34 24-60 17zm60-18l60-19 34 24-60 19zm60-19l60-20 34 25-60 19z"/>
<path fill="#0000b3" stroke="#00007d" d="M5172 4823l60-20 34 26-60 19zm60-20l60-21 34 27-60 20z"/>
<path fill="#0000b8" stroke="#000081" d="M5292 4782l60-21 34 28-60 20zm60-21l60-21 34 29-60 20zm60-21l60-22 35 30-61 21z"/>
<path fill="#0000bd" stroke="#000085" d="M5472 4718l60-22 35 31-60 21z"/>
<path fill="#0000bd" stroke="#00006b" d="M5532 4696l60-22 35 31-60 22z"/>
<path fill="#0000c3" stroke="#00006e" d="M5592 4674l60-23 35 32-60 22zm60-23l60-22 35 33-60 21z"/>
<path fill="#0000c8" stroke="#000071" d="M5712 4629l60-22 35 33-60 22zm60-22l60-23 35 34-60 22z"/>
<path fill="#0000cd" stroke="#000074" d="M5832 4584l60-21 35 34-60 21zm60-21l60-22 35 35-60 21z"/>
<path fill="#0000d2" stroke="#007" d="M5952 4541l60-20 35 35-60 20zm60-20l60-20 35 35-60 20zm60-20l60-19 35 35-60 19z"/>
<path fill="#0000d8" stroke="#00007a" d="M6132 4482l60-18 35 35-60 18zm600-105l60 5 35 24-60-4z"/>
<path fill="#0000d8" stroke="#00005f" d="M6192 4464l60-17 35 35-60 17zm60-17l60-16 35 35-60 16zm420-72l60 2 35 25-60 1z"/>
<path fill="#00d" stroke="#000062" d="M6312 4431l60-14 35 35-60 14zm60-14l60-13 35 34-60 14zm60-13l60-11 35 33-60 12zm60-11l60-9 35 32-60 10zm60-9l60-6 35 30-60 8zm60-6l60-3 35 28-60 5z"/>
<path fill="#0000ac" stroke="#00004c" d="M6792 4382l60 9 35 22-60-7z"/>
<path fill="#00008a" stroke="#00002d" d="M6852 4391l60 12 35 20-60-10z"/>
<path fill="#000073" stroke="#00001a" d="M6912 4403l60 13 35 19-60-12z"/>
<path fill="#000068" stroke="#000018" d="M6972 4416l60 14 35 18-60-13zm240 50l60 9 35 18-60-9z"/>
<path fill="#000061" stroke="#00000e" d="M7032 4430l60 13 35 18-60-13z"/>
<path fill="#000060" stroke="#000016" d="M7092 4443l60 12 35 18-60-12z"/>
<path fill="#000063" stroke="#000017" d="M7152 4455l60 11 35 18-60-11z"/>
<path fill="#00006f" stroke="#000025" d="M7272 4475l60 7 35 18-60-7z"/>
<path fill="#000076" stroke="#000034" d="M7332 4482l60 5 35 18-60-5z"/>
<path fill="#000081" stroke="#000039" d="M7392 4487l60 2 35 18-60-2z"/>
<path fill="#000086" stroke="#00004c" d="M7452 4489l60 0 35 18-60 0z"/>
<path fill="#00008f" stroke="#000051" d="M7512 4489l60-2 35 19-60 1z"/>
<path fill="#000092" stroke="#006" d="M7572 4487l60-3 35 19-60 3z"/>
<path fill="#000098" stroke="#00006a" d="M7632 4484l60-4 35 18-60 5z"/>
<path fill="#00009d" stroke="#00006e" d="M7692 4480l60-6 35 18-60 6z"/>
<path fill="#009" stroke="#00006b" d="M3286 5297l60-11 35 18-60 11zm60-11l60-12 35 18-60 12zm60-12l60-11 35 18-60 11zm60-11l60-12 35 18-60 12zm60-12l60-12 35 18-60 12zm60-12l60-12 35 18-60 12zm60-12l60-12 35 18-60 12zm60-12l60-12 35 18-60 12zm60-12l60-12 35 18-60 12zm60-12l60-13 35 19-60 12zm60-13l60-12 35 18-60 13zm3961-693l60-7 35 18-60 7zm60-7l60-8 35 18-60 8zm60-8l60-8 35 18-60 8zm60-8l60-9 35 18-60 9zm60-9l60-9 35 18-60 9zm60-9l60-9 35 18-60 9zm60-9l60-10 35 19-60 9zm60-10l60-9 35 18-60 10zm60-9l60-9 35 18-60 9z"/>
<path fill="#00009e" stroke="#00006e" d="M3946 5166l60-13 35 18-60 13zm60-13l60-13 35 19-60 12zm60-13l60-13 35 19-60 13zm60-13l60-13 35 19-60 13zm60-13l60-13 35 19-60 13zm60-13l60-14 35 19-60 14zm60-14l60-13 35 19-60 13zm60-13l60-14 35 19-60 14zm60-14l60-14 35 19-60 14z"/>
<path fill="#0000a3" stroke="#000072" d="M4486 5046l60-15 35 20-60 14zm60-15l60-15 35 20-60 15zm60-15l60-15 35 21-60 14zm60-15l60-15 35 21-60 15zm60-15l60-16 35 21-60 16z"/>
<path fill="#0000a8" stroke="#000076" d="M4786 4970l60-16 35 22-60 15zm60-16l60-16 35 22-60 16zm60-16l60-17 35 22-60 17zm60-17l60-18 35 23-60 17z"/>
<path fill="#0000ae" stroke="#000079" d="M5026 4903l60-17 35 23-60 17zm60-17l60-19 35 25-60 17zm60-19l60-19 35 25-60 19zm60-19l60-19 35 26-60 18z"/>
<path fill="#0000b3" stroke="#00007d" d="M5266 4829l60-20 35 27-60 19zm60-20l60-20 35 28-60 19z"/>
<path fill="#0000b8" stroke="#000081" d="M5386 4789l60-20 35 28-60 20zm60-20l61-21 34 29-60 20zm61-21l60-21 34 29-60 21z"/>
<path fill="#0000bd" stroke="#000085" d="M5567 4727l60-22 34 31-60 20z"/>
<path fill="#0000bd" stroke="#00006b" d="M5627 4705l60-22 34 32-60 21z"/>
<path fill="#0000c3" stroke="#00006e" d="M5687 4683l60-21 34 32-60 21zm60-21l60-22 34 33-60 21z"/>
<path fill="#0000c8" stroke="#000071" d="M5807 4640l60-22 34 34-60 21zm60-22l60-21 34 34-60 21z"/>
<path fill="#0000cd" stroke="#000074" d="M5927 4597l60-21 34 35-60 20zm60-21l60-20 34 35-60 20zm60-20l60-20 35 35-61 20z"/>
<path fill="#0000d2" stroke="#007" d="M6107 4536l60-19 35 36-60 18zm60-19l60-18 35 36-60 18zm60-18l60-17 35 36-60 17zm540-97l60 4 35 24-60 0z"/>
<path fill="#0000d8" stroke="#00007a" d="M6287 4482l60-16 35 35-60 17zm60-16l60-14 35 35-60 14zm360-63l60-1 35 28-60 3z"/>
<path fill="#0000d8" stroke="#00005f" d="M6407 4452l60-14 35 35-60 14zm60-14l60-12 35 34-60 13zm60-12l60-10 35 33-60 11zm60-10l60-8 35 32-60 9zm60-8l60-5 35 30-60 7z"/>
<path fill="#0000bf" stroke="#000054" d="M6827 4406l60 7 35 22-60-5z"/>
<path fill="#000094" stroke="#000031" d="M6887 4413l60 10 35 20-60-8z"/>
<path fill="#000075" stroke="#00001b" d="M6947 4423l60 12 35 18-60-10z"/>
<path fill="#000061" stroke="#00000e" d="M7007 4435l60 13 35 16-60-11z"/>
<path fill="#000058" stroke="#00000d" d="M7067 4448l60 13 35 16-60-13zm180 36l60 9 35 15-60-9z"/>
<path fill="#000054" stroke="#00000c" d="M7127 4461l60 12 35 15-60-11zm60 12l60 11 35 15-60-11z"/>
<path fill="#00005e" stroke="#000016" d="M7307 4493l60 7 35 15-60-7z"/>
<path fill="#006" stroke="#002" d="M7367 4500l60 5 35 15-60-5z"/>
<path fill="#000071" stroke="#000025" d="M7427 4505l60 2 35 16-60-3z"/>
<path fill="#000079" stroke="#000035" d="M7487 4507l60 0 35 17-60-1z"/>
<path fill="#000083" stroke="#00004a" d="M7547 4507l60-1 35 17-60 1z"/>
<path fill="#008" stroke="#00004d" d="M7607 4506l60-3 35 17-60 3z"/>
<path fill="#000090" stroke="#000065" d="M7667 4503l60-5 35 17-60 5z"/>
<path fill="#000097" stroke="#00006a" d="M7727 4498l60-6 35 18-60 5z"/>
<path fill="#00009c" stroke="#00006d" d="M7787 4492l60-7 35 18-60 7z"/>
<path fill="#009" stroke="#00006b" d="M3321 5315l60-11 34 18-60 11zm60-11l60-12 34 19-60 11zm60-12l60-11 34 18-60 12zm60-11l60-12 34 18-60 12zm60-12l60-12 34 18-60 12zm60-12l60-12 34 19-60 11zm60-12l60-12 34 18-60 13zm60-12l60-12 35 18-61 12zm60-12l60-12 35 18-60 12zm60-12l60-12 35 18-60 12zm60-12l60-13 35 18-60 13zm4021-701l60-8 35 18-60 8zm60-8l60-8 35 18-60 8zm60-8l60-9 35 18-60 9zm60-9l60-9 35 18-60 9zm60-9l60-9 35 18-60 9zm60-9l60-9 35 18-60 9zm60-9l60-10 35 18-60 10zm60-10l60-9 35 18-60 9z"/>
<path fill="#00009e" stroke="#00006e" d="M3981 5184l60-13 35 19-60 12zm60-13l60-12 35 18-60 13zm60-12l60-13 35 18-60 13zm60-13l60-13 35 18-60 13zm60-13l60-13 35 18-60 13zm60-13l60-14 35 19-60 13zm60-14l60-13 35 19-60 13zm60-13l60-14 35 19-60 14zm60-14l60-14 35 19-60 14z"/>
<path fill="#0000a3" stroke="#000072" d="M4521 5065l60-14 35 19-60 14zm60-14l60-15 35 20-60 14zm60-15l60-14 35 20-60 14zm60-14l60-15 35 20-60 15zm60-15l60-16 35 21-60 15zm60-16l60-15 35 21-60 15z"/>
<path fill="#0000a8" stroke="#000076" d="M4881 4976l60-16 35 21-60 16zm60-16l60-17 35 22-60 16zm60-17l60-17 35 23-60 16zm60-17l60-17 35 23-60 17z"/>
<path fill="#0000ae" stroke="#000079" d="M5121 4909l60-17 35 23-60 17zm60-17l60-19 35 25-60 17zm60-19l60-18 35 25-60 18z"/>
<path fill="#0000b3" stroke="#00007d" d="M5301 4855l60-19 35 26-60 18zm60-19l60-19 35 26-60 19zm60-19l60-20 35 27-60 19z"/>
<path fill="#0000b8" stroke="#000081" d="M5481 4797l60-20 35 28-60 19zm60-20l60-21 35 29-60 20zm60-21l60-20 35 30-60 19z"/>
<path fill="#0000bd" stroke="#000085" d="M5661 4736l60-21 35 31-60 20z"/>
<path fill="#0000bd" stroke="#00006b" d="M5721 4715l60-21 35 31-60 21z"/>
<path fill="#0000c3" stroke="#00006e" d="M5781 4694l60-21 35 32-60 20zm60-21l60-21 35 33-60 20zm60-21l60-21 35 34-60 20z"/>
<path fill="#0000c8" stroke="#000071" d="M5961 4631l60-20 35 34-60 20zm60-20l60-20 35 34-60 20z"/>
<path fill="#0000cd" stroke="#000074" d="M6081 4591l61-20 34 35-60 19zm61-20l60-18 34 35-60 18zm60-18l60-18 34 35-60 18z"/>
<path fill="#0000d2" stroke="#007" d="M6262 4535l60-17 34 35-60 17zm60-17l60-17 34 36-60 16zm60-17l60-14 34 35-60 15zm60-14l60-14 34 34-60 15zm60-14l60-13 34 35-60 12zm240-40l60-3 35 28-61 6zm60-3l60 0 35 26-60 2zm60 0l60 5 35 23-60-2z"/>
<path fill="#0000d8" stroke="#00007a" d="M6562 4460l60-11 34 34-60 12zm60-11l60-9 34 32-60 11zm60-9l60-7 34 31-60 8z"/>
<path fill="#0000a8" stroke="#00004a" d="M6922 4435l60 8 35 20-60-5z"/>
<path fill="#000081" stroke="#00002b" d="M6982 4443l60 10 35 18-60-8z"/>
<path fill="#006" stroke="#000017" d="M7042 4453l60 11 35 17-60-10z"/>
<path fill="#000057" stroke="#00000d" d="M7102 4464l60 13 35 14-60-10z"/>
<path fill="#00004d" stroke="#00000b" d="M7162 4477l60 11 35 14-60-11z"/>
<path fill="#00004a" stroke="#00000b" d="M7222 4488l60 11 35 14-60-11z"/>
<path fill="#00004b" stroke="#00000b" d="M7282 4499l60 9 35 14-60-9z"/>
<path fill="#000050" stroke="#00000c" d="M7342 4508l60 7 35 14-60-7z"/>
<path fill="#000057" stroke="#000014" d="M7402 4515l60 5 35 14-60-5z"/>
<path fill="#000063" stroke="#000021" d="M7462 4520l60 3 35 15-60-4z"/>
<path fill="#00006b" stroke="#000023" d="M7522 4523l60 1 35 15-60-1z"/>
<path fill="#007" stroke="#000035" d="M7582 4524l60-1 35 15-60 1z"/>
<path fill="#00007e" stroke="#000047" d="M7642 4523l60-3 35 16-60 2z"/>
<path fill="#008" stroke="#00004d" d="M7702 4520l60-5 35 17-60 4z"/>
<path fill="#000090" stroke="#000065" d="M7762 4515l60-5 35 17-60 5z"/>
<path fill="#000097" stroke="#000069" d="M7822 4510l60-7 35 18-60 6z"/>
<path fill="#000097" stroke="#00006a" d="M7882 4503l60-7 35 18-60 7z"/>
<path fill="#009" stroke="#00006b" d="M3355 5333l60-11 35 18-60 11zm60-11l60-11 35 18-60 11zm60-11l60-12 35 18-60 12zm60-12l60-12 35 18-60 12zm60-12l60-12 35 19-60 11zm60-12l60-11 35 18-60 12zm60-11l60-13 35 19-60 12zm60-13l61-12 34 19-60 12zm61-12l60-12 34 18-60 13zm60-12l60-12 34 18-60 12zm60-12l60-13 34 19-60 12zm4021-701l60-8 35 17-60 8zm60-8l60-8 35 17-60 8zm60-8l60-9 35 18-60 8zm60-9l60-9 35 18-60 9zm60-9l60-9 35 18-60 9zm60-9l60-9 35 18-60 9zm60-9l60-10 35 18-60 10zm60-10l60-9 35 18-60 9z"/>
<path fill="#00009e" stroke="#00006e" d="M4016 5202l60-12 34 18-60 13zm60-12l60-13 34 19-60 12zm60-13l60-13 34 19-60 13zm60-13l60-13 34 19-60 13zm60-13l60-13 34 19-60 13zm60-13l60-13 34 19-60 13zm60-13l60-13 34 18-60 14zm60-13l60-14 35 19-61 13zm60-14l60-14 35 19-60 14zm60-14l60-14 35 20-60 13z"/>
<path fill="#0000a3" stroke="#000072" d="M4616 5070l60-14 35 20-60 14zm60-14l60-14 35 19-60 15zm60-14l60-15 35 20-60 14zm60-15l60-15 35 20-60 15zm60-15l60-15 35 21-60 14zm60-15l60-16 35 21-60 16z"/>
<path fill="#0000a8" stroke="#000076" d="M4976 4981l60-16 35 22-60 15zm60-16l60-16 35 22-60 16zm60-16l60-17 35 23-60 16zm60-17l60-17 35 24-60 16z"/>
<path fill="#0000ae" stroke="#000079" d="M5216 4915l60-17 35 24-60 17zm60-17l60-18 35 25-60 17zm60-18l60-18 35 25-60 18z"/>
<path fill="#0000b3" stroke="#00007d" d="M5396 4862l60-19 35 26-60 18zm60-19l60-19 35 27-60 18zm60-19l60-19 35 28-60 18z"/>
<path fill="#0000b8" stroke="#000081" d="M5576 4805l60-20 35 29-60 19zm60-20l60-19 35 29-60 19zm60-19l60-20 35 30-60 19z"/>
<path fill="#0000bd" stroke="#000085" d="M5756 4746l60-21 35 31-60 20z"/>
<path fill="#0000bd" stroke="#00006b" d="M5816 4725l60-20 35 32-60 19zm60-20l60-20 35 32-60 20z"/>
<path fill="#0000c3" stroke="#00006e" d="M5936 4685l60-20 35 33-60 19zm60-20l60-20 35 33-60 20z"/>
<path fill="#0000c8" stroke="#000071" d="M6056 4645l60-20 35 34-60 19zm60-20l60-19 35 35-60 18zm60-19l60-18 35 35-60 18z"/>
<path fill="#0000cd" stroke="#000074" d="M6236 4588l60-18 35 35-60 18zm60-18l60-17 35 35-60 17zm60-17l60-16 35 35-60 16zm60-16l60-15 35 35-60 15zm481-81l60 2 34 25-60 1z"/>
<path fill="#0000d2" stroke="#007" d="M6476 4522l60-15 35 35-60 15zm60-15l60-12 35 34-60 13zm60-12l60-12 35 34-60 12zm60-12l60-11 35 34-60 11zm60-11l60-8 35 32-60 10zm60-8l61-6 34 31-60 7zm61-6l60-2 34 28-60 5z"/>
<path fill="#0000c9" stroke="#000072" d="M6957 4458l60 5 34 22-60-2z"/>
<path fill="#00009c" stroke="#000045" d="M7017 4463l60 8 34 19-60-5z"/>
<path fill="#00007a" stroke="#00001c" d="M7077 4471l60 10 34 17-60-8z"/>
<path fill="#000065" stroke="#000017" d="M7137 4481l60 10 34 16-60-9z"/>
<path fill="#000056" stroke="#00000d" d="M7197 4491l60 11 34 15-60-10z"/>
<path fill="#00004f" stroke="#00000b" d="M7257 4502l60 11 34 13-60-9z"/>
<path fill="#00004d" stroke="#00000b" d="M7317 4513l60 9 34 13-60-9z"/>
<path fill="#00004f" stroke="#00000c" d="M7377 4522l60 7 35 13-61-7z"/>
<path fill="#000057" stroke="#000014" d="M7437 4529l60 5 35 14-60-6z"/>
<path fill="#00005e" stroke="#000016" d="M7497 4534l60 4 35 14-60-4z"/>
<path fill="#006" stroke="#002" d="M7557 4538l60 1 35 15-60-2z"/>
<path fill="#000072" stroke="#000032" d="M7617 4539l60-1 35 16-60 0z"/>
<path fill="#00007d" stroke="#000037" d="M7677 4538l60-2 35 16-60 2z"/>
<path fill="#000083" stroke="#00004a" d="M7737 4536l60-4 35 16-60 4z"/>
<path fill="#00008c" stroke="#00004f" d="M7797 4532l60-5 35 17-60 4z"/>
<path fill="#000094" stroke="#000067" d="M7857 4527l60-6 35 17-60 6z"/>
<path fill="#00009a" stroke="#00006c" d="M7917 4521l60-7 35 17-60 7z"/>
<path fill="#009" stroke="#00006b" d="M3390 5351l60-11 35 18-60 12zm60-11l60-11 35 18-60 11zm60-11l60-12 35 18-60 12zm60-12l60-12 35 19-60 11zm60-12l60-11 35 18-60 12zm60-11l60-12 35 18-60 12zm60-12l60-12 35 18-60 12zm60-12l60-12 35 18-60 12zm60-12l60-13 35 19-60 12zm60-13l60-12 35 18-60 13zm60-12l60-12 35 18-60 12zm4082-710l60-8 35 18-61 8zm60-8l60-8 35 18-60 8zm60-8l60-9 35 18-60 9zm60-9l60-9 35 18-60 9zm60-9l60-9 35 18-60 9zm60-9l60-10 35 19-60 9zm60-10l60-9 35 18-60 10z"/>
<path fill="#00009e" stroke="#00006e" d="M4050 5221l60-13 35 19-60 12zm60-13l60-12 35 18-60 13zm60-12l60-13 35 18-60 13zm60-13l60-13 35 19-60 12zm60-13l60-13 35 19-60 13zm60-13l60-13 35 19-60 13zm60-13l60-14 35 19-60 14zm60-14l61-13 34 19-60 13zm61-13l60-14 34 20-60 13zm60-14l60-13 34 19-60 14z"/>
<path fill="#0000a3" stroke="#000072" d="M4651 5090l60-14 34 19-60 14zm60-14l60-15 34 20-60 14zm60-15l60-14 34 20-60 14zm60-14l60-15 34 21-60 14zm60-15l60-14 34 20-60 15zm60-14l60-16 34 21-60 15z"/>
<path fill="#0000a8" stroke="#000076" d="M5011 5002l60-15 34 21-60 15zm60-15l60-16 35 22-61 15zm60-16l60-16 35 22-60 16zm60-16l60-16 35 23-60 15zm60-16l60-17 35 23-60 17z"/>
<path fill="#0000ae" stroke="#000079" d="M5311 4922l60-17 35 24-60 16zm60-17l60-18 35 25-60 17zm60-18l60-18 35 26-60 17z"/>
<path fill="#0000b3" stroke="#00007d" d="M5491 4869l60-18 35 26-60 18zm60-18l60-18 35 27-60 17zm60-18l60-19 35 28-60 18z"/>
<path fill="#0000b8" stroke="#000081" d="M5671 4814l60-19 35 28-60 19zm60-19l60-19 35 29-60 18zm60-19l60-20 35 30-60 19z"/>
<path fill="#0000bd" stroke="#000085" d="M5851 4756l60-19 35 31-60 18zm60-19l60-20 35 32-60 19z"/>
<path fill="#0000bd" stroke="#00006b" d="M5971 4717l60-19 35 32-60 19z"/>
<path fill="#0000c3" stroke="#00006e" d="M6031 4698l60-20 35 33-60 19zm60-20l60-19 35 34-60 18zm60-19l60-18 35 34-60 18z"/>
<path fill="#0000c8" stroke="#000071" d="M6211 4641l60-18 35 34-60 18zm60-18l60-18 35 35-60 17zm60-18l60-17 35 35-60 17z"/>
<path fill="#0000cd" stroke="#000074" d="M6391 4588l60-16 35 35-60 16zm60-16l60-15 35 35-60 15zm60-15l60-15 35 35-60 15zm60-15l60-13 35 35-60 13zm60-13l60-12 35 34-60 13zm60-12l60-11 35 34-60 11zm60-11l60-10 35 33-60 11zm60-10l60-7 35 31-60 9zm60-7l60-5 35 30-60 6zm60-5l60-1 35 27-60 4zm60-1l60 2 35 24-60 1z"/>
<path fill="#0000be" stroke="#00006b" d="M7051 4485l60 5 35 22-60-3z"/>
<path fill="#000096" stroke="#000042" d="M7111 4490l60 8 35 19-60-5z"/>
<path fill="#00007b" stroke="#00001c" d="M7171 4498l60 9 35 17-60-7z"/>
<path fill="#000067" stroke="#000018" d="M7231 4507l60 10 35 16-60-9z"/>
<path fill="#00005b" stroke="#00000d" d="M7291 4517l60 9 35 15-60-8z"/>
<path fill="#005" stroke="#00000c" d="M7351 4526l60 9 35 14-60-8z"/>
<path fill="#000054" stroke="#000013" d="M7411 4535l61 7 34 14-60-7z"/>
<path fill="#000059" stroke="#000015" d="M7472 4542l60 6 34 14-60-6z"/>
<path fill="#00005e" stroke="#000016" d="M7532 4548l60 4 34 14-60-4z"/>
<path fill="#000068" stroke="#002" d="M7592 4552l60 2 34 14-60-2z"/>
<path fill="#00006f" stroke="#000025" d="M7652 4554l60 0 34 15-60-1z"/>
<path fill="#00007a" stroke="#000036" d="M7712 4554l60-2 34 15-60 2z"/>
<path fill="#000080" stroke="#000048" d="M7772 4552l60-4 34 16-60 3z"/>
<path fill="#000089" stroke="#00004e" d="M7832 4548l60-4 34 16-60 4z"/>
<path fill="#000091" stroke="#000065" d="M7892 4544l60-6 34 17-60 5z"/>
<path fill="#000098" stroke="#00006a" d="M7952 4538l60-7 34 17-60 7zm60-7l60-8 34 18-60 7z"/>
<path fill="#009" stroke="#00006b" d="M3425 5370l60-12 35 19-60 11zm60-12l60-11 35 18-60 12zm60-11l60-12 35 19-60 11zm60-12l60-11 35 18-60 12zm60-11l60-12 35 18-60 12zm60-12l60-12 35 18-60 12zm60-12l60-12 35 18-60 12zm60-12l60-12 35 18-60 12zm60-12l60-12 35 18-60 12zm60-12l60-13 35 19-60 12zm60-13l60-12 35 18-60 13zm4081-710l61-8 34 18-60 8zm61-8l60-8 34 18-60 8zm60-8l60-9 34 18-60 9zm60-9l60-9 34 18-60 9zm60-9l60-9 34 18-60 9zm60-9l60-9 34 18-60 9zm60-9l60-10 34 18-60 10z"/>
<path fill="#00009e" stroke="#00006e" d="M4085 5239l60-12 35 18-60 12zm60-12l60-13 35 18-60 13zm60-13l60-13 35 19-60 12zm60-13l60-12 35 18-60 13zm60-12l60-13 35 18-60 13zm60-13l60-13 35 18-60 13zm60-13l60-14 35 19-60 13zm60-14l60-13 35 19-60 13zm60-13l60-13 35 19-60 13zm60-13l60-14 35 19-60 14z"/>
<path fill="#0000a3" stroke="#000072" d="M4685 5109l60-14 35 20-60 13zm60-14l60-14 35 20-60 14zm60-14l60-14 35 20-60 14zm60-14l60-14 35 20-60 14zm60-14l60-15 35 21-60 14zm60-15l60-15 35 21-60 15zm60-15l60-15 35 21-60 15z"/>
<path fill="#0000a8" stroke="#000076" d="M5105 5008l61-15 34 22-60 14zm61-15l60-16 34 22-60 16zm60-16l60-15 34 22-60 15zm60-15l60-17 34 23-60 16zm60-17l60-16 34 24-60 15z"/>
<path fill="#0000ae" stroke="#000079" d="M5406 4929l60-17 34 24-60 17zm60-17l60-17 34 25-60 16zm60-17l60-18 34 26-60 17z"/>
<path fill="#0000b3" stroke="#00007d" d="M5586 4877l60-17 34 26-60 17zm60-17l60-18 34 27-60 17zm60-18l60-19 34 28-60 18zm60-19l60-18 35 29-61 17z"/>
<path fill="#0000b8" stroke="#000081" d="M5826 4805l60-19 35 30-60 18zm60-19l60-18 35 30-60 18zm60-18l60-19 35 31-60 18z"/>
<path fill="#0000bd" stroke="#000085" d="M6006 4749l60-19 35 32-60 18z"/>
<path fill="#0000bd" stroke="#00006b" d="M6066 4730l60-19 35 33-60 18zm60-19l60-18 35 33-60 18z"/>
<path fill="#0000c3" stroke="#00006e" d="M6186 4693l60-18 35 33-60 18zm60-18l60-18 35 34-60 17zm60-18l60-17 35 34-60 17z"/>
<path fill="#0000c8" stroke="#000071" d="M6366 4640l60-17 35 35-60 16zm60-17l60-16 35 35-60 16zm60-16l60-15 35 35-60 15zm60-15l60-15 35 35-60 15zm60-15l60-13 35 34-60 14zm360-63l60-4 35 29-60 6zm60-4l60-1 35 27-60 3zm60-1l60 3 35 24-60 0z"/>
<path fill="#0000cd" stroke="#000074" d="M6666 4564l60-13 35 35-60 12zm60-13l60-11 35 34-60 12zm60-11l60-11 35 34-60 11zm60-11l60-9 35 33-60 10zm60-9l60-6 35 31-60 8z"/>
<path fill="#0000b5" stroke="#006" d="M7146 4512l60 5 35 22-60-3z"/>
<path fill="#000096" stroke="#000042" d="M7206 4517l60 7 35 20-60-5z"/>
<path fill="#00007c" stroke="#000029" d="M7266 4524l60 9 35 17-60-6z"/>
<path fill="#00006a" stroke="#000018" d="M7326 4533l60 8 35 16-60-7z"/>
<path fill="#000060" stroke="#000016" d="M7386 4541l60 8 35 15-60-7zm180 21l60 4 35 15-60-5z"/>
<path fill="#00005e" stroke="#000016" d="M7446 4549l60 7 35 15-60-7z"/>
<path fill="#00005d" stroke="#000016" d="M7506 4556l60 6 35 14-60-5z"/>
<path fill="#000068" stroke="#002" d="M7626 4566l60 2 35 15-60-2z"/>
<path fill="#00006e" stroke="#000024" d="M7686 4568l60 1 35 15-60-1z"/>
<path fill="#000078" stroke="#000035" d="M7746 4569l60-2 35 16-60 1z"/>
<path fill="#00007e" stroke="#000047" d="M7806 4567l60-3 35 17-60 2z"/>
<path fill="#000087" stroke="#00004c" d="M7866 4564l60-4 35 17-60 4z"/>
<path fill="#00008f" stroke="#000064" d="M7926 4560l60-5 35 17-60 5z"/>
<path fill="#000096" stroke="#000069" d="M7986 4555l60-7 35 17-60 7zm60-7l60-7 35 18-60 6z"/>
<path fill="#009" stroke="#00006b" d="M3460 5388l60-11 35 18-60 11zm60-11l60-12 35 19-60 11zm60-12l60-11 35 18-60 12zm60-11l60-12 35 18-60 12zm60-12l60-12 35 18-60 12zm60-12l60-12 35 19-60 11zm60-12l60-12 35 19-60 12zm60-12l60-12 35 19-60 12zm60-12l60-12 35 18-60 13zm60-12l60-12 35 18-60 12zm60-12l60-13 35 19-60 12zm60-13l60-12 35 19-60 12zm4021-698l60-8 35 18-60 7zm60-8l60-8 35 18-60 8zm60-8l60-9 35 18-60 9zm60-9l60-9 35 18-60 9zm60-9l60-9 35 18-60 9zm60-9l60-9 35 18-60 9zm60-9l60-10 35 18-60 10z"/>
<path fill="#00009e" stroke="#00006e" d="M4180 5245l60-13 35 19-60 13zm60-13l60-12 35 18-60 13zm60-12l60-13 35 19-60 12zm60-13l60-13 35 19-60 13zm60-13l60-13 35 19-60 13zm60-13l60-13 35 19-60 13zm60-13l60-13 35 19-60 13zm60-13l60-13 35 19-60 13zm60-13l60-14 35 19-60 14zm60-14l60-13 35 19-60 13z"/>
<path fill="#0000a3" stroke="#000072" d="M4780 5115l60-14 35 19-60 14zm60-14l60-14 35 20-60 13zm60-14l60-14 35 20-60 14zm60-14l60-14 35 20-60 14zm60-14l60-15 35 21-60 14zm60-15l60-15 35 21-60 15z"/>
<path fill="#0000a8" stroke="#000076" d="M5140 5029l60-14 35 21-60 14zm60-14l60-16 35 22-60 15zm60-16l60-15 35 22-60 15zm60-15l60-16 35 23-60 15zm60-16l60-15 35 23-60 15z"/>
<path fill="#0000ae" stroke="#000079" d="M5440 4953l60-17 35 24-60 16zm60-17l60-16 35 24-60 16zm60-16l60-17 35 25-60 16zm60-17l60-17 35 26-60 16zm60-17l60-17 35 26-60 17z"/>
<path fill="#0000b3" stroke="#00007d" d="M5740 4869l60-18 35 28-60 16zm60-18l61-17 34 28-60 17zm61-17l60-18 34 29-60 17z"/>
<path fill="#0000b8" stroke="#000081" d="M5921 4816l60-18 34 30-60 17zm60-18l60-18 34 30-60 18zm60-18l60-18 34 31-60 17z"/>
<path fill="#0000bd" stroke="#000085" d="M6101 4762l60-18 34 32-60 17zm60-18l60-18 34 32-60 18z"/>
<path fill="#0000bd" stroke="#00006b" d="M6221 4726l60-18 34 33-60 17zm60-18l60-17 34 34-60 16z"/>
<path fill="#0000c3" stroke="#00006e" d="M6341 4691l60-17 34 34-60 17zm60-17l60-16 35 34-61 16zm60-16l60-16 35 34-60 16zm60-16l60-15 35 34-60 15zm600-106l60 0 35 26-60 2zm60 0l60 3 35 23-60 0z"/>
<path fill="#0000c8" stroke="#000071" d="M6581 4627l60-15 35 35-60 14zm60-15l60-14 35 35-60 14zm60-14l60-12 35 34-60 13zm60-12l60-12 35 34-60 12zm60-12l60-11 35 34-60 11zm60-11l60-10 35 33-60 11zm60-10l60-8 35 32-60 9zm60-8l60-6 35 31-60 7zm60-6l60-3 35 28-60 6z"/>
<path fill="#0000b3" stroke="#000065" d="M7241 4539l60 5 35 21-60-3z"/>
<path fill="#000094" stroke="#000041" d="M7301 4544l60 6 35 19-60-4z"/>
<path fill="#00007d" stroke="#000029" d="M7361 4550l60 7 35 18-60-6z"/>
<path fill="#000071" stroke="#000025" d="M7421 4557l60 7 35 17-60-6z"/>
<path fill="#000068" stroke="#000018" d="M7481 4564l60 7 35 15-60-5z"/>
<path fill="#000064" stroke="#000017" d="M7541 4571l60 5 35 16-60-6z"/>
<path fill="#000064" stroke="#000021" d="M7601 4576l60 5 35 15-60-4z"/>
<path fill="#00006a" stroke="#000023" d="M7661 4581l60 2 35 15-60-2z"/>
<path fill="#00006e" stroke="#000024" d="M7721 4583l60 1 35 15-60-1z"/>
<path fill="#007" stroke="#000035" d="M7781 4584l60-1 35 16-60 0z"/>
<path fill="#00007c" stroke="#000046" d="M7841 4583l60-2 35 16-60 2z"/>
<path fill="#000085" stroke="#00004b" d="M7901 4581l60-4 35 16-60 4z"/>
<path fill="#00008d" stroke="#00004f" d="M7961 4577l60-5 35 16-60 5z"/>
<path fill="#000094" stroke="#000067" d="M8021 4572l60-7 35 18-60 5z"/>
<path fill="#000095" stroke="#000068" d="M8081 4565l60-6 35 17-60 7z"/>
<path fill="#009" stroke="#00006b" d="M3495 5406l60-11 34 18-60 11zm60-11l60-11 34 18-60 11zm60-11l60-12 34 18-60 12zm60-12l60-12 34 19-60 11zm60-12l60-12 34 19-60 12zm60-12l60-11 34 18-60 12zm60-11l60-12 34 18-60 12zm60-12l60-12 34 18-60 12zm60-12l60-13 34 19-60 12zm60-13l60-12 35 19-61 12zm60-12l60-12 35 18-60 13zm60-12l60-12 35 18-60 12zm4081-707l60-8 35 17-60 8zm60-8l60-9 35 18-60 8zm60-9l60-9 35 18-60 9zm60-9l60-9 35 18-60 9zm60-9l60-9 35 18-60 9zm60-9l60-10 35 19-60 9z"/>
<path fill="#00009e" stroke="#00006e" d="M4215 5264l60-13 35 19-60 12zm60-13l60-13 35 19-60 13zm60-13l60-12 35 18-60 13zm60-12l60-13 35 19-60 12zm60-13l60-13 35 19-60 13zm60-13l60-13 35 19-60 13zm60-13l60-13 35 19-60 13zm60-13l60-13 35 19-60 13zm60-13l60-14 35 20-60 13zm60-14l60-13 35 19-60 14z"/>
<path fill="#0000a3" stroke="#000072" d="M4815 5134l60-14 35 20-60 13zm60-14l60-13 35 19-60 14zm60-13l60-14 35 20-60 13zm60-14l60-14 35 20-60 14zm60-14l60-14 35 20-60 14zm60-14l60-15 35 21-60 14zm60-15l60-14 35 21-60 14z"/>
<path fill="#0000a8" stroke="#000076" d="M5235 5036l60-15 35 22-60 14zm60-15l60-15 35 22-60 15zm60-15l60-15 35 22-60 15zm60-15l60-15 35 23-60 14zm60-15l60-16 35 24-60 15z"/>
<path fill="#0000ae" stroke="#000079" d="M5535 4960l60-16 35 24-60 16zm60-16l60-16 35 25-60 15zm60-16l60-16 35 25-60 16zm60-16l60-17 35 26-60 16zm60-17l60-16 35 26-60 16z"/>
<path fill="#0000b3" stroke="#00007d" d="M5835 4879l60-17 35 27-60 16zm60-17l60-17 35 28-60 16zm60-17l60-17 35 28-60 17zm60-17l60-18 35 30-60 16z"/>
<path fill="#0000b8" stroke="#000081" d="M6075 4810l60-17 35 30-60 17zm60-17l60-17 35 31-60 16zm60-17l60-18 35 32-60 17z"/>
<path fill="#0000bd" stroke="#000085" d="M6255 4758l60-17 35 33-60 16zm60-17l60-16 35 32-60 17z"/>
<path fill="#0000bd" stroke="#00006b" d="M6375 4725l60-17 35 33-60 16zm60-17l61-16 34 34-60 15zm841-146l60 3 35 23-60 0z"/>
<path fill="#0000c3" stroke="#00006e" d="M6496 4692l60-16 34 34-60 16zm60-16l60-15 34 35-60 14zm60-15l60-14 34 34-60 15zm60-14l60-14 34 35-60 13zm60-14l60-13 34 35-60 13zm60-13l60-12 34 34-60 13zm60-12l60-11 34 34-60 11zm60-11l60-11 34 34-60 11zm60-11l60-9 34 33-60 10zm60-9l60-7 34 32-60 8zm60-7l60-6 35 31-61 7zm60-6l60-2 35 28-60 5zm60-2l60 0 35 26-60 2z"/>
<path fill="#0000af" stroke="#000063" d="M7336 4565l60 4 35 21-60-2z"/>
<path fill="#000093" stroke="#000041" d="M7396 4569l60 6 35 19-60-4z"/>
<path fill="#000083" stroke="#00002b" d="M7456 4575l60 6 35 17-60-4z"/>
<path fill="#000076" stroke="#000027" d="M7516 4581l60 5 35 17-60-5z"/>
<path fill="#00006e" stroke="#000024" d="M7576 4586l60 6 35 16-60-5zm60 6l60 4 35 15-60-3zm60 4l60 2 35 16-60-3z"/>
<path fill="#000070" stroke="#000025" d="M7756 4598l60 1 35 16-60-1z"/>
<path fill="#007" stroke="#000035" d="M7816 4599l60 0 35 16-60 0z"/>
<path fill="#00007f" stroke="#000038" d="M7876 4599l60-2 35 16-60 2z"/>
<path fill="#000083" stroke="#00004a" d="M7936 4597l60-4 35 17-60 3z"/>
<path fill="#00008b" stroke="#00004f" d="M7996 4593l60-5 35 17-60 5z"/>
<path fill="#000092" stroke="#006" d="M8056 4588l60-5 35 17-60 5z"/>
<path fill="#000098" stroke="#00006a" d="M8116 4583l60-7 35 17-60 7zm60-7l60-7 35 17-60 7z"/>
<path fill="#009" stroke="#00006b" d="M3529 5424l60-11 35 19-60 11zm60-11l60-11 35 18-60 12zm60-11l60-12 35 19-60 11zm60-12l60-11 35 18-60 12zm60-11l60-12 35 18-60 12zm60-12l60-12 35 18-60 12zm60-12l60-12 35 18-60 12zm60-12l60-12 35 18-60 12zm60-12l60-12 35 18-60 12zm60-12l61-12 34 18-60 12zm61-12l60-13 34 19-60 12zm60-13l60-12 34 18-60 13zm4081-708l60-8 35 18-60 8zm60-8l60-8 35 18-60 8zm60-8l60-9 35 18-60 9zm60-9l60-9 35 18-60 9zm60-9l60-9 35 18-60 9zm60-9l60-9 35 18-60 9z"/>
<path fill="#00009e" stroke="#00006e" d="M4250 5282l60-12 34 18-60 12zm60-12l60-13 34 19-60 12zm60-13l60-13 34 19-60 13zm60-13l60-12 34 18-60 13zm60-12l60-13 34 18-60 13zm60-13l60-13 34 19-60 12zm60-13l60-13 34 19-60 13zm60-13l60-13 34 19-60 13zm60-13l60-13 35 19-61 13zm60-13l60-14 35 19-60 14z"/>
<path fill="#0000a3" stroke="#000072" d="M4850 5153l60-13 35 19-60 13zm60-13l60-14 35 20-60 13zm60-14l60-13 35 19-60 14zm60-13l60-14 35 20-60 13zm60-14l60-14 35 20-60 14zm60-14l60-14 35 21-60 13zm60-14l60-14 35 21-60 14zm60-14l60-14 35 21-60 14z"/>
<path fill="#0000a8" stroke="#000076" d="M5330 5043l60-15 35 22-60 14zm60-15l60-15 35 22-60 15zm60-15l60-14 35 22-60 14zm60-14l60-15 35 23-60 14zm60-15l60-16 35 24-60 15zm60-16l60-15 35 24-60 15z"/>
<path fill="#0000ae" stroke="#000079" d="M5690 4953l60-16 35 25-60 15zm60-16l60-16 35 26-60 15zm60-16l60-16 35 26-60 16zm60-16l60-16 35 27-60 15z"/>
<path fill="#0000b3" stroke="#00007d" d="M5930 4889l60-16 35 27-60 16zm60-16l60-17 35 29-60 15zm60-17l60-16 35 29-60 16zm60-16l60-17 35 30-60 16z"/>
<path fill="#0000b8" stroke="#000081" d="M6170 4823l60-16 35 30-60 16zm60-16l60-17 35 31-60 16zm60-17l60-16 35 31-60 16zm60-16l60-17 35 33-60 15z"/>
<path fill="#0000bd" stroke="#000085" d="M6410 4757l60-16 35 33-60 16zm60-16l60-15 35 33-60 15zm60-15l60-16 35 34-60 15zm841-138l60 2 34 23-60 0z"/>
<path fill="#0000bd" stroke="#00006b" d="M6590 4710l60-14 35 34-60 14zm60-14l60-15 35 34-60 15zm60-15l60-13 35 34-60 13zm541-91l60-2 34 27-60 4zm60-2l60 0 34 25-60 2z"/>
<path fill="#0000c3" stroke="#00006e" d="M6770 4668l60-13 35 34-60 13zm60-13l60-13 35 35-60 12zm60-13l60-11 35 34-60 12zm60-11l60-11 35 34-60 11zm60-11l60-10 35 34-60 10zm60-10l60-8 35 32-60 10zm60-8l61-7 34 31-60 8zm61-7l60-5 34 29-60 7z"/>
<path fill="#0000ac" stroke="#000061" d="M7431 4590l60 4 34 21-60-2z"/>
<path fill="#000094" stroke="#000041" d="M7491 4594l60 4 34 20-60-3z"/>
<path fill="#000086" stroke="#00003b" d="M7551 4598l60 5 34 18-60-3z"/>
<path fill="#00007b" stroke="#000036" d="M7611 4603l60 5 34 17-60-4z"/>
<path fill="#007" stroke="#000027" d="M7671 4608l60 3 34 17-60-3z"/>
<path fill="#000074" stroke="#000026" d="M7731 4611l60 3 35 16-61-2z"/>
<path fill="#000078" stroke="#000035" d="M7791 4614l60 1 35 16-60-1z"/>
<path fill="#000079" stroke="#000036" d="M7851 4615l60 0 35 16-60 0z"/>
<path fill="#000080" stroke="#000048" d="M7911 4615l60-2 35 16-60 2z"/>
<path fill="#000083" stroke="#00004a" d="M7971 4613l60-3 35 16-60 3z"/>
<path fill="#00008a" stroke="#00004e" d="M8031 4610l60-5 35 17-60 4z"/>
<path fill="#000091" stroke="#000065" d="M8091 4605l60-5 35 17-60 5z"/>
<path fill="#000097" stroke="#00006a" d="M8151 4600l60-7 35 18-60 6zm60-7l60-7 35 18-60 7z"/>
<path fill="#009" stroke="#00006b" d="M3564 5443l60-11 35 18-60 11zm60-11l60-12 35 18-60 12zm60-12l60-11 35 18-60 11zm60-11l60-12 35 18-60 12zm60-12l60-12 35 18-60 12zm60-12l60-12 35 19-60 11zm60-12l60-12 35 19-60 12zm60-12l60-12 35 19-60 12zm60-12l60-12 35 19-60 12zm60-12l60-12 35 19-60 12zm60-12l60-12 35 18-60 13zm60-12l60-13 35 19-60 12zm4082-709l60-8 34 18-60 7zm60-8l60-8 34 18-60 8zm60-8l60-9 35 18-61 9zm60-9l60-9 35 18-60 9zm60-9l60-9 35 18-60 9zm60-9l60-9 35 18-60 9z"/>
<path fill="#00009e" stroke="#00006e" d="M4284 5300l60-12 35 19-60 12zm60-12l60-12 35 18-60 13zm60-12l60-13 35 19-60 12zm60-13l60-13 35 19-60 13zm60-13l60-13 35 19-60 13zm60-13l60-12 35 18-60 13zm60-12l60-13 35 19-60 12zm60-13l60-13 35 19-60 13zm60-13l61-13 34 19-60 13zm61-13l60-14 34 20-60 13zm60-14l60-13 34 20-60 13z"/>
<path fill="#0000a3" stroke="#000072" d="M4945 5159l60-13 34 19-60 14zm60-13l60-14 34 20-60 13zm60-14l60-13 34 20-60 13zm60-13l60-14 34 20-60 14zm60-14l60-13 34 20-60 13zm60-13l60-14 34 20-60 14zm60-14l60-14 34 21-60 13zm60-14l60-14 35 21-61 14z"/>
<path fill="#0000a8" stroke="#000076" d="M5425 5050l60-15 35 22-60 14zm60-15l60-14 35 22-60 14zm60-14l60-14 35 22-60 14zm60-14l60-15 35 23-60 14zm60-15l60-15 35 24-60 14zm60-15l60-15 35 24-60 15z"/>
<path fill="#0000ae" stroke="#000079" d="M5785 4962l60-15 35 25-60 14zm60-15l60-16 35 26-60 15zm60-16l60-15 35 26-60 15zm60-15l60-16 35 27-60 15zm60-16l60-15 35 27-60 15z"/>
<path fill="#0000b3" stroke="#00007d" d="M6085 4885l60-16 35 28-60 15zm60-16l60-16 35 29-60 15zm60-16l60-16 35 29-60 16zm60-16l60-16 35 30-60 15z"/>
<path fill="#0000b8" stroke="#000081" d="M6325 4821l60-16 35 31-60 15zm60-16l60-15 35 31-60 15zm60-15l60-16 35 32-60 15zm60-16l60-15 35 32-60 15zm60-15l60-15 35 33-60 14zm840-146l60 0 35 25-60 2zm60 0l60 2 35 23-60 0z"/>
<path fill="#0000bd" stroke="#000085" d="M6625 4744l60-14 35 33-60 14zm60-14l60-15 35 34-60 14zm60-15l60-13 35 34-60 13zm60-13l60-13 35 34-60 13zm480-83l60-4 35 29-60 6zm60-4l60-2 35 27-60 4z"/>
<path fill="#0000bd" stroke="#00006b" d="M6865 4689l60-12 35 34-60 12zm60-12l60-12 35 34-60 12zm60-12l60-11 35 34-60 11zm60-11l60-10 35 33-60 11zm60-10l60-10 35 33-60 10zm60-10l60-8 35 32-60 9zm60-8l60-7 35 31-60 8z"/>
<path fill="#0000ab" stroke="#000061" d="M7525 4615l60 3 35 21-60-1z"/>
<path fill="#00009a" stroke="#000057" d="M7585 4618l60 3 35 20-60-2z"/>
<path fill="#00008a" stroke="#00003d" d="M7645 4621l60 4 35 18-60-2z"/>
<path fill="#000083" stroke="#00003a" d="M7705 4625l60 3 35 17-60-2z"/>
<path fill="#00007d" stroke="#000037" d="M7765 4628l61 2 34 17-60-2zm121 3l60 0 34 16-60 0z"/>
<path fill="#00007e" stroke="#000038" d="M7826 4630l60 1 34 16-60 0z"/>
<path fill="#000082" stroke="#00004a" d="M7946 4631l60-2 34 17-60 1z"/>
<path fill="#000084" stroke="#00004a" d="M8006 4629l60-3 34 17-60 3z"/>
<path fill="#00008a" stroke="#00004e" d="M8066 4626l60-4 34 17-60 4z"/>
<path fill="#000090" stroke="#000065" d="M8126 4622l60-5 34 17-60 5z"/>
<path fill="#000096" stroke="#000069" d="M8186 4617l60-6 34 17-60 6zm60-6l60-7 34 17-60 7z"/>
<path fill="#009" stroke="#00006b" d="M3599 5461l60-11 35 18-60 11zm60-11l60-12 35 19-60 11zm60-12l60-11 35 18-60 12zm60-11l60-12 35 19-60 11zm60-12l60-12 35 19-60 12zm60-12l60-11 35 18-60 12zm60-11l60-12 35 18-60 12zm60-12l60-12 35 18-60 12zm60-12l60-12 35 18-60 12zm60-12l60-12 35 18-60 12zm60-12l60-13 35 19-60 12zm60-13l60-12 35 19-60 12zm4081-710l60-7 35 18-60 7zm60-7l60-8 35 18-60 8zm60-8l61-9 34 18-60 9zm61-9l60-9 34 19-60 8zm60-9l60-9 34 18-60 10zm60-9l60-9 34 18-60 9z"/>
<path fill="#00009e" stroke="#00006e" d="M4319 5319l60-12 35 18-60 13zm60-12l60-13 35 19-60 12zm60-13l60-12 35 18-60 13zm60-12l60-13 35 19-60 12zm60-13l60-13 35 19-60 13zm60-13l60-13 35 19-60 13zm60-13l60-12 35 19-60 12zm60-12l60-13 35 19-60 13zm60-13l60-13 35 19-60 13zm60-13l60-13 35 19-60 13zm60-13l60-13 35 19-60 13z"/>
<path fill="#0000a3" stroke="#000072" d="M4979 5179l60-14 35 20-60 13zm60-14l60-13 35 20-60 13zm60-13l60-13 35 20-60 13zm60-13l60-14 35 20-60 14zm60-14l60-13 35 20-60 13zm60-13l60-14 35 21-60 13zm60-14l60-13 35 20-60 14zm60-13l61-14 34 21-60 13z"/>
<path fill="#0000a8" stroke="#000076" d="M5460 5071l60-14 34 22-60 13zm60-14l60-14 34 22-60 14zm60-14l60-14 34 22-60 14zm60-14l60-14 34 23-60 13zm60-14l60-14 34 23-60 14zm60-14l60-15 34 24-60 14zm60-15l60-14 34 24-60 14z"/>
<path fill="#0000ae" stroke="#000079" d="M5880 4972l60-15 34 25-60 14zm60-15l60-15 34 25-60 15zm60-15l60-15 34 26-60 14zm60-15l60-15 35 27-61 14zm60-15l60-15 35 27-60 15zm60-15l60-15 35 28-60 14z"/>
<path fill="#0000b3" stroke="#00007d" d="M6240 4882l60-16 35 29-60 15zm60-16l60-15 35 30-60 14zm60-15l60-15 35 30-60 15zm60-15l60-15 35 31-60 14zm60-15l60-15 35 31-60 15zm1080-183l60 1 35 23-60 1z"/>
<path fill="#0000b8" stroke="#000081" d="M6540 4806l60-15 35 32-60 14zm60-15l60-14 35 32-60 14zm60-14l60-14 35 33-60 13zm60-14l60-14 35 33-60 14zm60-14l60-13 35 33-60 13zm60-13l60-13 35 34-60 12zm60-13l60-12 35 33-60 13zm60-12l60-12 35 34-60 11zm300-53l60-8 35 32-60 9zm60-8l60-6 35 31-60 7zm60-6l60-4 35 29-60 6zm60-4l60-2 35 27-60 4zm60-2l60 0 35 25-60 2z"/>
<path fill="#0000bd" stroke="#000085" d="M7020 4699l60-11 35 33-60 12zm60-11l60-11 35 34-60 10zm60-11l60-10 35 33-60 11zm60-10l60-9 35 33-60 9z"/>
<path fill="#0000b0" stroke="#000063" d="M7620 4639l60 2 35 21-60 0z"/>
<path fill="#00009c" stroke="#000058" d="M7680 4641l60 2 35 20-60-1z"/>
<path fill="#000092" stroke="#000053" d="M7740 4643l60 2 35 19-60-1z"/>
<path fill="#008" stroke="#00003c" d="M7800 4645l60 2 35 18-60-1z"/>
<path fill="#000086" stroke="#00003b" d="M7860 4647l60 0 35 18-60 0z"/>
<path fill="#000083" stroke="#00003a" d="M7920 4647l60 0 35 17-60 1z"/>
<path fill="#000086" stroke="#00004c" d="M7980 4647l60-1 35 17-60 1zm60-1l60-3 35 17-60 3z"/>
<path fill="#00008b" stroke="#00004f" d="M8100 4643l60-4 35 17-60 4z"/>
<path fill="#000090" stroke="#000065" d="M8160 4639l60-5 35 17-60 5z"/>
<path fill="#000096" stroke="#000069" d="M8220 4634l60-6 35 17-60 6z"/>
<path fill="#000095" stroke="#000069" d="M8280 4628l60-7 35 18-60 6z"/>
<path fill="#009" stroke="#00006b" d="M3634 5479l60-11 34 18-60 12zm60-11l60-11 34 18-60 11zm60-11l60-12 35 19-61 11zm60-12l60-11 35 18-60 12zm60-11l60-12 35 18-60 12zm60-12l60-12 35 18-60 12zm60-12l60-12 35 19-60 11zm60-12l60-12 35 19-60 12zm60-12l60-12 35 19-60 12zm60-12l60-12 35 19-60 12zm60-12l60-12 35 18-60 13zm60-12l60-12 35 18-60 12zm4081-711l60-7 35 17-60 8zm60-7l60-8 35 18-60 7zm60-8l60-9 35 18-60 9zm60-9l60-8 35 18-60 8zm60-8l60-10 35 19-60 9zm60-10l60-9 35 18-60 10z"/>
<path fill="#00009e" stroke="#00006e" d="M4354 5338l60-13 35 19-60 12zm60-13l60-12 35 18-60 13zm60-12l60-13 35 19-60 12zm60-13l60-12 35 18-60 13zm60-12l60-13 35 19-60 12zm60-13l60-13 35 19-60 13zm60-13l60-12 35 19-60 12zm60-12l60-13 35 19-60 13zm60-13l60-13 35 19-60 13zm60-13l60-13 35 19-60 13zm60-13l60-13 35 19-60 13zm60-13l60-13 35 19-60 13z"/>
<path fill="#0000a3" stroke="#000072" d="M5074 5185l60-13 35 19-60 13zm60-13l60-13 35 19-60 13zm60-13l60-14 35 20-60 13zm60-14l60-13 35 20-60 13zm60-13l60-13 35 20-60 13zm60-13l60-14 35 21-60 13zm60-14l60-13 35 21-60 13zm60-13l60-13 35 21-60 13z"/>
<path fill="#0000a8" stroke="#000076" d="M5554 5079l60-14 35 21-60 14zm60-14l60-14 35 22-60 13zm60-14l60-13 35 22-60 13zm60-13l60-14 35 22-60 14zm60-14l60-14 35 23-60 13zm60-14l60-14 35 23-60 14zm60-14l60-14 35 24-60 13zm60-14l60-15 35 25-60 14z"/>
<path fill="#0000ae" stroke="#000079" d="M6034 4967l60-14 35 25-60 14zm60-14l61-14 34 26-60 13zm61-14l60-15 34 27-60 14zm60-15l60-14 34 27-60 14zm60-14l60-15 34 28-60 14zm60-15l60-14 34 28-60 14zm1380-233l60 1 35 21-60 1z"/>
<path fill="#0000b3" stroke="#00007d" d="M6395 4881l60-15 34 29-60 14zm60-15l60-14 34 30-60 13zm60-14l60-15 34 31-60 14zm60-15l60-14 34 31-60 14zm60-14l60-14 34 32-60 13zm60-14l60-13 35 32-61 13zm60-13l60-14 35 33-60 13zm720-127l60-4 35 28-60 6zm60-4l60-2 35 26-60 4zm60-2l60-1 35 25-60 2zm60-1l60 0 35 23-60 2z"/>
<path fill="#0000b8" stroke="#000081" d="M6815 4782l60-13 35 33-60 13zm60-13l60-12 35 33-60 12zm60-12l60-13 35 34-60 12zm60-13l60-11 35 33-60 12zm60-11l60-12 35 34-60 11zm60-12l60-10 35 33-60 11zm60-10l60-11 35 34-60 10zm60-11l60-9 35 33-60 10zm60-9l60-9 35 33-60 9zm60-9l60-7 35 31-60 9zm60-7l60-6 35 30-60 7z"/>
<path fill="#0000a3" stroke="#00005c" d="M7775 4663l60 1 35 20-60 0z"/>
<path fill="#000096" stroke="#005" d="M7835 4664l60 1 35 19-60 0z"/>
<path fill="#000091" stroke="#000052" d="M7895 4665l60 0 35 18-60 1z"/>
<path fill="#00008b" stroke="#00004f" d="M7955 4665l60-1 35 18-60 1z"/>
<path fill="#00008c" stroke="#00004f" d="M8015 4664l60-1 35 17-60 2z"/>
<path fill="#00008e" stroke="#000050" d="M8075 4663l60-3 35 17-60 3z"/>
<path fill="#00008d" stroke="#000050" d="M8135 4660l60-4 35 17-60 4z"/>
<path fill="#000092" stroke="#006" d="M8195 4656l60-5 35 18-60 4z"/>
<path fill="#000096" stroke="#000069" d="M8255 4651l60-6 35 18-60 6z"/>
<path fill="#00009b" stroke="#00006c" d="M8315 4645l60-6 35 18-60 6z"/>
<path fill="#009" stroke="#00006b" d="M3668 5498l60-12 35 19-60 11zm60-12l60-11 35 18-60 12zm60-11l61-11 34 18-60 11zm61-11l60-12 34 18-60 12zm60-12l60-12 34 19-60 11zm60-12l60-12 34 19-60 12zm60-12l60-11 34 18-60 12zm60-11l60-12 34 18-60 12zm60-12l60-12 34 18-60 12zm60-12l60-12 34 18-60 12zm60-12l60-13 34 19-60 12zm60-13l60-12 34 19-60 12zm60-12l60-12 35 19-61 12zm4021-699l60-8 35 18-60 7zm60-8l60-7 35 17-60 8zm60-7l60-9 35 18-60 8zm60-9l60-8 35 18-60 8zm60-8l60-9 35 18-60 9zm60-9l60-10 35 19-60 9z"/>
<path fill="#00009e" stroke="#00006e" d="M4449 5344l60-13 35 19-60 13zm60-13l60-12 35 19-60 12zm60-12l60-13 35 19-60 13zm60-13l60-12 35 19-60 12zm60-12l60-13 35 19-60 13zm60-13l60-12 35 19-60 12zm60-12l60-13 35 19-60 13zm60-13l60-13 35 19-60 13zm60-13l60-13 35 19-60 13zm60-13l60-13 35 20-60 12zm60-13l60-13 35 20-60 13z"/>
<path fill="#0000a3" stroke="#000072" d="M5109 5204l60-13 35 20-60 13zm60-13l60-13 35 20-60 13zm60-13l60-13 35 20-60 13zm60-13l60-13 35 20-60 13zm60-13l60-13 35 20-60 13zm60-13l60-13 35 20-60 13zm60-13l60-13 35 21-60 12zm60-13l60-13 35 21-60 13zm60-13l60-14 35 22-60 13zm60-14l60-13 35 22-60 13z"/>
<path fill="#0000a8" stroke="#000076" d="M5709 5073l60-13 35 22-60 13zm60-13l60-14 35 23-60 13zm60-14l60-13 35 23-60 13zm60-13l60-14 35 24-60 13zm60-14l60-13 35 23-60 14zm60-13l60-14 35 24-60 13zm60-14l60-14 35 25-60 13zm60-14l60-13 35 25-60 13zm1681-294l60 0 35 22-60 1z"/>
<path fill="#0000ae" stroke="#000079" d="M6189 4965l60-14 35 26-60 13zm60-14l60-14 35 27-60 13zm60-14l60-14 35 27-60 14zm60-14l60-14 35 28-60 13zm60-14l60-14 35 29-60 13zm60-14l60-13 35 29-60 13zm60-13l60-14 35 30-60 13zm1141-195l60-2 35 25-60 3zm60-2l60-1 35 23-60 3z"/>
<path fill="#0000b3" stroke="#00007d" d="M6609 4868l60-14 35 31-60 13zm60-14l60-13 35 31-60 13zm60-13l61-13 34 31-60 13zm61-13l60-13 34 31-60 13zm60-13l60-13 34 32-60 12zm60-13l60-12 34 32-60 12zm60-12l60-12 34 32-60 12zm60-12l60-12 34 33-60 11zm60-12l60-11 34 33-60 11zm60-11l60-11 34 33-60 11zm60-11l60-10 34 32-60 11zm60-10l60-10 34 33-60 9zm60-10l60-9 34 32-60 10zm60-9l60-9 35 32-61 9zm60-9l60-7 35 31-60 8zm60-7l60-6 35 30-60 7zm60-6l60-4 35 28-60 6zm60-4l60-2 35 26-60 4z"/>
<path fill="#0000a6" stroke="#000074" d="M7870 4684l60 0 35 20-60 2z"/>
<path fill="#00009e" stroke="#000059" d="M7930 4684l60-1 35 20-60 1z"/>
<path fill="#000095" stroke="#000054" d="M7990 4683l60-1 35 19-60 2z"/>
<path fill="#000094" stroke="#000067" d="M8050 4682l60-2 35 18-60 3z"/>
<path fill="#000094" stroke="#000068" d="M8110 4680l60-3 35 18-60 3zm120-7l60-4 35 17-60 5z"/>
<path fill="#000091" stroke="#006" d="M8170 4677l60-4 35 18-60 4z"/>
<path fill="#000098" stroke="#00006a" d="M8290 4669l60-6 35 18-60 5z"/>
<path fill="#00009b" stroke="#00006d" d="M8350 4663l60-6 35 17-60 7z"/>
<path fill="#009" stroke="#00006b" d="M3703 5516l60-11 35 18-60 11zm60-11l60-12 35 19-60 11zm60-12l60-11 35 18-60 12zm60-11l60-12 35 19-60 11zm60-12l60-11 35 18-60 12zm60-11l60-12 35 18-60 12zm60-12l60-12 35 19-60 11zm60-12l60-12 35 19-60 12zm60-12l60-12 35 19-60 12zm60-12l60-12 35 19-60 12zm60-12l60-12 35 19-60 12zm60-12l60-12 35 18-60 13zm60-12l61-12 34 18-60 12zm4022-701l60-7 35 18-60 7zm60-7l60-8 35 19-60 7zm60-8l60-8 35 18-60 9zm60-8l60-8 35 18-60 8zm60-8l60-9 35 18-60 9zm60-9l60-9 35 18-60 9z"/>
<path fill="#00009e" stroke="#00006e" d="M4484 5363l60-13 34 19-60 12zm60-13l60-12 34 19-60 12zm60-12l60-13 34 19-60 13zm60-13l60-12 34 19-60 12zm60-12l60-13 34 19-60 13zm60-13l60-12 34 19-60 12zm60-12l60-13 34 19-60 13zm60-13l60-13 34 19-60 13zm60-13l60-13 34 20-60 12zm60-13l60-12 34 19-60 13zm60-12l60-13 35 19-61 13zm60-13l60-13 35 19-60 13z"/>
<path fill="#0000a3" stroke="#000072" d="M5204 5211l60-13 35 20-60 12zm60-13l60-13 35 20-60 13zm60-13l60-13 35 20-60 13zm60-13l60-13 35 20-60 13zm60-13l60-13 35 21-60 12zm60-13l60-12 35 20-60 13zm60-12l60-13 35 20-60 13zm60-13l60-13 35 21-60 12zm60-13l60-13 35 21-60 13zm60-13l60-13 35 21-60 13z"/>
<path fill="#0000a8" stroke="#000076" d="M5804 5082l60-13 35 22-60 12zm60-13l60-13 35 22-60 13zm60-13l60-13 35 22-60 13zm60-13l60-14 35 24-60 12zm60-14l60-13 35 24-60 13zm60-13l60-13 35 24-60 13zm60-13l60-13 35 25-60 12zm60-13l60-13 35 25-60 13zm60-13l60-13 35 25-60 13zm1561-270l60-1 34 23-60 3zm60-1l60-2 34 22-60 3zm60-2l60-1 34 20-60 3z"/>
<path fill="#0000ae" stroke="#000079" d="M6344 4964l60-14 35 27-60 12zm60-14l60-13 35 27-60 13zm60-13l60-13 35 27-60 13zm60-13l60-13 35 28-60 12zm60-13l60-13 35 28-60 13zm60-13l60-13 35 29-60 12zm60-13l60-13 35 29-60 13zm60-13l60-13 35 30-60 12zm60-13l60-13 35 31-60 12zm60-13l60-12 35 31-60 12zm661-116l60-7 34 30-60 8zm60-7l60-6 34 29-60 7zm60-6l60-4 34 27-60 6zm60-4l60-3 34 26-60 4zm60-3l60-3 34 25-60 4z"/>
<path fill="#0000b3" stroke="#00007d" d="M6944 4834l60-12 35 31-60 12zm60-12l60-12 35 32-60 11zm60-12l60-11 35 32-60 11zm60-11l60-11 35 32-60 11zm60-11l60-11 35 32-60 11zm60-11l60-11 35 33-60 10zm60-11l60-9 35 32-60 10zm60-9l60-10 35 32-60 10zm60-10l61-9 34 32-60 9zm61-9l60-8 34 31-60 9z"/>
<path fill="#0000a1" stroke="#000071" d="M8025 4703l60-2 35 20-61 2z"/>
<path fill="#00009d" stroke="#00006e" d="M8085 4701l60-3 35 20-60 3zm300-20l60-7 35 18-60 7z"/>
<path fill="#00009b" stroke="#00006d" d="M8145 4698l60-3 35 19-60 4z"/>
<path fill="#000097" stroke="#000069" d="M8205 4695l60-4 35 19-60 4z"/>
<path fill="#000098" stroke="#00006a" d="M8265 4691l60-5 35 18-60 6z"/>
<path fill="#00009a" stroke="#00006c" d="M8325 4686l60-5 35 18-60 5z"/>
<path fill="#009" stroke="#00006b" d="M3738 5534l60-11 35 18-60 12zm60-11l60-11 35 18-60 11zm60-11l60-12 35 19-60 11zm60-12l60-11 35 18-60 12zm60-11l60-12 35 19-60 11zm60-12l60-12 35 19-60 12zm60-12l60-11 35 18-60 12zm60-11l60-12 35 18-60 12zm60-12l60-12 35 18-60 12zm60-12l60-12 35 18-60 12zm60-12l60-12 35 18-60 12zm60-12l60-13 35 19-60 12zm60-13l60-12 35 19-60 12zm4022-701l60-7 34 18-60 7zm60-7l60-7 34 18-60 7zm60-7l60-9 34 19-60 8zm60-9l60-8 34 18-60 9zm60-8l60-9 35 18-61 9zm60-9l60-9 35 18-60 9z"/>
<path fill="#00009e" stroke="#00006e" d="M4518 5381l60-12 35 19-60 12zm60-12l60-12 35 18-60 13zm60-12l60-13 35 19-60 12zm60-13l60-12 35 19-60 12zm60-12l60-13 35 19-60 13zm60-13l60-12 35 19-60 12zm60-12l60-13 35 19-60 13zm60-13l60-13 35 19-60 13zm60-13l60-12 35 19-60 12zm60-12l60-13 35 19-60 13zm60-13l61-13 34 20-60 12zm61-13l60-13 34 20-60 13zm3001-525l60-4 34 19-60 4zm180-14l60-5 34 18-60 6zm60-5l60-7 34 18-60 7z"/>
<path fill="#0000a3" stroke="#000072" d="M5239 5230l60-12 34 19-60 13zm60-12l60-13 34 20-60 12zm60-13l60-13 34 20-60 13zm60-13l60-13 34 20-60 13zm60-13l60-12 34 20-60 12zm60-12l60-13 34 20-60 13zm60-13l60-13 34 21-60 12zm60-13l60-12 34 20-60 13zm60-12l60-13 35 21-61 12zm60-13l60-13 35 22-60 12zm60-13l60-12 35 21-60 13zm2160-377l60-3 35 22-60 4zm60-3l61-2 34 20-60 4zm61-2l60-3 34 19-60 4z"/>
<path fill="#0000a8" stroke="#000076" d="M5899 5091l60-13 35 22-60 12zm60-13l60-13 35 23-60 12zm60-13l60-12 35 22-60 13zm60-12l60-13 35 23-60 12zm60-13l60-13 35 24-60 12zm60-13l60-12 35 24-60 12zm60-12l60-13 35 24-60 13zm60-13l60-13 35 25-60 12zm60-13l60-12 35 25-60 12zm60-12l60-13 35 26-60 12zm60-13l60-13 35 27-60 12zm60-13l60-12 35 27-60 12zm1260-215l60-4 35 25-60 6zm60-4l60-3 35 24-60 4zm60-3l60-3 35 23-60 4z"/>
<path fill="#0000ae" stroke="#000079" d="M6619 4939l60-13 35 28-60 12zm60-13l60-12 35 28-60 12zm60-12l60-13 35 29-60 12zm60-13l60-12 35 29-60 12zm60-12l60-12 35 30-60 11zm60-12l60-12 35 30-60 12zm60-12l60-12 35 31-60 11zm60-12l60-11 35 31-60 11zm60-11l60-11 35 31-60 11zm60-11l60-11 35 31-60 11zm60-11l60-11 35 32-60 10zm60-11l60-10 35 31-60 11zm60-10l60-10 35 31-60 10zm60-10l60-10 35 32-60 9zm60-10l60-9 35 31-60 10zm60-9l60-9 35 31-60 9zm60-9l60-8 35 31-60 8zm60-8l60-7 35 30-60 8zm60-7l60-6 35 29-60 7zm60-6l60-4 35 27-60 6z"/>
<path fill="#00009d" stroke="#00006e" d="M8240 4714l60-4 34 18-60 5zm60-4l60-6 34 19-60 5z"/>
<path fill="#009" stroke="#00006b" d="M3773 5553l60-12 35 19-60 11zm60-12l60-11 35 19-60 11zm60-11l60-11 35 18-60 12zm60-11l60-12 35 19-60 11zm60-12l60-11 35 18-60 12zm60-11l60-12 35 18-60 12zm60-12l60-12 35 19-60 11zm60-12l60-12 35 19-60 12zm60-12l60-12 35 19-60 12zm60-12l60-12 35 19-60 12zm60-12l60-12 35 19-60 12zm60-12l60-12 35 19-60 12zm60-12l60-12 35 19-60 12zm4021-702l60-7 35 19-60 7zm60-7l60-7 35 18-60 8zm60-7l60-8 35 18-60 8zm60-8l60-9 35 18-60 9zm60-9l61-9 34 18-60 9zm61-9l60-9 34 18-60 9z"/>
<path fill="#00009e" stroke="#00006e" d="M4553 5400l60-12 35 18-60 13zm60-12l60-13 35 19-60 12zm60-13l60-12 35 19-60 12zm60-12l60-12 35 18-60 13zm60-12l60-13 35 19-60 12zm60-13l60-12 35 19-60 12zm60-12l60-13 35 19-60 13zm60-13l60-13 35 20-60 12zm60-13l60-12 35 19-60 13zm60-12l60-13 35 19-60 13zm60-13l60-12 35 19-60 12zm60-12l60-13 35 19-60 13zm60-13l60-13 35 20-60 12zm2941-513l60-4 35 20-60 5zm60-4l60-5 35 20-60 5zm60-5l60-5 35 19-60 6zm60-5l60-6 35 19-60 6zm60-6l60-7 35 19-60 7z"/>
<path fill="#0000a3" stroke="#000072" d="M5333 5237l60-12 35 19-60 13zm60-12l60-13 35 20-60 12zm60-13l60-13 35 20-60 13zm60-13l60-12 35 20-60 12zm60-12l60-13 35 21-60 12zm60-13l60-12 35 20-60 13zm60-12l60-13 35 21-60 12zm60-13l61-12 34 21-60 12zm61-12l60-12 34 21-60 12zm60-12l60-13 34 21-60 13zm60-13l60-12 34 21-60 12zm60-12l60-12 34 21-60 12zm1980-347l60-4 35 24-60 5zm60-4l60-4 35 23-60 5zm60-4l60-4 35 22-60 5zm60-4l60-4 35 21-60 5z"/>
<path fill="#0000a8" stroke="#000076" d="M6054 5088l60-13 34 22-60 12zm60-13l60-12 34 22-60 12zm60-12l60-12 34 23-60 11zm60-12l60-12 34 23-60 12zm60-12l60-13 34 24-60 12zm60-13l60-12 35 24-61 12zm60-12l60-12 35 25-60 11zm60-12l60-12 35 25-60 12zm60-12l60-12 35 25-60 12zm60-12l60-12 35 26-60 11zm60-12l60-12 35 26-60 12zm60-12l60-12 35 27-60 11zm60-12l60-12 35 27-60 12zm60-12l60-12 35 28-60 11zm60-12l60-11 35 28-60 11zm60-11l60-12 35 29-60 11zm660-115l60-8 35 30-60 9zm60-8l60-8 35 29-60 9zm60-8l60-7 35 28-60 8zm60-7l60-6 35 27-60 7zm60-6l60-6 35 27-60 6zm60-6l60-4 35 25-60 6z"/>
<path fill="#0000ae" stroke="#000079" d="M7014 4895l60-11 35 29-60 11zm60-11l60-11 35 29-60 11zm60-11l60-11 35 30-60 10zm60-11l60-11 35 30-60 11zm60-11l60-10 35 30-60 10zm60-10l60-11 35 31-60 10zm60-11l60-10 35 31-60 10zm60-10l60-9 35 30-60 10zm60-9l60-10 35 31-60 9zm60-10l60-9 35 31-60 9z"/>
<path fill="#009" stroke="#00006b" d="M3868 5560l60-11 34 18-60 11zm60-11l60-12 34 19-60 11zm60-12l60-11 34 18-60 12zm60-11l60-12 35 18-61 12zm60-12l60-12 35 19-60 11zm60-12l60-11 35 18-60 12zm60-11l60-12 35 18-60 12zm60-12l60-12 35 19-60 11zm60-12l60-12 35 19-60 12zm60-12l60-12 35 19-60 12zm60-12l60-12 35 19-60 12zm60-12l60-12 35 18-60 13zm60-12l60-13 35 19-60 12zm3961-690l60-7 35 18-60 8zm60-7l60-8 35 18-60 8zm60-8l60-8 35 18-60 8zm60-8l60-9 35 18-60 9zm60-9l60-9 35 19-60 8zm60-9l60-9 35 18-60 10z"/>
<path fill="#00009e" stroke="#00006e" d="M4648 5406l60-12 35 19-60 12zm60-12l60-12 35 19-60 12zm60-12l60-13 35 19-60 13zm60-13l60-12 35 19-60 12zm60-12l60-12 35 19-60 12zm60-12l60-13 35 19-60 13zm60-13l60-12 35 19-60 12zm60-12l60-13 35 19-60 13zm60-13l60-13 35 20-60 12zm60-13l60-12 35 19-60 13zm60-12l60-13 35 20-60 12zm60-13l60-12 35 19-60 13zm2941-511l60-5 35 21-60 5zm60-5l60-5 35 20-60 6zm60-5l60-6 35 19-60 7zm60-6l60-6 35 19-60 6zm60-6l60-7 35 19-60 7z"/>
<path fill="#0000a3" stroke="#000072" d="M5368 5257l60-13 35 20-60 12zm60-13l60-12 35 20-60 12zm60-12l60-13 35 20-60 13zm60-13l60-12 35 20-60 12zm60-12l60-12 35 20-60 12zm60-12l60-13 35 21-60 12zm60-13l60-12 35 20-60 13zm60-12l60-12 35 20-60 12zm60-12l60-12 35 20-60 12zm60-12l60-13 35 21-60 12zm60-13l60-12 35 22-60 11zm60-12l60-12 35 22-60 12zm60-12l60-12 35 22-60 12zm60-12l60-12 35 22-60 12zm1801-313l60-6 35 25-60 7zm60-6l60-5 35 24-60 6zm60-5l60-5 35 23-60 6zm60-5l60-5 35 22-60 6zm60-5l60-5 35 21-60 6z"/>
<path fill="#0000a8" stroke="#000076" d="M6208 5085l60-11 35 22-60 11zm60-11l60-12 35 22-60 12zm60-12l60-12 35 23-60 11zm60-12l61-12 34 24-60 11zm61-12l60-11 34 23-60 12zm60-11l60-12 34 24-60 11zm60-12l60-12 34 25-60 11zm60-12l60-11 34 25-60 11zm60-11l60-12 34 26-60 11zm60-12l60-11 34 26-60 11zm60-11l60-12 34 27-60 11zm60-12l60-11 34 27-60 11zm60-11l60-11 34 27-60 11zm60-11l60-11 34 27-60 11zm60-11l60-11 35 28-61 10zm60-11l60-11 35 28-60 11zm60-11l60-10 35 28-60 10zm60-10l60-11 35 29-60 10zm60-11l60-10 35 29-60 10zm60-10l60-10 35 29-60 10zm60-10l60-10 35 29-60 10zm60-10l60-10 35 30-60 9zm60-10l60-9 35 29-60 10zm60-9l60-9 35 29-60 9zm60-9l60-9 35 29-60 9zm60-9l60-9 35 29-60 9zm60-9l60-8 35 29-60 8zm60-8l60-7 35 27-60 9zm60-7l60-6 35 26-60 7z"/>
<path fill="#009" stroke="#00006b" d="M3902 5578l60-11 35 18-60 12zm60-11l60-11 35 18-60 11zm60-11l60-12 35 19-60 11zm60-12l61-12 34 19-60 12zm61-12l60-11 34 18-60 12zm60-11l60-12 34 19-60 11zm60-12l60-12 34 19-60 12zm60-12l60-11 34 18-60 12zm60-11l60-12 34 18-60 12zm60-12l60-12 34 18-60 12zm60-12l60-12 34 18-60 12zm60-12l60-13 34 19-60 12zm60-13l60-12 34 19-60 12zm3901-682l60-7 35 19-60 7zm60-7l60-8 35 19-60 8zm60-8l60-8 35 19-60 8zm60-8l60-8 35 19-60 8zm60-8l60-9 35 19-60 9zm60-9l60-8 35 18-60 9zm60-8l60-10 35 19-60 9z"/>
<path fill="#00009e" stroke="#00006e" d="M4683 5425l60-12 35 19-61 12zm60-12l60-12 35 19-60 12zm60-12l60-13 35 19-60 13zm60-13l60-12 35 19-60 12zm60-12l60-12 35 19-60 12zm60-12l60-13 35 19-60 13zm60-13l60-12 35 19-60 12zm60-12l60-13 35 20-60 12zm60-13l60-12 35 19-60 13zm60-12l60-13 35 20-60 12zm60-13l60-12 35 19-60 13zm60-12l60-13 35 20-60 12zm60-13l60-12 35 20-60 12zm2821-491l60-6 35 22-60 6zm60-6l60-5 35 21-60 6zm60-5l60-6 35 20-60 7zm60-6l60-7 35 20-60 7zm60-7l60-6 35 19-60 7z"/>
<path fill="#0000a3" stroke="#000072" d="M5463 5264l60-12 35 19-60 13zm60-12l60-13 35 20-60 12zm60-13l60-12 35 20-60 12zm60-12l60-12 35 20-60 12zm60-12l60-12 35 20-60 12zm60-12l60-13 35 21-60 12zm60-13l60-12 35 21-60 12zm60-12l60-12 35 21-60 12zm60-12l60-12 35 21-60 12zm60-12l60-11 35 20-60 12zm60-11l60-12 35 21-60 11zm60-12l60-12 35 21-60 12zm60-12l60-12 35 22-60 11zm60-12l60-11 35 22-60 11zm60-11l60-12 35 22-60 12zm60-12l60-11 35 22-60 11zm60-11l60-11 35 22-60 11zm1321-230l60-9 35 27-60 9zm60-9l60-8 35 27-60 8zm60-8l60-9 35 27-60 9zm60-9l60-7 35 26-60 8zm60-7l60-7 35 25-60 8zm60-7l60-6 35 24-60 7zm60-6l60-6 35 23-60 7zm60-6l60-6 35 22-60 7z"/>
<path fill="#0000a8" stroke="#000076" d="M6483 5062l60-12 35 23-60 11zm60-12l60-11 35 23-60 11zm60-11l60-11 35 23-60 11zm60-11l60-11 35 24-60 10zm60-11l60-11 35 24-60 11zm60-11l60-11 35 24-60 11zm60-11l60-11 35 25-60 10zm60-11l60-11 35 25-60 11zm60-11l60-11 35 26-60 10zm60-11l60-11 35 26-60 11zm60-11l61-10 34 26-60 10zm61-10l60-11 34 27-60 10zm60-11l60-10 34 27-60 10zm60-10l60-10 34 27-60 10zm60-10l60-10 34 27-60 10zm60-10l60-10 34 27-60 10zm60-10l60-10 34 28-60 9zm60-10l60-9 34 27-60 10zm60-9l60-10 34 28-60 9zm60-10l60-9 34 27-60 10zm60-9l60-9 35 27-61 9z"/>
<path fill="#009" stroke="#00006b" d="M3937 5597l60-12 35 19-60 11zm60-12l60-11 35 18-60 12zm60-11l60-11 35 18-60 11zm60-11l60-12 35 18-60 12zm60-12l60-12 35 19-60 11zm60-12l60-11 35 18-60 12zm60-11l60-12 35 19-60 11zm60-12l60-12 35 19-60 12zm60-12l60-12 35 19-60 12zm60-12l60-12 35 19-60 12zm60-12l60-12 35 19-60 12zm60-12l60-12 35 19-60 12zm60-12l60-12 35 19-60 12zm60-12l61-12 34 19-60 12zm3842-670l60-7 35 19-60 7zm60-7l60-8 35 19-60 8zm60-8l60-8 35 19-60 8zm60-8l60-8 35 18-60 9zm60-8l60-9 35 18-60 9zm60-9l60-9 35 18-60 9zm60-9l60-9 35 18-60 9z"/>
<path fill="#00009e" stroke="#00006e" d="M4778 5432l60-12 34 19-60 12zm60-12l60-13 34 19-60 13zm60-13l60-12 34 19-60 12zm60-12l60-12 34 19-60 12zm60-12l60-13 34 20-60 12zm60-13l60-12 34 19-60 13zm60-12l60-12 34 19-60 12zm60-12l60-13 34 20-60 12zm60-13l60-12 34 19-60 13zm60-12l60-13 34 20-60 12zm60-13l60-12 35 20-61 12zm60-12l60-12 35 19-60 13zm60-12l60-13 35 20-60 12zm2701-470l60-7 34 23-60 7zm60-7l60-6 34 21-60 8zm60-6l60-6 34 20-60 7zm60-6l60-7 35 20-61 7zm60-7l60-7 35 20-60 7zm60-7l60-7 35 19-60 8z"/>
<path fill="#0000a3" stroke="#000072" d="M5558 5271l60-12 35 20-60 12zm60-12l60-12 35 20-60 12zm60-12l60-12 35 20-60 12zm60-12l60-12 35 20-60 12zm60-12l60-12 35 20-60 12zm60-12l60-12 35 20-60 12zm60-12l60-12 35 20-60 12zm60-12l60-12 35 21-60 11zm60-12l60-12 35 21-60 12zm60-12l60-11 35 21-60 11zm60-11l60-12 35 21-60 12zm60-12l60-11 35 21-60 11zm60-11l60-11 35 21-60 11zm60-11l60-12 35 22-60 11zm60-12l60-11 35 22-60 11zm60-11l60-11 35 22-60 11zm60-11l60-11 35 22-60 11zm60-11l60-11 35 23-60 10zm60-11l60-11 35 23-60 11zm60-11l60-10 35 22-60 11zm60-10l60-11 35 23-60 10zm60-11l60-11 35 24-60 10zm60-11l60-10 35 23-60 11zm60-10l60-11 35 24-60 10zm60-11l60-10 35 24-60 10zm60-10l60-11 35 25-60 10zm60-11l60-10 35 25-60 10zm60-10l60-10 35 25-60 10zm60-10l60-10 35 25-60 10zm60-10l60-10 35 25-60 10zm60-10l60-10 35 26-60 9zm60-10l60-10 35 26-60 10zm60-10l60-9 35 25-60 10zm60-9l60-10 35 26-60 9zm60-10l60-9 35 26-60 9zm60-9l60-10 35 26-60 10zm60-10l61-9 34 26-60 9zm61-9l60-9 34 26-60 9zm60-9l60-8 34 25-60 9zm60-8l60-9 34 25-60 9zm60-9l60-8 34 25-60 8zm60-8l60-8 34 25-60 8zm60-8l60-7 34 24-60 8zm60-7l60-7 34 23-60 8z"/>
<path fill="#009" stroke="#00006b" d="M4032 5604l60-12 35 19-60 11zm60-12l60-11 35 18-60 12zm60-11l60-12 35 19-60 11zm60-12l60-11 35 18-60 12zm60-11l60-12 35 19-60 11zm60-12l60-11 35 18-60 12zm60-11l60-12 35 18-60 12zm60-12l60-12 35 19-60 11zm60-12l60-12 35 19-60 12zm60-12l60-12 35 19-60 12zm60-12l60-12 35 19-60 12zm60-12l60-12 35 19-60 12zm60-12l60-12 35 19-60 12zm3842-670l60-7 34 19-60 8zm60-7l60-8 34 19-60 8zm60-8l60-8 34 18-60 9zm60-8l60-9 34 19-60 8zm60-9l60-9 34 19-60 9zm60-9l60-9 34 19-60 9zm60-9l60-9 34 18-60 10z"/>
<path fill="#00009e" stroke="#00006e" d="M4812 5451l60-12 35 19-60 12zm60-12l60-13 35 19-60 13zm60-13l60-12 35 19-60 12zm60-12l60-12 35 19-60 12zm60-12l60-12 35 19-60 12zm60-12l60-13 35 19-60 13zm60-13l60-12 35 19-60 12zm60-12l60-12 35 19-60 12zm60-12l60-13 35 20-60 12zm60-13l60-12 35 19-60 13zm60-12l61-12 34 19-60 12zm61-12l60-13 34 20-60 12zm60-13l60-12 34 20-60 12zm60-12l60-12 34 20-60 12zm2460-430l60-8 35 23-60 8zm60-8l60-8 35 22-60 9zm60-8l60-8 35 22-60 8zm60-8l60-7 35 21-60 8zm60-7l60-8 35 22-60 7zm60-8l60-7 35 21-60 8zm60-7l61-7 34 20-60 8zm61-7l60-7 34 20-60 7zm60-7l60-8 34 20-60 8z"/>
<path fill="#0000a3" stroke="#000072" d="M5653 5279l60-12 34 20-60 12zm60-12l60-12 34 20-60 12zm60-12l60-12 34 20-60 12zm60-12l60-12 34 20-60 12zm60-12l60-12 34 20-60 12zm60-12l60-12 34 21-60 11zm60-12l60-11 35 20-61 12zm60-11l60-12 35 21-60 11zm60-12l60-11 35 20-60 12zm60-11l60-12 35 21-60 11zm60-12l60-11 35 21-60 11zm60-11l60-11 35 21-60 11zm60-11l60-11 35 21-60 11zm60-11l60-11 35 21-60 11zm60-11l60-11 35 21-60 11zm60-11l60-11 35 22-60 10zm60-11l60-10 35 21-60 11zm60-10l60-11 35 22-60 10zm60-11l60-11 35 22-60 11zm60-11l60-10 35 22-60 10zm60-10l60-10 35 22-60 10zm60-10l60-11 35 23-60 10zm60-11l60-10 35 23-60 10zm60-10l60-10 35 23-60 10zm60-10l60-10 35 23-60 10zm60-10l60-10 35 23-60 10zm60-10l60-10 35 23-60 10zm60-10l60-10 35 24-60 9zm60-10l60-10 35 24-60 10zm60-10l60-9 35 24-60 9zm60-9l60-10 35 24-60 10zm60-10l60-10 35 25-60 9zm60-10l60-9 35 24-60 10zm60-9l60-9 35 24-60 9zm60-9l60-10 35 25-60 9zm60-10l60-9 35 24-60 10zm60-9l60-9 35 24-60 9zm60-9l60-9 35 24-60 9zm60-9l60-9 35 24-60 9zm60-9l60-8 35 23-60 9z"/>
<path fill="#009" stroke="#00006b" d="M4067 5622l60-11 35 18-60 12zm60-11l60-12 35 19-60 11zm60-12l60-11 35 19-60 11zm60-11l60-12 35 19-60 12zm60-12l60-11 35 18-60 12zm60-11l60-12 35 19-60 11zm60-12l60-12 35 19-60 12zm60-12l60-11 35 18-60 12zm60-11l60-12 35 19-60 11zm60-12l60-12 35 19-60 12zm60-12l60-12 35 19-60 12zm60-12l60-12 35 19-60 12zm60-12l60-12 35 19-60 12zm3781-661l60-8 35 19-60 8zm60-8l60-8 35 19-60 8zm60-8l60-8 35 18-60 9zm60-8l60-9 35 19-60 8zm60-9l60-8 35 18-60 9zm60-8l60-9 35 18-60 9zm60-9l60-9 35 18-60 9zm60-9l60-10 35 19-60 9z"/>
<path fill="#00009e" stroke="#00006e" d="M4847 5470l60-12 35 19-60 12zm60-12l60-13 35 20-60 12zm60-13l60-12 35 19-60 13zm60-12l60-12 35 19-60 12zm60-12l60-12 35 19-60 12zm60-12l60-13 35 20-60 12zm60-13l60-12 35 20-60 12zm60-12l60-12 35 19-60 13zm60-12l60-12 35 19-60 12zm60-12l60-13 35 20-60 12zm60-13l60-12 35 20-60 12zm60-12l60-12 35 20-60 12zm60-12l60-12 35 20-60 12zm60-12l60-12 35 19-60 13zm60-12l60-12 35 20-60 11zm2221-388l60-9 35 23-60 9zm60-9l60-9 35 23-60 9zm60-9l60-9 35 23-60 9zm60-9l60-8 35 22-60 9zm60-8l60-9 35 22-60 9zm60-9l60-8 35 22-60 8zm60-8l60-8 35 21-60 9zm60-8l60-7 35 20-60 8zm60-7l60-8 35 20-60 8zm60-8l60-8 35 20-60 8zm60-8l60-7 35 19-60 8z"/>
<path fill="#0000a3" stroke="#000072" d="M5747 5287l60-12 35 20-60 12zm60-12l60-12 35 20-60 12zm60-12l60-12 35 20-60 12zm60-12l60-12 35 20-60 12zm60-12l60-11 35 20-60 11zm60-11l61-12 34 20-60 12zm61-12l60-11 34 20-60 11zm60-11l60-12 34 21-60 11zm60-12l60-11 34 21-60 11zm60-11l60-11 34 20-60 12zm60-11l60-11 34 21-60 10zm60-11l60-11 34 21-60 11zm60-11l60-11 34 21-60 11zm60-11l60-11 34 21-60 11zm60-11l60-10 34 21-60 10zm60-10l60-11 34 21-60 11zm60-11l60-10 35 21-61 10zm60-10l60-11 35 22-60 10zm60-11l60-10 35 22-60 10zm60-10l60-10 35 22-60 10zm60-10l60-10 35 22-60 10zm60-10l60-10 35 22-60 10zm60-10l60-10 35 22-60 10zm60-10l60-10 35 22-60 10zm60-10l60-10 35 23-60 9zm60-10l60-10 35 23-60 10zm60-10l60-9 35 22-60 10zm60-9l60-10 35 23-60 9zm60-10l60-9 35 22-60 10zm60-9l60-10 35 23-60 9zm60-10l60-9 35 22-60 10zm60-9l60-10 35 23-60 9zm60-10l60-9 35 23-60 9zm60-9l60-9 35 23-60 9zm60-9l60-10 35 23-60 10zm60-10l60-9 35 23-60 9z"/>
<path fill="#009" stroke="#00006b" d="M4102 5641l60-12 34 19-60 11zm60-12l60-11 34 18-60 12zm60-11l60-11 34 18-60 11zm60-11l60-12 34 19-60 11zm60-12l60-12 34 19-60 12zm60-12l60-11 35 18-61 12zm60-11l60-12 35 19-60 11zm60-12l60-12 35 19-60 12zm60-12l60-11 35 18-60 12zm60-11l60-12 35 18-60 12zm60-12l60-12 35 19-60 11zm60-12l60-12 35 19-60 12zm60-12l60-12 35 19-60 12zm60-12l60-12 35 19-60 12zm3721-649l60-8 35 19-60 8zm60-8l60-8 35 19-60 8zm60-8l60-9 35 19-60 9zm60-9l60-8 35 18-60 9zm60-8l60-9 35 18-60 9zm60-9l60-9 35 18-60 9zm60-9l60-9 35 18-60 9z"/>
<path fill="#00009e" stroke="#00006e" d="M4942 5477l60-12 35 19-60 12zm60-12l60-13 35 19-60 13zm60-13l60-12 35 19-60 12zm60-12l60-12 35 19-60 12zm60-12l60-12 35 19-60 12zm60-12l60-12 35 19-60 12zm60-12l60-13 35 20-60 12zm60-13l60-12 35 20-60 12zm60-12l60-12 35 19-60 13zm60-12l60-12 35 19-60 12zm60-12l60-12 35 19-60 12zm60-12l60-12 35 19-60 12zm60-12l60-13 35 20-60 12zm60-13l60-11 35 19-60 12zm60-11l60-12 35 19-60 12zm1921-336l60-9 35 22-60 9zm60-9l60-9 35 22-60 9zm60-9l60-10 35 22-60 10zm60-10l60-9 35 22-60 9zm60-9l60-9 35 22-60 9zm60-9l60-9 35 22-60 9zm60-9l60-9 35 22-60 9zm60-9l60-9 35 22-60 9zm60-9l60-9 35 22-60 9zm60-9l60-8 35 21-60 9zm60-8l60-9 35 21-60 9zm60-9l60-8 35 21-60 8zm60-8l60-8 35 20-60 9zm60-8l60-8 35 20-60 8zm60-8l60-8 35 19-60 9z"/>
<path fill="#0000a3" stroke="#000072" d="M5842 5295l60-12 35 20-60 11zm60-12l60-12 35 20-60 12zm60-12l60-12 35 20-60 12zm60-12l60-11 35 20-60 11zm60-11l60-12 35 20-60 12zm60-12l60-11 35 20-60 11zm60-11l60-11 35 20-60 11zm60-11l60-11 35 20-60 11zm60-11l60-12 35 21-60 11zm60-12l60-10 35 20-60 11zm60-10l60-11 35 20-60 11zm60-11l60-11 35 21-60 10zm60-11l60-11 35 21-60 11zm60-11l60-10 35 21-60 10zm60-10l60-11 35 21-60 11zm60-11l61-10 34 21-60 10zm61-10l60-10 34 21-60 10zm60-10l60-10 34 21-60 10zm60-10l60-10 34 21-60 10zm60-10l60-10 34 21-60 10zm60-10l60-10 34 21-60 10zm60-10l60-10 34 21-60 10zm60-10l60-10 34 22-60 9zm60-10l60-9 34 21-60 10zm60-9l60-10 34 22-60 9zm60-10l60-10 35 22-61 10zm60-10l60-9 35 22-60 9zm60-9l60-10 35 22-60 10zm60-10l60-9 35 22-60 9zm60-9l60-10 35 22-60 10zm60-10l60-9 35 22-60 9z"/>
<path fill="#009" stroke="#00006b" d="M4196 5648l60-12 35 19-60 11zm60-12l60-11 35 19-60 11zm60-11l60-11 35 18-60 12zm60-11l60-12 35 19-60 11zm60-12l61-12 34 19-60 12zm61-12l60-11 34 18-60 12zm60-11l60-12 34 19-60 11zm60-12l60-12 34 19-60 12zm60-12l60-12 34 19-60 12zm60-12l60-11 34 18-60 12zm60-11l60-12 34 19-60 11zm60-12l60-12 34 19-60 12zm60-12l60-12 34 19-60 12zm3661-640l60-9 35 20-60 8zm60-9l60-8 35 19-60 9zm60-8l60-8 35 18-60 9zm60-8l60-9 35 19-60 8zm60-9l60-9 35 19-60 9zm60-9l60-9 35 19-60 9zm60-9l60-9 35 19-60 9zm60-9l60-9 35 19-60 9z"/>
<path fill="#00009e" stroke="#00006e" d="M4977 5496l60-12 34 19-60 12zm60-12l60-13 35 20-61 12zm60-13l60-12 35 20-60 12zm60-12l60-12 35 19-60 13zm60-12l60-12 35 19-60 12zm60-12l60-12 35 19-60 12zm60-12l60-12 35 19-60 12zm60-12l60-12 35 19-60 12zm60-12l60-13 35 20-60 12zm60-13l60-12 35 20-60 12zm60-12l60-12 35 20-60 12zm60-12l60-12 35 20-60 12zm60-12l60-12 35 20-60 12zm60-12l60-12 35 20-60 12zm60-12l60-12 35 20-60 12zm60-12l60-11 35 20-60 11zm1621-283l60-10 34 21-60 10zm60-10l60-9 34 21-60 9zm60-9l60-10 34 22-60 9zm60-10l60-9 34 21-60 10zm60-9l60-9 34 21-60 9zm60-9l60-9 34 21-60 9zm60-9l60-10 34 22-60 9zm60-10l60-9 34 21-60 10zm60-9l60-9 34 21-60 9zm60-9l60-9 35 21-61 9zm60-9l60-9 35 21-60 9zm60-9l60-9 35 21-60 9zm60-9l60-9 35 20-60 10zm60-9l60-9 35 20-60 9zm60-9l60-9 35 20-60 9zm60-9l60-8 35 20-60 8zm60-8l60-9 35 20-60 9zm60-9l60-8 35 19-60 9z"/>
<path fill="#0000a3" stroke="#000072" d="M5937 5303l60-12 35 20-60 12zm60-12l60-12 35 20-60 12zm60-12l60-11 35 20-60 11zm60-11l60-12 35 21-60 11zm60-12l60-11 35 20-60 12zm60-11l60-11 35 20-60 11zm60-11l60-11 35 20-60 11zm60-11l60-11 35 20-60 11zm60-11l60-11 35 20-60 11zm60-11l60-11 35 21-60 10zm60-11l60-10 35 20-60 11zm60-10l60-11 35 21-60 10zm60-11l60-10 35 20-60 11zm60-10l60-11 35 21-60 10zm60-11l60-10 35 21-60 10zm60-10l60-10 35 21-60 10zm60-10l60-10 35 21-60 10zm60-10l60-10 35 21-60 10zm60-10l60-10 35 21-60 10zm60-10l60-10 35 21-60 10zm60-10l60-10 35 22-60 9zm60-10l60-9 35 21-60 10zm60-9l60-10 35 21-60 10zm60-10l60-9 35 21-60 9zm60-9l61-10 34 21-60 10zm61-10l60-9 34 21-60 9z"/>
<path fill="#009" stroke="#00006b" d="M4231 5666l60-11 35 19-60 11zm60-11l60-11 35 18-60 12zm60-11l60-12 35 19-60 11zm60-12l60-11 35 18-60 12zm60-11l60-12 35 19-60 11zm60-12l60-12 35 19-60 12zm60-12l60-11 35 19-60 11zm60-11l60-12 35 19-60 12zm60-12l60-12 35 19-60 12zm60-12l60-12 35 19-60 12zm60-12l60-11 35 19-60 11zm60-11l60-12 35 19-60 12zm60-12l60-12 35 19-60 12zm60-12l60-12 35 19-60 12zm3542-619l60-9 34 20-60 8zm60-9l60-8 34 19-60 9zm60-8l60-9 35 19-61 9zm60-9l60-9 35 19-60 9zm60-9l60-8 35 18-60 9zm60-8l60-9 35 18-60 9zm60-9l60-9 35 18-60 9zm60-9l60-9 35 18-60 9zm60-9l60-9 35 18-60 9z"/>
<path fill="#00009e" stroke="#00006e" d="M5071 5503l61-12 34 19-60 12zm61-12l60-12 34 19-60 12zm60-12l60-13 34 20-60 12zm60-13l60-12 34 20-60 12zm60-12l60-12 34 20-60 12zm60-12l60-12 34 20-60 12zm60-12l60-12 34 20-60 12zm60-12l60-12 34 20-60 12zm60-12l60-12 34 20-60 12zm60-12l60-12 34 20-60 12zm60-12l60-12 35 20-61 12zm60-12l60-12 35 20-60 12zm60-12l60-12 35 20-60 12zm60-12l60-12 35 20-60 12zm60-12l60-11 35 20-60 11zm60-11l60-12 35 20-60 12zm60-12l60-12 35 21-60 11zm1320-231l60-9 35 21-60 9zm60-9l60-10 35 21-60 10zm60-10l60-9 35 21-60 9zm60-9l60-10 35 21-60 10zm60-10l60-9 35 21-60 9zm60-9l60-9 35 21-60 9zm60-9l60-10 35 21-60 10zm60-10l60-9 35 21-60 9zm60-9l60-9 35 21-60 9zm60-9l60-9 35 20-60 10zm60-9l60-10 35 21-60 9zm60-10l60-9 35 21-60 9zm60-9l61-9 34 21-60 9zm61-9l60-9 34 20-60 10zm60-9l60-9 34 20-60 9zm60-9l60-10 34 21-60 9zm60-10l60-9 34 21-60 9zm60-9l60-9 34 20-60 10zm60-9l60-8 34 19-60 9zm60-8l60-9 34 19-60 9z"/>
<path fill="#0000a3" stroke="#000072" d="M6092 5299l60-11 35 20-60 12zm60-11l60-11 35 20-60 11zm60-11l60-12 35 21-60 11zm60-12l60-11 35 20-60 12zm60-11l60-11 35 20-60 11zm60-11l60-11 35 21-60 10zm60-11l60-11 35 21-60 11zm60-11l60-10 35 20-60 11zm60-10l60-11 35 21-60 10zm60-11l60-10 35 20-60 11zm60-10l60-11 35 21-60 10zm60-11l60-10 35 21-60 10zm60-10l60-10 35 20-60 11zm60-10l60-10 35 20-60 10zm60-10l60-10 35 20-60 10zm60-10l60-10 35 20-60 10zm60-10l60-10 35 21-60 9zm60-10l60-10 35 21-60 10zm60-10l60-9 35 20-60 10zm60-9l60-10 35 21-60 9zm60-10l60-10 35 21-60 10z"/>
<path fill="#009" stroke="#00006b" d="M4266 5685l60-11 35 18-60 11zm60-11l60-12 35 19-60 11zm60-12l60-11 35 18-60 12zm60-11l60-12 35 19-60 11zm60-12l60-11 35 18-60 12zm60-11l60-12 35 19-60 11zm60-12l60-11 35 18-60 12zm60-11l60-12 35 19-60 11zm60-12l60-12 35 19-60 12zm60-12l60-12 35 19-60 12zm60-12l60-11 35 18-60 12zm60-11l60-12 35 19-60 11zm60-12l60-12 35 19-60 12zm60-12l60-12 35 19-60 12zm60-12l60-12 35 19-60 12zm3421-598l60-9 35 20-60 9zm60-9l60-8 35 19-60 9zm60-8l60-9 35 19-60 9zm60-9l61-9 34 19-60 9zm61-9l60-9 34 19-60 9zm60-9l60-9 34 19-60 9zm60-9l60-9 34 19-60 9zm60-9l60-9 34 19-60 9zm60-9l60-9 34 18-60 10zm60-9l60-9 34 18-60 9z"/>
<path fill="#00009e" stroke="#00006e" d="M5166 5510l60-12 35 19-60 12zm60-12l60-12 35 19-60 12zm60-12l60-12 35 19-60 12zm60-12l60-12 35 19-60 12zm60-12l60-12 35 19-60 12zm60-12l60-12 35 19-60 12zm60-12l60-12 35 19-60 12zm60-12l60-12 35 19-60 12zm60-12l60-12 35 19-60 12zm60-12l61-12 34 19-60 12zm61-12l60-12 34 20-60 11zm60-12l60-12 34 20-60 12zm60-12l60-12 34 20-60 12zm60-12l60-11 34 20-60 11zm60-11l60-12 34 20-60 12zm60-12l60-11 34 20-60 11zm60-11l60-12 34 20-60 12zm60-12l60-11 34 20-60 11zm1020-178l60-10 35 21-60 9zm60-10l60-9 35 20-60 10zm60-9l60-10 35 21-60 9zm60-10l60-9 35 20-60 10zm60-9l60-10 35 21-60 9zm60-10l60-9 35 20-60 10zm60-9l60-10 35 21-60 9zm60-10l60-9 35 20-60 10zm60-9l60-9 35 20-60 9zm60-9l60-10 35 21-60 9zm60-10l60-9 35 20-60 10zm60-9l60-9 35 20-60 9zm60-9l60-10 35 21-60 9zm60-10l60-9 35 20-60 10zm60-9l60-9 35 20-60 9zm60-9l60-9 35 20-60 9zm60-9l60-10 35 21-60 9zm60-10l60-9 35 20-60 10zm60-9l60-9 35 20-60 9zm60-9l60-9 35 20-60 9zm60-9l60-10 35 20-60 10zm60-10l60-9 35 20-60 9z"/>
<path fill="#0000a3" stroke="#000072" d="M6247 5297l60-11 34 20-60 11zm60-11l60-12 34 21-60 11zm60-12l60-11 35 21-61 11zm60-11l60-10 35 20-60 11zm60-10l60-11 35 20-60 11zm60-11l60-11 35 20-60 11zm60-11l60-10 35 20-60 10zm60-10l60-11 35 21-60 10zm60-11l60-10 35 20-60 11zm60-10l60-10 35 20-60 10zm60-10l60-11 35 21-60 10zm60-11l60-10 35 21-60 10zm60-10l60-10 35 21-60 10zm60-10l60-10 35 21-60 10zm60-10l60-9 35 20-60 10zm60-9l60-10 35 20-60 10z"/>
<path fill="#009" stroke="#00006b" d="M4361 5692l60-11 35 18-60 12zm60-11l60-12 35 19-60 11zm60-12l60-11 35 19-60 11zm60-11l60-12 35 19-60 12zm60-12l60-11 35 19-60 11zm60-11l60-12 35 19-60 12zm60-12l60-11 35 18-60 12zm60-11l60-12 35 19-60 11zm60-12l60-12 35 19-60 12zm60-12l60-12 35 19-60 12zm60-12l60-11 35 19-60 11zm60-11l60-12 35 19-60 12zm60-12l60-12 35 19-60 12zm60-12l60-12 35 19-60 12zm3361-588l60-9 35 20-60 9zm60-9l60-9 35 19-60 10zm60-9l60-9 35 19-60 9zm60-9l60-9 35 19-60 9zm60-9l60-9 35 19-60 9zm60-9l60-9 35 19-60 9zm60-9l60-9 35 18-60 10zm60-9l60-9 35 18-60 9zm60-9l60-9 35 18-60 9zm60-9l60-10 35 19-60 9zm60-10l60-9 35 18-60 10z"/>
<path fill="#00009e" stroke="#00006e" d="M5201 5529l60-12 35 19-60 12zm60-12l60-12 35 19-60 12zm60-12l60-12 35 19-60 12zm60-12l60-12 35 19-60 12zm60-12l60-12 35 20-60 11zm60-12l60-12 35 20-60 12zm60-12l60-12 35 20-60 12zm60-12l60-12 35 20-60 12zm60-12l60-12 35 20-60 12zm60-12l60-12 35 20-60 12zm60-12l60-11 35 19-60 12zm60-11l60-12 35 20-60 11zm60-12l60-12 35 20-60 12zm60-12l60-11 35 20-60 11zm60-11l60-12 35 20-60 12zm60-12l60-11 35 20-60 11zm60-11l60-12 35 20-60 12zm60-12l60-11 35 20-60 11zm60-11l60-11 35 20-60 11zm60-11l60-11 35 20-60 11zm721-126l60-10 35 20-60 10zm60-10l60-10 35 21-60 9zm60-10l60-10 35 21-60 10zm60-10l60-9 35 20-60 10zm60-9l60-10 35 21-60 9zm60-10l60-9 35 20-60 10zm60-9l60-10 35 21-60 9zm60-10l60-9 35 20-60 10zm60-9l60-10 35 21-60 9zm60-10l60-9 35 20-60 10zm60-9l60-10 35 21-60 9zm60-10l60-9 35 20-60 10zm60-9l60-9 35 20-60 9zm60-9l60-10 35 21-60 9zm60-10l60-9 35 20-60 10zm60-9l60-9 35 20-60 9zm60-9l60-10 35 21-60 9zm60-10l60-9 35 20-60 10zm60-9l60-9 35 20-60 9zm60-9l60-9 35 20-60 9zm60-9l60-10 35 20-60 10zm60-10l60-9 35 20-60 9zm60-9l60-9 35 19-60 10zm60-9l60-10 35 20-60 9z"/>
<path fill="#0000a3" stroke="#000072" d="M6401 5295l61-11 34 20-60 11zm61-11l60-11 34 20-60 11zm60-11l60-11 34 20-60 11zm60-11l60-11 34 21-60 10zm60-11l60-10 34 20-60 11zm60-10l60-10 34 20-60 10zm60-10l60-11 34 21-60 10zm60-11l60-10 34 20-60 11zm60-10l60-10 34 20-60 10zm60-10l60-10 34 20-60 10zm60-10l60-10 35 20-61 10z"/>
<path fill="#009" stroke="#00006b" d="M4396 5711l60-12 34 19-60 11zm60-12l60-11 34 19-60 11zm60-11l60-11 34 18-60 12zm60-11l60-12 34 19-60 11zm60-12l60-11 34 18-60 12zm60-11l60-12 35 19-61 11zm60-12l60-12 35 19-60 12zm60-12l60-11 35 19-60 11zm60-11l60-12 35 19-60 12zm60-12l60-12 35 19-60 12zm60-12l60-11 35 19-60 11zm60-11l60-12 35 19-60 12zm60-12l60-12 35 19-60 12zm60-12l60-12 35 19-60 12zm60-12l60-12 35 19-60 12zm3181-556l60-10 35 20-60 10zm60-10l60-9 35 20-60 9zm60-9l60-9 35 19-60 10zm60-9l60-10 35 20-60 9zm60-10l60-9 35 19-60 10zm60-9l60-9 35 19-60 9zm60-9l60-9 35 19-60 9zm60-9l60-9 35 18-60 10zm60-9l60-10 35 19-60 9zm60-10l60-9 35 19-60 9zm60-9l60-9 35 18-60 10zm60-9l60-9 35 18-60 9zm60-9l60-10 35 19-60 9z"/>
<path fill="#00009e" stroke="#00006e" d="M5296 5536l60-12 35 20-60 11zm60-12l60-12 35 20-60 12zm60-12l60-12 35 20-60 12zm60-12l60-11 35 19-60 12zm60-11l60-12 35 19-60 12zm60-12l60-12 35 19-60 12zm60-12l60-12 35 20-60 11zm60-12l60-12 35 20-60 12zm60-12l60-12 35 20-60 12zm60-12l60-12 35 20-60 12zm60-12l60-11 35 20-60 11zm60-11l60-12 35 20-60 12zm60-12l60-11 35 20-60 11zm60-11l60-12 35 20-60 12zm60-12l60-11 35 20-60 11zm60-11l60-12 35 20-60 12zm60-12l60-11 35 20-60 11zm60-11l60-11 35 20-60 11zm60-11l60-11 35 20-60 11zm60-11l60-11 35 20-60 11zm60-11l60-11 35 20-60 11zm60-11l60-11 35 21-60 10zm60-11l60-10 35 20-60 11zm60-10l60-11 35 21-60 10zm60-11l60-10 35 20-60 11zm60-10l60-10 35 20-60 10zm60-10l60-11 35 21-60 10zm60-11l60-10 35 21-60 10zm60-10l60-10 35 21-60 10zm60-10l61-10 34 21-60 10zm61-10l60-10 34 21-60 10zm60-10l60-9 34 20-60 10zm60-9l60-10 34 20-60 10zm60-10l60-10 34 21-60 9zm60-10l60-9 34 20-60 10zm60-9l60-10 34 20-60 10zm60-10l60-9 34 20-60 9zm60-9l60-10 34 20-60 10zm60-10l60-9 34 20-60 9zm60-9l60-10 34 20-60 10zm60-10l60-9 35 20-61 9zm60-9l60-10 35 21-60 9zm60-10l60-9 35 20-60 10zm60-9l60-9 35 20-60 9zm60-9l60-10 35 20-60 10zm60-10l60-9 35 20-60 9zm60-9l60-9 35 20-60 9zm60-9l60-10 35 20-60 10zm60-10l60-9 35 20-60 9zm60-9l60-9 35 19-60 10zm60-9l60-10 35 20-60 9zm60-10l60-9 35 20-60 9z"/>
<path fill="#009" stroke="#00006b" d="M4490 5718l60-11 35 18-60 11zm60-11l60-12 35 19-60 11zm60-12l60-11 35 18-60 12zm60-11l60-12 35 19-60 11zm60-12l61-11 34 19-60 11zm61-11l60-12 34 19-60 12zm60-12l60-11 34 19-60 11zm60-11l60-12 34 19-60 12zm60-12l60-12 34 19-60 12zm60-12l60-11 34 19-60 11zm60-11l60-12 34 19-60 12zm60-12l60-12 34 19-60 12zm60-12l60-12 34 19-60 12zm60-12l60-12 34 20-60 11zm60-12l60-11 35 19-61 12zm3061-534l60-9 35 19-61 10zm60-9l60-10 35 20-60 9zm60-10l60-9 35 19-60 10zm60-9l60-10 35 20-60 9zm60-10l60-9 35 19-60 10zm60-9l60-10 35 19-60 10zm60-10l60-9 35 19-60 9zm60-9l60-9 35 18-60 10zm60-9l60-10 35 19-60 9zm60-10l60-9 35 19-60 9zm60-9l60-9 35 18-60 10zm60-9l60-10 35 19-60 9zm60-10l60-9 35 18-60 10zm60-9l60-9 35 18-60 9z"/>
<path fill="#00009e" stroke="#00006e" d="M5391 5544l60-12 35 19-60 12zm60-12l60-12 35 19-60 12zm60-12l60-12 35 19-60 12zm60-12l60-12 35 20-60 11zm60-12l60-12 35 20-60 12zm60-12l60-11 35 19-60 12zm60-11l60-12 35 19-60 12zm60-12l60-12 35 20-60 11zm60-12l60-12 35 20-60 12zm60-12l60-11 35 20-60 11zm60-11l60-12 35 20-60 12zm60-12l60-11 35 19-60 12zm60-11l60-12 35 20-60 11zm60-12l60-11 35 20-60 11zm60-11l60-12 35 20-60 12zm60-12l60-11 35 20-60 11zm60-11l60-11 35 20-60 11zm60-11l60-11 35 20-60 11zm60-11l60-11 35 20-60 11zm60-11l60-11 35 21-60 10zm60-11l60-10 35 20-60 11zm60-10l60-11 35 20-60 11zm60-11l60-10 35 20-60 10zm60-10l60-11 35 20-60 11zm60-11l60-10 35 20-60 10zm60-10l60-10 35 20-60 10zm60-10l60-10 35 20-60 10zm60-10l60-10 35 20-60 10zm60-10l60-10 35 20-60 10zm60-10l60-10 35 20-60 10zm60-10l60-10 35 20-60 10zm60-10l60-10 35 20-60 10zm60-10l60-9 35 20-60 9zm60-9l60-10 35 20-60 10zm60-10l60-10 35 21-60 9zm60-10l60-9 35 20-60 10zm60-9l60-10 35 20-60 10zm60-10l60-9 35 20-60 9zm60-9l60-10 35 21-60 9zm60-10l61-9 34 20-60 10zm61-9l60-9 34 20-60 9zm60-9l60-10 34 20-60 10zm60-10l60-9 34 20-60 9zm60-9l60-10 34 20-60 10zm60-10l60-9 34 20-60 9zm60-9l60-9 34 19-60 10zm60-9l60-10 34 20-60 9zm60-10l60-9 34 20-60 9zm60-9l60-10 34 20-60 10zm60-10l60-9 34 20-60 9z"/>
<path fill="#009" stroke="#00006b" d="M4525 5736l60-11 35 19-60 11zm60-11l60-11 35 18-60 12zm60-11l60-12 35 19-60 11zm60-12l60-11 35 19-60 11zm60-11l60-11 35 18-60 12zm60-11l60-12 35 19-60 11zm60-12l60-11 35 18-60 12zm60-11l60-12 35 19-60 11zm60-12l60-12 35 19-60 12zm60-12l60-11 35 19-60 11zm60-11l60-12 35 19-60 12zm60-12l60-12 35 19-60 12zm60-12l60-12 35 20-60 11zm60-12l60-11 35 19-60 12zm60-11l61-12 34 19-60 12zm61-12l60-12 34 19-60 12zm2880-503l60-10 35 20-60 9zm60-10l60-9 35 19-60 10zm60-9l61-10 34 20-60 9zm61-10l60-9 34 19-60 10zm60-9l60-10 34 19-60 10zm60-10l60-9 34 19-60 9zm60-9l60-10 34 19-60 10zm60-10l60-10 34 20-60 9zm60-10l60-9 34 19-60 10zm60-9l60-10 34 19-60 10zm60-10l60-9 34 19-60 9zm60-9l60-9 34 18-60 10zm60-9l60-10 35 19-61 9zm60-10l60-9 35 18-60 10zm60-9l60-10 35 19-60 9zm60-10l60-9 35 18-60 10z"/>
<path fill="#00009e" stroke="#00006e" d="M5486 5551l60-12 34 20-60 11zm60-12l60-12 34 20-60 12zm60-12l60-11 34 19-60 12zm60-11l60-12 34 19-60 12zm60-12l60-12 34 20-60 11zm60-12l60-12 34 20-60 12zm60-12l60-11 34 19-60 12zm60-11l60-12 34 20-60 11zm60-12l60-11 34 19-60 12zm60-11l60-12 35 20-61 11zm60-12l60-12 35 20-60 12zm60-12l60-11 35 20-60 11zm60-11l60-11 35 20-60 11zm60-11l60-12 35 21-60 11zm60-12l60-11 35 20-60 12zm60-11l60-11 35 20-60 11zm60-11l60-11 35 20-60 11zm60-11l60-11 35 21-60 10zm60-11l60-10 35 20-60 11zm60-10l60-11 35 20-60 11zm60-11l60-11 35 21-60 10zm60-11l60-10 35 20-60 11zm60-10l60-11 35 21-60 10zm60-11l60-10 35 20-60 11zm60-10l60-10 35 20-60 10zm60-10l60-10 35 20-60 10zm60-10l60-10 35 20-60 10zm60-10l60-10 35 20-60 10zm60-10l60-10 35 20-60 10zm60-10l60-10 35 20-60 10zm60-10l60-10 35 21-60 9zm60-10l60-9 35 20-60 10zm60-9l60-10 35 20-60 10zm60-10l60-9 35 20-60 9zm60-9l60-10 35 20-60 10zm60-10l60-10 35 21-60 9zm60-10l60-9 35 20-60 10zm60-9l60-9 35 20-60 9zm60-9l60-10 35 20-60 10zm60-10l60-9 35 20-60 9zm60-9l60-10 35 20-60 10zm60-10l60-9 35 20-60 9zm60-9l60-10 35 20-60 10zm60-10l60-9 35 20-60 9zm60-9l60-10 35 20-60 10zm60-10l60-9 35 20-60 9zm60-9l60-9 35 19-60 10z"/>
<path fill="#009" stroke="#00006b" d="M4620 5744l60-12 35 19-60 11zm60-12l60-11 35 19-60 11zm60-11l60-11 35 18-60 12zm60-11l60-12 35 19-60 11zm60-12l60-11 35 19-60 11zm60-11l60-12 35 19-60 12zm60-12l60-11 35 19-60 11zm60-11l60-12 35 19-60 12zm60-12l60-11 35 19-60 11zm60-11l60-12 35 19-60 12zm60-12l60-12 35 19-60 12zm60-12l60-11 35 19-60 11zm60-11l60-12 35 19-60 12zm60-12l60-12 35 19-60 12zm60-12l60-12 35 20-60 11zm2821-493l60-10 35 20-60 9zm60-10l60-9 35 19-60 10zm60-9l60-10 35 20-60 9zm60-10l60-9 35 19-60 10zm60-9l60-10 35 19-60 10zm60-10l60-10 35 20-60 9zm60-10l60-9 35 19-60 10zm60-9l60-10 35 19-60 10zm60-10l60-9 35 19-60 9zm60-9l60-10 35 19-60 10zm60-10l60-10 35 19-60 10zm60-10l60-9 35 19-60 9zm60-9l60-10 35 19-60 10zm60-10l61-9 34 18-60 10zm61-9l60-10 34 19-60 9zm60-10l60-9 34 18-60 10zm60-9l60-10 34 19-60 9z"/>
<path fill="#00009e" stroke="#00006e" d="M5520 5570l60-11 35 19-60 12zm60-11l60-12 35 19-60 12zm60-12l60-12 35 20-60 11zm60-12l60-12 35 20-60 12zm60-12l60-11 35 19-60 12zm60-11l60-12 35 20-60 11zm60-12l60-12 35 20-60 12zm60-12l60-11 35 20-60 11zm60-11l60-12 35 20-60 12zm60-12l61-11 34 20-60 11zm61-11l60-12 34 20-60 12zm60-12l60-11 34 20-60 11zm60-11l60-11 34 20-60 11zm60-11l60-11 34 20-60 11zm60-11l60-12 34 20-60 12zm60-12l60-11 34 20-60 11zm60-11l60-11 34 21-60 10zm60-11l60-10 34 20-60 11zm60-10l60-11 34 20-60 11zm60-11l60-11 35 20-61 11zm60-11l60-10 35 20-60 10zm60-10l60-11 35 20-60 11zm60-11l60-10 35 20-60 10zm60-10l60-11 35 21-60 10zm60-11l60-10 35 20-60 11zm60-10l60-10 35 20-60 10zm60-10l60-10 35 20-60 10zm60-10l60-10 35 20-60 10zm60-10l60-10 35 20-60 10zm60-10l60-10 35 20-60 10zm60-10l60-9 35 20-60 9zm60-9l60-10 35 20-60 10zm60-10l60-10 35 20-60 10zm60-10l60-9 35 20-60 9zm60-9l60-10 35 20-60 10zm60-10l60-9 35 19-60 10zm60-9l60-10 35 20-60 9zm60-10l60-9 35 19-60 10zm60-9l60-10 35 20-60 9zm60-10l60-9 35 19-60 10zm60-9l60-10 35 20-60 9zm60-10l60-9 35 19-60 10zm60-9l60-10 35 20-60 9zm60-10l60-9 35 19-60 10zm60-9l60-10 35 20-60 9zm60-10l60-9 35 19-60 10z"/>
<path fill="#009" stroke="#00006b" d="M4655 5762l60-11 35 19-60 11zm60-11l60-11 35 18-60 12zm60-11l60-12 35 19-60 11zm60-12l60-11 35 19-60 11zm60-11l60-11 35 18-60 12zm60-11l60-12 35 19-60 11zm60-12l60-11 35 19-60 11zm60-11l60-12 35 19-60 12zm60-12l60-11 35 19-60 11zm60-11l60-12 35 19-60 12zm60-12l60-12 35 20-60 11zm60-12l60-11 35 19-60 12zm60-11l60-12 35 19-60 12zm60-12l60-12 35 20-60 11zm60-12l60-11 35 19-60 12zm60-11l60-12 35 19-60 12zm2641-463l60-9 35 19-60 10zm60-9l60-10 35 20-60 9zm60-10l60-9 35 19-60 10zm60-9l60-10 35 20-60 9zm60-10l60-9 35 19-60 10zm60-9l60-10 35 19-60 10zm60-10l60-10 35 20-60 9zm60-10l60-9 35 19-60 10zm60-9l60-10 35 19-60 10zm60-10l60-10 35 19-60 10zm60-10l60-9 35 19-60 9zm60-9l60-10 35 19-60 10zm60-10l60-10 35 19-60 10zm60-10l60-9 35 18-60 10zm60-9l60-10 35 19-60 9zm60-10l60-10 35 19-60 10zm60-10l60-9 35 18-60 10zm60-9l60-10 35 18-60 10z"/>
<path fill="#00009e" stroke="#00006e" d="M5615 5578l60-12 35 20-60 11zm60-12l60-11 35 19-60 12zm60-11l60-12 35 20-60 11zm60-12l60-12 35 20-60 12zm60-12l60-11 35 19-60 12zm60-11l60-12 35 20-60 11zm60-12l60-11 35 19-60 12zm60-11l60-12 35 20-60 11zm60-12l60-11 35 20-60 11zm60-11l60-12 35 20-60 12zm60-12l60-11 35 20-60 11zm60-11l60-11 35 20-60 11zm60-11l60-11 35 20-60 11zm60-11l60-12 35 21-60 11zm60-12l60-11 35 21-60 11zm60-11l60-10 35 20-60 11zm60-10l60-11 35 20-60 11zm60-11l60-11 35 20-60 11zm60-11l61-11 34 20-60 11zm61-11l60-10 34 20-60 10zm60-10l60-11 34 20-60 11zm60-11l60-10 34 20-60 10zm60-10l60-10 34 20-60 10zm60-10l60-11 34 20-60 11zm60-11l60-10 34 20-60 10zm60-10l60-10 34 20-60 10zm60-10l60-10 34 20-60 10zm60-10l60-10 34 20-60 10zm60-10l60-10 34 21-60 9zm60-10l60-9 35 20-61 10zm60-9l60-10 35 20-60 10zm60-10l60-10 35 20-60 10zm60-10l60-9 35 20-60 9zm60-9l60-10 35 20-60 10zm60-10l60-10 35 20-60 10zm60-10l60-9 35 20-60 9zm60-9l60-10 35 20-60 10zm60-10l60-9 35 20-60 9zm60-9l60-10 35 20-60 10zm60-10l60-9 35 20-60 9zm60-9l60-10 35 20-60 10zm60-10l60-9 35 20-60 9zm60-9l60-10 35 20-60 10z"/>
<path fill="#009" stroke="#00006b" d="M4750 5770l60-12 34 19-60 11zm60-12l60-11 34 19-60 11zm60-11l60-11 34 19-60 11zm60-11l60-12 34 19-60 12zm60-12l60-11 34 19-60 11zm60-11l60-11 35 18-61 12zm60-11l60-12 35 19-60 11zm60-12l60-11 35 19-60 11zm60-11l60-12 35 19-60 12zm60-12l60-11 35 19-60 11zm60-11l60-12 35 19-60 12zm60-12l60-12 35 19-60 12zm60-12l60-11 35 19-60 11zm60-11l60-12 35 19-60 12zm60-12l60-12 35 20-60 11zm60-12l60-11 35 19-60 12zm2521-440l60-10 35 20-60 9zm60-10l60-10 35 20-60 10zm60-10l60-9 35 19-60 10zm60-9l60-10 35 20-60 9zm60-10l60-9 35 19-60 10zm60-9l60-10 35 19-60 10zm60-10l60-10 35 20-60 9zm60-10l60-9 35 19-60 10zm60-9l60-10 35 19-60 10zm60-10l60-10 35 19-60 10zm60-10l60-10 35 20-60 9zm60-10l60-9 35 19-60 10zm60-9l60-10 35 19-60 10zm60-10l60-10 35 19-60 10zm60-10l60-10 35 19-60 10zm60-10l60-9 35 18-60 10zm60-9l60-10 35 18-60 10zm60-10l60-10 35 19-60 9zm60-10l60-10 35 19-60 10z"/>
<path fill="#00009e" stroke="#00006e" d="M5710 5586l60-12 35 20-60 11zm60-12l60-11 35 19-60 12zm60-11l60-12 35 20-60 11zm60-12l60-12 35 20-60 12zm60-12l60-11 35 20-60 11zm60-11l60-12 35 20-60 12zm60-12l60-11 35 20-60 11zm60-11l60-11 35 19-60 12zm60-11l60-12 35 20-60 11zm60-12l60-11 35 20-60 11zm60-11l60-11 35 20-60 11zm60-11l60-11 35 20-60 11zm60-11l60-11 35 20-60 11zm60-11l60-11 35 20-60 11zm60-11l60-11 35 20-60 11zm60-11l60-11 35 20-60 11zm60-11l60-11 35 20-60 11zm60-11l60-11 35 21-60 10zm60-11l60-10 35 20-60 11zm60-10l60-11 35 20-60 11zm60-11l60-10 35 20-60 10zm60-10l60-10 35 20-60 10zm60-10l60-11 35 21-60 10zm60-11l60-10 35 20-60 11zm60-10l60-10 35 20-60 10zm60-10l60-10 35 20-60 10zm60-10l60-10 35 20-60 10zm60-10l60-9 35 20-60 9zm60-9l61-10 34 20-60 10zm61-10l60-10 34 20-60 10zm60-10l60-10 34 20-60 10zm60-10l60-9 34 20-60 9zm60-9l60-10 34 20-60 10zm60-10l60-10 34 20-60 10zm60-10l60-9 34 20-60 9zm60-9l60-10 34 20-60 10zm60-10l60-9 34 19-60 10zm60-9l60-10 34 20-60 9zm60-10l60-9 35 19-61 10zm60-9l60-10 35 20-60 9zm60-10l60-9 35 19-60 10z"/>
<path fill="#009" stroke="#00006b" d="M4784 5788l60-11 35 19-60 11zm60-11l60-11 35 18-60 12zm60-11l60-11 35 18-60 11zm60-11l60-12 35 19-60 11zm60-12l60-11 35 19-60 11zm60-11l61-12 34 19-60 12zm61-12l60-11 34 19-60 11zm60-11l60-11 34 19-60 11zm60-11l60-12 34 19-60 12zm60-12l60-11 34 19-60 11zm60-11l60-12 34 19-60 12zm60-12l60-12 34 20-60 11zm60-12l60-11 34 19-60 12zm60-11l60-12 34 20-60 11zm60-12l60-11 34 19-60 12zm60-11l60-12 35 20-61 11zm60-12l60-11 35 19-60 12zm60-11l60-12 35 20-60 11zm2281-399l60-9 34 19-60 10zm60-9l60-10 34 20-60 9zm60-10l60-9 34 19-60 10zm60-9l60-10 34 19-60 10zm60-10l60-10 34 20-60 9zm60-10l60-9 34 19-60 10zm60-9l60-10 34 19-60 10zm60-10l60-10 34 20-60 9zm60-10l60-9 34 19-60 10zm60-9l60-10 34 19-60 10zm60-10l60-10 35 19-61 10zm60-10l60-10 35 19-60 10zm60-10l60-9 35 19-60 9zm60-9l60-10 35 19-60 10zm60-10l60-10 35 19-60 10zm60-10l60-10 35 19-60 10zm60-10l60-10 35 19-60 10zm60-10l60-10 35 19-60 10zm60-10l60-10 35 19-60 10zm60-10l60-9 35 18-60 10zm60-9l60-10 35 18-60 10z"/>
<path fill="#00009e" stroke="#00006e" d="M5865 5582l60-11 35 19-60 12zm60-11l60-12 35 20-60 11zm60-12l60-11 35 19-60 12zm60-11l60-12 35 20-60 11zm60-12l60-11 35 20-60 11zm60-11l60-12 35 20-60 12zm60-12l60-11 35 20-60 11zm60-11l60-11 35 20-60 11zm60-11l60-11 35 20-60 11zm60-11l60-11 35 20-60 11zm60-11l60-11 35 20-60 11zm60-11l60-11 35 20-60 11zm60-11l60-11 35 20-60 11zm60-11l60-11 35 20-60 11zm60-11l60-11 35 20-60 11zm60-11l60-10 35 20-60 10zm60-10l60-11 35 20-60 11zm60-11l60-11 35 21-60 10zm60-11l60-10 35 20-60 11zm60-10l60-10 35 20-60 10zm60-10l60-10 35 20-60 10zm60-10l60-11 35 20-60 11zm60-11l60-10 35 20-60 10zm60-10l60-10 35 20-60 10zm60-10l60-10 35 20-60 10zm60-10l60-9 35 19-60 10zm60-9l60-10 35 20-60 9zm60-10l60-10 35 20-60 10zm60-10l60-10 35 20-60 10zm60-10l60-9 35 19-60 10zm60-9l60-10 35 20-60 9zm60-10l60-10 35 20-60 10zm60-10l60-9 35 19-60 10zm60-9l60-10 35 20-60 9zm60-10l60-10 35 20-60 10zm60-10l60-9 35 20-60 9zm60-9l61-10 34 20-60 10z"/>
<path fill="#009" stroke="#00006b" d="M4879 5796l60-12 35 19-60 11zm60-12l60-11 35 19-60 11zm60-11l60-11 35 19-60 11zm60-11l60-11 35 18-60 12zm60-11l60-12 35 19-60 11zm60-12l60-11 35 19-60 11zm60-11l60-11 35 18-60 12zm60-11l60-12 35 19-60 11zm60-12l60-11 35 19-60 11zm60-11l60-12 35 19-60 12zm60-12l60-11 35 19-60 11zm60-11l60-12 35 19-60 12zm60-12l60-11 35 19-60 11zm60-11l60-12 35 19-60 12zm60-12l61-11 34 19-60 11zm61-11l60-12 34 20-60 11zm60-12l60-11 34 19-60 12zm60-11l60-12 34 20-60 11zm2100-368l60-9 35 19-60 10zm60-9l60-10 35 19-60 10zm60-10l60-10 35 20-60 9zm60-10l60-9 35 19-60 10zm60-9l60-10 35 19-60 10zm60-10l60-10 35 20-60 9zm60-10l60-9 35 19-60 10zm60-9l60-10 35 19-60 10zm60-10l60-10 35 20-60 9zm60-10l60-9 35 19-60 10zm60-9l60-10 35 19-60 10zm60-10l60-10 35 19-60 10zm60-10l61-10 34 19-60 10zm61-10l60-10 34 19-60 10zm60-10l60-9 34 19-60 9zm60-9l60-10 34 19-60 10zm60-10l60-10 34 19-60 10zm60-10l60-10 34 19-60 10zm60-10l60-10 34 19-60 10zm60-10l60-10 34 19-60 10zm60-10l60-10 34 19-60 10zm60-10l60-10 34 19-60 10z"/>
<path fill="#00009e" stroke="#00006e" d="M5960 5590l60-11 34 19-60 12zm60-11l60-12 34 20-60 11zm60-12l60-11 34 20-60 11zm60-11l60-11 34 19-60 12zm60-11l60-12 34 20-60 11zm60-12l60-11 34 20-60 11zm60-11l60-11 34 20-60 11zm60-11l60-11 35 19-61 12zm60-11l60-11 35 19-60 11zm60-11l60-11 35 19-60 11zm60-11l60-11 35 20-60 10zm60-11l60-11 35 20-60 11zm60-11l60-11 35 20-60 11zm60-11l60-11 35 20-60 11zm60-11l60-10 35 20-60 10zm60-10l60-11 35 20-60 11zm60-11l60-10 35 20-60 10zm60-10l60-11 35 20-60 11zm60-11l60-10 35 20-60 10zm60-10l60-10 35 20-60 10zm60-10l60-11 35 20-60 11zm60-11l60-10 35 20-60 10zm60-10l60-10 35 20-60 10zm60-10l60-10 35 20-60 10zm60-10l60-10 35 20-60 10zm60-10l60-9 35 20-60 9zm60-9l60-10 35 20-60 10zm60-10l60-10 35 20-60 10zm60-10l60-10 35 20-60 10zm60-10l60-9 35 19-60 10zm60-9l60-10 35 20-60 9zm60-10l60-10 35 20-60 10zm60-10l60-9 35 19-60 10zm60-9l60-10 35 20-60 9z"/>
<path fill="#009" stroke="#00006b" d="M4974 5803l60-11 35 19-60 11zm60-11l60-11 35 18-60 12zm60-11l60-12 35 19-60 11zm60-12l60-11 35 19-60 11zm60-11l60-11 35 19-60 11zm60-11l60-12 35 19-60 12zm60-12l60-11 35 19-60 11zm60-11l60-11 35 19-60 11zm60-11l60-12 35 19-60 12zm60-12l60-11 35 19-60 11zm60-11l60-12 35 20-60 11zm60-12l60-11 35 19-60 12zm60-11l60-12 35 20-60 11zm60-12l60-11 35 19-60 12zm60-11l60-11 35 19-60 11zm60-11l60-12 35 20-60 11zm60-12l60-11 35 19-60 12zm60-11l60-12 35 20-60 11zm1981-347l60-9 35 19-60 10zm60-9l60-10 35 20-60 9zm60-10l60-10 35 20-60 10zm60-10l60-9 35 19-60 10zm60-9l60-10 35 19-60 10zm60-10l60-10 35 20-60 9zm60-10l60-9 35 19-60 10zm60-9l60-10 35 19-60 10zm60-10l60-10 35 20-60 9zm60-10l60-9 35 19-60 10zm60-9l60-10 35 19-60 10zm60-10l60-10 35 19-60 10zm60-10l60-10 35 19-60 10zm60-10l60-10 35 19-60 10zm60-10l60-10 35 19-60 10zm60-10l60-9 35 18-60 10zm60-9l60-10 35 19-60 9zm60-10l60-10 35 19-60 10zm60-10l60-10 35 19-60 10zm60-10l60-10 35 19-60 10zm60-10l60-10 35 19-60 10zm60-10l60-10 35 18-60 11z"/>
<path fill="#00009e" stroke="#00006e" d="M6054 5598l60-11 35 19-60 12zm60-11l60-11 35 19-60 11zm60-11l60-12 35 20-60 11zm60-12l60-11 35 20-60 11zm60-11l60-11 35 20-60 11zm60-11l60-11 35 19-60 12zm60-11l61-12 34 20-60 11zm61-12l60-11 34 20-60 11zm60-11l60-11 34 20-60 11zm60-11l60-10 34 19-60 11zm60-10l60-11 34 20-60 10zm60-11l60-11 34 20-60 11zm60-11l60-11 34 20-60 11zm60-11l60-10 34 20-60 10zm60-10l60-11 34 20-60 11zm60-11l60-10 34 20-60 10zm60-10l60-11 35 20-61 11zm60-11l60-10 35 20-60 10zm60-10l60-10 35 20-60 10zm60-10l60-11 35 20-60 11zm60-11l60-10 35 20-60 10zm60-10l60-10 35 20-60 10zm60-10l60-10 35 20-60 10zm60-10l60-10 35 20-60 10zm60-10l60-9 35 19-60 10zm60-9l60-10 35 20-60 9zm60-10l60-10 35 20-60 10zm60-10l60-10 35 20-60 10zm60-10l60-10 35 20-60 10zm60-10l60-9 35 19-60 10zm60-9l60-10 35 20-60 9zm60-10l60-10 35 20-60 10z"/>
<path fill="#009" stroke="#00006b" d="M5069 5811l60-12 35 19-60 11zm60-12l60-11 35 19-60 11zm60-11l60-11 35 19-60 11zm60-11l60-11 35 19-60 11zm60-11l60-12 35 19-60 12zm60-12l60-11 35 19-60 11zm60-11l60-11 35 19-60 11zm60-11l60-12 35 19-60 12zm60-12l60-11 35 19-60 11zm60-11l60-11 35 19-60 11zm60-11l60-12 35 19-60 12zm60-12l60-11 35 19-60 11zm60-11l60-12 35 20-60 11zm60-12l60-11 35 19-60 12zm60-11l60-11 35 19-60 11zm60-11l60-12 35 20-60 11zm60-12l60-11 35 19-60 12zm60-11l60-12 35 20-60 11zm60-12l60-11 35 20-60 11zm1741-304l60-9 35 19-60 10zm60-9l60-10 35 20-60 9zm60-10l60-10 35 20-60 10zm60-10l60-9 35 19-60 10zm60-9l60-10 35 19-60 10zm60-10l60-10 35 20-60 9zm60-10l60-10 35 20-60 10zm60-10l60-9 35 19-60 10zm60-9l60-10 35 19-60 10zm60-10l60-10 35 20-60 9zm60-10l60-9 35 19-60 10zm60-9l60-10 35 19-60 10zm60-10l60-10 35 19-60 10zm60-10l60-10 35 19-60 10zm60-10l60-10 35 19-60 10zm60-10l60-10 35 19-60 10zm60-10l60-10 35 19-60 10zm60-10l60-10 35 19-60 10zm60-10l60-9 35 18-60 10zm60-9l60-10 35 18-60 10zm60-10l60-10 35 18-60 10zm60-10l60-10 35 18-60 10zm60-10l60-10 35 18-60 10z"/>
<path fill="#00009e" stroke="#00006e" d="M6209 5595l60-11 35 20-60 11zm60-11l60-11 35 19-60 12zm60-11l60-11 35 19-60 11zm60-11l60-12 35 20-60 11zm60-12l60-11 35 20-60 11zm60-11l60-11 35 20-60 11zm60-11l60-11 35 20-60 11zm60-11l60-11 35 20-60 11zm60-11l60-10 35 20-60 10zm60-10l60-11 35 20-60 11zm60-11l60-11 35 20-60 11zm60-11l60-10 35 20-60 10zm60-10l60-11 35 20-60 11zm60-11l60-10 35 20-60 10zm60-10l61-11 34 20-60 11zm61-11l60-10 34 20-60 10zm60-10l60-10 34 20-60 10zm60-10l60-11 34 20-60 11zm60-11l60-10 34 20-60 10zm60-10l60-10 34 20-60 10zm60-10l60-10 34 20-60 10zm60-10l60-10 34 20-60 10zm60-10l60-10 34 20-60 10zm60-10l60-9 34 19-60 10zm60-9l60-10 34 19-60 10zm60-10l60-10 35 20-61 9zm60-10l60-10 35 20-60 10zm60-10l60-10 35 20-60 10z"/>
<path fill="#009" stroke="#00006b" d="M5104 5829l60-11 34 19-60 11zm60-11l60-11 34 19-60 11zm60-11l60-11 34 19-60 11zm60-11l60-11 34 18-60 12zm60-11l60-12 35 19-61 11zm60-12l60-11 35 19-60 11zm60-11l60-11 35 19-60 11zm60-11l60-12 35 19-60 12zm60-12l60-11 35 19-60 11zm60-11l60-11 35 19-60 11zm60-11l60-12 35 19-60 12zm60-12l60-11 35 19-60 11zm60-11l60-11 35 19-60 11zm60-11l60-12 35 20-60 11zm60-12l60-11 35 19-60 12zm60-11l60-11 35 19-60 11zm60-11l60-12 35 20-60 11zm60-12l60-11 35 19-60 12zm60-11l60-11 35 19-60 11zm60-11l60-11 35 19-60 11zm60-11l60-12 35 20-60 11zm1501-262l60-10 34 19-60 10zm60-10l60-10 34 20-60 9zm60-10l60-10 34 20-60 10zm60-10l60-9 34 19-60 10zm60-9l60-10 34 19-60 10zm60-10l60-10 34 19-60 10zm60-10l60-10 34 20-60 9zm60-10l60-9 34 19-60 10zm60-9l60-10 34 19-60 10zm60-10l60-10 35 19-61 10zm60-10l60-10 35 19-60 10zm60-10l60-9 35 19-60 9zm60-9l60-10 35 19-60 10zm60-10l60-10 35 19-60 10zm60-10l60-10 35 19-60 10zm60-10l60-10 35 19-60 10zm60-10l60-10 35 19-60 10zm60-10l60-10 35 19-60 10zm60-10l60-10 35 19-60 10zm60-10l60-10 35 19-60 10zm60-10l60-10 35 19-60 10zm60-10l60-10 35 19-60 10zm60-10l60-10 35 19-60 10zm60-10l60-10 35 19-60 10z"/>
<path fill="#00009e" stroke="#00006e" d="M6364 5592l60-11 35 20-60 11zm60-11l60-11 35 20-60 11zm60-11l60-11 35 20-60 11zm60-11l60-11 35 20-60 11zm60-11l60-11 35 20-60 11zm60-11l60-11 35 20-60 11zm60-11l60-10 35 19-60 11zm60-10l60-11 35 20-60 10zm60-11l60-11 35 20-60 11zm60-11l60-10 35 19-60 11zm60-10l60-11 35 20-60 10zm60-11l60-10 35 19-60 11zm60-10l60-11 35 20-60 10zm60-11l60-10 35 20-60 10zm60-10l60-10 35 19-60 11zm60-10l60-11 35 20-60 10zm60-11l60-10 35 20-60 10zm60-10l60-10 35 20-60 10zm60-10l60-10 35 20-60 10zm60-10l60-10 35 20-60 10zm60-10l60-10 35 20-60 10zm60-10l60-10 35 20-60 10zm60-10l60-10 35 20-60 10zm60-10l61-9 34 19-60 10z"/>
<path fill="#009" stroke="#00006b" d="M5198 5837l60-11 35 18-60 11zm60-11l60-11 35 18-60 11zm60-11l60-12 35 19-60 11zm60-12l61-11 34 19-60 11zm61-11l60-11 34 19-60 11zm60-11l60-11 34 18-60 12zm60-11l60-12 34 19-60 11zm60-12l60-11 34 19-60 11zm60-11l60-11 34 19-60 11zm60-11l60-12 34 19-60 12zm60-12l60-11 34 19-60 11zm60-11l60-11 34 19-60 11zm60-11l60-11 34 19-60 11zm60-11l60-12 34 19-60 12zm60-12l60-11 35 19-61 11zm60-11l60-11 35 19-60 11zm60-11l60-12 35 20-60 11zm60-12l60-11 35 19-60 12zm60-11l60-11 35 19-60 11zm60-11l60-11 35 19-60 11zm60-11l60-11 35 19-60 11zm60-11l60-11 35 19-60 11zm1200-210l60-10 35 19-60 10zm60-10l60-10 35 19-60 10zm60-10l60-10 35 19-60 10zm60-10l60-10 35 20-60 9zm60-10l60-9 35 19-60 10zm60-9l60-10 35 19-60 10zm60-10l60-10 35 19-60 10zm60-10l60-10 35 19-60 10zm60-10l60-10 35 19-60 10zm60-10l60-9 35 19-60 9zm60-9l60-10 35 19-60 10zm60-10l60-10 35 19-60 10zm60-10l61-10 34 19-60 10zm61-10l60-10 34 19-60 10zm60-10l60-9 34 19-60 9zm60-9l60-10 34 19-60 10zm60-10l60-10 34 19-60 10zm60-10l60-10 34 19-60 10zm60-10l60-10 34 19-60 10zm60-10l60-10 34 19-60 10zm60-10l60-10 34 19-60 10zm60-10l60-10 34 19-60 10zm60-10l60-10 34 19-60 10zm60-10l60-10 35 19-61 10zm60-10l60-10 35 19-60 10z"/>
<path fill="#00009e" stroke="#00006e" d="M6519 5590l60-11 35 19-60 11zm60-11l60-11 35 19-60 11zm60-11l60-11 35 19-60 11zm60-11l60-11 35 19-60 11zm60-11l60-11 35 20-60 10zm60-11l60-10 35 19-60 11zm60-10l60-11 35 19-60 11zm60-11l60-11 35 20-60 10zm60-11l60-10 35 19-60 11zm60-10l60-11 35 20-60 10zm60-11l60-10 35 19-60 11zm60-10l60-10 35 19-60 10zm60-10l60-11 35 20-60 10zm60-11l60-10 35 19-60 11zm60-10l60-10 35 19-60 10zm60-10l60-10 35 19-60 10zm60-10l60-10 35 19-60 10zm60-10l60-10 35 19-60 10zm60-10l60-10 35 19-60 10z"/>
<path fill="none" stroke="#000" stroke-opacity=".6" d="M1094 4157L1154 4145L1214 4131L1274 4116L1334 4097L1394 4075L1454 4047L1514 4010L1574 3962L1634 3900L1694 3818L1754 3715L1814 3587L1874 3432L1934 3251L1994 3047L2054 2825L2114 2594L2174 2364L2234 2145L2294 1948L2354 1780L2414 1641L2474 1529L2534 1437L2595 1359L2655 1293L2715 1234L2775 1178L2835 1122L2895 1063L2955 999L3015 930L3075 857L3135 781L3195 705L3255 632L3315 567L3375 511L3435 468L3495 440L3555 429L3615 435L3675 460L3735 513L3795 614L3855 779L3915 998L3975 1243L4035 1488L4095 1723L4155 1942L4215 2143L4275 2325L4335 2488L4395 2633L4455 2760L4515 2871L4575 2966L4635 3048L4695 3117L4755 3174L4815 3222L4875 3261L4935 3292L4995 3317L5055 3336L5115 3349L5175 3359L5235 3365L5295 3369L5355 3369L5415 3368L5475 3365L5535 3360L5596 3355L5656 3348L5716 3341L5776 3333L5836 3325L5896 3316"/>
</g>
<path d="M109.4 53.2 L109.4 416.2 L457.3 597.9 L1057.5 493.0 M109.4 416.2 L96.1 409.3 M109.4 360.1 L96.1 353.2 M109.4 304.0 L96.1 297.1 M109.4 247.9 L96.1 241.0 M109.4 191.8 L96.1 184.9 M109.4 135.7 L96.1 128.8 M109.4 79.6 L96.1 72.7 M137.8 431.0 L124.5 433.4 M212.7 470.2 L199.4 472.5 M287.7 509.3 L274.4 511.6 M362.6 548.4 L349.3 550.8 M437.5 587.6 L424.2 589.9 M520.4 586.9 L532.4 593.1 M601.8 572.6 L613.8 578.9 M683.2 558.4 L695.2 564.7 M764.7 544.2 L776.6 550.4 M846.1 530.0 L858.0 536.2 M927.5 515.7 L939.4 522.0 M1008.9 501.5 L1020.9 507.7" fill="none" stroke="#4d4d4d" stroke-width="1.5"/>
<g font-family="Liberation Sans, Arial, sans-serif" font-size="23" fill="#2b2b2b" stroke="#2b2b2b" stroke-width=".45">
<text x="89.3" y="416.0" text-anchor="end">0</text>
<text x="89.3" y="359.9" text-anchor="end">100</text>
<text x="89.3" y="303.8" text-anchor="end">200</text>
<text x="89.3" y="247.7" text-anchor="end">300</text>
<text x="89.3" y="191.6" text-anchor="end">400</text>
<text x="89.3" y="135.5" text-anchor="end">500</text>
<text x="89.3" y="79.4" text-anchor="end">600</text>
<text x="110.0" y="459.8" text-anchor="middle">5</text>
<text x="185.2" y="498.8" text-anchor="middle">6</text>
<text x="260.4" y="537.8" text-anchor="middle">7</text>
<text x="335.6" y="576.8" text-anchor="middle">8</text>
<text x="410.8" y="615.8" text-anchor="middle">9</text>
<text x="637.2" y="607.6" text-anchor="middle">2.5</text>
<text x="706.9" y="593.3" text-anchor="middle">3</text>
<text x="800.5" y="578.9" text-anchor="middle">3.5</text>
<text x="870.2" y="564.6" text-anchor="middle">4</text>
<text x="963.9" y="550.2" text-anchor="middle">4.5</text>
<text x="1033.5" y="535.9" text-anchor="middle">5</text>
</g>
<g font-family="Liberation Sans, Arial, sans-serif" font-size="24.8" fill="#2b2b2b" stroke="#2b2b2b" stroke-width=".45">
<text transform="translate(37.8,236) rotate(-90)" text-anchor="middle"># Elements</text>
<text x="52.5" y="578.8">ln(Fibre Length [<tspan font-family="Liberation Serif, serif" font-style="italic" stroke="none" fill="#444">μ</tspan>m])</text>
<text x="739.5" y="602.3">ln(Fibre Width [<tspan font-family="Liberation Serif, serif" font-style="italic" stroke="none" fill="#444">μ</tspan>m])</text>
</g>
</svg>
</body></html>
